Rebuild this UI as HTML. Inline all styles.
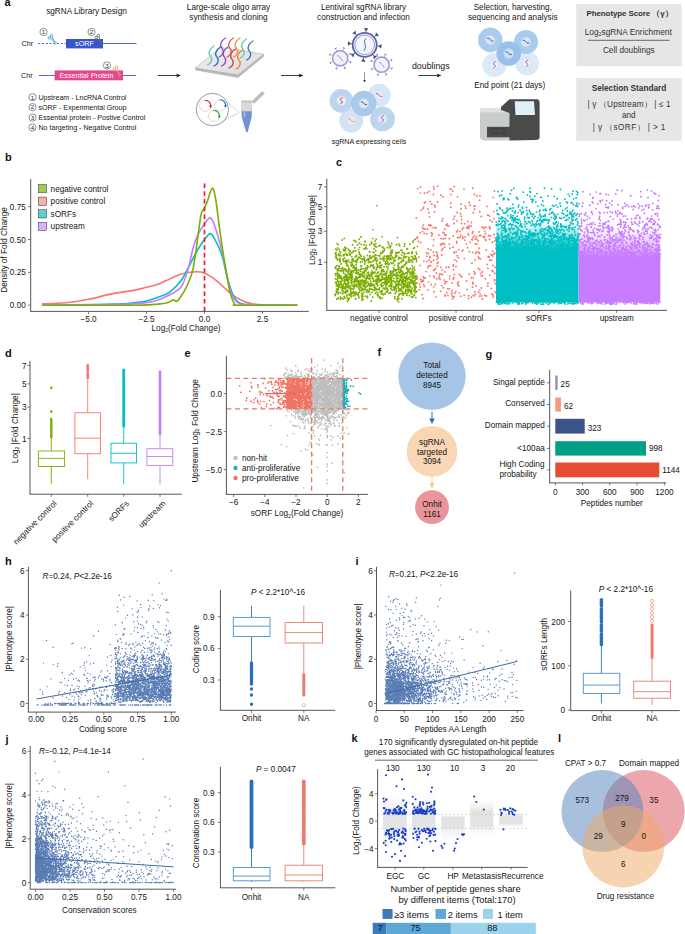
<!DOCTYPE html>
<html><head><meta charset="utf-8"><style>
html,body{margin:0;padding:0;background:#fff;width:685px;height:934px;overflow:hidden}
svg{display:block}
text{font-family:"Liberation Sans", sans-serif}
</style></head><body>
<svg width="685" height="934" viewBox="0 0 685 934">
<rect width="685" height="934" fill="#fff"/>
<text x="4.5" y="5.8" font-size="11" font-weight="bold" fill="#111">a</text>
<text x="86.5" y="14.0" font-size="8.2" text-anchor="middle" fill="#151515" >sgRNA Library Design</text>
<text x="21.5" y="45.6" font-size="7.2" text-anchor="start" fill="#151515" >Chr</text>
<line x1="38.0" y1="43.5" x2="66.0" y2="43.5" stroke="#3a5bd6" stroke-width="0.9" stroke-dasharray="2.2,1.6"/>
<rect x="66.0" y="39.0" width="37.0" height="9.4" fill="#3a55c9" stroke="none" stroke-width="0.8" />
<text x="84.5" y="46.2" font-size="7.2" text-anchor="middle" fill="#fff" >sORF</text>
<line x1="103.0" y1="43.5" x2="136.5" y2="43.5" stroke="#3a5bd6" stroke-width="0.9" />
<circle cx="43.5" cy="32.0" r="3.60" fill="none" stroke="#333" stroke-width="0.55" />
<text x="43.5" y="34.3" font-size="6.2" text-anchor="middle" fill="#222" >1</text>
<circle cx="91.5" cy="32.0" r="3.60" fill="none" stroke="#333" stroke-width="0.55" />
<text x="91.5" y="34.3" font-size="6.2" text-anchor="middle" fill="#222" >2</text>
<g transform="translate(53,39.5) rotate(-10) scale(1.0)" stroke="#3aa0d0" fill="none" stroke-width="0.8"><circle cx="-3.2" cy="-2.2" r="1.3"/><circle cx="-0.8" cy="-4" r="1.3"/><line x1="-2.2" y1="-1.3" x2="3.5" y2="4.5"/><line x1="-0.2" y1="-2.9" x2="1.2" y2="5.5"/></g>
<g transform="translate(99.5,39.5) rotate(-5) scale(1.0)" stroke="#666" fill="none" stroke-width="0.8"><circle cx="-3.2" cy="-2.2" r="1.3"/><circle cx="-0.8" cy="-4" r="1.3"/><line x1="-2.2" y1="-1.3" x2="3.5" y2="4.5"/><line x1="-0.2" y1="-2.9" x2="1.2" y2="5.5"/></g>
<text x="21.0" y="78.0" font-size="7.2" text-anchor="start" fill="#151515" >Chr</text>
<line x1="39.0" y1="75.5" x2="136.0" y2="75.5" stroke="#3a5bd6" stroke-width="0.9" />
<rect x="54.6" y="70.4" width="68.4" height="9.9" fill="#e2488c" stroke="none" stroke-width="0.8" />
<text x="86.5" y="78.2" font-size="7.2" text-anchor="middle" fill="#fff" >Essential Protein</text>
<circle cx="107.0" cy="65.5" r="3.60" fill="none" stroke="#333" stroke-width="0.55" />
<text x="107.0" y="67.8" font-size="6.2" text-anchor="middle" fill="#222" >3</text>
<g transform="translate(117.5,71) rotate(-5) scale(1.0)" stroke="#f0a070" fill="none" stroke-width="0.8"><circle cx="-3.2" cy="-2.2" r="1.3"/><circle cx="-0.8" cy="-4" r="1.3"/><line x1="-2.2" y1="-1.3" x2="3.5" y2="4.5"/><line x1="-0.2" y1="-2.9" x2="1.2" y2="5.5"/></g>
<circle cx="32.5" cy="97.2" r="3.60" fill="none" stroke="#333" stroke-width="0.55" />
<text x="32.5" y="99.5" font-size="6.2" text-anchor="middle" fill="#222" >1</text>
<text x="38.5" y="99.8" font-size="7.1" text-anchor="start" fill="#151515" >Upstream - LncRNA Control</text>
<circle cx="32.5" cy="107.1" r="3.60" fill="none" stroke="#333" stroke-width="0.55" />
<text x="32.5" y="109.4" font-size="6.2" text-anchor="middle" fill="#222" >2</text>
<text x="38.5" y="109.7" font-size="7.1" text-anchor="start" fill="#151515" >sORF - Experimental Group</text>
<circle cx="32.5" cy="117.6" r="3.60" fill="none" stroke="#333" stroke-width="0.55" />
<text x="32.5" y="119.9" font-size="6.2" text-anchor="middle" fill="#222" >3</text>
<text x="38.5" y="120.2" font-size="7.1" text-anchor="start" fill="#151515" >Essential protein - Postive Control</text>
<circle cx="32.5" cy="127.5" r="3.60" fill="none" stroke="#333" stroke-width="0.55" />
<text x="32.5" y="129.8" font-size="6.2" text-anchor="middle" fill="#222" >4</text>
<text x="38.5" y="130.1" font-size="7.1" text-anchor="start" fill="#151515" >No targeting - Negative Control</text>
<line x1="157.7" y1="75.5" x2="178.0" y2="75.5" stroke="#222" stroke-width="0.9" />
<path d="M181 75.5 L176.2 73.5 L177.2 75.5 L176.2 77.5 Z" fill="#222" stroke="none" stroke-width="0.8" />
<line x1="281.0" y1="75.5" x2="300.5" y2="75.5" stroke="#222" stroke-width="0.9" />
<path d="M303.5 75.5 L298.7 73.5 L299.7 75.5 L298.7 77.5 Z" fill="#222" stroke="none" stroke-width="0.8" />
<line x1="418.5" y1="75.5" x2="438.5" y2="75.5" stroke="#222" stroke-width="0.9" />
<path d="M441.5 75.5 L436.7 73.5 L437.7 75.5 L436.7 77.5 Z" fill="#222" stroke="none" stroke-width="0.8" />
<text x="228.5" y="10.0" font-size="8.2" text-anchor="middle" fill="#151515" >Large-scale oligo array</text>
<text x="228.5" y="19.9" font-size="8.2" text-anchor="middle" fill="#151515" >synthesis and cloning</text>
<text x="363.5" y="10.0" font-size="8.2" text-anchor="middle" fill="#151515" >Lentiviral sgRNA library</text>
<text x="363.5" y="19.9" font-size="8.2" text-anchor="middle" fill="#151515" >construction and infection</text>
<text x="512.8" y="10.2" font-size="8.2" text-anchor="middle" fill="#151515" >Selection, harvesting,</text>
<text x="512.8" y="19.8" font-size="8.2" text-anchor="middle" fill="#151515" >sequencing and analysis</text>
<text x="430.8" y="69.0" font-size="8.8" text-anchor="middle" fill="#151515" >doublings</text>
<text x="509.7" y="87.8" font-size="8.2" text-anchor="middle" fill="#151515" >End point (21 days)</text>
<text x="369.0" y="143.6" font-size="7.1" text-anchor="middle" fill="#151515" >sgRNA expressing cells</text>
<defs><linearGradient id="slg" x1="0" y1="0" x2="1" y2="1"><stop offset="0" stop-color="#f4f4f4"/><stop offset="1" stop-color="#d8d8d8"/></linearGradient></defs>
<path d="M195.5 68 L238 75 L263.6 54.3 L263.6 56.5 L238 77.5 L195.5 70 Z" fill="#bcbcbc" stroke="#999" stroke-width="0.4" />
<path d="M195.5 68 L221 47.4 L263.6 54.3 L238 75 Z" fill="url(#slg)" stroke="#9a9a9a" stroke-width="0.5" />
<path d="M207.5 65 C212.5 63 212.5 58 210.0 55.5 S210.5 48 214.0 46" fill="none" stroke="#6cc6b8" stroke-width="1.3" stroke-linecap="round"/>
<path d="M219 57 C224 55 224 50 221.5 47.5 S222 40 225.5 38" fill="none" stroke="#8a55c8" stroke-width="1.3" stroke-linecap="round"/>
<path d="M227 57 C232 55 232 50 229.5 47.5 S230 40 233.5 38" fill="none" stroke="#e0605a" stroke-width="1.3" stroke-linecap="round"/>
<path d="M233.5 57 C238.5 55 238.5 50 236.0 47.5 S236.5 40 240.0 38" fill="none" stroke="#f0904a" stroke-width="1.3" stroke-linecap="round"/>
<path d="M240 58 C245 56 245 51 242.5 48.5 S243 41 246.5 39" fill="none" stroke="#6cc6b8" stroke-width="1.3" stroke-linecap="round"/>
<path d="M246.5 60 C251.5 58 251.5 53 249.0 50.5 S249.5 43 253.0 41" fill="none" stroke="#3a78c8" stroke-width="1.3" stroke-linecap="round"/>
<path d="M214 66 C219 64 219 59 216.5 56.5 S217 49 220.5 47" fill="none" stroke="#2a6cc0" stroke-width="1.3" stroke-linecap="round"/>
<path d="M221.5 66 C226.5 64 226.5 59 224.0 56.5 S224.5 49 228.0 47" fill="none" stroke="#8a4cc0" stroke-width="1.3" stroke-linecap="round"/>
<path d="M229 68 C234 66 234 61 231.5 58.5 S232 51 235.5 49" fill="none" stroke="#d84040" stroke-width="1.3" stroke-linecap="round"/>
<path d="M236 69 C241 67 241 62 238.5 59.5 S239 52 242.5 50" fill="none" stroke="#f08038" stroke-width="1.3" stroke-linecap="round"/>
<circle cx="212.4" cy="109.5" r="16.20" fill="#fff" stroke="#555" stroke-width="0.6" />
<circle cx="205.2" cy="105.8" r="5.60" fill="#fff" stroke="#999" stroke-width="0.35" />
<path d="M204.7 100.2 A5.6 5.6 0 0 1 210.7 106.6" fill="none" stroke="#d02828" stroke-width="1.1" />
<path d="M208.89999999999998 105.6 L212.2 105.6 L210.6 108.2 Z" fill="#d02828" stroke="none" stroke-width="0.8" />
<circle cx="220.1" cy="105.4" r="5.60" fill="#fff" stroke="#999" stroke-width="0.35" />
<path d="M219.6 99.80000000000001 A5.6 5.6 0 0 1 225.6 106.2" fill="none" stroke="#2a70c0" stroke-width="1.1" />
<path d="M223.79999999999998 105.2 L227.1 105.2 L225.5 107.80000000000001 Z" fill="#2a70c0" stroke="none" stroke-width="0.8" />
<circle cx="213.9" cy="116.0" r="5.60" fill="#fff" stroke="#999" stroke-width="0.35" />
<path d="M213.4 110.4 A5.6 5.6 0 0 1 219.4 116.8" fill="none" stroke="#30a838" stroke-width="1.1" />
<path d="M217.6 115.8 L220.9 115.8 L219.3 118.4 Z" fill="#30a838" stroke="none" stroke-width="0.8" />
<line x1="227.4" y1="102.5" x2="239.5" y2="112.4" stroke="#555" stroke-width="0.45" stroke-dasharray="1.2,1"/>
<line x1="223.9" y1="120.5" x2="239.5" y2="112.4" stroke="#555" stroke-width="0.45" stroke-dasharray="1.2,1"/>
<path d="M252 101.5 L262 91.5 L264.5 93.5 L254 103.5 Z" fill="#bdbdbd" stroke="#9a9a9a" stroke-width="0.3" />
<rect x="241.4" y="100.8" width="10.5" height="10.5" fill="#d9d9d9" stroke="#c0c0c0" stroke-width="0.3" />
<rect x="241.4" y="100.8" width="10.5" height="1.6" fill="#c4c4c4" stroke="none" stroke-width="0.8" />
<path d="M241.4 111.3 L251.9 111.3 L251.6 117.5 L247.6 132.3 L246.2 132.3 L241.8 117.5 Z" fill="#7193cf" stroke="none" stroke-width="0.8" />
<rect x="243.5" y="111.3" width="2.0" height="6.0" fill="#9db5e0" stroke="none" stroke-width="0.8" />
<line x1="365.8" y1="32.4" x2="366.1" y2="28.5" stroke="#34507a" stroke-width="0.8" />
<path d="M364.25 28.30 L368.03 28.63 L365.93 30.85 Z" fill="#34507a" stroke="#34507a" stroke-width="0.5" stroke-linejoin="round"/>
<line x1="374.3" y1="36.9" x2="377.3" y2="34.3" stroke="#34507a" stroke-width="0.8" />
<path d="M376.12 32.84 L378.56 35.75 L375.50 35.84 Z" fill="#34507a" stroke="#34507a" stroke-width="0.5" stroke-linejoin="round"/>
<line x1="377.2" y1="46.0" x2="381.1" y2="46.3" stroke="#34507a" stroke-width="0.8" />
<path d="M381.30 44.45 L380.97 48.23 L378.75 46.13 Z" fill="#34507a" stroke="#34507a" stroke-width="0.5" stroke-linejoin="round"/>
<line x1="372.7" y1="54.5" x2="375.3" y2="57.5" stroke="#34507a" stroke-width="0.8" />
<path d="M376.76 56.32 L373.85 58.76 L373.76 55.70 Z" fill="#34507a" stroke="#34507a" stroke-width="0.5" stroke-linejoin="round"/>
<line x1="363.6" y1="57.4" x2="363.3" y2="61.3" stroke="#34507a" stroke-width="0.8" />
<path d="M365.15 61.50 L361.37 61.17 L363.47 58.95 Z" fill="#34507a" stroke="#34507a" stroke-width="0.5" stroke-linejoin="round"/>
<line x1="355.1" y1="52.9" x2="352.1" y2="55.5" stroke="#34507a" stroke-width="0.8" />
<path d="M353.28 56.96 L350.84 54.05 L353.90 53.96 Z" fill="#34507a" stroke="#34507a" stroke-width="0.5" stroke-linejoin="round"/>
<line x1="352.2" y1="43.8" x2="348.3" y2="43.5" stroke="#34507a" stroke-width="0.8" />
<path d="M348.10 45.35 L348.43 41.57 L350.65 43.67 Z" fill="#34507a" stroke="#34507a" stroke-width="0.5" stroke-linejoin="round"/>
<line x1="356.7" y1="35.3" x2="354.1" y2="32.3" stroke="#34507a" stroke-width="0.8" />
<path d="M352.64 33.48 L355.55 31.04 L355.64 34.10 Z" fill="#34507a" stroke="#34507a" stroke-width="0.5" stroke-linejoin="round"/>
<circle cx="364.7" cy="44.9" r="12.00" fill="#f5f7fc" stroke="#5a64ac" stroke-width="1.8" />
<circle cx="364.7" cy="44.9" r="9.80" fill="none" stroke="#5a64ac" stroke-width="0.6" />
<path d="M366.2 38.4 C361.7 40.9 368.2 45.9 363.7 50.9" fill="none" stroke="#2f6fc0" stroke-width="1.0" />
<line x1="342.9" y1="50.8" x2="344.0" y2="48.0" stroke="#6a78a8" stroke-width="0.5" />
<line x1="343.0" y1="47.6" x2="344.9" y2="48.3" stroke="#4a5a88" stroke-width="0.8" />
<line x1="347.5" y1="54.9" x2="350.2" y2="53.7" stroke="#6a78a8" stroke-width="0.5" />
<line x1="349.7" y1="52.7" x2="350.6" y2="54.6" stroke="#4a5a88" stroke-width="0.8" />
<line x1="347.7" y1="61.0" x2="350.5" y2="62.1" stroke="#6a78a8" stroke-width="0.5" />
<line x1="350.9" y1="61.1" x2="350.2" y2="63.0" stroke="#4a5a88" stroke-width="0.8" />
<line x1="343.6" y1="65.6" x2="344.8" y2="68.3" stroke="#6a78a8" stroke-width="0.5" />
<line x1="345.8" y1="67.8" x2="343.9" y2="68.7" stroke="#4a5a88" stroke-width="0.8" />
<line x1="337.5" y1="65.8" x2="336.4" y2="68.6" stroke="#6a78a8" stroke-width="0.5" />
<line x1="337.4" y1="69.0" x2="335.5" y2="68.3" stroke="#4a5a88" stroke-width="0.8" />
<line x1="332.9" y1="61.7" x2="330.2" y2="62.9" stroke="#6a78a8" stroke-width="0.5" />
<line x1="330.7" y1="63.9" x2="329.8" y2="62.0" stroke="#4a5a88" stroke-width="0.8" />
<line x1="332.7" y1="55.6" x2="329.9" y2="54.5" stroke="#6a78a8" stroke-width="0.5" />
<line x1="329.5" y1="55.5" x2="330.2" y2="53.6" stroke="#4a5a88" stroke-width="0.8" />
<line x1="336.8" y1="51.0" x2="335.6" y2="48.3" stroke="#6a78a8" stroke-width="0.5" />
<line x1="334.6" y1="48.8" x2="336.5" y2="47.9" stroke="#4a5a88" stroke-width="0.8" />
<circle cx="340.2" cy="58.3" r="7.60" fill="#f2f3fa" stroke="#9aa0d0" stroke-width="1.6" />
<path d="M337.2 55.8 C339.2 55.3 340.2 58.3 341.2 58.8 S342.2 60.3 342.7 61.3" fill="none" stroke="#d05a5a" stroke-width="0.8" />
<line x1="384.3" y1="57.2" x2="385.4" y2="54.4" stroke="#6a78a8" stroke-width="0.5" />
<line x1="384.4" y1="54.0" x2="386.3" y2="54.7" stroke="#4a5a88" stroke-width="0.8" />
<line x1="388.9" y1="61.3" x2="391.6" y2="60.1" stroke="#6a78a8" stroke-width="0.5" />
<line x1="391.1" y1="59.1" x2="392.0" y2="61.0" stroke="#4a5a88" stroke-width="0.8" />
<line x1="389.1" y1="67.4" x2="391.9" y2="68.5" stroke="#6a78a8" stroke-width="0.5" />
<line x1="392.3" y1="67.5" x2="391.6" y2="69.4" stroke="#4a5a88" stroke-width="0.8" />
<line x1="385.0" y1="72.0" x2="386.2" y2="74.7" stroke="#6a78a8" stroke-width="0.5" />
<line x1="387.2" y1="74.2" x2="385.3" y2="75.1" stroke="#4a5a88" stroke-width="0.8" />
<line x1="378.9" y1="72.2" x2="377.8" y2="75.0" stroke="#6a78a8" stroke-width="0.5" />
<line x1="378.8" y1="75.4" x2="376.9" y2="74.7" stroke="#4a5a88" stroke-width="0.8" />
<line x1="374.3" y1="68.1" x2="371.6" y2="69.3" stroke="#6a78a8" stroke-width="0.5" />
<line x1="372.1" y1="70.3" x2="371.2" y2="68.4" stroke="#4a5a88" stroke-width="0.8" />
<line x1="374.1" y1="62.0" x2="371.3" y2="60.9" stroke="#6a78a8" stroke-width="0.5" />
<line x1="370.9" y1="61.9" x2="371.6" y2="60.0" stroke="#4a5a88" stroke-width="0.8" />
<line x1="378.2" y1="57.4" x2="377.0" y2="54.7" stroke="#6a78a8" stroke-width="0.5" />
<line x1="376.0" y1="55.2" x2="377.9" y2="54.3" stroke="#4a5a88" stroke-width="0.8" />
<circle cx="381.6" cy="64.7" r="7.60" fill="#f2f3fa" stroke="#9aa0d0" stroke-width="1.6" />
<path d="M378.6 62.2 C380.6 61.7 381.6 64.7 382.6 65.2 S383.6 66.7 384.1 67.7" fill="none" stroke="#50b0a0" stroke-width="0.8" />
<line x1="364.5" y1="72.0" x2="364.5" y2="81.0" stroke="#333" stroke-width="0.5" />
<path d="M364.5 82.5 L363.2 80 L365.8 80 Z" fill="#333" stroke="none" stroke-width="0.8" />
<circle cx="379.2" cy="95.3" r="11.50" fill="#d8e7f5" stroke="none" stroke-width="0.5" />
<circle cx="379.2" cy="95.3" r="4.90" fill="#e4ecf7" stroke="#c4d2e8" stroke-width="0.45" />
<path d="M376.0 93.8 C377.7 92.8 378.7 94.8 379.2 95.3 S380.7 97.3 382.4 96.1" fill="none" stroke="#8a50b8" stroke-width="0.95" />
<circle cx="351.3" cy="120.5" r="12.00" fill="#d3e3f3" stroke="none" stroke-width="0.5" />
<circle cx="351.3" cy="120.5" r="4.90" fill="#e4ecf7" stroke="#c4d2e8" stroke-width="0.45" />
<path d="M348.1 119.0 C349.8 118.0 350.8 120.0 351.3 120.5 S352.8 122.5 354.5 121.3" fill="none" stroke="#e08a40" stroke-width="0.95" />
<circle cx="341.4" cy="100.8" r="11.90" fill="#bcd5ee" stroke="none" stroke-width="0.5" />
<circle cx="341.4" cy="100.8" r="4.90" fill="#e4ecf7" stroke="#c4d2e8" stroke-width="0.45" />
<path d="M342.59999999999997 97.6 C339.4 98.3 340.4 100.3 341.4 100.8 S343.2 102.8 340.4 104.0" fill="none" stroke="#c83a3a" stroke-width="0.95" />
<circle cx="363.9" cy="103.5" r="12.40" fill="#a9c9ea" stroke="#9dbde0" stroke-width="0.5" />
<circle cx="363.9" cy="103.5" r="4.90" fill="#dbe6f4" stroke="#c4d2e8" stroke-width="0.45" />
<path d="M360.7 102.0 C362.4 101.0 363.4 103.0 363.9 103.5 S365.4 105.5 367.09999999999997 104.3" fill="none" stroke="#2a5a9a" stroke-width="0.95" />
<circle cx="382.5" cy="118.9" r="12.40" fill="#bcd5ee" stroke="none" stroke-width="0.5" />
<circle cx="382.5" cy="118.9" r="4.90" fill="#e4e6f5" stroke="#c4d2e8" stroke-width="0.45" />
<path d="M383.7 115.7 C380.5 116.4 381.5 118.4 382.5 118.9 S384.3 120.9 381.5 122.10000000000001" fill="none" stroke="#8a50b8" stroke-width="0.95" />
<circle cx="494.4" cy="65.0" r="12.00" fill="#dce9f6" stroke="none" stroke-width="0.5" />
<circle cx="494.4" cy="65.0" r="4.90" fill="#e9eef8" stroke="#c4d2e8" stroke-width="0.45" />
<path d="M495.59999999999997 61.8 C492.4 62.5 493.4 64.5 494.4 65 S496.2 67 493.4 68.2" fill="none" stroke="#8a50b8" stroke-width="0.95" />
<circle cx="527.0" cy="63.4" r="12.00" fill="#dce9f6" stroke="none" stroke-width="0.5" />
<circle cx="527.0" cy="63.4" r="4.90" fill="#e9eef8" stroke="#c4d2e8" stroke-width="0.45" />
<path d="M528.2 60.199999999999996 C525 60.9 526 62.9 527 63.4 S528.8 65.4 526 66.6" fill="none" stroke="#8a50b8" stroke-width="0.95" />
<circle cx="490.3" cy="39.9" r="12.30" fill="#a9cbee" stroke="none" stroke-width="0.5" />
<circle cx="490.3" cy="39.9" r="4.90" fill="#d6e4f5" stroke="#c4d2e8" stroke-width="0.45" />
<path d="M487.1 38.4 C488.8 37.4 489.8 39.4 490.3 39.9 S491.8 41.9 493.5 40.699999999999996" fill="none" stroke="#2a5a9a" stroke-width="0.95" />
<circle cx="526.0" cy="41.9" r="12.00" fill="#a9cbee" stroke="none" stroke-width="0.5" />
<circle cx="526.0" cy="41.9" r="4.90" fill="#d6e4f5" stroke="#c4d2e8" stroke-width="0.45" />
<path d="M522.8 40.4 C524.5 39.4 525.5 41.4 526 41.9 S527.5 43.9 529.2 42.699999999999996" fill="none" stroke="#2a5a9a" stroke-width="0.95" />
<circle cx="508.7" cy="53.5" r="12.30" fill="#99c0ea" stroke="none" stroke-width="0.5" />
<circle cx="508.7" cy="53.5" r="4.90" fill="#d0e0f3" stroke="#c4d2e8" stroke-width="0.45" />
<path d="M505.5 52.0 C507.2 51.0 508.2 53.0 508.7 53.5 S510.2 55.5 511.9 54.3" fill="none" stroke="#2a5a9a" stroke-width="0.95" />
<path d="M480 110 L483 108.4 L509.4 108.4 L509.4 140.6 L483 140.6 L480 138 Z" fill="#c9cccd" stroke="none" stroke-width="0.8" />
<rect x="480.0" y="108.4" width="29.4" height="4.0" fill="#dfe1e1" stroke="none" stroke-width="0.8" />
<path d="M501 107 L509.4 99.2 L537 99.2 Q539.6 99.5 539.6 103 L539.6 138 Q539 140 536 140 L509.4 140.6 L509.4 113 L501 110 Z" fill="#4a4a4a" stroke="none" stroke-width="0.8" />
<path d="M514.7 101.2 L534 101.2 L535 115 L515.5 115 Z" fill="#dff0f8" stroke="none" stroke-width="0.8" />
<rect x="487.0" y="126.8" width="26.4" height="10.5" fill="#4a4a4a" stroke="none" stroke-width="0.8" />
<rect x="492.0" y="128.5" width="12.0" height="5.0" fill="none" stroke="#333" stroke-width="0.5" />
<rect x="576.2" y="4.2" width="105.4" height="62.1" fill="#e6e6e6" stroke="none" stroke-width="0.8" />
<text x="586.5" y="16.3" font-size="8" font-weight="bold" fill="#333" textLength="86" lengthAdjust="spacing">Phenotype Score （γ）</text>
<text x="628.2" y="34.9" font-size="8.3" text-anchor="middle" fill="#333">Log<tspan font-size="5.5" dy="1">2</tspan><tspan dy="-1">sgRNA Enrichment</tspan></text>
<line x1="588.0" y1="40.3" x2="669.5" y2="40.3" stroke="#444" stroke-width="0.8" />
<text x="628.8" y="52.5" font-size="8.25" text-anchor="middle" fill="#333" >Cell doublings</text>
<rect x="576.2" y="78.0" width="105.4" height="62.7" fill="#e6e6e6" stroke="none" stroke-width="0.8" />
<text x="629.0" y="90.6" font-size="8.25" text-anchor="middle" fill="#333" font-weight="bold" >Selection Standard</text>
<text x="587.6" y="107" font-size="8.2" fill="#333" textLength="83" lengthAdjust="spacing">| γ （Upstream） | ≤ 1</text>
<text x="628.8" y="118.0" font-size="8.2" text-anchor="middle" fill="#333" >and</text>
<text x="592.7" y="129.7" font-size="8.2" fill="#333" textLength="72.7" lengthAdjust="spacing">| γ （sORF） | > 1</text>
<text x="5" y="161" font-size="11" font-weight="bold" fill="#111">b</text>
<line x1="30.7" y1="179.0" x2="30.7" y2="311.4" stroke="#444" stroke-width="0.9" />
<line x1="30.2" y1="311.4" x2="308.8" y2="311.4" stroke="#444" stroke-width="0.9" />
<line x1="28.0" y1="206.7" x2="30.7" y2="206.7" stroke="#444" stroke-width="0.7" />
<text x="25.8" y="209.7" font-size="8.2" text-anchor="end" fill="#151515" >0.75</text>
<line x1="28.0" y1="239.5" x2="30.7" y2="239.5" stroke="#444" stroke-width="0.7" />
<text x="25.8" y="242.5" font-size="8.2" text-anchor="end" fill="#151515" >0.50</text>
<line x1="28.0" y1="272.4" x2="30.7" y2="272.4" stroke="#444" stroke-width="0.7" />
<text x="25.8" y="275.3" font-size="8.2" text-anchor="end" fill="#151515" >0.25</text>
<line x1="28.0" y1="305.2" x2="30.7" y2="305.2" stroke="#444" stroke-width="0.7" />
<text x="25.8" y="308.2" font-size="8.2" text-anchor="end" fill="#151515" >0.00</text>
<line x1="88.5" y1="311.4" x2="88.5" y2="314.0" stroke="#444" stroke-width="0.7" />
<text x="88.5" y="322.2" font-size="8.2" text-anchor="middle" fill="#151515" >−5.0</text>
<line x1="146.5" y1="311.4" x2="146.5" y2="314.0" stroke="#444" stroke-width="0.7" />
<text x="146.5" y="322.2" font-size="8.2" text-anchor="middle" fill="#151515" >−2.5</text>
<line x1="204.5" y1="311.4" x2="204.5" y2="314.0" stroke="#444" stroke-width="0.7" />
<text x="204.5" y="322.2" font-size="8.2" text-anchor="middle" fill="#151515" >0.0</text>
<line x1="262.5" y1="311.4" x2="262.5" y2="314.0" stroke="#444" stroke-width="0.7" />
<text x="262.5" y="322.2" font-size="8.2" text-anchor="middle" fill="#151515" >2.5</text>
<text x="186.0" y="331.1" font-size="8.2" text-anchor="middle" fill="#151515">Log<tspan font-size="5.1" dy="1.2">2</tspan><tspan dy="-1.2">(Fold Change)</tspan></text>
<text transform="translate(6.5,250.0) rotate(-90)" x="0" y="0" font-size="8.2" text-anchor="middle" fill="#151515">Density of Fold Change</text>
<path d="M42.1 303.9C46.0 303.7 57.6 303.6 65.3 302.8C73.0 302.1 80.8 300.8 88.5 299.3C96.2 297.8 104.0 295.4 111.7 293.9C119.4 292.4 129.1 291.2 134.9 290.1C140.7 289.0 142.6 288.3 146.5 287.3C150.4 286.4 154.2 285.6 158.1 284.2C162.0 282.8 165.8 280.6 169.7 278.9C173.6 277.2 177.0 275.2 181.3 274.0C185.6 272.7 191.4 271.9 195.2 271.7C199.1 271.6 201.0 271.6 204.5 273.0C208.0 274.5 212.2 277.3 216.1 280.3C220.0 283.2 223.8 287.6 227.7 290.8C231.6 293.9 235.4 297.1 239.3 299.3C243.2 301.4 247.0 302.7 250.9 303.6C254.8 304.5 254.8 304.5 262.5 304.8C270.2 305.1 291.5 305.1 297.3 305.2" fill="none" stroke="#f8766d" stroke-width="1.6" />
<path d="M42.1 305.2C53.7 305.0 96.2 304.6 111.7 304.1C127.2 303.7 129.1 303.1 134.9 302.6C140.7 302.0 142.6 301.9 146.5 301.0C150.4 300.1 154.2 298.8 158.1 297.3C162.0 295.8 165.8 294.9 169.7 292.1C173.6 289.2 177.8 285.1 181.3 280.3C184.8 275.4 187.9 268.2 190.6 263.2C193.3 258.2 195.2 254.0 197.5 250.1C199.9 246.1 202.4 242.3 204.5 239.5C206.6 236.8 208.6 233.6 210.3 233.6C212.0 233.6 213.0 235.9 214.9 239.5C216.9 243.2 219.8 248.7 221.9 255.3C224.0 261.9 225.8 272.2 227.7 278.9C229.6 285.7 231.6 292.1 233.5 296.0C235.4 299.9 236.4 301.1 239.3 302.6C242.2 304.0 241.2 304.2 250.9 304.7C260.6 305.1 289.6 305.1 297.3 305.2" fill="none" stroke="#00bfc4" stroke-width="1.6" />
<path d="M42.1 305.2C53.7 305.1 96.2 304.9 111.7 304.7C127.2 304.4 129.1 304.0 134.9 303.6C140.7 303.3 142.6 303.2 146.5 302.6C150.4 302.0 154.2 301.3 158.1 299.9C162.0 298.6 165.8 296.9 169.7 294.7C173.6 292.5 178.2 291.2 181.3 286.8C184.4 282.4 186.3 274.8 188.3 268.4C190.2 262.1 191.4 254.2 192.9 248.7C194.4 243.3 195.6 239.8 197.5 235.6C199.5 231.5 202.4 226.7 204.5 223.8C206.6 220.8 208.6 217.4 210.3 217.9C212.0 218.3 213.0 220.8 214.9 226.4C216.9 232.0 219.8 242.6 221.9 251.4C224.0 260.1 226.0 271.5 227.7 278.9C229.4 286.4 230.4 291.9 232.3 296.0C234.3 300.1 236.2 302.1 239.3 303.6C242.4 305.1 241.2 304.7 250.9 304.9C260.6 305.2 289.6 305.2 297.3 305.2" fill="none" stroke="#c77cff" stroke-width="1.6" />
<path d="M42.1 305.2C57.6 305.2 115.6 305.4 134.9 305.2C154.2 305.0 152.7 304.5 158.1 304.1C163.5 303.8 164.9 303.5 167.4 302.8C169.9 302.1 171.6 300.2 173.2 299.9C174.7 299.7 175.3 301.9 176.7 301.3C178.0 300.6 179.6 298.6 181.3 296.0C183.0 293.4 185.2 289.9 187.1 285.5C189.0 281.1 191.2 277.4 192.9 269.7C194.6 262.1 196.2 248.7 197.5 239.5C198.9 230.4 199.9 219.9 201.0 214.6C202.2 209.4 203.5 210.2 204.5 208.0C205.5 205.8 206.0 204.8 207.3 201.5C208.6 198.2 210.8 189.0 212.2 188.3C213.5 187.7 214.2 191.2 215.4 197.5C216.6 203.9 218.1 217.2 219.3 226.4C220.6 235.6 221.8 244.4 223.1 252.7C224.3 261.0 225.8 269.7 227.0 276.3C228.2 282.9 228.8 287.6 230.0 292.1C231.2 296.6 232.6 301.0 234.2 303.2C235.7 305.4 228.8 304.9 239.3 305.2C249.8 305.5 287.6 305.2 297.3 305.2" fill="none" stroke="#7cae00" stroke-width="1.6" />
<line x1="204.5" y1="183.6" x2="204.5" y2="311.0" stroke="#e8202a" stroke-width="1.7" stroke-dasharray="4.5,3.2"/>
<rect x="38.3" y="184.5" width="8.3" height="8.3" fill="#a3c85a" stroke="#333" stroke-width="0.5" />
<text x="50.6" y="191.6" font-size="8.2" text-anchor="start" fill="#151515" >negative control</text>
<rect x="38.3" y="197.1" width="8.3" height="8.3" fill="#f8b0aa" stroke="#333" stroke-width="0.5" />
<text x="50.6" y="204.2" font-size="8.2" text-anchor="start" fill="#151515" >positive control</text>
<rect x="38.3" y="209.7" width="8.3" height="8.3" fill="#5ccfd2" stroke="#333" stroke-width="0.5" />
<text x="50.6" y="216.8" font-size="8.2" text-anchor="start" fill="#151515" >sORFs</text>
<rect x="38.3" y="222.3" width="8.3" height="8.3" fill="#dcb0fc" stroke="#333" stroke-width="0.5" />
<text x="50.6" y="229.4" font-size="8.2" text-anchor="start" fill="#151515" >upstream</text>
<text x="336" y="166" font-size="11" font-weight="bold" fill="#111">c</text>
<line x1="326.8" y1="178.7" x2="326.8" y2="310.4" stroke="#444" stroke-width="0.9" />
<line x1="326.3" y1="310.4" x2="667.0" y2="310.4" stroke="#444" stroke-width="0.9" />
<line x1="324.0" y1="186.9" x2="326.8" y2="186.9" stroke="#444" stroke-width="0.7" />
<text x="322.3" y="189.9" font-size="8.2" text-anchor="end" fill="#151515" >7</text>
<line x1="324.0" y1="206.7" x2="326.8" y2="206.7" stroke="#444" stroke-width="0.7" />
<text x="322.3" y="209.7" font-size="8.2" text-anchor="end" fill="#151515" >5</text>
<line x1="324.0" y1="231.3" x2="326.8" y2="231.3" stroke="#444" stroke-width="0.7" />
<text x="322.3" y="234.3" font-size="8.2" text-anchor="end" fill="#151515" >3</text>
<line x1="324.0" y1="262.3" x2="326.8" y2="262.3" stroke="#444" stroke-width="0.7" />
<text x="322.3" y="265.3" font-size="8.2" text-anchor="end" fill="#151515" >1</text>
<text transform="translate(314.5,230.0) rotate(-90)" font-size="8.2" text-anchor="middle" fill="#151515">Log<tspan font-size="5.1" dy="1.2">2</tspan><tspan dy="-1.2"> |Fold Change|</tspan></text>
<line x1="379.0" y1="310.4" x2="379.0" y2="313.0" stroke="#444" stroke-width="0.7" />
<text x="379.0" y="321.2" font-size="8.2" text-anchor="middle" fill="#151515" >negative control</text>
<line x1="456.0" y1="310.4" x2="456.0" y2="313.0" stroke="#444" stroke-width="0.7" />
<text x="456.0" y="321.2" font-size="8.2" text-anchor="middle" fill="#151515" >positive control</text>
<line x1="538.8" y1="310.4" x2="538.8" y2="313.0" stroke="#444" stroke-width="0.7" />
<text x="538.8" y="321.2" font-size="8.2" text-anchor="middle" fill="#151515" >sORFs</text>
<line x1="616.7" y1="310.4" x2="616.7" y2="313.0" stroke="#444" stroke-width="0.7" />
<text x="616.7" y="321.2" font-size="8.2" text-anchor="middle" fill="#151515" >upstream</text>
<path d="M361.7 284h0M341.1 276.4h0M339.9 261.2h0M370.7 265.2h0M369.9 244.8h0M353.5 295.7h0M382.4 298.1h0M339 249.4h0M347 274.6h0M402 282.3h0M387.5 281.4h0M340.3 270.8h0M390.9 274.8h0M383.1 274.3h0M400.2 272.3h0M382.2 291.7h0M394.9 298.5h0M344.9 287.2h0M347.6 261.3h0M389.9 282h0M406.8 285.3h0M383.8 279h0M403.9 253.2h0M389.5 285.5h0M388.1 258.6h0M358.5 284.5h0M337 269.2h0M344.8 287.6h0M345.8 277.2h0M406.5 278.8h0M380.1 258.6h0M405.9 277.9h0M364.5 260.5h0M347.5 271.8h0M354.3 282.4h0M356.7 278h0M365.4 296.1h0M391.7 283.2h0M390.5 292.8h0M399 258.3h0M367.3 265.9h0M387.1 263.6h0M352.3 275.6h0M339.5 268.4h0M343.5 259.9h0M406.7 268.3h0M355.8 276.4h0M345.2 261.4h0M373.3 264.9h0M343.6 273.1h0M403 259.6h0M413 268.2h0M379.6 280.9h0M415.2 256.8h0M356.6 269.1h0M398.3 287.9h0M362.2 289.1h0M415.8 258.4h0M402.1 271.6h0M377.5 260.3h0M337.5 272.9h0M391.8 252.7h0M411.8 260.5h0M365 271.6h0M351.3 283.3h0M408.8 253.3h0M388.6 264.8h0M389.2 258.1h0M396.6 269.7h0M399.8 288.7h0M414.7 277.5h0M412.6 269.3h0M345.6 293.1h0M401.2 289.6h0M415.4 275.9h0M380.1 258.4h0M414.6 280.9h0M411.6 291.5h0M402.8 272.6h0M359.2 282.4h0M356.4 267.4h0M409.6 279.1h0M382.9 252.2h0M410.3 281h0M378 278.6h0M350.2 288.6h0M349.3 286.2h0M380.7 280.7h0M380.6 266.1h0M381 273.5h0M398.4 281.8h0M397.4 252.6h0M385.3 280.5h0M391.9 281h0M374.3 256.9h0M406.9 248.7h0M381 258.9h0M346.4 278.6h0M341.1 264h0M390 292.7h0M347.8 284.3h0M346.9 260.7h0M353.2 251.8h0M375.1 258.8h0M348.4 280.6h0M362.9 274.9h0M394.3 281.6h0M371.2 275.3h0M386.2 263.4h0M415.8 297.6h0M343.8 261.4h0M398.9 267.3h0M369.7 258.6h0M356.4 293.9h0M381.9 265.1h0M339.9 278.2h0M341.1 255.9h0M400.8 290.8h0M340.6 252.8h0M362.9 294.3h0M357.1 280.9h0M354.7 268.9h0M339.3 274.7h0M360.1 273.9h0M376.1 275.8h0M336.7 258.6h0M395.2 270.1h0M374 244.1h0M402.2 280.1h0M403.5 280.4h0M391.5 250.6h0M403.3 283.6h0M368.3 262.6h0M345.8 286.7h0M356.1 264.8h0M404 256.5h0M358.3 274.1h0M372.8 278.7h0M356.7 260.8h0M380 297.1h0M360.5 255.2h0M366.4 280.3h0M351.6 256.6h0M356.8 277.4h0M338.6 274.4h0M354.2 280.9h0M396.6 285.9h0M407.1 275.2h0M415.8 286.2h0M387.8 290h0M408.2 286.5h0M401.6 280.8h0M376.5 258.4h0M402.8 292.5h0M391.1 271.8h0M337.7 276.2h0M343.8 254.7h0M386.6 284.9h0M375.2 288.6h0M396.4 281.1h0M389.1 286.5h0M355.8 273.1h0M394.9 286.6h0M415 276.9h0M374.4 287.5h0M385.7 264.3h0M347.3 286.7h0M360.1 258.1h0M340.2 284.6h0M391.8 274h0M377.5 279.3h0M344.9 247.2h0M415.2 239.3h0M372.7 297.3h0M372 271h0M412.5 282.2h0M346.8 296h0M346 253.8h0M407.7 271.8h0M408.6 259.8h0M335.5 278.9h0M359.9 275.7h0M361.1 237h0M396.6 244.7h0M411 292.9h0M358.9 277.2h0M416.9 276.2h0M370.2 262.1h0M343.5 249.4h0M411.7 273.1h0M377 276.6h0M413.4 258.5h0M386.8 260.2h0M380.1 262.2h0M395.1 287h0M387.9 262.2h0M411 279.5h0M363.3 286.6h0M415.1 284.2h0M359.8 277.3h0M348.9 270.9h0M409.3 271.4h0M409.3 252.8h0M346.6 265.2h0M363.2 272.1h0M356.3 292.2h0M396.5 277.8h0M378.1 275.5h0M340.3 297.2h0M345.5 283.5h0M405.8 273.3h0M355.5 278.7h0M413.2 259.3h0M337 285.7h0M408.5 282.4h0M335.2 294.3h0M402.7 260.8h0M355.5 268.6h0M377.9 295.2h0M394.2 287.4h0M372.6 261.4h0M399.2 293.9h0M388 267.3h0M355.8 285.4h0M344.4 280.8h0M382.9 271.5h0M384.4 274.3h0M372.9 256.1h0M407.5 271.9h0M355.4 257h0M360.3 280.1h0M390.4 272.8h0M389.8 247.9h0M338 278h0M391 288.5h0M395.7 270.8h0M414.5 289.4h0M354.1 287.3h0M359.3 253.6h0M350.5 277.9h0M389.6 245.6h0M367.4 297.8h0M346.8 263.1h0M367.4 259.5h0M395.1 260.1h0M362.1 294.9h0M396.2 284.4h0M366.2 275.3h0M349 273.6h0M363.9 244.8h0M414.1 276.1h0M402.4 252.4h0M339.2 276.6h0M410.4 276.4h0M408.6 277.7h0M401.6 261.5h0M338.1 293.9h0M356.2 292.8h0M362.9 296.4h0M385.7 285.9h0M361.1 256.3h0M397 255.9h0M412.4 271.9h0M374.1 260.5h0M366.8 278.3h0M375.6 246.7h0M400.9 289.5h0M398.4 275.2h0M361.3 288h0M341.7 287.1h0M355.4 260.8h0M380.4 298.5h0M407.5 248.9h0M342.1 280.2h0M393.3 271.9h0M369.3 284.7h0M396.4 256.4h0M345.1 249.5h0M381.6 286.6h0M351.5 272.3h0M347.7 255h0M361.9 300.2h0M376.7 289h0M388.6 244h0M374 290.2h0M410 274.1h0M345 297.7h0M382.9 251.2h0M406 272.9h0M398.8 244.1h0M384 271.3h0M365.4 270.7h0M356.1 284.1h0M351.8 275.2h0M390.7 274.7h0M351.8 281.4h0M340.4 277.3h0M380.2 265.2h0M348.6 277.7h0M358.4 296.1h0M360.8 276.1h0M369.3 261.6h0M365 286.3h0M351.9 292.9h0M369.9 251.9h0M407.4 268.9h0M336.4 283.8h0M409.6 283.3h0M365.5 268.1h0M358.4 294.2h0M344.1 288.8h0M414.3 267.2h0M412.3 253.4h0M339.6 251.6h0M409.2 289.6h0M348.3 271.5h0M368.3 258.7h0M350.2 277.4h0M377.6 267h0M355.4 292.7h0M338.6 287.2h0M338.3 244.6h0M384.2 283.4h0M360.2 282.3h0M370 278.8h0M371.1 283.2h0M375.2 287.4h0M399 269.7h0M373.9 267.3h0M370.4 278.6h0M376.9 283.7h0M341.9 287.9h0M377 280.3h0M366.1 245.2h0M405.3 257.4h0M401.9 298.7h0M375.4 259.9h0M348.7 294.5h0M340.6 287.2h0M348.2 249.1h0M401.9 280.2h0M410.4 273h0M376.6 261.1h0M350.1 294.9h0M390.8 246.3h0M399.4 281h0M387.3 291.6h0M380.6 292h0M343.8 255.8h0M367.5 273.1h0M416.2 276.2h0M397.7 269.6h0M396 289.4h0M355.9 298.9h0M383.1 274.7h0M335.3 268.3h0M385.6 280.5h0M408.5 271.7h0M388.6 255.9h0M364.2 276.1h0M353.5 282.4h0M351.9 279.5h0M346.2 248.3h0M347.4 283.7h0M406.5 277.5h0M356.8 283.9h0M381.2 283.9h0M371.5 257.4h0M355.5 241.2h0M378.7 272.1h0M340 258.1h0M380.3 245.4h0M351.5 280.4h0M387.7 269.5h0M360.5 262.2h0M407.9 285.9h0M335.7 257.6h0M373.3 278.9h0M353.7 271.9h0M338.4 286.9h0M392.1 257.1h0M357 278.5h0M399.7 273.1h0M387.7 247.6h0M407.2 272.9h0M354.5 295.5h0M396.2 291.9h0M362.1 293.2h0M386.8 284.4h0M415.3 290.2h0M392.3 252.5h0M394.5 274.5h0M352.5 264.3h0M409.7 260.1h0M343.9 250.7h0M346.8 261.6h0M391.9 285.3h0M395.5 282.5h0M364.9 289.4h0M408.1 291.3h0M410 244.2h0M352 260.9h0M404.5 283.6h0M402.7 273.9h0M343.4 287.2h0M352 278.1h0M336.9 273.7h0M393.7 275h0M414.1 290.6h0M385.8 277.8h0M370.9 275.8h0M392.8 271.2h0M405.7 289.4h0M349.1 270.6h0M397.5 237.6h0M375.3 288.5h0M350.3 275.8h0M403.2 295.4h0M358.4 285.4h0M376 283.7h0M341.8 285.3h0M399.6 276.1h0M368 292.4h0M342.2 240h0M352.1 292.9h0M376.2 292.1h0M354.3 281h0M396.9 283.9h0M363.7 268.6h0M404.2 286.7h0M349.1 287.7h0M382.6 279.2h0M407.6 270.2h0M359.9 290.3h0M347.8 272.4h0M361.9 268.9h0M362 297.9h0M394.8 296.8h0M343.5 298.9h0M400.2 278.4h0M351.2 266.1h0M352.1 260.8h0M367.8 285.2h0M376.1 279.2h0M346.8 277.6h0M395.8 252.4h0M382.2 278h0M353.9 291.9h0M398.5 290.7h0M390.8 279h0M360.8 265.6h0M369.5 285.8h0M386.7 278.1h0M372.4 277.7h0M390.4 246.7h0M388.7 277.1h0M375.3 240.9h0M379.6 288h0M412.1 265.8h0M382.2 285.9h0M377.1 289.7h0M377.9 295.7h0M352.4 277.2h0M397.6 299h0M364.3 273.4h0M367.9 278h0M369.6 276h0M356.9 286.7h0M412.1 271.3h0M400.8 271.1h0M345.8 289h0M387.1 281.8h0M353.7 250.8h0M387.5 289.2h0M373.5 281.4h0M345.4 250.9h0M404.8 276.7h0M355.9 270h0M335.4 273.6h0M355.2 279.7h0M370.3 284.3h0M364.8 259.1h0M339.9 259.8h0M399.3 289.8h0M387 258h0M413.1 272.5h0M343.5 271.9h0M398.7 268.5h0M409.2 269.2h0M408.1 288h0M389.9 258.2h0M403.8 285.2h0M378.6 278.5h0M407.4 273h0M354.4 280h0M340 268.1h0M375.4 281.2h0M405.8 290.2h0M373.5 284.4h0M404 278h0M413.8 283.7h0M387.2 283h0M391 250.4h0M415.5 279.8h0M408.6 286h0M386.3 291.1h0M365.2 280.9h0M398.2 278.4h0M369.8 289.6h0M359.2 251.9h0M376.4 280.4h0M415 288.4h0M362.3 274.3h0M383.2 288.1h0M338.5 292.2h0M379.8 274.3h0M335.7 294h0M385 288.3h0M409.6 283.1h0M386.5 282.6h0M390.9 284.5h0M372.7 265.8h0M350 287.8h0M410 276.5h0M402.5 281.8h0M356.3 278.1h0M361.3 283.8h0M411.6 281.9h0M338.4 289h0M382.3 252.7h0M336.4 282.5h0M411.9 253.2h0M368.9 283.9h0M352.6 258.6h0M335.6 266.9h0M414.2 291.4h0M345.7 286h0M355 270h0M339.3 285.8h0M405.2 264.8h0M386.6 279.1h0M411.5 296.9h0M393.9 258.5h0M388.4 264.5h0M360.6 269.1h0M405.6 263.1h0M365.3 278.5h0M390.6 288.6h0M364.9 283.5h0M369.4 288.2h0M412.5 281.9h0M359.1 297.8h0M392.7 250.4h0M384.8 258.8h0M384.4 278.2h0M407.8 285h0M384.4 258.4h0M358.4 273h0M369.8 289.2h0M407.8 289.9h0M401.6 254.9h0M357.6 258.4h0M391.2 250.7h0M342.2 288.6h0M351.6 294.6h0M354.3 284.8h0M373.3 272.7h0M396.6 279.1h0M342.4 287.7h0M354.2 292.7h0M407.6 279.6h0M383.4 270.2h0M350 276.3h0M381.4 280.6h0M347.4 301.3h0M365.8 283.6h0M399.6 282.6h0M363.4 259.3h0M337.9 259.2h0M375 272.9h0M398.9 295.6h0M398 296.9h0M356 270.6h0M350 262.4h0M380.8 252.9h0M412.7 242.3h0M384.1 266.8h0M413.7 281.8h0M387.6 256.4h0M367.4 268.8h0M414.2 247.8h0M338.4 276h0M409 258.9h0M339 285.7h0M388.1 241.9h0M347 295.1h0M390.6 282.5h0M397.2 275.1h0M356.2 279.7h0M349 268h0M390.6 285.9h0M351.2 294.4h0M353.2 259.3h0M407.9 278.8h0M343.1 258.9h0M386.6 275.6h0M402.5 283.4h0M346.9 262.8h0M393.6 268.1h0M406.4 277.8h0M347.9 290.2h0M362.6 280h0M361.2 244.4h0M415.3 292.6h0M389.9 279.6h0M358.6 270.6h0M365 261.7h0M410.9 273.9h0M408.5 286.2h0M359.2 239.2h0M401.2 267.9h0M335.4 254.1h0M350.4 293.5h0M353.1 267.8h0M349.9 285.8h0M351.3 265h0M385 273.4h0M352.1 285.7h0M401.6 270.7h0M340.6 277.7h0M394.2 289h0M362.6 259.2h0M375.5 293.4h0M374.2 248.9h0M350.4 251.1h0M348.6 282.6h0M335.6 278.7h0M377.4 285.9h0M402 250.2h0M393.4 287h0M340.2 260.5h0M375.7 281h0M379.2 297.2h0M353.5 265.9h0M355.7 260.4h0M343.1 270.4h0M336.6 282.1h0M378 265.9h0M406.3 261.9h0M345.3 280.2h0M358.1 277.6h0M346.4 291h0M347.2 286.9h0M348.6 260.2h0M367 290.2h0M378.2 295.2h0M398.8 272.2h0M362.6 298.6h0M401 258.6h0M404.5 280.6h0M413.6 248.5h0M369.7 276.4h0M378.6 278.4h0M376.5 267.8h0M414.5 294.9h0M387 292.1h0M407.6 283.8h0M356.9 273.4h0M379.6 255.7h0M355.7 278.4h0M413 274.5h0M388.2 282.6h0M413.4 273.2h0M373.4 268.3h0M345.3 274.1h0M368.5 272.3h0M342.4 290.2h0M385.1 284h0M351.7 279.1h0M380 279.4h0M360.6 271.4h0M377.1 282.4h0M336.2 291.1h0M354.7 280h0M358.5 249.6h0M398.4 263.6h0M406.5 263.2h0M366.9 286.5h0M344.1 296.5h0M395.6 275.5h0M364 283.1h0M404.7 254h0M395.6 287.3h0M374.1 285.7h0M410 291.5h0M335.6 282.4h0M375.9 254.9h0M369.4 291.6h0M384.9 278.9h0M372.7 274h0M367.2 277h0M361.5 290.6h0M376.1 269.9h0M360.1 282.1h0M382.8 293.9h0M361.7 258.9h0M413.6 278.2h0M409.7 262.1h0M381.4 293.9h0M398.5 301.7h0M377.5 285h0M367.1 282.6h0M363.9 256.5h0M378.2 276.7h0M368 282.1h0M407.2 253.4h0M371.2 301h0M363.3 289.2h0M349.2 298.3h0M402.8 266.3h0M408.4 289.4h0M416.2 252.2h0M348 280.5h0M376.5 269.8h0M386.7 276h0M416.5 261.6h0M368.9 274.5h0M391.7 274.4h0M404.1 284.5h0M351.3 281.6h0M357 281h0M416.8 277.7h0M345.1 287.3h0M343.9 269.3h0M377.9 255.6h0M401.2 258.1h0M398.2 285.9h0M364.1 273.1h0M343.3 255.1h0M363.7 277h0M339.7 255.1h0M413.7 283.2h0M355.6 294.6h0M405.1 292.8h0M401.9 282.8h0M413.7 295.8h0M355.1 286h0M353.3 291.7h0M374.8 272.3h0M349.4 270h0M414.7 281.8h0M344.6 277h0M368.2 267h0M402.8 272.3h0M350.8 272h0M338.1 275.6h0M348 265.3h0M357.3 244.9h0M371.5 258.4h0M348.2 286.1h0M366 247.4h0M413 271.7h0M372.2 285.6h0M356.5 255.1h0M365.3 282.9h0M352.6 244.8h0M377.2 273.3h0M398.3 284.2h0M381.6 277.1h0M342.2 290.6h0M361.5 266.2h0M381.2 280.2h0M359.5 274.7h0M353.7 285.9h0M358.3 293.3h0M398.6 259.2h0M346 260.4h0M390.8 276h0M368.9 285.4h0M355.5 250.8h0M386.6 266.6h0M409.9 285.8h0M338.5 268.9h0M351.4 276.9h0M338.4 283.7h0M349.9 254.9h0M393.8 278.4h0M391.2 255.2h0M403.4 273.8h0M338.7 255.5h0M339.1 266.4h0M399.9 293.6h0M396.5 285.3h0M367.4 289.7h0M358.2 295.6h0M369.9 256.8h0M395.6 255.8h0M372.2 285.4h0M370.2 294.4h0M345.6 261.7h0M392.7 272.9h0M379.9 255.9h0M379.7 263h0M364.5 270.6h0M360.6 285.6h0M390 272.2h0M377.4 294.9h0M363.9 292.1h0M346.8 275.4h0M401.9 287.3h0M349 282.7h0M372.9 289.8h0M344.6 276.2h0M352.1 273.6h0M351.3 278.8h0M344.4 279.4h0M364.9 263.9h0M336.1 257.6h0M342.1 298.5h0M381.3 279.9h0M370.7 281.3h0M335.9 256.1h0M386.5 256.2h0M355.8 267.8h0M337.5 290.2h0M359.4 283.7h0M404.4 246.3h0M399.4 257.5h0M361.9 289.6h0M361.4 281.5h0M365.4 248.2h0M338.6 283.4h0M402.3 293.1h0M412.5 280.2h0M348.1 282.2h0M341.8 269h0M371.5 243.5h0M338.5 270.2h0M394.3 290.2h0M405.2 278.2h0M358.4 280.6h0M369.7 278.5h0M389.7 259.8h0M348.7 278.7h0M381.3 270.4h0M342.2 279.1h0M414.7 259.2h0M414.9 255.7h0M401.6 284.8h0M385 282h0M413.1 284h0M359.7 292.1h0M337.5 284.8h0M371.8 284.3h0M365.6 277.9h0M378.6 277.3h0M344.5 292.4h0M380 291.1h0M355.9 281h0M355.8 281.6h0M353.7 266.5h0M377.2 264.5h0M368.6 278.6h0M405.8 285.9h0M397.1 299.9h0M394.2 289.8h0M367.3 296.6h0M381.3 267.7h0M398.7 272h0M365.7 282.6h0M352.6 285.6h0M370 255.7h0M406.5 293.8h0M406.4 286.8h0M363.1 284.9h0M402.7 276.6h0M395.5 257.2h0M338.8 265.7h0M380.1 266.4h0M410.9 272.7h0M351 290.1h0M382.8 259.4h0M344.2 269.9h0M380.5 285.1h0M366.4 291.7h0M379.2 289h0M412.8 275.7h0M347.5 291.6h0M400.7 269.8h0M402.1 277.2h0M374.1 290.4h0M367.4 255.5h0M341.4 271.2h0M408.3 261.7h0M349.1 279.3h0M382.4 276h0M335.7 275.4h0M336.9 299.3h0M338.9 284.6h0M357.5 280.2h0M356.6 280.9h0M413.5 240.6h0M381.1 291.5h0M398.5 283.6h0M364.9 288.5h0M406.6 256.6h0M360.1 286.6h0M376.8 275.9h0M380.3 263.1h0M362.8 299.5h0M374.6 272.3h0M354.4 267.6h0M335.8 252.8h0M371.6 274.4h0M349 274.3h0M360.4 281.5h0M411.9 294h0M382.9 269.7h0M382.7 250.9h0M398.5 291.4h0M340.7 292.8h0M357.8 259.6h0M348.7 285.6h0M353.1 270.6h0M384.5 256.1h0M351.3 296.8h0M384.4 289h0M406.8 267.7h0M350.6 291.7h0M387.5 247.5h0M361.9 284h0M368.4 275.5h0M339.9 261.9h0M386.4 280h0M384.1 279.2h0M336.3 254.8h0M416 283.1h0M394.4 265.3h0M348 287.5h0M342.6 278.1h0M379.3 281.6h0M389 275.3h0M395.8 285.8h0M397.6 274.6h0M398.4 252.8h0M358 295.2h0M346 279.5h0M388.8 276.3h0M416.1 287.2h0M342.6 267.6h0M340.1 281.6h0M350.1 251.1h0M347.4 286.6h0M410.6 260.3h0M398.8 298.7h0M376 275.7h0M400.7 275.1h0M409.1 286.4h0M340.6 277.5h0M405.9 281.8h0M368.7 260.3h0M386.5 272.6h0M356.7 271.8h0M351.8 283.8h0M359.6 247.6h0M381.8 291.1h0M406.3 287h0M402.5 275.3h0M374.9 246h0M391.1 278.9h0M382.6 247.4h0M407.5 287.9h0M405.8 291.2h0M416.6 259.8h0M344.3 238.4h0M409.8 286.5h0M343.2 284.9h0M342.6 293.8h0M393.8 261h0M337.9 288.4h0M391.6 280.3h0M354.1 266h0M336.8 250.1h0M407.1 279.9h0M346.3 269.7h0M391.3 286.6h0M376.2 276h0M375.8 250.8h0M352.8 259.5h0M395 269.6h0M356.8 261.7h0M376.8 281.6h0M364.9 285.1h0M388.6 281.4h0M391.7 259.4h0M393.9 274.9h0M369.5 251.5h0M366.7 268h0M416.9 282.9h0M411 283h0M366 270.5h0M344.7 258.1h0M409.5 285.3h0M361.7 281.4h0M361 236.8h0M396.2 253.8h0M383.6 248.1h0M386.7 276.8h0M393.5 280.9h0M385.3 275h0M386.6 271.5h0M385.3 293.3h0M373.9 280.8h0M374.2 268h0M411.1 280.8h0M378.3 272.1h0M349.3 252.9h0M387.6 259.6h0M406.2 276.9h0M403.3 267h0M347.8 265.9h0M364.4 280.7h0M372.2 277.3h0M416.8 278.8h0M374.3 287.2h0M347.5 276.4h0M377.8 276.6h0M363 258.9h0M351.6 262.9h0M349.8 273.4h0M361.7 289.9h0M342.7 291h0M351.7 288.4h0M385.7 261.8h0M371.4 285.8h0M359.4 284h0M401.5 277h0M382.5 246.9h0M414.7 276.6h0M389.6 263.9h0M397 280.9h0M375.8 257.7h0M337.3 279.2h0M373 252.1h0M373.9 252.6h0M375.4 289.6h0M390 277.5h0M338.5 281.6h0M398.1 266.7h0M353.3 289.3h0M343.5 287.1h0M381.4 284.9h0M393.4 262.7h0M391.7 282.3h0M416.8 291.5h0M347.1 280.7h0M335.7 249.1h0M356.7 272.7h0M405.5 280.5h0M369.6 274.4h0M406.1 290.9h0M356.2 262.5h0M379.1 279.2h0M375.2 276.4h0M400.8 293.9h0M380.7 274.8h0M378.8 281.8h0M361.7 288.5h0M359 288.7h0M383.6 294.8h0M371.6 242h0M370.7 262.2h0M405.8 282.6h0M349.9 254.7h0M400.7 284.7h0M390.4 271h0M403.8 293.8h0M352.1 265.4h0M399.4 252.1h0M389.1 293.2h0M391.3 262.8h0M392.1 290h0M359.2 282.3h0M361.3 268.5h0M409.8 290.2h0M347.6 298.5h0M367.2 276.8h0M387.6 281.4h0M342.9 286.3h0M370.4 266.5h0M403 294.1h0M416.7 254.1h0M359 287h0M375.8 243.6h0M374.9 255.3h0M379.4 267.8h0M357.4 259h0M353.8 240.5h0M384.2 250.7h0M412.5 262.3h0M362.5 272.4h0M395.9 288.2h0M359.6 281.7h0M343 288.2h0M383.9 260.8h0M377.2 283.9h0M346 276h0M365.9 269h0M349.1 250.4h0M404.1 253.3h0M347.4 291.8h0M344.8 281.1h0M344.8 269h0M379 276.4h0M351.4 270.7h0M345.6 291.5h0M376.2 239.1h0M412.4 288.3h0M381.9 271.7h0M396.6 273h0M337.7 280.7h0M359.1 243.3h0M382.5 282.6h0M399.3 263.2h0M355.3 298.8h0M338.6 285.2h0M401.8 289h0M373 238.6h0M412.1 277.6h0M342.4 286.4h0M390.7 275.7h0M346.7 271.4h0M362.3 261.6h0M400 280.1h0M398.9 257.7h0M387.3 283.4h0M404.4 265.3h0M393.9 268.9h0M414.2 286.8h0M346.2 260.2h0M409.2 289.9h0M400.8 278.4h0M402.7 291.5h0M359.7 254.2h0M412.6 297.3h0M399.6 290.1h0M354.2 279.1h0M354.6 293.3h0M391.3 277.2h0M399.3 284.9h0M412.2 251.9h0M342.3 290h0M363 290h0M400.1 279.9h0M336.5 289.1h0M369.4 279.1h0M362.6 276h0M404.3 274h0M342.4 285.5h0M371.4 288.9h0M345.1 261.5h0M402.5 273.3h0M413.5 271.5h0M408 292.6h0M367.5 296.3h0M376.7 246.9h0M403.1 280.9h0M335.2 295.5h0M372.4 272.6h0M364 281.5h0M405.7 276.7h0M411.2 256.4h0M341.4 278.7h0M413.6 284.3h0M386.9 280.8h0M390.5 253.6h0M365 242h0M403.5 281.7h0M371.8 292.4h0M394.8 260.9h0M361.8 296h0M408.1 282.4h0M382.4 277.2h0M396.3 273.6h0M397.6 281.3h0M369.6 256.1h0M401 276.8h0M414 285.2h0M357.9 282.1h0M402.8 275.8h0M346.6 291.8h0M348.5 269.3h0M360.7 274.2h0M366.5 260.6h0M350.5 295.4h0M351.3 278.5h0M344.1 277.2h0M366.7 248.9h0M351.9 252.8h0M403.7 287.9h0M360.9 287.2h0M373.7 284.6h0M396.8 276.3h0M410.3 273.9h0M386.7 287.7h0M338.6 254.8h0M364.1 248.9h0M355.1 281.4h0M396.9 277.8h0M401.3 274.5h0M387.9 255.9h0M391.8 277.3h0M412.1 275.7h0M367.3 275.9h0M350.4 254.2h0M377.8 292.9h0M346.1 263.5h0M369 290.7h0M389.8 277.5h0M382.1 290.4h0M399.7 245.7h0M390.1 280.2h0M408.7 257.5h0M402.4 291.8h0M345.9 285.5h0M385.3 263.6h0M384.6 249.1h0M352.6 265.3h0M390.5 258.4h0M364.6 264h0M403.8 256.2h0M386.7 273.4h0M340 281.6h0M401.2 289.7h0M344.2 283.5h0M363 281.9h0M353 270.9h0M403.9 281.1h0M337.7 260.2h0M376.5 263.3h0M386.7 282.3h0M367.9 282.4h0M353.7 261.5h0M401 250.3h0M415.9 279.6h0M346.1 284.9h0M393.1 275.7h0M350.7 273.7h0M351.1 280.6h0M371.1 285.5h0M351.3 281.7h0M392.6 257.6h0M412.8 257.2h0M394.1 270.8h0M336.3 257.2h0M386.7 276.1h0M348.6 300h0M360.2 269.5h0M364.3 258.4h0M372.4 266.1h0M347.8 279.4h0M416.2 258.3h0M374.2 244.9h0M344.1 280.4h0M352.3 259.4h0M409.5 295.5h0M415.4 286.4h0M366.6 290.2h0M346.1 271.1h0M383.1 257.5h0M403.1 279.2h0M338.7 254.3h0M341 283.3h0M407.6 283.7h0M352 293.2h0M366.5 282.5h0M345.5 279h0M383.1 285.6h0M371.2 286.2h0M339.6 277.4h0M390.2 272.1h0M388.3 279.4h0M346.8 255.3h0M340.3 299.3h0M353.9 288.2h0M402.6 286.7h0M338.3 298h0M400.9 262.2h0M354.9 247.7h0M390.2 256h0M410.4 268.5h0M336.7 265.9h0M414.8 270h0M401.2 280.5h0M343.9 292.3h0M410.2 290.6h0M380.7 253.7h0M385.9 288.6h0M341.5 281.4h0M359 257.2h0M396.1 289.8h0M401.6 266.9h0M388.4 278.3h0M344.2 254.5h0M364 286.3h0M404.7 244h0M365.3 287.4h0M347.3 298.3h0M398.1 264.1h0M344.5 282.7h0M377.7 277.6h0M385.2 293.7h0M395.1 293.5h0M403.7 260.5h0M390.9 252.4h0M407 295.3h0M371.3 272.6h0M359.8 275.1h0M342.9 298.6h0M388.7 257.8h0M403.7 257.7h0M357.6 277.8h0M336.9 292.2h0M410.5 287.6h0M398.6 258.3h0M378.7 289.6h0M360.9 276.4h0M379.1 246h0M378.6 281.2h0M411.9 293.6h0M391.6 243.5h0M352.6 293.2h0M336.3 285.9h0M416.2 278.5h0M391.4 286.8h0M396.8 272.8h0M337.5 270.9h0M356.4 256h0M383.6 282.7h0M392 263.4h0M340.7 276.3h0M346.8 280h0M414.5 273.4h0M398.1 265.7h0M360 285.1h0M371.6 265.4h0M411.5 289.9h0M337.7 247.9h0M405.1 284.6h0M357.9 270.1h0" stroke="#7cae00" stroke-width="1.90" stroke-linecap="round" fill="none" />
<path d="M377 205.6h0M373 229.6h0M382 236.7h0M337 243.6h0M365 241h0M356 242h0" stroke="#7cae00" stroke-width="1.70" stroke-linecap="round" fill="none" />
<path d="M487.9 215h0M462.7 238.4h0M427.4 229.2h0M446.4 267.2h0M433.7 186.7h0M483.8 228.4h0M444.9 235.2h0M478.6 252.1h0M457.6 196.9h0M479.3 253.2h0M476.8 239.4h0M433.4 252h0M467 289.4h0M420 286.9h0M434.7 205.3h0M425.2 277.7h0M423.5 207.1h0M429.8 257.6h0M425.4 201.9h0M453.3 266.1h0M421.7 280.1h0M460.7 296.2h0M484.2 227.5h0M457.7 237.6h0M484.7 231.1h0M437.1 259.1h0M474.1 205.9h0M441.3 274.1h0M444.7 229.3h0M454.3 186.5h0M467.9 226.8h0M453.4 264.7h0M434.6 269.8h0M467.8 221.4h0M491.2 288.4h0M445.2 238.4h0M434 291.7h0M422.5 227.7h0M450.9 194.4h0M475.5 294.5h0M448 225.9h0M491.4 260.3h0M456.7 261.4h0M494.9 241h0M482.3 299h0M452.3 296.1h0M441.6 250.4h0M469.2 202.5h0M428.9 225h0M464.3 258.6h0M460.7 235.2h0M435.1 228.3h0M427.9 209h0M462.2 229.2h0M434.6 211.8h0M452 290.7h0M468.6 295.8h0M437.4 255.2h0M420.1 232.7h0M417.4 246.4h0M492.9 256.1h0M458.1 284.7h0M467.9 233.6h0M435.4 268.4h0M479.7 296.2h0M431.3 225.5h0M461.3 216.5h0M436.3 252.1h0M457.6 230.4h0M474.9 259.9h0M469.4 225.7h0M453.8 277.5h0M467.5 228.2h0M478.5 256.9h0M492.2 255.3h0M492.4 242.2h0M474.5 274.1h0M477 195.8h0M433.1 227.6h0M426.8 256.1h0M422.2 294.7h0M461.9 277.1h0M450.8 207.2h0M417.4 236.9h0M445.4 281.7h0M482.4 272h0M472 239.5h0M476.9 243.9h0M481.3 287.9h0M485.6 239.7h0M417.2 278.7h0M437.7 186.2h0M429.8 225.3h0M434.3 277.6h0M494.5 191h0M490.3 236h0M442.7 248.7h0M449.2 244.1h0M420.4 193.1h0M423.3 276.6h0M436.9 278.9h0M443.2 238.9h0M489.9 228.8h0M428.2 253.5h0M473 284h0M479.8 211.8h0M431.2 284.5h0M478.9 231.9h0M468.7 235.2h0M431.3 233h0M466.4 244.1h0M449.7 278.6h0M418.5 241.4h0M439.1 276.1h0M464.9 240.1h0M440.7 244.3h0M428.5 282.1h0M481.7 295.9h0M479.2 248.3h0M473.3 212.8h0M423.1 208.6h0M428 289.9h0M452.7 191.3h0M456.3 251.9h0M472.9 282.4h0M424.4 203h0M454.4 274.5h0M433.6 260.3h0M472.6 252.5h0M451.5 294.1h0M465.2 206.1h0M466.6 227.8h0M494 234.5h0M453 247.2h0M421.4 282h0M450.8 203.3h0M423.5 228.8h0M438.9 235h0M424.5 193.2h0M458.3 237.5h0M429.8 256.5h0M442.9 196.7h0M493.3 197.4h0M474.9 291.9h0M453.6 269.7h0M439 278h0M474.4 194.5h0M492.2 221.8h0M442.9 243.9h0M453.3 236h0M483.9 237.8h0M475.2 238.9h0M449.3 288.9h0M461.7 219.6h0M464.2 295.4h0M442 285.6h0M437.1 252.7h0M444.1 233.2h0M434.1 255.4h0M466.5 280.9h0M435.4 284.5h0M494.8 280.9h0M480.6 273.5h0M446.3 234.9h0M458.9 285.7h0M443.4 287.7h0M485.9 227.3h0M475.2 273.3h0M419.8 265.5h0M452.2 282.9h0M478.2 240.8h0M443.1 232.4h0M442 221h0M434.1 189h0M474.9 206.3h0M447.9 295.6h0M440.6 291.2h0M453.4 279.3h0M440.8 267.4h0M424.4 286.4h0M457.2 255.8h0M486 240.4h0M444.8 295.9h0M471.3 226.2h0M418.8 257h0M473 231.8h0M457.6 283.4h0M444.4 280.1h0M479.7 290.4h0M494.9 253.2h0M472.4 239.9h0M440 279.2h0M430.9 262h0M469.1 228.1h0M495.5 283.8h0M430.6 265.8h0M476.4 251.8h0M489.5 226.7h0M455.9 291.6h0M491.9 294h0M460.5 213.8h0M479.9 269.6h0M436.6 256.1h0M456.8 231.8h0M416.5 278.1h0M475.5 243.9h0M457.1 212.5h0M487.9 268.3h0M473.3 277.7h0M472.5 287h0M489.5 227.5h0M451.2 189.1h0M479.4 235.5h0M452.6 298.8h0M442.7 243.1h0M431.8 204h0M465.1 237h0M433.4 194.5h0M441.1 238.6h0M454.1 297h0M454.7 259.9h0M431.7 235.7h0M429.5 216.9h0M492.9 251.2h0M449.8 276.1h0M447.2 224h0M461.5 223.4h0M473.9 271.6h0M489.2 257h0M439.7 274h0M474.4 235.8h0M445.1 283.5h0M462.9 250.2h0M491.1 254.8h0M430.5 225.5h0M479.6 200.2h0M454.1 251.9h0M487.2 264.4h0M489.9 260.3h0M442.4 270.1h0M478.5 252.4h0M446.8 292.6h0M458.8 249.6h0M481.3 216.4h0M417.7 188.6h0M480 196h0M420.6 279.3h0M473.3 295.1h0M459.8 231.6h0M489.5 239.3h0M475.5 253.5h0M423.4 280.8h0M463.5 227.8h0M420.4 187h0M472.3 233.3h0M428.9 212.8h0M469.5 251.7h0M493.8 253.9h0M436.1 297.1h0M495.1 238h0M430.3 201.4h0M474.6 209.3h0M470.1 205.3h0M478.9 258.4h0M486.1 249.9h0M447.5 288.6h0M488.7 235.5h0M429.9 276.1h0M416.4 283.2h0M456.9 221.1h0M448.9 267.2h0M473.9 296h0M492 270.5h0M441.1 244.9h0M487.9 283.3h0M481.3 275.9h0M441.3 244.4h0M464.6 223.7h0M454.9 293.3h0M422.6 281h0M427.9 267.4h0M488.1 256.6h0M490.2 220.2h0M424.2 233.4h0M485.3 278.8h0M436.4 273h0M423.8 278.4h0M433.1 245.6h0M445.5 294.8h0M495.3 267.3h0M480.3 258.8h0M484.7 295.3h0M453.6 219h0M427.5 229h0M494.6 279.8h0M426.4 252.9h0M435.8 227.5h0M454 223.5h0M487 206.4h0M453.3 279h0M443.3 238.7h0M426.9 233.9h0M430.8 249.9h0M429 260.1h0M478.5 292.5h0M433.6 270.4h0M493.2 271.7h0M458.4 257.8h0M423.8 284.6h0M470.2 242.2h0M452.8 296.2h0M489.4 216.1h0M460.1 237.4h0M426.9 261.5h0M437.3 266h0M476.6 237h0M486.4 296h0M494 211.6h0M492.9 265.5h0M441 195h0M425.9 271.6h0M460.8 275.7h0M444.8 271.9h0M459.2 274.6h0M444.6 247.2h0M493.1 297h0M421.1 210.3h0M432.4 233.7h0M482.5 275.6h0M489.7 275.2h0M472.7 188.2h0M449.9 248.2h0M461.2 204.3h0M487.8 286h0M417 238.3h0M482.2 227h0M437.3 263.2h0M441.7 255h0M471.4 222.5h0M494 218.8h0M437.5 202h0M468.6 298.6h0M495 273.4h0M428.8 265.8h0M444.5 243.9h0M427.3 192.6h0M462.8 236.8h0M456 266.5h0M448.8 226.1h0M420.6 242.5h0M476.2 286h0M435.2 207h0M446.8 281.6h0M433.7 286.8h0M452 293.3h0M464 189.1h0M422.5 231.6h0M467.6 247.8h0M456.7 243.1h0M428.3 249h0M488.3 256.7h0M429.2 191.4h0M483.4 236.6h0M465.7 208.3h0M442.7 218.7h0M473 237.4h0M469.2 273.9h0M423.3 225.3h0M433.7 239.7h0M423 298.5h0M442.6 274.6h0M433.7 275.9h0M450.2 189.1h0M459.2 293.1h0M423.9 261.1h0M431.4 261.7h0M480.3 294.1h0M480.8 235.5h0M454.5 216.2h0M471.4 297.2h0M419.6 284.3h0M425 229h0M462.3 250.8h0M471.3 277.7h0M438 257.4h0M416.3 217.9h0M484.7 236.5h0M485.3 233.5h0M446.3 225.3h0M419.4 289.7h0M495.2 292.3h0M478.5 268.5h0M493.1 295.1h0M461 208.8h0M454.4 252.7h0M456.6 241.5h0M438.1 262.3h0M449.3 238.7h0M458.3 282h0M471.9 263.3h0" stroke="#f8766d" stroke-width="1.90" stroke-linecap="round" fill="none" />
<defs><linearGradient id="gcy" x1="0" y1="0" x2="0" y2="1"><stop offset="0" stop-color="#00bfc4" stop-opacity="0"/><stop offset="0.6" stop-color="#00bfc4" stop-opacity="0.55"/><stop offset="1" stop-color="#00bfc4" stop-opacity="1"/></linearGradient><linearGradient id="gpu" x1="0" y1="0" x2="0" y2="1"><stop offset="0" stop-color="#c77cff" stop-opacity="0"/><stop offset="0.6" stop-color="#c77cff" stop-opacity="0.5"/><stop offset="1" stop-color="#c77cff" stop-opacity="1"/></linearGradient></defs>
<rect x="496.0" y="222.0" width="82.6" height="28.0" fill="url(#gcy)" stroke="none" stroke-width="0.8" />
<rect x="496.0" y="249.5" width="82.6" height="53.0" fill="#00bfc4" stroke="none" stroke-width="0.8" />
<path d="M516.6 198h0M538.2 240.6h0M520 239.7h0M554.5 215.9h0M535.9 223.7h0M513.6 238h0M525.6 242.7h0M525.7 221.9h0M556.6 245.4h0M515.3 219.3h0M550.1 227.4h0M548.5 226.3h0M518.5 248.7h0M525.8 249.3h0M575.5 235.1h0M551.4 217.4h0M514.9 241.8h0M505 218.2h0M556.9 236.6h0M526.5 243.7h0M536.2 225.1h0M570 212.2h0M567.7 238.4h0M530.8 242.5h0M576.5 245.9h0M509 243.4h0M572.2 211.7h0M523.4 211.8h0M569.6 238.9h0M511.9 220.4h0M526.9 247.5h0M570.6 238.4h0M528.8 231.9h0M517.1 249.6h0M528.2 240.5h0M496.9 240.7h0M558.9 241.9h0M552.1 230.4h0M511.6 249.6h0M551.7 231.1h0M520.3 245.5h0M566.7 202h0M515.3 232.4h0M543.5 242.2h0M499 242.1h0M549.2 231.6h0M538.1 247.4h0M513.6 242.5h0M530.4 241h0M570.5 247.5h0M577.5 244.5h0M566.8 244.4h0M544.5 240.5h0M499.1 218.2h0M562.9 243.7h0M560.1 237h0M577.5 248.9h0M527.4 244.8h0M547.6 219.9h0M565.6 234.1h0M528 217.8h0M504.6 244h0M558.2 238.4h0M578 248.1h0M534.1 245.2h0M496.2 248h0M503.5 240.8h0M531.7 235.8h0M519.9 225.8h0M538.6 246.3h0M538.2 236.4h0M526.7 210.5h0M513.3 208h0M525.6 241.8h0M546.8 233.4h0M519.5 248.2h0M574.9 240.8h0M505.4 228.6h0M539.9 242.1h0M523.1 212.7h0M524 239.2h0M575 241h0M529.2 246.5h0M550.7 228.1h0M532.9 239.6h0M515.2 218.8h0M533.8 214.3h0M527 223.6h0M498.4 245h0M575.3 227.1h0M551.8 236.3h0M535 245.6h0M510.3 229.3h0M553.3 244h0M549.2 247.1h0M546.6 246.2h0M538.1 242.5h0M541.5 247.1h0M535.9 230.8h0M507.1 242.6h0M552.1 234.2h0M546.9 219.7h0M543.2 245h0M532.6 214.5h0M542.8 222h0M526.1 238.1h0M576.1 215.5h0M549.9 247.7h0M546.5 249.3h0M573.1 224h0M518.1 212.6h0M510.6 214.8h0M539 249.7h0M569.5 238.4h0M564.6 226.7h0M540 210.3h0M512.8 204.2h0M524 249.5h0M523.8 248.6h0M502 230.4h0M506 246.5h0M520.2 243.5h0M572 202.8h0M567.9 238.4h0M561.7 243.4h0M572.5 216.7h0M556.5 244.8h0M503.6 198.2h0M541.6 231h0M567.2 246.9h0M553.8 237.5h0M560.9 237.8h0M512.2 243.4h0M557.5 214.4h0M516.5 226.2h0M528.7 244.9h0M513.9 188.4h0M526.4 235.7h0M537.4 249.5h0M558.2 222.7h0M568.4 241.2h0M513.3 241.5h0M556.5 228.5h0M529.5 235.1h0M508.7 199.8h0M535 235.9h0M561 245.6h0M555.7 241.3h0M563.1 248h0M518.8 229.8h0M535.8 240.5h0M543.8 245.1h0M532.1 250h0M562 244.1h0M564.6 233.9h0M545.7 230.3h0M506.4 220h0M520.1 210.3h0M561 227.3h0M563.3 238.5h0M551.6 188.9h0M511.6 247.9h0M530 235.8h0M508.3 245h0M567.6 240.2h0M508.3 246h0M543.7 245.8h0M535.2 234.6h0M532.3 236h0M565.1 249.7h0M572.8 245.6h0M499.2 220.8h0M543.1 234.6h0M514 219.6h0M521.3 224h0M514.9 233h0M549.5 240.7h0M535.6 248.7h0M549.1 226.5h0M508.7 234h0M556.6 247.9h0M565.3 209.1h0M500.2 244.3h0M502.9 244.2h0M503.1 236.6h0M516.7 242.9h0M534.1 240.7h0M561.1 224.3h0M505.4 244.9h0M496.7 242h0M504.9 226.1h0M560.5 245.3h0M499 221.7h0M530 196.5h0M528.4 242.5h0M502 190.9h0M538.3 238.4h0M532.1 220.7h0M564.6 237.1h0M510.7 239.6h0M569.6 239.5h0M550.6 233.6h0M534.1 232.9h0M516.2 233.7h0M567.4 248.3h0M526.5 207.5h0M576.8 249.7h0M547.8 230h0M565.6 237.3h0M506.8 242.9h0M554.9 223.9h0M512.9 229.4h0M550.2 228.6h0M497.8 238.3h0M522.8 231.8h0M523.8 247.3h0M551.4 243.2h0M561.3 242.7h0M541.1 217h0M505.5 223.7h0M501.6 194.9h0M498.1 224.2h0M526.5 246h0M528.6 236.1h0M530.3 247.4h0M539.2 242.9h0M575.9 240.3h0M532 244.8h0M576 242.2h0M549.4 214.3h0M528.5 221.8h0M519 247.7h0M499.5 238.1h0M568.2 245.5h0M532.4 221.2h0M518.8 246.7h0M538.9 238.9h0M573.5 204.5h0M515.7 233.5h0M530.4 249.3h0M532.7 200.6h0M521 232.4h0M554.7 248.7h0M572.3 247.7h0M520.9 224.8h0M497.6 240.6h0M506.5 237.2h0M497.3 246.7h0M514.4 248.3h0M503.5 245.7h0M538.8 247.1h0M563.8 239.2h0M516.8 244.5h0M565.3 249h0M557.3 247.9h0M574 239.5h0M545.4 210.2h0M504.3 248.7h0M553.3 232.3h0M555.6 243.5h0M537 245.9h0M532.1 243.4h0M544.4 242.9h0M518.7 229.4h0M503.1 217.7h0M536.9 244.8h0M505.5 235.8h0M537.6 224.6h0M526.9 239.4h0M569.7 243.6h0M577 205.4h0M577.8 192.6h0M517.2 216.3h0M546.5 245.4h0M578.4 229.1h0M562.9 233.7h0M502.6 210.2h0M510.5 244h0M546.9 245.7h0M534.2 225h0M503.9 228.4h0M504.6 237.1h0M549.6 226.7h0M499.6 245.8h0M575.3 240.1h0M531.1 240.6h0M553.5 223h0M549.7 239.7h0M543 235.5h0M511.5 190.3h0M575.7 220h0M578 237.5h0M565.3 244.5h0M557.3 224.9h0M573.5 214.2h0M568.6 243.8h0M561 237.1h0M521.8 240.8h0M562 213h0M565.8 227.9h0M510.1 246.6h0M542.9 245.2h0M523.8 247.8h0M508.8 224.8h0M514.5 212.3h0M523.2 212.2h0M521 243.8h0M528.6 249.8h0M532 240.4h0M497 210.5h0M527 250h0M575.3 244.8h0M516.9 249.5h0M504.2 225.3h0M544.1 236h0M516.3 243.2h0M576.1 240.7h0M577.7 206.4h0M506.3 212.3h0M497.7 225.2h0M562.9 226.2h0M541.4 216.5h0M508.8 234.5h0M518 239.8h0M511.8 225.4h0M543.3 219.8h0M547.9 231.7h0M572.1 216.5h0M542.8 242.1h0M572.6 240.7h0M504.4 241.9h0M554.3 196.4h0M549.3 228.3h0M573.4 219.9h0M532.8 237.6h0M558.7 242.4h0M505.1 230.7h0M562.8 244.3h0M552.5 205.4h0M506.5 247.1h0M536.7 241.9h0M574.4 238.2h0M561.5 230h0M510.3 246.2h0M502.3 238h0M497.5 236.9h0M530 188.3h0M530.2 212.1h0M560.4 232.3h0M515.6 242.7h0M536.6 239.9h0M549.3 235.9h0M522.7 231.3h0M578.3 245.5h0M523.7 249.8h0M503.7 248.9h0M530.9 213.8h0M553.6 213.7h0M544.4 232.6h0M497 240.3h0M517.6 230.6h0M501.4 234.4h0M527 236.5h0M529.4 247.8h0M556.4 217.8h0M545.4 247.5h0M545.5 209h0M577.5 221.6h0M499.8 207.8h0M550.9 243.5h0M572 215h0M569.9 244.3h0M543.7 240.5h0M520.4 221.4h0M546.9 241.9h0M540.9 197.3h0M542.8 201h0M542.8 249.4h0M534 233.9h0M556 230.5h0M535.5 229.9h0M540.1 225.6h0M574.2 249.7h0M522.5 208.2h0M500.9 218.8h0M498.6 229.1h0M562.1 244.6h0M527.5 244.9h0M554.2 235h0M546 242.1h0M544.5 188.2h0M560.4 189.4h0M516.4 235.5h0M527.9 241.5h0M562.4 246.2h0M542.1 220.3h0M573.3 249.6h0M518.4 236.4h0M573.3 246.4h0M565.5 239.9h0M541.2 197.4h0M501.3 242h0M508.9 247.1h0M521.1 225.9h0M543.9 247.4h0M562.2 235.8h0M507.8 215.7h0M563.8 245.1h0M573.6 216.7h0M514.9 250h0M567.6 215h0M504.1 220.9h0M559.9 229.9h0M564.8 242.1h0M564.9 199.2h0M521.9 227h0M552.5 212.2h0M542.8 243.6h0M516.8 234.3h0M507.2 210.7h0M569.4 244.5h0M553.6 227.6h0M506.1 219.9h0M559.3 242.7h0M504.1 243.4h0M559.7 237.4h0M563.3 246.5h0M504.8 241.4h0M568.7 246.5h0M502.1 222h0M503.5 228h0M502.9 244.3h0M550.8 208.6h0M529.8 238.1h0M498.6 241.7h0M516 218.9h0M555 219.3h0M539.9 226h0M506.5 240.3h0M520.2 243.4h0M557.1 245.2h0M522.9 243.4h0M567.4 229.7h0M535.7 240.4h0M572.1 193.9h0M533.1 233.3h0M567.2 244.1h0M517.4 247.8h0M537.5 220.7h0M508.9 238.7h0M577.8 236.9h0M527.6 213.4h0M569.7 240.6h0M506.2 229.8h0M557.2 198.7h0M550.5 242.6h0M538.5 243.2h0M532.8 237.4h0M571.3 202.7h0M572.5 237h0M575.7 247h0M572.1 229.6h0M568.1 239.3h0M577.8 249.5h0M566 215.8h0M526.9 214.7h0M513.6 222.1h0M534.7 239.4h0M512.2 217.8h0M556.4 248.1h0M576.8 245h0M527 239.3h0M543.6 205.8h0M574.1 229.9h0M526.2 247.7h0M501.7 235.4h0M544.2 238.1h0M577.2 239.3h0M525 239.2h0M510.2 194h0M544.8 234.3h0M531.2 244.2h0M522.1 236.4h0M532.9 233.4h0M513.1 248.9h0M509.1 241.5h0M560.6 206h0M515.5 219.7h0M532.5 234.6h0M540 249.1h0M501.5 228h0M552.9 240.4h0M571.9 215.7h0M520.9 248.6h0M541.7 228.8h0M514.5 249.1h0M536.2 249.3h0M556.9 230.4h0M519.1 238.2h0M515.2 245.9h0M511 216.2h0M533.4 224.9h0M524.7 217.1h0M545.2 228.8h0M528.4 233.5h0M511.7 227.7h0M540 229.6h0M504.3 241.9h0M515.1 213h0M497.1 238.2h0M567.7 219.5h0M555.4 242.8h0M515.2 225.6h0M520.7 224.3h0M524.9 221.4h0M543.3 216.2h0M577.4 240.5h0M577.5 249.8h0M568.5 249.4h0M541 240.2h0M559.6 242.4h0M513.2 219.3h0M541.5 221.8h0M536.4 249.3h0M559.7 245.1h0M535 250h0M517.4 228.1h0M559.1 229.8h0M532.6 223.6h0M551.2 245.4h0M540.2 231.8h0M556.2 245.6h0M521.7 241.6h0M503.9 241.4h0M556.3 232.8h0M510.3 223.7h0M505.6 222.2h0M508.2 248h0M516.8 235.5h0M518.3 206.9h0M573.5 243.3h0M557.9 226.2h0M542.4 244.1h0M574.4 249.7h0M523.3 242.3h0M512.4 238.7h0M570.2 249.5h0M565 242.6h0M497.1 204h0M518.5 245.2h0M505.6 240.8h0M505.9 246h0M516.7 232.7h0M532.9 242.7h0M539.4 220.2h0M555.8 241.6h0M571.8 218.7h0M542.4 237.1h0M523.2 247.1h0M569.1 231.3h0M504.1 198.1h0M569.3 249.3h0M553.9 244.6h0M540.2 214.1h0M525 236.2h0M551 245.7h0M547.7 238.9h0M577.2 245.8h0M554.7 249.2h0M518.6 247.5h0M508.3 235h0M510.4 218.3h0M504 230.5h0M567.1 247.3h0M514 221h0M534.8 196.2h0M523.9 239.9h0M575.1 241.6h0M575.8 205.7h0M512.5 234.2h0M573.7 247.5h0M566.1 220.2h0M557.9 231.6h0M504.3 247.8h0M560.7 224.3h0M522.2 226.9h0M529.9 222.2h0M499.6 195.8h0M527.8 217.5h0M535 216.5h0M520.9 234.2h0M498.1 236.6h0M502.5 210.8h0M551.9 238.9h0M576.5 191.3h0M575 248.3h0M554.2 224h0M546 249.7h0M572.3 238.5h0M545.1 216.3h0M518.7 249.4h0M572.3 243.7h0M499.4 247.1h0M578.2 223.1h0M513.3 246.8h0M570.2 228.1h0M544.2 247.2h0M530.1 191.4h0M496.3 239.1h0M500.7 247.8h0M574.8 213.2h0M556.4 249.1h0M553.4 236.4h0M536.6 246.9h0M538.3 217.6h0M506.9 208.2h0M530.7 243.8h0M515.8 237.7h0M549.5 233.1h0M569.5 235.7h0M538.3 245.2h0M497.4 242h0M521.9 247.4h0M530.5 249.3h0M572.1 236.8h0M568.6 226.1h0M556.3 221.6h0M520.9 223.9h0M513 233.8h0M545.2 220.1h0M509.9 241.6h0M564.1 217.4h0M576.8 247.5h0M513.4 247.7h0M555.8 222.6h0M549.5 219.8h0M538.6 233.5h0M572.1 229.1h0M550.2 232.2h0M536.8 221.7h0M543.3 247.2h0M531.2 239.1h0M531.7 233.5h0M525.9 240.1h0M531.3 240.7h0M576.3 248.1h0M497.4 224.4h0M528.6 238.1h0M544.9 240.9h0M515.8 249.7h0M568.2 194.1h0M519.6 237.5h0M522.7 248.8h0M569.7 213.8h0M515.9 244.1h0M553.7 218.1h0M534.8 240.2h0M515.3 218h0M567.3 211h0M505.4 232h0M577.4 224.9h0M533.9 246.9h0M501 223.7h0M501.7 216.9h0M551 237.2h0M569.6 196.1h0M546.9 247.9h0M544.6 239.1h0M516.6 197.2h0M556.3 247.4h0M514.9 241.6h0M543.3 242.1h0M532.3 216.4h0M511 224.5h0M523.3 192.2h0M574.6 242.1h0M546.1 247.7h0M529.9 230.5h0M548.7 241.6h0M498.8 247.3h0M542.3 246.2h0M521.3 230.7h0M570.4 235.5h0M517 232.4h0M518.8 219.5h0M508.9 243.9h0M532.2 202.2h0M509.7 245.7h0M506.9 245.2h0M523.4 239.9h0M558.7 239.7h0M535.2 239.9h0M560 203.3h0M531.1 199.2h0M516.7 235.1h0M552.3 240.4h0M518.4 247.1h0M569.1 241.1h0M553.7 237.6h0M539.5 245.4h0M510.6 241.8h0M552.3 234.3h0M496.2 225.2h0M531.8 248.6h0M517.5 245.2h0M564 234h0M523 244.3h0M520.1 243.4h0M524.6 218.7h0M561.1 226h0M569.1 228.8h0M505.4 249.1h0M509.6 244h0M539.6 215.5h0M544.4 238.8h0M516 222h0M524.2 249.1h0M577.1 244.1h0M566 247.5h0M549.9 241.2h0M569.4 242.9h0M504.3 245.6h0M562.6 229.4h0M552.3 243.4h0M518.5 248.2h0M577.3 249.1h0M546.6 241.4h0M511.4 238.5h0M572.9 244.3h0M509.6 230.1h0M550.3 235.7h0M510.8 208.5h0M505.2 246.2h0M516 235.6h0M535.3 233.9h0M556 205.1h0M534.7 249.1h0M564.6 249.6h0M522.3 246.9h0M545.7 219.5h0M506.6 243h0M566.3 226.6h0M505 226.8h0M561.6 239.5h0M508.8 228.5h0M522.4 247.1h0M509.6 239.7h0M506.5 240.3h0M541.5 233.9h0M529.3 217.8h0M503.3 242h0M573.1 210.1h0M572.1 221h0M540.3 219h0M543.3 247.5h0M517.1 247.9h0M568.3 242.2h0M529.7 234.5h0M504.3 225.5h0M561.7 218.2h0M568.8 242.4h0M508 221.3h0M553.3 240.7h0M524.4 246.7h0M564.7 237.7h0M563.1 241.7h0M522.5 235.6h0M557.6 207.1h0M525.2 226.4h0M529.3 210.5h0M558.8 233.8h0M525.9 243.6h0M569.1 217.7h0M521.2 248.2h0M512.1 249.2h0M562.9 234.9h0M541.8 234.5h0M529.9 233.7h0M503.4 199.5h0M504.5 247h0M551.5 229.5h0M562.6 226.4h0M572.9 248.9h0M496.9 244.6h0M560.3 246.7h0M539.9 220.6h0M508.9 235h0M570.4 222.5h0M528.9 237h0M519 219.5h0M552.2 242.7h0M556.4 236.7h0M561.9 241h0M568.8 226.9h0M533.2 233.5h0M562.5 234.9h0M575.3 249.9h0M570.1 225h0M536.4 212.1h0M508.3 241.8h0M555 215.3h0M526.8 229.1h0M499.7 247.4h0M502.3 233.1h0M522.6 243.9h0M533 248.4h0M571.1 213.6h0M542.1 238.2h0M521.5 231.5h0M524.6 224.1h0M564.2 248.4h0M506.2 241.5h0M506.4 239h0M577.4 214h0M575.2 245h0M514.3 249.5h0M518.6 248.8h0M539.6 242.8h0M551.7 233.5h0M545.3 242.9h0M556.7 226.6h0M555 237.3h0M534.3 243.3h0M499.3 237.5h0M546.9 245.9h0M567 207.8h0M566.5 216.1h0M536.3 246.1h0M518.4 223.2h0M577.3 247.6h0M496.5 241.3h0M524.8 231.8h0M505.3 212.9h0M523.9 202.2h0M523.2 242.7h0M510.5 232.2h0M564.2 248.7h0M540.8 223.6h0M577.3 194.8h0M504.6 240.7h0M578.5 234.7h0M575 244.2h0M498.1 191.6h0M517.8 233.6h0M525.8 232.8h0M573.1 191.3h0M568.4 244.1h0M563.8 249.6h0M530.4 192.3h0M517 240.8h0M544.1 244.6h0M554.5 228.9h0M503.9 199.5h0M501.9 226.2h0M524.8 246.9h0M502.4 217.8h0M533.9 218.3h0M576.1 197.8h0M540 243.6h0M538.8 223.8h0M551.3 213h0M529.8 233.6h0M566.1 245.6h0M566.9 249.5h0M540.4 232.9h0M508.1 199h0M532.3 245.9h0M530 232.1h0M531.4 249.9h0M503.6 225h0M506.9 244.1h0M562.7 210.4h0M568.8 246.2h0M496.4 221.9h0M545.5 240.9h0M497.5 238.7h0M515.6 232.3h0M577 245.3h0M502.2 226.3h0M504.9 245h0M532.3 242.2h0M522.1 237.1h0M509.4 239.7h0M553.8 242.2h0M561.8 245.9h0M504.4 230.3h0M533.4 199.9h0M504.7 222.6h0M551.3 240.7h0M506.6 231.1h0M558.6 237.2h0M535 226.9h0M546.3 239h0M511.4 237.5h0M541.4 204.6h0M578.2 233.7h0M523.1 245h0M548.1 223.2h0M516.5 226.6h0M578.5 240.1h0M573.5 238.5h0M549.9 209.7h0M512.8 241.5h0M577.3 248.7h0M521.3 237.1h0M557.5 230.1h0M572.8 227.8h0M496.1 248.5h0M499 238.7h0M498.2 235.1h0M548.3 245.5h0M566.7 239.3h0M575.3 241.1h0M547.2 234.4h0M517.7 219.7h0M496.3 244.3h0M522.5 207.2h0M537.3 249.3h0M520.7 231.2h0M562.8 247.7h0M560.4 240.1h0M539.3 239.1h0M532.2 199.7h0M571.8 223.4h0M553.8 246.9h0M498.9 214.5h0M551.6 230.1h0M521.8 243.8h0M572.1 234.8h0M497.6 241.7h0M524.8 248.6h0M576.8 203.4h0M563.3 249.9h0M530.5 247.6h0M556 216.8h0M561.2 218.6h0M506 249.7h0M503.7 213h0M564.5 235.5h0M515.4 211.1h0M505.9 242.1h0M496.2 239.3h0M559.7 217.7h0M544 220.2h0M572.6 248.3h0M558 244.9h0M522.8 241.6h0M577.7 248.8h0M531.9 247.3h0M578.4 236.3h0M554 235.3h0M559.4 241.8h0M530.1 222.7h0M554 206.3h0M521.5 212.3h0M556.9 233h0M529.7 233.3h0M502.3 248h0M521.7 247.4h0M500 224.8h0M556.4 230.9h0M513 224.4h0M564.2 230.7h0M514.8 233.4h0M528.6 243.7h0M508.3 210h0M548.2 196h0M510.2 243.9h0M538.1 248.8h0M521 234.5h0M535.8 201.9h0M543.7 229.7h0M544.3 219.2h0M526.3 250h0M577 218.6h0M506.5 247.6h0M514.4 228.5h0M506.8 249.6h0M536.8 249.9h0M517.4 240.4h0M513 250h0M517.5 244.4h0M522.8 239.3h0M525.7 242.2h0M497.6 213.7h0M557 236.4h0M496.2 244.7h0M570.4 237.8h0M513 215.7h0M569.6 247.4h0M537.4 233.5h0M505.7 242.3h0M547.1 227.6h0M547.9 230.6h0M527.2 248.6h0M497.3 213.7h0M567.4 202.9h0M502.3 220.7h0M510.2 241.5h0M512.5 210.7h0M563.7 214.2h0M527.5 195h0M517.5 232.9h0M551.6 244.7h0M527.5 247.9h0M561.8 245.9h0M507.2 243.5h0M548.9 229.7h0M539.3 211.6h0M558.2 245.3h0M540.2 246.3h0M516 246.8h0M502.4 241.4h0M569.2 228.6h0M503.2 245.1h0M544.9 234.9h0M498.2 248h0M542.7 231.6h0M502.6 220.4h0M515.9 232.2h0M539.7 241.7h0M574.2 239.9h0M531 234.5h0M565.4 220.6h0M540.5 224.8h0M548.7 221.5h0M513.9 233.2h0M532.3 244.7h0M560.5 245h0M554.6 236.6h0M531.3 225.5h0M555.9 217.8h0M517.8 227.9h0M536.9 193.6h0M532.9 241.2h0M498.1 237.3h0M540 242.6h0M504.7 236.8h0M501.8 246.2h0M532.7 241.4h0M537.3 234.9h0M528.1 247.1h0M497.5 233.6h0M576.1 243.4h0M525.1 242.3h0M557.3 236.4h0M561.7 249.9h0M507 245.4h0M526.5 239.8h0M527.8 238.4h0M543.5 229.5h0M545.1 214.8h0M523.6 249.3h0M575.1 234.7h0M544.1 248.6h0M557.5 240.6h0M549.1 243.3h0M571.8 240.8h0M518.8 205.1h0M514.4 243.7h0M536.2 247.5h0M513.4 218.2h0M502.2 239.3h0M560.7 225.1h0M561.5 247.5h0M569.5 241.2h0M563.3 237.2h0M569.6 237h0M517.3 246.7h0M537 249h0M509.5 208.5h0M543.4 210.2h0M508.5 236.9h0M534.7 247.7h0M517.8 199h0M555.8 235.8h0M546.3 210.6h0M574.8 231.9h0M500.2 208.9h0M509.6 244.5h0M507.3 235.6h0M544.1 237.7h0M534.8 247h0M555.3 234.6h0M521.5 214.1h0M573.6 198.9h0M577.4 248.6h0M528.1 238h0M517.2 222.8h0M570.8 247h0M537.8 206.1h0M533.2 247.8h0M533.7 235.4h0M560.9 245.9h0M519.1 249.8h0M546.5 248h0M558 239h0M572.4 244.9h0M568.5 244.8h0M499.9 248.2h0" stroke="#00bfc4" stroke-width="1.90" stroke-linecap="round" fill="none" />
<path d="M502.3 302.4h0M576.3 302.2h0M555.2 301.1h0M538.6 302.9h0M504.1 303h0M532.8 302.1h0M564.6 303.4h0M505.9 301.4h0M500.3 301.9h0M548.6 304.4h0M576 304h0M506.3 303.8h0M559 302.7h0M578.2 303.1h0M505.8 301.8h0M506.7 303.1h0M547.6 304h0M496.8 301h0M576.3 301.9h0M517.8 304h0M505.2 303.8h0M570.1 303h0M546.3 301h0M546.1 303.1h0M559.7 302.8h0M505.4 301.8h0M549.9 301.3h0M504.8 301.9h0M561.8 302.9h0M525.5 304.4h0M544 301.8h0M542.7 304h0M526.4 302.5h0M543.7 304.5h0M548.7 301.6h0M544.1 302.1h0M535.1 303.5h0M497.7 302.8h0M521.9 303.1h0M563.8 302.6h0M548 302h0M517.1 302.8h0M540 301.8h0M559.2 302.7h0M525.4 301.9h0M565.1 304.2h0M573.5 301.9h0M501.9 303.2h0M498 304h0M552.1 302.2h0M532.5 303.4h0M509.2 302.3h0M561 303.4h0M544.3 301.4h0M513.9 301.9h0M498.6 303.2h0M543.3 304.2h0M541.8 304.2h0M534.7 302.8h0M519.2 302.6h0M573.4 302.7h0M496.2 302.2h0M512.3 303.2h0M538.1 302.7h0M572.6 303.7h0M503.2 301.1h0M553.9 303.1h0M549.9 302.8h0M499 302.6h0M565 303.1h0M499.6 301.4h0M570.7 302.9h0M509.6 303.5h0M572.4 304h0M549.3 303.8h0M503.2 302.6h0M562.9 302.2h0M507.9 304h0M554.2 301h0M501.3 303h0M574.8 303.2h0M568.4 301.4h0M543.6 301.6h0M523.4 301.5h0M534.3 301.2h0M550.2 303.3h0M570.7 303.7h0M502.2 304h0M540.8 304.3h0M536.6 301.3h0M554.2 301.6h0M577.3 302.9h0M570.5 302.7h0M523 303.3h0M554.6 302.6h0M518.8 302.5h0M555 301.8h0M509 302.7h0M550.4 301.2h0M518.4 304.4h0M518.1 303.7h0M521.2 301.3h0M536.2 304h0M560.2 301.2h0M554.1 303.2h0M535.8 303.3h0M539.1 301.6h0M553.4 301.5h0M521.6 304h0M542.9 302.8h0M554.6 302.7h0M527.7 302.9h0M497.8 302.2h0M499.3 304.5h0M571 303.3h0M509.1 304h0M519.4 303.8h0M549.8 303.1h0M557.2 301.9h0M564.9 302.9h0M558.5 303.9h0M517 302.4h0M525.9 301.3h0M568.3 303.4h0M536.5 302.9h0M568.7 301.2h0M525.6 303.4h0M540.2 302.7h0M517.4 301.8h0M551.4 302.2h0M573.4 304.2h0M576.1 302h0M538.5 301.4h0M525.7 301.3h0M537.4 304.3h0M559 302.3h0M518.8 304.3h0M500.4 304h0M566.7 301.2h0M574.6 303.3h0M528.1 302.5h0M546.3 302.8h0M567.7 304.1h0M523 301h0M560.3 303.3h0M550.1 301.3h0M502.3 304.1h0M526.1 302.7h0M576.4 301.7h0M548.5 301.2h0" stroke="#00bfc4" stroke-width="1.60" stroke-linecap="round" fill="none" />
<rect x="578.8" y="228.0" width="81.5" height="30.0" fill="url(#gpu)" stroke="none" stroke-width="0.8" />
<rect x="578.8" y="257.5" width="81.5" height="45.0" fill="#c77cff" stroke="none" stroke-width="0.8" />
<path d="M624.5 225.8h0M591.6 223.8h0M657.7 216h0M643.2 227.7h0M623.4 216.3h0M644.5 234.2h0M633.3 253.3h0M606.4 248.6h0M648.8 221.5h0M602.5 256.5h0M583.8 248.5h0M585.1 247.3h0M610.4 211.7h0M622.2 234.1h0M614.7 243.2h0M656.8 250.2h0M621.6 242.4h0M590.3 254.2h0M620.1 219.5h0M614 256.5h0M655 254.4h0M650.9 256.9h0M631.7 254.2h0M600 244.9h0M640.4 244.3h0M612.9 245.6h0M621.2 250.1h0M656.5 252.9h0M589.6 238.9h0M607.4 227.3h0M582 230.9h0M608.5 195.1h0M603.3 244.4h0M604.7 239.7h0M601.7 231.4h0M612.3 228.4h0M602.6 243.4h0M624.2 227.6h0M632 244.5h0M585.8 255.1h0M590.8 253.1h0M593.7 232h0M606.6 200.7h0M597.9 251.2h0M593.7 254.3h0M634.4 237.3h0M599.3 218.1h0M633.9 244.6h0M628.3 232.3h0M614.7 255.7h0M608.5 246.8h0M630.9 255.8h0M641.9 210.1h0M609.2 246.8h0M620.6 251h0M595.9 254.7h0M634.8 240.9h0M656.7 208.2h0M655.8 214.3h0M580.8 254.7h0M658.3 208.3h0M629 234.8h0M614.4 244.7h0M590.7 238.9h0M601.2 254.9h0M649.7 237.5h0M650.2 249.6h0M625.8 250.2h0M646.5 252.4h0M631.6 238.6h0M605.3 256h0M618.5 240.2h0M645.5 252.5h0M593.9 249.3h0M644.2 251.7h0M630.5 257.2h0M585.5 228.4h0M619.3 255.1h0M617.3 190.3h0M610.7 238.5h0M613.1 241.1h0M582.3 206.5h0M626 247.8h0M602 253h0M654.9 213.9h0M609.6 235.8h0M623.8 252.6h0M581.5 226.1h0M592.1 238h0M580.2 257.5h0M592.2 232.6h0M628.7 232.1h0M621.4 257.7h0M656.9 241.9h0M648.7 257h0M646.9 242.5h0M596.5 245.5h0M584.9 237.1h0M596.7 229h0M593 229.9h0M629.1 228.1h0M656.3 249.6h0M634.5 245.8h0M651.7 216.1h0M641 236h0M600.1 200.8h0M657.8 248.1h0M645.8 230.7h0M647.2 219.1h0M615.8 245.9h0M643.6 232.5h0M622.8 208.3h0M581.4 257.7h0M616.7 255.5h0M647.4 255.8h0M650.7 251.9h0M589.7 224.4h0M634 245.3h0M627.4 238.7h0M656.1 241h0M622.8 243.1h0M612.4 229.9h0M587.9 229.7h0M654.5 223.6h0M623.1 247.5h0M586.8 255.7h0M622.7 207.1h0M649.4 253.1h0M639.9 218.5h0M617.9 211.1h0M594 248.2h0M620.7 226.9h0M615.4 249.4h0M649.5 246.1h0M613 251.9h0M618.2 228.6h0M608.3 232h0M619 257.7h0M657.2 249.8h0M623.3 252.4h0M584 252.5h0M591.3 212.3h0M621 257h0M600.9 240.8h0M593 249.2h0M652.5 243.9h0M597.8 236.2h0M588 240.4h0M631.6 255.8h0M623.5 249.1h0M639.5 235h0M652.9 235.6h0M593.7 253.1h0M636.2 218.1h0M583.9 245.1h0M601.9 242.9h0M649.9 238.3h0M639.5 223.3h0M601.4 234.9h0M609.4 242.6h0M622 231.6h0M592.5 214.3h0M591.9 249h0M648 247h0M656.4 257.1h0M656.7 252.6h0M581.6 223.5h0M592 224.5h0M579.4 254.8h0M607.9 255.9h0M617.2 247.8h0M639 241.7h0M657.5 213.5h0M592.7 198.2h0M651.7 238h0M621.7 253.5h0M605 252h0M594.8 235.1h0M605.2 223h0M625.5 215.9h0M585.9 212.9h0M620.2 234h0M598.2 229.4h0M611.9 227.3h0M626.4 254.4h0M603.3 224.5h0M580.1 234h0M623.3 227.9h0M605.6 242.4h0M617.7 224.8h0M584.7 240.9h0M600 236.6h0M599.9 252.5h0M597.7 203.9h0M608.4 207.1h0M638.7 250.5h0M624 257.8h0M654.8 234.1h0M588 240.4h0M619.2 231.3h0M602.4 200.3h0M629.5 256.2h0M645.5 206.2h0M603.6 228.2h0M648.9 206.7h0M584.5 214.5h0M599 219.1h0M634.8 243h0M652.3 219h0M659.8 237.6h0M638.7 231.4h0M611.4 241.4h0M620.2 252.2h0M600.1 213.3h0M647.8 229.3h0M634.9 240.9h0M625.5 231.6h0M579.4 243.9h0M657.8 252.5h0M616.9 256.1h0M599.6 216.3h0M581.5 219.5h0M643.8 209.4h0M599.8 193.6h0M609.1 243.6h0M656.3 239.1h0M634.3 255.2h0M579.2 250.6h0M587.4 216.3h0M599.2 230.8h0M594.4 228.2h0M604.7 240h0M585 215.1h0M643 237.1h0M635.1 248h0M589.2 248.6h0M639.1 238.1h0M589.8 251.4h0M617.5 257.7h0M582.4 243.7h0M589.7 205.3h0M589.3 224.8h0M643.6 248.9h0M623 235h0M610.4 250.8h0M656.7 249.1h0M613.2 248.9h0M631.9 206.6h0M635 253.2h0M659.5 227.2h0M620.1 212.5h0M587.5 236.1h0M642.8 222h0M633.6 256.4h0M617.8 250.5h0M628.3 245.9h0M616 239.5h0M626.7 205h0M601.8 250.3h0M593.8 255.1h0M648 197.5h0M589.1 247.3h0M652.5 210.1h0M658.5 249.3h0M584.2 251.1h0M619.7 257.6h0M599.5 242.6h0M634.4 254h0M588.8 248.4h0M586.2 254.9h0M587.2 219.4h0M650.5 257h0M644.4 213.5h0M631.9 249.4h0M645.6 256h0M582.6 252h0M653.4 224.3h0M582.6 255.6h0M631.5 254.2h0M633.1 231.2h0M597.7 242.5h0M596.1 208.8h0M630.2 229.8h0M629.5 256.5h0M651 221.7h0M620.8 236.6h0M618.9 224.2h0M622.2 250.2h0M620.9 252.2h0M579.2 240.3h0M649.7 227.5h0M595.8 241h0M626.3 237.2h0M616.3 240.9h0M634.9 206.9h0M620.8 221.2h0M634.2 254.9h0M599.9 249h0M607.7 241.8h0M602.8 226.2h0M609.1 229.1h0M654.2 253.8h0M630.1 246.7h0M650.3 218.9h0M604.9 254.3h0M644.5 245.1h0M607.3 243h0M638.1 204.1h0M653.5 223.1h0M593.1 246.9h0M579.4 252.6h0M606.5 253.3h0M617.6 254.6h0M632 245.3h0M598.9 230.2h0M605.5 257.4h0M647.1 224.3h0M650.4 249.7h0M600.3 229.4h0M590.7 232.6h0M623.5 256.7h0M601.9 244.8h0M658.7 254.2h0M627 256.1h0M658 225h0M645 224.8h0M593.4 251.4h0M582 238.8h0M585.4 253h0M593 197.4h0M643.2 249.9h0M657.9 253.8h0M590.3 246.5h0M644.5 255.5h0M643.1 239.1h0M643.9 248.2h0M582.2 255.5h0M637.7 241h0M641 252.7h0M601.6 252.3h0M648.1 228.9h0M591.4 227h0M582 242.9h0M599.8 223.3h0M637.4 230.4h0M594.9 256.9h0M631 229.5h0M579.6 214.3h0M651.9 247.2h0M621.1 232.7h0M654.2 232.8h0M620.8 222.8h0M618.7 257.2h0M623.4 245.2h0M606.1 246h0M596.8 249h0M639.7 206h0M616 213.2h0M589 240.6h0M639.5 221.5h0M610.4 253.6h0M657.1 235.4h0M632 247.8h0M588 237.7h0M611.8 205h0M632.9 224.2h0M625.2 224.4h0M589.7 237.1h0M627.5 253h0M586.2 228.7h0M638 231.6h0M599.6 242h0M641.4 233.4h0M652.9 255.8h0M642 257.7h0M629.7 239.7h0M584.8 245h0M633.2 209.5h0M585.1 240.9h0M643.6 255h0M651.5 190.9h0M606.7 252.4h0M590.7 252.1h0M612.9 228.5h0M655.2 238.4h0M656.5 244.6h0M632.4 258h0M612.9 257.4h0M589.6 218.3h0M588.1 249.4h0M621.7 240.1h0M581.3 255.2h0M633.9 245.5h0M586.3 242.4h0M609.2 256.8h0M593.5 256.1h0M623.7 221.9h0M587.9 239.4h0M608 228.5h0M628 250.9h0M614.4 240h0M609.7 238.1h0M586.1 244.9h0M659.2 245.8h0M620 224.4h0M645 226h0M609.9 228.1h0M595.1 235h0M580.1 252.9h0M593.1 247.6h0M639 257.5h0M650.2 255.7h0M656.3 235.1h0M647.3 190.1h0M615.3 211.5h0M581.6 221.6h0M631.6 222h0M591 255.9h0M621.4 235.6h0M634.8 253.3h0M625.1 251h0M645.6 231.2h0M614.7 245h0M616.9 254.8h0M584.9 250.1h0M592.9 202.9h0M608.3 208h0M624.7 203.2h0M651.9 228.2h0M615.3 251.3h0M624.8 249h0M646.3 257h0M630.7 248.1h0M613 239.2h0M658.9 247.4h0M656.8 240.1h0M624.7 252.7h0M643.1 242.1h0M640.9 196.8h0M629.6 229.5h0M623.5 254.6h0M616.2 256.5h0M593.5 246.5h0M589.8 244.3h0M583.7 235.6h0M597.4 252.1h0M630.7 195.7h0M579.9 227.9h0M626.2 242h0M613.1 257.7h0M607.5 240.2h0M606.1 248h0M647.7 218.1h0M643.6 241.7h0M619.5 213.5h0M588.4 251.9h0M579.9 241.8h0M615.8 193.9h0M611.9 241.6h0M587.4 224.4h0M621.1 253.6h0M650.3 257h0M594.5 242.4h0M660.1 254.4h0M600.5 220.4h0M606.2 194.5h0M580.3 251.5h0M604 212.8h0M587.1 231.1h0M651.1 218.6h0M582.9 242.2h0M596.6 254.9h0M598.6 226.1h0M625.7 254.6h0M602.1 256.4h0M654.3 224.3h0M617.3 252.4h0M599.5 252.9h0M630 236.3h0M621 222.3h0M622 248.9h0M633.3 256.8h0M618.4 254.4h0M639.7 244.4h0M647.2 231.4h0M657 237.2h0M627.3 219h0M606.3 255.4h0M653.9 256.4h0M654.1 193h0M632.7 235.6h0M639.6 236.3h0M596.9 256h0M639.4 243.6h0M589 238.3h0M600.4 250.7h0M650.2 234.9h0M639.8 217.3h0M614.4 243.6h0M614 247.4h0M642.3 206.2h0M603.1 228.2h0M596.4 257.8h0M634.6 222.1h0M605.7 227.5h0M605 223.7h0M647.6 254.4h0M653.1 244.3h0M601.2 246.6h0M621.9 240h0M602.8 256.5h0M630.2 227.7h0M635.5 245.9h0M648.7 257.6h0M589.3 257.6h0M624 240.2h0M597.3 240.1h0M579.1 257.1h0M657.2 205.9h0M584.5 232.4h0M620.2 239.4h0M647.3 233.4h0M655.5 230.5h0M653.4 255h0M645.8 248.8h0M653.8 220.4h0M657.6 224.2h0M610.7 240.2h0M642.6 256.6h0M622.7 237.8h0M637.3 248h0M628.2 226h0M609.9 230.5h0M652.4 246.9h0M621.7 242.1h0M647.1 250.4h0M602.1 246h0M632 254h0M658.5 241.2h0M638.3 245.2h0M581 246.3h0M625.4 255.7h0M658.7 236.8h0M616.2 257.3h0M598.9 248.1h0M631.7 253.4h0M618.3 250.4h0M624.8 230h0M621 224.7h0M629.6 255.9h0M632.3 242.1h0M640.7 191.6h0M607.5 212.5h0M597.5 232.8h0M579.2 216.2h0M615.2 243.4h0M619.4 246.8h0M597.5 229.7h0M629.9 256.7h0M600.8 193.6h0M601.9 249.7h0M625.9 246.8h0M656 254.7h0M597.1 253.5h0M615 250h0M633.8 206h0M584.6 257.4h0M587.9 249.1h0M589.7 244.4h0M608.4 226.8h0M657.6 244.9h0M631.2 254.6h0M628.6 206.4h0M650.9 254.4h0M592.3 202.3h0M635.6 223.5h0M584.3 234.9h0M580.7 226h0M643.6 248.7h0M579 226.3h0M660.2 234.7h0M608.6 248.4h0M645 247.1h0M596.8 244.6h0M614.9 249.1h0M637.9 242.8h0M648.5 245.7h0M613.2 219.1h0M657.9 224.2h0M636.2 215.9h0M653.7 239.8h0M610.4 257.8h0M621.7 247.5h0M578.8 249.2h0M654.8 257.6h0M608.1 221.3h0M633.7 231.2h0M618.6 255.7h0M646.6 223.6h0M617.7 238.2h0M644.3 241.6h0M617.6 242.1h0M638.8 226.1h0M606.1 222.1h0M609.4 231.1h0M609.6 202.9h0M655.4 221.9h0M609.9 247.6h0M614.1 235.7h0M581.6 239.1h0M654.5 256.4h0M651.4 237.6h0M660.1 227.2h0M637.4 224.4h0M613.1 255h0M648.5 207.7h0M637.6 252.1h0M619.5 240.7h0M608.5 241.9h0M616.1 234.3h0M658.4 200.6h0M593.3 222.6h0M609.9 236.2h0M624.7 225.7h0M603.3 230.8h0M608.9 221.4h0M619 233.3h0M660 250.1h0M579.2 203.8h0M621.6 233.1h0M646.5 204.9h0M610.3 246.1h0M638 215.2h0M608.4 244.9h0M608.7 248h0M612.4 212.8h0M583.7 220.5h0M624.4 233.3h0M603.2 223.3h0M650 246.5h0M619.5 252.1h0M599.2 212.1h0M631.1 243.8h0M631 253.1h0M579.1 247.4h0M625.7 253.1h0M623 248.6h0M600.2 225.7h0M608.2 225.5h0M639.9 246.7h0M581.4 213.6h0M623.7 237.2h0M634.7 238.9h0M652.7 257.8h0M657.7 235h0M612 200.9h0M651.8 236.2h0M579.6 234.6h0M612.4 237.5h0M646.5 254.6h0M647.6 249.1h0M599.3 257.1h0M587.5 250.5h0M621.9 190.5h0M592.8 249.8h0M609.2 233.5h0M607.6 231.4h0M591.1 256.9h0M626 227.1h0M589.7 256.8h0M633.3 256.4h0M654.2 229.8h0M591.9 245.4h0M583.3 255.8h0M607.5 207.6h0M652.9 224.4h0M630.8 236.9h0M620.4 232.4h0M619.3 245.8h0M647 249.4h0M611.9 230.7h0M657.4 247.9h0M614.1 245.7h0M595.9 247.5h0M643.1 253h0M617.7 250h0M625.9 222.4h0M588.2 242h0M594.1 233h0M634 252h0M597.6 249.3h0M605.6 204.4h0M650 220.4h0M610.9 243.3h0M595.2 243.2h0M656.3 255.7h0M610.9 252.8h0M647.7 249.4h0M618.5 256.7h0M635.1 240.7h0M644.1 227.3h0M639.5 250.7h0M599.2 236.1h0M582.8 191.7h0M637.5 241.7h0M608.3 256.1h0M624 222.4h0M588.4 255.5h0M634.7 242.8h0M643.3 245.3h0M658.9 208.5h0M605 239.5h0M626.6 243.6h0M645.5 228.7h0M645.5 251h0M619.9 239.2h0M626.4 257.6h0M645 243.7h0M591.8 211.7h0M624.2 225.6h0M639.1 234.6h0M653.3 256.6h0M606 253.7h0M630.6 252.1h0M581.1 254.5h0M593 239.4h0M615.9 243h0M579.8 240h0M599.5 255.7h0M583.4 254.1h0M611.5 253.6h0M616.6 253.7h0M638.7 207.9h0M605.2 256.2h0M657.5 255.9h0M631.8 224.1h0M618.2 204.8h0M590.8 227.4h0M652.7 203.4h0M648 244.2h0M620.5 212.7h0M609.8 250.9h0M581.4 252.5h0M590.3 194.4h0M604 247.6h0M658.2 229.8h0M614.2 255.3h0M608.6 249.7h0M656.1 244.9h0M658.1 250.4h0M582.7 202.9h0M584.9 220.8h0M627.3 250h0M646.8 244.5h0M659 238.4h0M655.7 194h0M609.5 229.8h0M638.1 232.5h0M580.7 230h0M640.9 252.8h0M586.6 256.3h0M623.1 255.3h0M647.9 245.1h0M659.9 226.2h0M613.7 253.2h0M613.6 235.6h0M649 204.6h0M605.3 257.4h0M633 230.1h0M631.6 219h0M645 234.4h0M645.8 254.8h0M655.9 231.7h0M586.5 253.6h0M631.1 249.2h0M655.2 250.2h0M618.4 241.2h0M655.4 249.3h0M651.5 227.2h0M625.2 206.4h0M639.9 239.1h0M582.4 252h0M631.8 255h0M631.2 247.8h0M610.4 216.5h0M647.3 225h0M615.2 239.6h0M659.1 195.5h0M628.3 256h0M652.3 256.9h0M588.4 232.2h0M594.8 224.4h0M634.8 253.7h0M652.8 232.3h0M658.8 219.2h0M617.4 216.2h0M655.3 229.4h0M585.6 246.8h0M636.2 247.1h0M592.4 243.4h0M590.3 242.6h0M586.9 226.9h0M596.2 192.1h0M587.5 234.1h0M631.2 252.7h0M629.9 238.9h0M629 253.1h0M617.7 214.6h0M629.2 251.3h0M606 207.3h0M583.1 242.4h0M620.6 244.5h0M579 255.3h0M647.4 243.4h0M602.6 243.6h0M583.1 256h0M646.3 223.8h0M594.9 248.8h0M585 248.8h0M621.3 224.5h0M620 212.8h0M660.2 237.9h0M582.3 254.5h0M633.6 254.6h0M652.1 256.7h0M583.3 245.5h0M624 236.2h0M588.5 248.2h0M608.9 225.9h0M642.6 229.5h0M593.5 243.1h0M653.4 253.4h0M607.2 235h0M659.9 257.4h0M635.1 243.2h0M621.9 214h0M586.6 236.1h0M604.6 224.2h0M637 245.1h0M591.2 223.3h0M635.9 238.1h0M639.6 251.3h0M635 218.5h0M600.5 202h0M604.4 237h0M658.1 206.2h0M642.5 246.9h0M616.1 236.8h0M644.4 245.1h0M652.1 252.1h0" stroke="#c77cff" stroke-width="1.90" stroke-linecap="round" fill="none" />
<path d="M621.2 301.5h0M592.7 302h0M582.7 303h0M629.3 302.4h0M643.8 302.9h0M634.5 301.3h0M605.7 301.1h0M591.8 304h0M589.8 303.1h0M609.6 303.4h0M649.8 303.9h0M657.4 304.4h0M611.3 304.5h0M641 302h0M605.6 302.8h0M647.7 301.3h0M651.4 303.3h0M627.1 302.4h0M609.9 302.4h0M637.1 302.5h0M637 304.1h0M585.9 301.1h0M655.5 301.7h0M645.2 302.4h0M597.1 301h0M613.7 303.1h0M583.2 301h0M602.2 304.1h0M639.9 301.9h0M611.7 302.5h0M636.6 302h0M607.7 302.8h0M598.1 302.5h0M639.7 302.8h0M583.4 302.2h0M625.3 301.8h0M610.4 303h0M608.5 301.6h0M650.1 301.2h0M652.7 301.3h0M623.9 302.9h0M612.2 303.2h0M650.8 302.1h0M583.7 301.7h0M650.4 303.1h0M640.3 302.4h0M605.2 303.4h0M625.1 304.2h0M591.9 302.2h0M635.1 304.2h0M616.8 303.8h0M587.7 303.2h0M605.6 303.4h0M603 301.7h0M600.7 303.5h0M636.9 304.2h0M612.5 301.2h0M644.7 301.9h0M637.3 302.7h0M615 301.1h0M597.3 303.6h0M616.3 304.1h0M644.6 302.9h0M658.9 301h0M611.5 302.9h0M583.2 304h0M591 303h0M600.9 302.3h0M616.7 302h0M592.8 303.3h0M629.8 301.3h0M658.1 301.4h0M597 302h0M608.5 302.7h0M652.4 301.4h0M625.6 303.2h0M599.8 302.2h0M615.1 304.1h0M642.1 302.7h0M584.4 302.3h0M645.4 302.5h0M610.6 303.2h0M582.1 303.3h0M634.7 301.4h0M612.8 304h0M600.2 302.9h0M607 302.9h0M610.7 302.2h0M654.2 303.4h0M660.2 302.2h0M616.8 302.3h0M649.5 302.3h0M634.2 301.6h0M623 301.9h0M653.3 302.3h0M656.5 303h0M606.6 302.9h0M654.7 303.4h0M646 303h0M629.2 301.5h0M646.6 303.2h0M631.6 302.1h0M641 302.8h0M604.9 304.5h0M641.7 303.4h0M647.2 303.4h0M610.2 304.3h0M652.6 303.3h0M614.2 302.8h0M582.5 304.1h0M646.5 303.1h0M616.8 303.8h0M580.5 302.4h0M599.2 303.1h0M607.7 303.1h0M651.9 302.4h0M588.2 301h0M646.9 302.6h0M614.8 301.1h0M587.2 301h0M651.8 301.2h0M605 302.7h0M625.5 301.8h0M631.4 303.2h0M659.1 301.3h0M602.9 301.4h0M602.4 301.7h0M581.3 303.8h0M601.2 303.6h0M645.1 303.8h0M580.8 303.1h0M648.2 303.2h0M628 302.5h0M645.8 302.9h0M607.5 302.7h0M617.2 301.7h0M633.6 303.9h0M632.1 301h0M611.8 303.7h0M589.5 302.8h0M634.5 302.9h0M605.7 301.1h0M636.2 301.6h0M627.8 302.8h0M637.7 301.4h0M658.2 303.6h0M649.9 301.6h0M637.5 302.3h0M635.9 303.4h0M612.1 304.3h0" stroke="#c77cff" stroke-width="1.60" stroke-linecap="round" fill="none" />
<text x="5" y="357" font-size="11" font-weight="bold" fill="#111">d</text>
<line x1="30.0" y1="360.8" x2="30.0" y2="494.2" stroke="#444" stroke-width="0.9" />
<line x1="29.5" y1="494.2" x2="181.7" y2="494.2" stroke="#444" stroke-width="0.9" />
<line x1="27.3" y1="365.5" x2="30.0" y2="365.5" stroke="#444" stroke-width="0.7" />
<text x="26.5" y="368.5" font-size="8.2" text-anchor="end" fill="#151515" >7</text>
<line x1="27.3" y1="383.8" x2="30.0" y2="383.8" stroke="#444" stroke-width="0.7" />
<text x="26.5" y="386.8" font-size="8.2" text-anchor="end" fill="#151515" >5</text>
<line x1="27.3" y1="407.1" x2="30.0" y2="407.1" stroke="#444" stroke-width="0.7" />
<text x="26.5" y="410.1" font-size="8.2" text-anchor="end" fill="#151515" >3</text>
<line x1="27.3" y1="438.5" x2="30.0" y2="438.5" stroke="#444" stroke-width="0.7" />
<text x="26.5" y="441.5" font-size="8.2" text-anchor="end" fill="#151515" >1</text>
<text transform="translate(17.5,428.2) rotate(-90)" font-size="8.2" text-anchor="middle" fill="#151515">Log<tspan font-size="5.1" dy="1.2">2</tspan><tspan dy="-1.2"> |Fold Change|</tspan></text>
<line x1="51.3" y1="437.0" x2="51.3" y2="451.0" stroke="#7cae00" stroke-width="0.9" />
<line x1="51.3" y1="466.5" x2="51.3" y2="484.2" stroke="#7cae00" stroke-width="0.9" />
<rect x="38.3" y="451.0" width="26.3" height="15.5" fill="#fff" stroke="#7cae00" stroke-width="0.9" />
<line x1="38.3" y1="458.4" x2="64.6" y2="458.4" stroke="#7cae00" stroke-width="0.9" />
<path d="M51.3 387.7h0M51.3 411.6h0M51.3 419h0M51.3 420.4h0M51.3 421.8h0M51.3 423.2h0M51.3 424.5h0M51.3 425.9h0M51.3 427.3h0M51.3 428.7h0M51.3 430.1h0M51.3 431.5h0M51.3 432.8h0M51.3 434.2h0M51.3 435.6h0M51.3 437h0" stroke="#7cae00" stroke-width="2.60" stroke-linecap="round" fill="none" />
<line x1="87.7" y1="377.4" x2="87.7" y2="412.7" stroke="#f8766d" stroke-width="0.9" />
<line x1="87.7" y1="453.7" x2="87.7" y2="479.3" stroke="#f8766d" stroke-width="0.9" />
<rect x="74.9" y="412.7" width="25.5" height="41.0" fill="#fff" stroke="#f8766d" stroke-width="0.9" />
<line x1="74.9" y1="438.2" x2="100.4" y2="438.2" stroke="#f8766d" stroke-width="0.9" />
<path d="M87.7 365.5h0M87.7 367h0M87.7 368.5h0M87.7 370h0M87.7 373h0M87.7 375.2h0M87.7 377.4h0" stroke="#f8766d" stroke-width="3.00" stroke-linecap="round" fill="none" />
<line x1="123.7" y1="426.0" x2="123.7" y2="443.2" stroke="#00bfc4" stroke-width="0.9" />
<line x1="123.7" y1="462.9" x2="123.7" y2="484.2" stroke="#00bfc4" stroke-width="0.9" />
<rect x="111.0" y="443.2" width="25.5" height="19.7" fill="#fff" stroke="#00bfc4" stroke-width="0.9" />
<line x1="111.0" y1="453.2" x2="136.5" y2="453.2" stroke="#00bfc4" stroke-width="0.9" />
<path d="M123.7 370h0M123.7 370.9h0M123.7 371.9h0M123.7 372.8h0M123.7 373.8h0M123.7 374.7h0M123.7 375.7h0M123.7 376.6h0M123.7 377.6h0M123.7 378.5h0M123.7 379.5h0M123.7 380.4h0M123.7 381.4h0M123.7 382.3h0M123.7 383.3h0M123.7 384.2h0M123.7 385.2h0M123.7 386.1h0M123.7 387.1h0M123.7 388h0M123.7 389h0M123.7 389.9h0M123.7 390.9h0M123.7 391.8h0M123.7 392.8h0M123.7 393.7h0M123.7 394.7h0M123.7 395.6h0M123.7 396.6h0M123.7 397.5h0M123.7 398.5h0M123.7 399.4h0M123.7 400.4h0M123.7 401.3h0M123.7 402.3h0M123.7 403.2h0M123.7 404.2h0M123.7 405.1h0M123.7 406.1h0M123.7 407h0M123.7 408h0M123.7 408.9h0M123.7 409.9h0M123.7 410.8h0M123.7 411.8h0M123.7 412.7h0M123.7 413.7h0M123.7 414.6h0M123.7 415.6h0M123.7 416.5h0M123.7 417.5h0M123.7 418.4h0M123.7 419.4h0M123.7 420.3h0M123.7 421.3h0M123.7 422.2h0M123.7 423.2h0M123.7 424.1h0M123.7 425.1h0M123.7 426h0" stroke="#00bfc4" stroke-width="3.00" stroke-linecap="round" fill="none" />
<line x1="160.0" y1="434.3" x2="160.0" y2="448.7" stroke="#c77cff" stroke-width="0.9" />
<line x1="160.0" y1="465.4" x2="160.0" y2="484.2" stroke="#c77cff" stroke-width="0.9" />
<rect x="147.0" y="448.7" width="25.8" height="16.7" fill="#fff" stroke="#c77cff" stroke-width="0.9" />
<line x1="147.0" y1="456.5" x2="172.8" y2="456.5" stroke="#c77cff" stroke-width="0.9" />
<path d="M160 372h0M160 373.1h0M160 374.1h0M160 375.2h0M160 376.2h0M160 377.3h0M160 378.3h0M160 379.4h0M160 380.4h0M160 381.5h0M160 382.5h0M160 383.6h0M160 384.6h0M160 385.7h0M160 386.7h0M160 387.8h0M160 388.8h0M160 389.9h0M160 390.9h0M160 392h0M160 393h0M160 394.1h0M160 395.1h0M160 396.2h0M160 397.2h0M160 398.3h0M160 399.3h0M160 400.4h0M160 401.4h0M160 402.5h0M160 403.5h0M160 404.6h0M160 405.6h0M160 406.7h0M160 407.7h0M160 408.8h0M160 409.8h0M160 410.9h0M160 411.9h0M160 413h0M160 414h0M160 415.1h0M160 416.1h0M160 417.2h0M160 418.2h0M160 419.3h0M160 420.3h0M160 421.4h0M160 422.4h0M160 423.5h0M160 424.5h0M160 425.6h0M160 426.6h0M160 427.7h0M160 428.7h0M160 429.8h0M160 430.8h0M160 431.9h0M160 432.9h0M160 434h0" stroke="#c77cff" stroke-width="2.80" stroke-linecap="round" fill="none" />
<line x1="51.3" y1="494.2" x2="51.3" y2="496.8" stroke="#444" stroke-width="0.7" />
<text transform="translate(57.3,504.0) rotate(-45)" font-size="8.2" text-anchor="end" fill="#151515">negative control</text>
<line x1="87.7" y1="494.2" x2="87.7" y2="496.8" stroke="#444" stroke-width="0.7" />
<text transform="translate(93.7,504.0) rotate(-45)" font-size="8.2" text-anchor="end" fill="#151515">positive control</text>
<line x1="123.7" y1="494.2" x2="123.7" y2="496.8" stroke="#444" stroke-width="0.7" />
<text transform="translate(129.7,504.0) rotate(-45)" font-size="8.2" text-anchor="end" fill="#151515">sORFs</text>
<line x1="160.0" y1="494.2" x2="160.0" y2="496.8" stroke="#444" stroke-width="0.7" />
<text transform="translate(166.0,504.0) rotate(-45)" font-size="8.2" text-anchor="end" fill="#151515">upstream</text>
<text x="184.5" y="356.5" font-size="11" font-weight="bold" fill="#111">e</text>
<path d="M315.6 423.5h0M337.9 409.1h0M328.6 411.6h0M305 412.4h0M297.7 410.7h0M311.7 409.5h0M321.7 413.9h0M339.2 423h0M317.5 417.6h0M306.1 410.4h0M303.7 411.5h0M306.5 419.6h0M343.6 416.6h0M348.1 434h0M314.6 421.8h0M310.9 418.2h0M303.8 422.9h0M334.3 420.1h0M326.6 432.5h0M299.6 410.9h0M320 410.3h0M335.7 411.5h0M319.1 418.2h0M316.7 414h0M316.7 415.2h0M308.9 411.2h0M347.3 413.3h0M322.2 412.3h0M331.8 416.5h0M314 410.3h0M295 426h0M334.5 425.6h0M328.1 409.3h0M314.2 410.2h0M309.1 413.4h0M305.1 421.1h0M323 414.1h0M338.3 410.3h0M320.8 424.7h0M310.6 422.9h0M305.2 411.1h0M325.4 410.3h0M314.9 417h0M306.6 413.3h0M318.5 423h0M327.7 414.4h0M335.8 410.5h0M342.8 411.4h0M329.3 423.7h0M334.4 409.1h0M338.9 426.4h0M309.5 414.2h0M313.6 411.8h0M321.8 429h0M312.8 426.5h0M348.9 433.8h0M328.7 426.5h0M330.8 412.5h0M319.5 416.3h0M322.3 416.7h0M322 418.7h0M330 410.7h0M325.8 414.2h0M291.6 410.2h0M308.8 409.9h0M314.4 421h0M309 411.6h0M315.3 421.5h0M330.7 417.5h0M312.9 411.3h0M301.3 412.4h0M323.4 418h0M315.4 410h0M318.3 414.1h0M330 417.7h0M333.5 418.5h0M333.8 423.4h0M306.7 410h0M342 417.6h0M296.2 426.2h0M305.1 410.5h0M314.8 415.3h0M313.7 431h0M295.1 416h0M332.1 409h0M314.8 414.3h0M296 411.4h0M313.3 409.1h0M317.8 427.7h0M310.4 417h0M330.6 423.4h0M332.2 411.3h0M324 410.4h0M318.1 417.7h0M310.9 434.2h0M302.3 411h0M336.1 413.1h0M324.4 413.8h0M296.4 412.1h0M337.1 420.4h0M308.9 432.8h0M314.7 411.7h0M316.5 420.7h0M328.1 420.5h0M314.8 417.7h0M324.7 412.9h0M299.9 408.8h0M313 409.3h0M331.3 409.7h0M293.8 411.3h0M295.6 412.5h0M331.3 439.8h0M345.1 409.4h0M335.9 417.9h0M341.5 433h0M315.4 413.1h0M348.6 412h0M311 423.4h0M327.9 413.7h0M314.6 423.3h0M291.3 414.4h0M305.4 414.7h0M325 429.3h0M329.2 411.8h0M339.5 417.1h0M304.1 412.3h0M326.4 426.2h0M319.5 440.3h0M330.5 436.1h0M316.7 414.5h0M298.7 425.7h0M342.1 420h0M317.9 410.8h0M325.9 411.8h0M325.9 412.5h0M336.5 411.2h0M329 408.8h0M310 408.9h0M316.1 416.9h0M318.3 409.1h0M300.3 416.5h0M323.1 411.2h0M339.3 425.4h0M287.4 435.4h0M332.6 416.5h0M317 414.1h0M321.3 411.3h0M311.1 414.7h0M307.6 408.8h0M297.5 409.8h0M338 416h0M297.6 412.7h0M303.7 418h0M308.3 412.9h0M306.1 420.1h0M301 419.9h0M302.7 413.1h0M334.2 411.4h0M333.8 410.6h0M329.9 412.1h0M315.4 414.1h0M332.3 445.1h0M301.9 413.9h0M316.5 416.6h0M326.1 415.9h0M303.7 413.1h0M323.2 409.7h0M328.3 412.1h0M333.5 417.2h0M323.1 410h0M320 418.5h0M304 414.4h0M325.2 410.1h0M299 416.7h0M317.3 413.4h0M342.6 411.3h0M328 411.7h0M323.5 414h0M317.5 414.4h0M309 445h0M297.2 412.6h0M327.8 408.8h0M324.4 411.9h0M297.7 409.8h0M299 411.9h0M333.7 413.8h0M307.4 409.5h0M328.6 418.3h0M322.8 409.4h0M293.5 408.8h0M319 412.1h0M302.9 421.9h0M329.4 420h0M307.7 418.5h0M324.5 414.9h0M335 417.5h0M312 419.6h0M303.2 419.6h0M321.2 417.8h0M331.4 415.5h0M319.3 445.1h0M326.4 412.4h0M303 410.7h0M306.6 414.4h0M326.9 411.7h0M301.2 409.9h0M321.6 419.4h0M317.1 411.6h0M310.4 409.2h0M298.7 414h0M323.1 417.6h0M316.1 409.3h0M316.8 415.8h0M339 414.6h0M309.4 411.8h0M333.1 423.1h0M334.3 413.7h0M329.1 420.9h0M325.2 423.4h0M295.6 413.7h0M336.6 409h0M327.7 420.9h0M347.7 409.7h0M316.2 415.3h0M333.1 409.1h0M334.6 411.8h0M311.2 409.1h0M290 421.3h0M305.3 428.1h0M334 409.4h0M304.6 412.5h0M306.7 411.2h0M312.2 409.5h0M333.2 412.3h0M303.8 415.1h0M324.8 418.6h0M313.8 411.4h0M340.2 438h0M305.2 413.6h0M307 413.1h0M318.8 439.1h0M310.9 415.4h0M303 414.4h0M293.5 433.6h0M322.8 413.2h0M308.4 420.4h0M324.9 410.9h0M328.7 409.9h0M292.9 415.7h0M318.9 414.6h0M298 416.1h0M326.7 413h0M326.9 413.2h0M313.8 411.5h0M310.6 429.3h0M325.9 423.7h0M287.5 410.9h0M292.9 425h0M321.4 411.4h0M300.8 408.9h0M321.5 411.6h0M318.3 414.7h0M298.6 417.2h0M306.7 409.7h0M317.2 422.2h0M321.5 423.3h0M304.6 426.2h0M310.2 442.3h0M295.6 409.2h0M333.8 423.7h0M313.9 422h0M334.6 409.7h0M330.2 421.8h0M312.2 411.9h0M331 425.2h0M311.9 422.2h0M310.3 410.8h0M325.5 423.1h0M301.3 418.3h0M341 415h0M317.4 417.6h0M308.9 412.4h0M314.7 424.6h0M334.5 420.3h0M286.3 415.7h0M302.1 419.1h0M332.9 437.1h0M319.2 412h0M305.6 409.3h0M322.2 413.8h0M304.8 409.3h0M289.4 412h0M320.3 422.2h0M320.6 417.8h0M298.8 411.6h0M310.9 442.5h0M302.8 416h0M300.8 418.5h0M343.6 412.9h0M314.6 410.9h0M312.9 430.1h0M294.8 411.2h0M325.2 415.1h0M321.4 417.8h0M344.6 413.7h0M312.2 411.1h0M325.8 420.4h0M316.9 413.6h0M325.5 414.8h0M333.2 413.9h0M318.4 444.1h0M316.6 413.8h0M304.1 411.3h0M328.5 418.9h0M332.4 409.9h0M310.8 417.9h0M320.7 413h0M307 413.9h0M298.2 413.6h0M327.9 418.4h0M324 425h0M344.1 433.1h0M348.8 413.3h0M295.2 417.9h0M312.2 419.2h0M314.7 421.9h0M300.2 427.7h0M330.9 416.8h0M329.6 413h0M293.8 425.8h0M314.1 424.6h0M303.5 414.3h0M338 435.9h0M318.9 419.8h0M306.3 415.1h0M326.3 444.6h0M326.1 427.8h0M308.3 422.8h0M335 426.1h0M346.3 415.7h0M299.7 411.4h0M320.6 435.3h0M310.9 413.2h0M316.4 410.9h0M312.9 454.9h0M316.2 443.8h0M321.6 419.9h0M342 423h0M313.5 417h0M328.2 416.1h0M329.7 419.7h0M347.3 427.5h0M326.7 412.7h0M296.1 478.5h0M345 417.9h0M305.4 449.2h0M315.4 419.6h0M314.8 436.1h0M281.4 444.5h0M307.4 450.1h0M332 463.2h0M316.1 408.9h0M319.9 424.6h0M311.5 422.1h0M337.8 444.1h0M327.5 414.6h0M318.6 425.9h0M344.6 409.2h0M304.8 416.2h0M286.8 446.6h0M327.7 419.9h0M316 410.3h0M314.6 419.4h0M312.1 409.8h0M311.4 452.6h0M319.9 410.8h0M322.7 410.7h0M313.3 433.2h0M337.8 416.5h0M303.9 428.6h0M316.5 411.4h0M317.6 467.2h0M317.6 414.2h0M308.3 422.2h0M314.5 415.8h0M300.7 451.2h0M298.9 418.7h0M323.3 416.6h0M313.6 377.9h0M327.8 376.9h0M318.9 377.2h0M326.1 375.8h0M301.9 376.1h0M283.8 378h0M337.3 378.1h0M307.1 374.2h0M285.7 368.2h0M295.8 365.9h0M309.2 375h0M319.3 378h0M313.5 373.1h0M330.3 373.4h0M323.9 377.9h0M307.8 375.7h0M285.9 372.9h0M289.6 375.2h0M299.4 377.7h0M340 374.7h0M327 374.9h0M317 370.6h0M287.3 376.6h0M296.5 375h0M306.9 368.8h0M297.3 377.2h0M337.9 373.5h0M309 376.6h0M327 377.8h0M326.3 377.4h0M331.3 378.1h0M337.7 370.9h0M285 377.7h0M337.7 371.9h0M300.8 372.3h0M317.9 377.3h0M324.3 376.4h0M291.9 371.2h0M326.1 377.3h0M308.8 374h0M305.5 377.3h0M314.7 367h0M289.2 377.3h0M312.2 369.3h0M284 374.5h0M291.7 377.5h0M291.6 375.8h0M342.4 365.6h0M305.3 369.7h0M324.4 378.1h0M336.9 377.2h0M341.5 377.9h0M336.9 375.7h0M314.1 377.6h0M312.5 373h0M316.5 373.5h0M337.1 377.9h0M327.2 374.9h0M335.9 376.8h0M311 372h0M298.7 376.6h0M333.7 374.4h0M312.5 378.3h0M328.8 376.4h0M297.6 376.5h0M291.7 371.4h0M330.8 365.6h0M323.5 377.7h0M308.6 378.4h0M303.8 377.8h0M293.6 377.2h0M320.2 378.1h0M334.9 376.3h0M293.8 378h0M314.6 376.8h0M313.2 378h0M304.6 375.7h0M288.5 375.8h0M333.4 375h0M291.2 374.6h0M288.4 377.8h0M284.1 375.5h0M294 377.2h0M290.7 369.8h0M292.1 374.1h0M331.3 376.1h0M318.1 376.9h0M332 374h0M288.1 373.8h0M291.9 375.9h0M294.4 375.9h0M322.4 373.4h0M302.8 378.2h0M310.2 369.1h0M316.2 374.7h0M328.9 374.5h0M339.8 366.6h0M327.3 372.1h0M291.9 377.2h0M325.7 375.1h0M334.6 372.7h0M303.2 377.7h0M322.5 378h0M312.9 377.2h0M307.3 374.4h0M321.1 374.7h0M287.1 369.9h0M325.3 369.4h0M319.8 374.4h0M336.2 373.2h0M321.1 378.2h0M284.9 373.6h0M333.7 376.5h0M296 376.2h0M333.4 373h0M291.3 377.5h0M295.8 373.2h0M298.4 370.1h0M307.9 377.6h0M308.1 377.8h0M335.6 378.3h0M308.2 376.6h0M285.8 377.4h0M342.2 371h0M308.5 370.6h0M337.4 371h0M326.6 375.2h0M313.8 373.6h0M319.2 376.8h0M336.8 373.1h0M309.8 371.2h0M300.5 376.5h0M317.7 365.1h0M297.9 371.3h0M322.5 368.8h0M301.3 374.3h0M336.2 370.2h0M324.9 371.4h0M321.1 375.3h0M294.9 375.6h0M327.2 483.3h0M327.2 466.5h0M327.2 409.6h0M327.2 416h0M327.2 414.2h0M327.2 445.3h0M327.2 412.8h0M327.2 437.5h0M327.2 413.1h0M327.2 417h0M327.2 479.8h0M327.2 411.4h0M327.2 426h0M327.2 415.1h0M327.2 436.7h0M327.2 410.2h0M327.2 431.1h0M327.2 414.7h0M327.2 471.1h0M327.2 416.7h0M327.2 430.7h0M327.2 409.4h0M327.2 464.2h0M327.2 428.6h0M327.2 457.3h0M327.2 435.7h0M327.2 410h0M327.2 435.7h0M327.2 418.3h0M327.2 413.2h0M327.2 452.5h0M327.2 430.3h0M327.2 417.3h0M327.2 410.3h0M327.2 429.5h0M327.2 410h0M327.2 414.2h0M327.2 409.8h0M327.2 412.5h0M327.2 436h0M324.1 360.2h0M338.1 363.2h0M271 425.5h0M291.3 463.5h0M303.8 487.8h0M344.4 472.6h0" stroke="#bebebe" stroke-width="1.70" stroke-linecap="round" fill="none" />
<rect x="311.6" y="378.4" width="31.2" height="30.4" fill="#bebebe" stroke="none" stroke-width="0.8" />
<path d="M320.4 407.4h0M320.8 402.1h0M334.1 397.7h0M330.3 383.4h0M336.8 405.6h0M328.1 384.7h0M315.1 386.7h0M341 388.4h0M320.8 394.3h0M313.6 401.8h0M335.4 388.1h0M313.5 405h0M336.2 401.1h0M318.7 406.5h0M331.3 380.3h0M341.3 399.2h0M318 404.7h0M330 397.5h0M313.4 385.5h0M335.7 379.8h0M318.3 381.4h0M329.6 383.3h0M335.5 392.2h0M335.4 405.3h0M341 384.8h0M323.2 401.9h0M322.3 406h0M322.4 397.2h0M320.1 399.9h0M320.9 391.4h0M333.7 402.9h0M316.7 384.3h0M318.8 401.2h0M332.3 399.8h0M336.2 386h0M327.1 379.5h0M322.9 396.5h0M320.2 402h0M318.8 392h0M332.6 385.7h0" stroke="#f2f2f2" stroke-width="1.20" stroke-linecap="round" fill="none" />
<path d="M278.4 396.6h0M292.2 405.6h0M278.9 383.8h0M277.8 382.6h0M278.4 385.1h0M268.7 390.7h0M282.8 403.9h0M289.3 406.2h0M291.3 396.9h0M288.3 391.7h0M269.5 400.6h0M263.1 383.4h0M290.1 390.9h0M290 406.8h0M289.6 402.6h0M292.8 408h0M271.1 382.5h0M266.5 406.6h0M292.6 382.7h0M286.7 398.3h0M276.9 392.7h0M287.6 404.2h0M291.3 387.2h0M261.6 407.6h0M289.5 392.8h0M288.8 393.9h0M283.6 400.8h0M291.2 396.1h0M270.8 404.6h0M282.6 384.2h0M281.7 398.3h0M257.9 385h0M288.2 394.1h0M284.9 383.3h0M280.1 392.1h0M283.3 381.7h0M287.1 404.8h0M290.3 401.4h0M291.5 379.1h0M282.1 384.5h0M284.9 393h0M289.5 381.7h0M285.6 396.5h0M274.9 382.4h0M284.2 395.9h0M269.7 395.9h0M289.9 394.3h0M288 401h0M273.2 398.2h0M279.9 399.6h0M291.3 385.1h0M273.1 387.4h0M280.4 403.5h0M283.7 383.5h0M272.5 390.8h0M279.7 403.6h0M292.1 383.1h0M292.6 401.1h0M286.1 387.5h0M277.1 382.5h0M257.6 400.5h0M289.1 405.1h0M287.6 405.7h0M249.8 391.3h0M283.9 407.1h0M260.6 401.4h0M273.4 402.6h0M288.7 404.6h0M282.7 400.2h0M281.6 387.1h0M289.5 404.8h0M283.3 396.6h0M285 397.6h0M290.5 405.1h0M275.7 389.5h0M277.4 389.4h0M283.3 402.8h0M260.3 392.6h0M284.8 400.9h0M286.6 379h0M286 384.4h0M291.1 390.6h0M288.7 401.7h0M288.1 396.7h0M279.2 396.4h0M266.7 404.1h0M267.2 395.5h0M272 396.8h0M288.9 381.6h0M279.5 386.8h0M283.1 387.2h0M251.3 386.3h0M246.8 398.2h0M288.2 381.9h0M269.1 381.8h0M285.3 396.2h0M253.8 402.6h0M290.5 403.6h0M288.1 396.1h0M286.5 394.8h0M292.4 398.4h0M283.5 407.2h0M284.2 381.3h0M278.8 380h0M266.8 393.8h0M292.6 407h0M281.5 383.2h0M287.5 404.8h0M274 392.4h0M284.5 404.9h0M282.2 391.4h0M276.4 381.4h0M291.8 383.5h0M287.7 396.2h0M287.3 384.3h0M285.2 406.6h0M284.4 404.3h0M292.7 407.3h0M286.5 395.1h0M292.9 404.6h0M262.1 392.3h0M240.9 392.3h0M252 387.8h0M286.4 407.3h0M290.8 384.7h0M278.5 399.8h0M290.5 389.3h0M257.7 401.3h0M282.8 402.5h0M290.2 387.2h0M258 402.6h0M289.3 404.5h0M289.8 401.9h0M285.7 401.6h0M278.5 401.5h0M288.8 396.1h0M290.4 407.2h0M291.6 408.7h0M278 407.3h0M284.2 381.8h0M280.2 399.5h0M286.1 395.8h0M287.7 407.2h0M290.6 404.4h0M289.8 398.7h0M291.4 390.1h0M289.9 393.3h0M277.2 393.7h0M275 385.1h0M285 402.3h0M292.3 387.7h0M286.8 400h0M291.7 403.3h0M263.4 394.4h0M268 383.1h0M289.1 401.9h0M264 401.6h0M280.8 380.3h0M284.6 395.9h0M251 382.6h0M258.2 387.3h0M289.5 407.3h0M292.6 380.7h0M282.5 381.9h0M251 401.6h0M246.3 400.5h0M290.3 400.5h0M255.6 398.1h0M284.2 383.8h0M271.3 381.5h0M286.9 401.7h0M283.3 380.4h0M280.3 382.3h0M290 393.4h0M259.9 391.4h0M271.9 384.2h0M285.1 387.8h0M277.3 395.4h0M283.1 384.2h0M264.6 378.8h0M286.8 388.2h0M282.3 382.9h0M289.2 394.6h0M289 384.4h0M276.5 408.6h0M291.4 404.5h0M281 385.2h0M287.3 406.4h0M281.2 390.1h0M285.4 400.6h0M287.2 401.7h0M270.7 397.2h0M276.3 392.1h0M289.4 400.3h0M278.2 382.6h0M259.8 404.1h0M288.9 405.8h0M290.1 397h0M276.1 381h0M281 404.4h0M286.6 404.4h0M288.5 391.3h0M283.6 403.6h0M288.6 381.6h0M279.7 390.5h0M287.7 399.7h0M273.9 408.3h0M278.8 379.7h0M279.5 407.3h0M292.4 384.9h0M290.2 396h0M278.9 388.3h0M288.4 388.1h0M260.4 394.6h0M286.2 388h0M265.5 387.9h0M258.1 385h0M251.3 401.2h0M278.1 402.4h0M291.2 398.4h0M254.2 399.8h0M288 380.6h0M239.7 385.8h0M287.1 383.8h0M292 408.5h0M292 398.6h0M289.3 382.7h0M291.5 382.9h0M292 397.5h0M290.3 407.4h0M291.6 379.9h0M297.3 380.5h0M287.7 395.4h0M295.7 404.1h0M287.4 402.5h0M287.6 386.3h0M294.4 378.8h0M287.2 387.4h0M295.3 403.4h0M287.5 379h0M295.3 406.7h0M288.7 388.8h0M288.5 395.5h0M288.3 406h0M291.9 392.3h0M295.9 408.7h0M290.5 406.6h0M292.7 403.8h0M290.3 379.3h0M293.7 388.5h0M293.3 402.7h0M294.1 379.3h0M287.6 383.3h0M290.4 402.7h0M293.8 382.9h0M288.5 402.8h0M292.1 402.6h0M292.2 378.7h0M286.9 395.8h0M288.8 403.7h0M293.1 380h0M291.8 391.8h0M294.3 382.7h0M297.2 398.7h0M288.6 380.9h0M293.2 382h0M288.2 384.8h0M287.9 404.8h0M288 397.8h0M291.2 388.8h0M296.9 395.7h0M293 396.3h0M290.8 400.7h0M286.7 401h0M294.5 384.5h0M294.1 395.4h0M291.1 403.1h0M289.3 378.5h0M293.1 396.5h0M292.5 393.8h0M289.8 396.1h0M291.3 381.5h0M296.4 400h0M291.6 402h0M297 404.7h0M291.9 408.4h0M291.7 394.8h0M286.8 404.2h0M292.1 394.4h0M290 407.2h0M290.2 398.2h0M287.8 390.6h0M289 392.6h0M294.4 408.4h0M292.1 389.4h0M296.4 387.8h0M295.8 388.7h0M289.1 384.1h0M294.9 394h0M296.7 407.3h0M296.6 397.9h0M292.6 384.6h0M288.5 393.7h0M286.8 407.7h0M297.1 402.1h0M291.3 405.1h0M296.8 393.4h0M296 400.5h0M291.7 401.3h0M293.1 387.3h0M292.9 391h0M290 379.8h0M286.9 403.7h0M293.9 379.2h0M295.9 401.3h0M296.9 394.9h0M292.9 389.1h0M293.4 382.1h0M296.5 399.2h0M296.4 399.2h0M294.1 404h0M293.6 399.7h0M297.5 388.6h0M290.9 379.6h0M287.9 386.1h0M293.7 408.3h0M291.7 405.3h0M297.6 405.8h0M293.6 392.3h0M288 380.4h0M292.9 390h0M289.5 404.1h0M290.2 407.7h0M288.8 393.7h0M290.9 385.7h0M288.2 402.5h0M292.4 387.9h0M290.1 402.5h0M288 397.7h0M290.8 384.6h0M289.3 398.4h0M294.8 402.5h0M287.1 379.2h0M296.6 399.2h0M289.7 394.8h0M288.9 384.9h0M296.3 387.2h0M291 383.3h0M296.9 403.2h0M293.9 403.6h0M297.4 384.6h0M291.1 386.3h0M289.8 406.9h0M292.2 406.5h0M291.6 382.9h0M292.9 400.7h0M289 391.8h0M292.2 381.3h0M288.5 394.6h0M291.5 397.3h0M288.7 397.1h0M292.6 402.9h0M290.1 392.8h0M296.9 394.1h0M290.4 407.8h0M292.3 398.3h0M287.9 394.4h0M293.4 398.1h0M294.7 389.6h0M287.3 407.3h0M292.4 390.4h0M292.7 401.8h0M290.4 387h0M291 392.7h0M289.1 389.7h0M291.9 408.7h0M294.9 384.4h0M297.4 380.2h0M294.3 394.6h0M289.5 387.4h0M291.2 399h0M287.9 390.4h0M294.4 385.4h0M288.3 402.6h0M293.6 404.9h0M296.3 380.6h0M293.5 400.9h0M292.8 385.5h0M290.4 389.1h0M293.2 381.2h0M295.1 388.5h0M292.6 381.7h0M293.2 387.9h0M290 405.5h0M292.7 402h0M297.2 402.1h0M296.4 398.7h0M288.7 391.3h0M290.2 378.6h0M293.4 405.7h0M290 405.4h0M292 392.8h0M290.1 388.3h0M291.5 383.9h0M294.1 400.9h0M295.7 407.9h0M289.2 407.9h0M297 392.5h0M295.8 378.7h0M287.6 381.4h0M286.9 387.5h0M295.3 397.1h0M296.4 385.5h0M292.1 400.3h0M288.4 406.5h0M292.6 392.8h0M288.7 392.7h0M287.5 399.6h0M293.9 404.2h0M292.4 404.7h0M296.3 402.4h0M296.8 380.9h0M297.2 400.2h0M294.1 406.7h0M297.3 387.8h0M287 404.6h0M287.8 398.2h0M296.9 384.8h0M290.2 384.2h0M286.8 392.2h0M290.9 406.5h0M296.7 388.8h0M297.5 389.3h0M293.4 404.9h0M291.8 381.5h0M292.7 389.4h0M291.7 397.9h0M286.8 402.2h0M288.7 406h0M287.2 385.8h0M297.5 387.6h0M295.7 402.4h0M295.9 397.2h0M296 401.6h0M289.9 392.8h0M289.1 400.9h0M294.6 384.8h0M297.4 388.9h0M290.5 394.5h0M293 390.8h0M296.7 391.6h0M297.1 394.3h0M291.5 407.9h0M290.2 394.1h0M286.8 395.4h0M287.9 400.7h0M296.3 381h0M287.9 390.9h0M292 407.2h0M289.9 392.6h0M291.3 391.5h0M287.4 390.2h0M293.3 403h0M292.8 380.4h0M296.4 390.1h0M292.3 386h0M291.6 387.3h0M290.7 391.9h0M294.7 391h0M293.2 397.1h0M290.5 388.9h0M291.5 395.4h0M290.8 400h0M293.5 382.1h0M288.8 389.1h0M292.4 389.4h0M293.9 396.6h0M286.8 397.8h0M292.3 389.7h0M296.8 388.8h0M293.8 398.1h0M295.3 404.9h0M296.3 393.9h0M291.6 387.8h0M292.6 378.5h0M288 406.9h0M293.1 401.9h0M289.1 378.5h0M292.4 399.9h0M290.6 401.9h0M289.4 404.7h0M297.3 386.5h0M290.6 405.5h0M297.3 381.7h0M287.7 382.4h0M292.7 378.9h0M291.4 395.6h0M286.7 391.3h0M289.2 382h0M289.1 382h0M290.3 384.3h0M294.4 380.4h0M292.9 397.8h0M289.5 401.7h0M287.8 399.7h0M290.1 383.8h0M286.7 393.5h0M292.2 404h0M294.2 402.5h0M294.8 403.6h0M296.2 399.3h0M287.7 404.2h0M288.9 404.8h0M290.1 379.3h0M290.7 396.8h0M294.9 406.6h0M287.6 382.4h0M290.2 403.5h0M288.6 386.2h0M297.3 396.7h0M294.4 394.8h0M288.9 399.2h0M290.3 401.2h0M295.3 406h0M290.9 386.5h0M287 379.5h0M293.4 389h0M288.7 402.6h0M295.8 379.2h0M286.8 384h0M288.8 406.5h0M293.2 405.9h0M295.8 383.1h0M289.8 404.4h0M292.2 386h0M287.1 387.4h0M288 397.3h0M288.4 406.3h0M292.5 399.7h0M296.6 381.3h0M294.6 393.2h0M293.7 398.7h0M291.8 392.2h0M291.2 395.3h0M295.9 378.7h0M294.7 382.7h0M290 406.5h0M289.1 393.6h0M295 386.5h0M296.6 385.1h0M289.9 407.1h0M291.9 398.8h0M296.1 381.3h0M292.5 385.3h0M294.6 393h0M291.5 379.8h0M295.3 391.4h0M297.4 404.3h0M295 392.1h0M290.2 404.9h0M293 382.4h0M288.6 381.5h0M297.4 402.9h0M292.7 394.1h0M290.3 405.2h0M289.6 380.2h0M295.8 379.9h0M292.1 393.6h0M287.3 395.8h0M293 378.6h0M287.3 388.8h0M287.2 379.3h0M288.8 387.7h0M293.6 402.5h0M291.7 395.9h0M288.6 396.8h0" stroke="#ee7565" stroke-width="1.80" stroke-linecap="round" fill="none" />
<rect x="292.9" y="378.4" width="18.7" height="30.4" fill="#ee7565" stroke="none" stroke-width="0.8" />
<path d="M294.9 399.5h0M310.1 394.8h0M300.6 394h0M296.3 400.4h0M305.4 382.4h0M300.2 382.9h0M305.6 379.8h0M308.4 381.2h0M307.8 384.9h0M302.7 399.6h0M309.6 404.2h0M296.4 399.7h0M301.1 384.2h0M301.6 406h0M294.2 399.2h0M302.9 404.5h0M301.8 386.5h0M308.1 382.5h0M305.4 387.7h0M294.8 384.2h0M308.1 383.9h0M309.2 383.6h0M309.4 380.9h0M304.9 394.6h0M303.9 405.7h0M297.7 407.6h0M303.4 402.4h0M298.1 407.7h0M305.9 392.8h0M297.5 404.4h0M303.2 407.5h0M308.7 400.7h0M306 384.2h0M307.8 399.7h0M295.5 381.4h0" stroke="#fbe3df" stroke-width="1.20" stroke-linecap="round" fill="none" />
<line x1="264.8" y1="393.6" x2="296.0" y2="393.6" stroke="#e86858" stroke-width="1.3" />
<path d="M344.7 385.6h0M344.2 385.5h0M343.9 380.3h0M345.9 404.2h0M343.3 400.9h0M346.5 386.4h0M345.7 399h0M347.7 391.2h0M344.5 392.7h0M346.8 404.2h0M346.3 385.2h0M348 406h0M343.4 384.3h0M348.5 390h0M346.1 401.9h0M344.3 394.4h0M343.9 385h0M346 399h0M343.9 408.1h0M347.3 393.3h0M346.1 382.9h0M346.5 389.4h0M343.8 395.9h0M342.8 402.8h0M342.9 388.6h0M345.7 388.9h0M347.5 398.8h0M343.3 401.1h0M345.8 402.3h0M346.6 387.2h0M343.8 381.8h0M343.3 380.6h0M353.3 386.3h0M346.4 391.5h0M347 380.1h0M343.6 379.4h0M344.9 392.5h0M343.7 395.9h0M345.6 390h0M350 406.3h0M344.6 392.5h0M343.2 383.9h0M344.6 404h0M346.2 380.5h0M345.5 407.2h0M345.7 388.2h0M345.6 397.3h0M344.8 400.4h0M346 393h0M346.6 395.7h0M342.8 403.9h0M346.9 400.7h0M347.5 389.5h0M344.6 386.1h0M346.5 391.1h0M347.4 401.1h0M346.2 383h0M346.2 379.9h0M345.4 390.9h0M348.6 401.3h0M359 392.8h0M360.5 394h0M350.6 386h0M351.4 379.9h0" stroke="#17b3b6" stroke-width="1.80" stroke-linecap="round" fill="none" />
<rect x="342.8" y="378.4" width="2.2" height="30.4" fill="#17b3b6" stroke="none" stroke-width="0.8" />
<line x1="226.4" y1="378.4" x2="368.0" y2="378.4" stroke="#e8776a" stroke-width="1.3" stroke-dasharray="5,3.5"/>
<line x1="226.4" y1="408.8" x2="368.0" y2="408.8" stroke="#e8776a" stroke-width="1.3" stroke-dasharray="5,3.5"/>
<line x1="311.6" y1="358.3" x2="311.6" y2="494.4" stroke="#e8776a" stroke-width="1.3" stroke-dasharray="5,3.5"/>
<line x1="342.8" y1="358.3" x2="342.8" y2="494.4" stroke="#e8776a" stroke-width="1.3" stroke-dasharray="5,3.5"/>
<line x1="226.4" y1="355.8" x2="226.4" y2="494.4" stroke="#444" stroke-width="0.9" />
<line x1="225.9" y1="494.4" x2="368.0" y2="494.4" stroke="#444" stroke-width="0.9" />
<line x1="223.8" y1="393.6" x2="226.4" y2="393.6" stroke="#444" stroke-width="0.7" />
<text x="222.0" y="396.6" font-size="8.2" text-anchor="end" fill="#151515" >0.0</text>
<line x1="223.8" y1="431.6" x2="226.4" y2="431.6" stroke="#444" stroke-width="0.7" />
<text x="222.0" y="434.6" font-size="8.2" text-anchor="end" fill="#151515" >−2.5</text>
<line x1="223.8" y1="469.6" x2="226.4" y2="469.6" stroke="#444" stroke-width="0.7" />
<text x="222.0" y="472.6" font-size="8.2" text-anchor="end" fill="#151515" >−5.0</text>
<line x1="233.6" y1="494.4" x2="233.6" y2="497.0" stroke="#444" stroke-width="0.7" />
<text x="233.6" y="505.0" font-size="8.2" text-anchor="middle" fill="#151515" >−6</text>
<line x1="264.8" y1="494.4" x2="264.8" y2="497.0" stroke="#444" stroke-width="0.7" />
<text x="264.8" y="505.0" font-size="8.2" text-anchor="middle" fill="#151515" >−4</text>
<line x1="296.0" y1="494.4" x2="296.0" y2="497.0" stroke="#444" stroke-width="0.7" />
<text x="296.0" y="505.0" font-size="8.2" text-anchor="middle" fill="#151515" >−2</text>
<line x1="327.2" y1="494.4" x2="327.2" y2="497.0" stroke="#444" stroke-width="0.7" />
<text x="327.2" y="505.0" font-size="8.2" text-anchor="middle" fill="#151515" >0</text>
<line x1="358.4" y1="494.4" x2="358.4" y2="497.0" stroke="#444" stroke-width="0.7" />
<text x="358.4" y="505.0" font-size="8.2" text-anchor="middle" fill="#151515" >2</text>
<text transform="translate(198.0,430.9) rotate(-90)" font-size="8.2" text-anchor="middle" fill="#151515">Upstream Log<tspan font-size="5.1" dy="1.2">2</tspan><tspan dy="-1.2"> Fold Change</tspan></text>
<text x="297.0" y="516.4" font-size="8.2" text-anchor="middle" fill="#151515">sORF Log<tspan font-size="5.1" dy="1.2">2</tspan><tspan dy="-1.2">(Fold Change)</tspan></text>
<circle cx="235.5" cy="458.0" r="2.20" fill="#bebebe" stroke="none" stroke-width="0.8" />
<text x="242.0" y="461.0" font-size="8.2" text-anchor="start" fill="#151515" >non-hit</text>
<circle cx="235.5" cy="467.9" r="2.20" fill="#17b3b6" stroke="none" stroke-width="0.8" />
<text x="242.0" y="470.9" font-size="8.2" text-anchor="start" fill="#151515" >anti-proliferative</text>
<circle cx="235.5" cy="478.0" r="2.20" fill="#ee7565" stroke="none" stroke-width="0.8" />
<text x="242.0" y="481.0" font-size="8.2" text-anchor="start" fill="#151515" >pro-proliferative</text>
<text x="377.5" y="355.5" font-size="11" font-weight="bold" fill="#111">f</text>
<circle cx="432.0" cy="376.2" r="33.70" fill="#a6c4e6" stroke="none" stroke-width="0.8" />
<text x="432.0" y="368.0" font-size="8.2" text-anchor="middle" fill="#151515" >Total</text>
<text x="432.0" y="378.0" font-size="8.2" text-anchor="middle" fill="#151515" >detected</text>
<text x="432.0" y="387.7" font-size="8.2" text-anchor="middle" fill="#151515" >8945</text>
<line x1="432.0" y1="411.7" x2="432.0" y2="420.0" stroke="#1f6fc0" stroke-width="1.0" />
<path d="M432 424 L429.3 418.5 L434.7 418.5 Z" fill="#1f6fc0" stroke="none" stroke-width="0.8" />
<circle cx="432.0" cy="451.4" r="25.30" fill="#f9d6b4" stroke="none" stroke-width="0.8" />
<text x="432.0" y="444.7" font-size="8.2" text-anchor="middle" fill="#151515" >sgRNA</text>
<text x="432.0" y="454.6" font-size="8.2" text-anchor="middle" fill="#151515" >targeted</text>
<text x="432.0" y="464.4" font-size="8.2" text-anchor="middle" fill="#151515" >3094</text>
<line x1="432.0" y1="476.4" x2="432.0" y2="484.5" stroke="#f7d08a" stroke-width="1.0" />
<path d="M432 488.5 L429.3 483 L434.7 483 Z" fill="#f7d08a" stroke="none" stroke-width="0.8" />
<circle cx="432.0" cy="507.2" r="16.90" fill="#e9959b" stroke="none" stroke-width="0.8" />
<text x="432.0" y="507.2" font-size="8.2" text-anchor="middle" fill="#151515" >Onhit</text>
<text x="432.0" y="517.4" font-size="8.2" text-anchor="middle" fill="#151515" >1161</text>
<text x="485.5" y="357.5" font-size="11" font-weight="bold" fill="#111">g</text>
<line x1="549.7" y1="369.6" x2="549.7" y2="482.9" stroke="#444" stroke-width="0.9" />
<line x1="549.2" y1="482.9" x2="666.3" y2="482.9" stroke="#444" stroke-width="0.9" />
<rect x="555.3" y="375.5" width="2.3" height="14.5" fill="#8491b4" stroke="none" stroke-width="0.8" />
<text x="560.6" y="386.7" font-size="8.2" text-anchor="start" fill="#151515" >25</text>
<line x1="547.0" y1="382.8" x2="549.7" y2="382.8" stroke="#444" stroke-width="0.7" />
<text x="544.8" y="385.0" font-size="8.2" text-anchor="end" fill="#151515" >Singal peptide</text>
<rect x="555.3" y="397.5" width="5.6" height="14.1" fill="#f39b7f" stroke="none" stroke-width="0.8" />
<text x="563.9" y="408.7" font-size="8.2" text-anchor="start" fill="#151515" >62</text>
<line x1="547.0" y1="404.6" x2="549.7" y2="404.6" stroke="#444" stroke-width="0.7" />
<text x="544.8" y="406.4" font-size="8.2" text-anchor="end" fill="#151515" >Conserved</text>
<rect x="555.3" y="418.8" width="29.4" height="14.8" fill="#3c5488" stroke="none" stroke-width="0.8" />
<text x="587.7" y="431.0" font-size="8.2" text-anchor="start" fill="#151515" >323</text>
<line x1="547.0" y1="426.2" x2="549.7" y2="426.2" stroke="#444" stroke-width="0.7" />
<text x="544.8" y="428.4" font-size="8.2" text-anchor="end" fill="#151515" >Domain mapped</text>
<rect x="555.3" y="441.2" width="90.7" height="14.4" fill="#00a087" stroke="none" stroke-width="0.8" />
<text x="649.0" y="451.4" font-size="8.2" text-anchor="start" fill="#151515" >998</text>
<line x1="547.0" y1="448.4" x2="549.7" y2="448.4" stroke="#444" stroke-width="0.7" />
<text x="544.8" y="450.8" font-size="8.2" text-anchor="end" fill="#151515" >&lt;100aa</text>
<rect x="555.3" y="462.5" width="104.0" height="14.8" fill="#e64b35" stroke="none" stroke-width="0.8" />
<text x="662.3" y="472.8" font-size="8.2" text-anchor="start" fill="#151515" >1144</text>
<line x1="547.0" y1="469.9" x2="549.7" y2="469.9" stroke="#444" stroke-width="0.7" />
<text x="499.4" y="467.2" font-size="8.2" text-anchor="start" fill="#151515" >High Coding</text>
<text x="499.4" y="477.0" font-size="8.2" text-anchor="start" fill="#151515" >probability</text>
<line x1="555.3" y1="482.9" x2="555.3" y2="485.5" stroke="#444" stroke-width="0.7" />
<text x="555.3" y="494.8" font-size="8.2" text-anchor="middle" fill="#151515" >0</text>
<line x1="582.6" y1="482.9" x2="582.6" y2="485.5" stroke="#444" stroke-width="0.7" />
<text x="582.6" y="494.8" font-size="8.2" text-anchor="middle" fill="#151515" >300</text>
<line x1="609.8" y1="482.9" x2="609.8" y2="485.5" stroke="#444" stroke-width="0.7" />
<text x="609.8" y="494.8" font-size="8.2" text-anchor="middle" fill="#151515" >600</text>
<line x1="637.1" y1="482.9" x2="637.1" y2="485.5" stroke="#444" stroke-width="0.7" />
<text x="637.1" y="494.8" font-size="8.2" text-anchor="middle" fill="#151515" >900</text>
<line x1="664.4" y1="482.9" x2="664.4" y2="485.5" stroke="#444" stroke-width="0.7" />
<text x="664.4" y="494.8" font-size="8.2" text-anchor="middle" fill="#151515" >1200</text>
<text x="611.8" y="505.6" font-size="8.2" text-anchor="middle" fill="#151515" >Peptides number</text>
<text x="5" y="564.5" font-size="11" font-weight="bold" fill="#111">h</text>
<path d="M79.3 703.5h0M62.6 696h0M59.7 703.5h0M106.9 678h0M60.9 703.5h0M113 692.8h0M95.2 679.2h0M93.4 703.5h0M88.2 703.5h0M78.7 696.5h0M57.8 703.5h0M101.3 702.2h0M45.3 703.5h0M107.6 703.5h0M100.2 698.3h0M77.1 686.2h0M94.8 698.8h0M96.7 703.5h0M94.7 680.9h0M74.9 689.3h0M56.1 703.5h0M111.7 698h0M105.5 677.6h0M107.2 695.8h0M97.4 703.5h0M62.2 702.8h0M90.1 680.3h0M96.7 688.4h0M90.3 703.5h0M70.6 689.2h0M79.6 692.4h0M106.2 680.8h0M99.7 687.3h0M65.8 703.5h0M69.8 674.7h0M100.1 703.5h0M87 691h0M90.2 687.8h0M73.9 670.8h0M107.1 690.1h0M109.8 703.5h0M109.5 685.5h0M80 698.1h0M93.6 663.3h0M62.3 672.8h0M87.9 673.2h0M101.4 703.5h0M68 703.5h0M84.6 675.3h0M108.6 696.3h0M95 677.2h0M100.8 671.9h0M96.2 703.5h0M92.7 688.8h0M94.5 677.2h0M111.2 666.6h0M79.6 703.5h0M79.5 703.5h0M68.5 703.5h0M107.2 697.4h0M99.8 698.8h0M46.5 640.5h0M111.2 696.9h0M97.5 696.5h0M79.6 703.5h0M110.9 655.4h0M85 667.9h0M106.3 686.1h0M98.3 702.8h0M102.5 703.5h0M76.2 678.4h0M102.1 703.5h0M87.1 678.5h0M43.5 663.1h0M78.6 702h0M107.7 671h0M101.5 691.5h0M95.9 701.1h0M60 682.1h0M104.7 677.2h0M114.7 694.9h0M74.5 697.3h0M107.4 657.3h0M42.8 694.2h0M113.1 703.5h0M63.2 703.5h0M79.2 703.5h0M103.6 681h0M106.7 699.2h0M99.2 703.5h0M50.9 678.9h0M109.9 679.5h0M103.3 679.3h0M100 700.8h0M88.1 682.9h0M54.7 703.5h0M81.6 648.1h0M68.6 703.5h0M87.4 680.7h0M107.9 676.3h0M101.6 670.6h0M84.6 647.8h0M111.3 682.6h0M104 690.9h0M101.1 703.5h0M84.2 703.5h0M71.4 673.2h0M47.3 686.6h0M83.2 703.5h0M58.8 703.5h0M78.5 680h0M80.2 692.9h0M66.9 703.5h0M93.7 691.5h0M55.6 703.5h0M79.3 686.7h0M84.9 686.4h0M112.5 694.7h0M90.9 702h0M71.9 643.6h0M107 703.5h0M111.6 682.7h0M93.5 684.1h0M96.3 692.6h0M114.1 696.4h0M114.8 649h0M113.4 689.4h0M106.8 665.1h0M106.7 677.2h0M98.5 631.2h0M66.5 697.5h0M50.6 703.5h0M77.9 680.6h0M74.1 699.8h0M112 690.2h0M78.5 703.5h0M115.3 625h0M83.9 674.5h0M90.7 699.7h0M80.2 666.9h0M78.5 699.7h0M72 685.5h0M102.2 686.9h0M64.7 692.6h0M97.5 695.7h0M73.6 689.9h0M73.2 643.4h0M95.6 703.5h0M88.5 681.1h0M98 696.9h0M112.7 703.5h0M75.9 703.5h0M64.8 685.1h0M96.6 701.2h0M88.2 700.6h0M83.1 691.9h0M53 697.8h0M106.4 703.5h0M101.2 695.3h0M90.3 663.9h0M99.8 675.7h0M65.9 703.5h0M100.8 687.4h0M78.9 703.5h0M115 658.8h0M111.7 703.5h0M67.5 685.5h0M53.3 664.6h0M86.5 661.6h0M115.1 703.5h0M95.3 688.8h0M115 647.9h0M100.7 698.9h0M114.5 696.9h0M98.5 677.5h0M89.3 655.6h0M93 677.8h0M53.1 647.2h0M106.9 696h0M113 703.5h0M68.4 680.3h0M57.5 666.5h0M81.6 694.6h0M94.5 693.2h0M76.7 693.9h0M84.4 662.8h0M79.6 681h0M87.1 703.5h0M94.6 684.9h0M86.6 678.4h0M59.5 691.4h0M106.5 687.5h0M78.1 696h0M90.5 648.6h0M64.7 678.4h0M97.2 695.4h0M91 702.3h0M111.9 703.5h0M85.2 695.3h0M74.7 703.1h0M65.7 703.5h0M99.7 690.5h0M58.8 703.5h0M92.9 703.5h0M113.7 691.9h0M111.4 702.8h0M104.5 689.8h0M64.3 703.5h0M93.4 703.5h0M93.3 686.5h0M65.9 703.5h0M81.7 692.3h0M103 695.2h0M110.1 644.6h0M113.7 688.6h0M92.4 685.5h0M90.5 674.1h0M87.2 703.5h0M72.1 696.3h0M61.3 682.8h0M57.8 663.7h0M64.2 703.5h0M86.3 689h0M114.9 701.7h0M75.9 692.2h0M85.4 670.6h0M40.1 689.7h0M88.8 688.1h0M48.1 703.5h0M42.5 692h0M110 680.8h0M71.3 703.5h0M112.1 660h0M78.4 688.8h0M113.3 699.9h0M113.4 685.9h0M89.9 689.5h0M115 693.6h0M109.9 673.5h0M58.7 693.3h0M70.4 690.6h0M93.4 635.8h0M93.3 689h0M69.9 694.5h0M101.7 694.5h0M113.7 703.5h0M115.2 703.5h0M101.8 679h0M113 690.9h0M72.8 674.2h0M110 703.5h0M107.4 695.2h0M94.3 694h0M73.6 679.2h0M86.1 691.9h0M83.8 665.4h0M70.5 703.5h0M80.4 690.6h0M111.2 662h0M69 699.6h0M139.8 697.6h0M168.1 688.9h0M117.2 679.8h0M120.1 695.1h0M128.4 688h0M123.9 700.4h0M141.3 637.1h0M144.8 692h0M140.4 695.7h0M125.9 672.2h0M138.4 681h0M131.3 692.7h0M143.1 682.1h0M143.1 659.5h0M142.2 675.7h0M142.4 686.7h0M119.3 662.4h0M158 685.8h0M158.8 683.4h0M163.4 698.6h0M123.6 690.1h0M148.9 666.9h0M133.1 690.9h0M142.9 674.7h0M154.3 693.1h0M143.1 693.9h0M118.4 679.6h0M160.5 689.7h0M152.8 691.7h0M148.4 692.4h0M127.5 694.6h0M146.2 670.3h0M157.7 701.5h0M162.5 678.4h0M130.9 685.3h0M116.6 686.5h0M165.5 681.7h0M154.5 673h0M140.7 691.3h0M116 658.1h0M133 676.3h0M147.4 655.2h0M135 696.2h0M162.7 669h0M150.8 680.7h0M158.3 674.9h0M162 679.3h0M165 683.7h0M161.3 690.4h0M169.2 676.3h0M171 680.2h0M159.1 670.9h0M158.3 697.2h0M154.6 691.7h0M139.3 695.3h0M160.3 700.1h0M168.3 689.4h0M170.7 685.8h0M162.7 676.3h0M155.6 694.7h0M155.1 659.2h0M151.9 691.8h0M169.2 660.1h0M144 694.4h0M135 660.1h0M160.7 693.3h0M163.5 692.7h0M137.2 679.5h0M138.8 690.3h0M141 694.3h0M143 692.8h0M122.5 697.6h0M156.1 689.3h0M145.3 680h0M122 694.3h0M169.4 671.1h0M156.7 682.9h0M167.6 700h0M139.5 695.4h0M160.5 686.5h0M135.1 680.9h0M129.9 690.4h0M169.8 673.4h0M149.4 697.2h0M161.9 697h0M117.7 676.7h0M129.1 689.8h0M146.8 621.3h0M127 685.6h0M117.7 679.4h0M118.1 661.3h0M166.9 673.1h0M132.2 698.9h0M158.8 689.9h0M161.2 693.7h0M167.2 697.4h0M163.5 692.4h0M147.5 678.6h0M163 680.5h0M129.9 660.9h0M116.1 700.6h0M122.7 669.7h0M144.2 699.8h0M119 664.2h0M163.2 693.9h0M121.3 691.4h0M130.3 697.5h0M133.2 689h0M127.4 687.4h0M162.6 657.5h0M162.2 671.3h0M121.1 702h0M150.9 652.5h0M131.9 684.2h0M161.9 679.3h0M133.1 677.7h0M115.9 676.1h0M121.8 677h0M167.7 693.5h0M127.5 658.7h0M125.2 689.4h0M142.8 674.5h0M118.9 689.4h0M119.3 595.3h0M167.8 689h0M117.2 690.6h0M125.7 685.8h0M162.5 692.2h0M145.9 674.2h0M143.9 671.5h0M157.4 684.5h0M146.8 698.6h0M126.5 687.6h0M168.1 688.6h0M151.6 692.1h0M118.4 695h0M149.9 702.6h0M122.7 672.2h0M117 672.9h0M125.2 682.8h0M117.7 652.9h0M151.5 688h0M167.5 698.9h0M119.1 649.8h0M146.5 681.6h0M151.6 677.1h0M145.8 669.7h0M138.7 680.7h0M142.6 701.2h0M135.8 690.4h0M139.9 668.6h0M144.1 686.7h0M145.7 662.7h0M120.9 686.8h0M122.9 677.4h0M135.8 680.1h0M168.9 634.1h0M157.8 676.1h0M155.2 693.8h0M161.2 685.8h0M127.5 671.4h0M157 637.7h0M125.8 682.5h0M153.1 670.1h0M143.9 683.8h0M135.9 652.9h0M143.4 658.7h0M115.3 653.1h0M156 653.6h0M144.8 697.2h0M168.7 688.5h0M116.6 655.7h0M167.8 690.3h0M142.6 667.1h0M137.6 632.6h0M139 688h0M154.6 682.8h0M145.6 691.4h0M150.3 678h0M155.7 680.2h0M134.4 689.3h0M145.9 671.4h0M156.3 677.3h0M170.3 697.9h0M132.5 677.5h0M145.1 680.7h0M118 694.6h0M161.9 699.2h0M125.1 686h0M137.5 687.2h0M135.3 690.8h0M150.5 678.8h0M138 632.4h0M128.5 660h0M163.7 686.2h0M145.1 679.7h0M155.7 683.3h0M164.3 669.6h0M153.9 600.8h0M140.9 681.3h0M129.8 697.3h0M154.6 687.3h0M138.4 679.5h0M120.3 653.7h0M159.5 662.6h0M163.5 692h0M123.2 694.8h0M166.6 673.9h0M166.3 685h0M163.1 698.2h0M120.1 638.6h0M121.5 680.6h0M170.6 700.7h0M140.2 670.6h0M130.6 692.2h0M167.3 701.2h0M119.9 686.4h0M151.1 670.9h0M121.3 691.8h0M167.6 700.1h0M134.6 688.2h0M151.8 690.5h0M115.5 684.6h0M170 693.1h0M165.5 677h0M155.1 690.7h0M129 663.2h0M144.7 697.1h0M139.6 674.7h0M161.5 698.8h0M151.8 682.4h0M161.9 683.6h0M150.8 695.9h0M119.7 663.7h0M150.1 689.5h0M143.2 683.4h0M132.8 685.5h0M152.6 688.5h0M128.1 679.3h0M124.8 692.7h0M159.3 677.4h0M123.7 698.7h0M151 696.7h0M155.5 664.9h0M131.4 696.2h0M152.2 681h0M146.7 689h0M161.2 692.2h0M118.8 699.8h0M143.9 693.3h0M153.3 673.6h0M150.2 677.9h0M117.8 696.9h0M128.6 680.3h0M130.8 695.8h0M158.7 664.1h0M165.4 664.3h0M148.3 669.2h0M153.7 683.3h0M165.3 680.1h0M163.4 678.8h0M162.5 678.3h0M155.9 629.4h0M132.7 684.6h0M167.6 668.3h0M139.4 690.1h0M148.5 685.4h0M143.1 662.8h0M123.1 661.9h0M122.6 661.1h0M149.3 663.4h0M167.3 688h0M130.5 661h0M130.2 693.6h0M130.3 689.3h0M152.2 685.6h0M163.1 681.6h0M125.4 691.6h0M128.6 686.4h0M135.5 700.5h0M134.3 697.3h0M167.4 666.3h0M161.9 692.3h0M163.7 656.1h0M166 682.5h0M157.8 621.6h0M153.6 674.6h0M156.8 682.3h0M144.6 689.1h0M162.5 696.7h0M158.3 684h0M137 668.4h0M144.1 682.9h0M166.5 695.6h0M134.4 690.3h0M171.3 689.4h0M161.1 687h0M154.1 678.2h0M141.9 675.7h0M137.1 600.9h0M124.7 664.3h0M167.4 673.1h0M120.6 665.5h0M153.5 692.8h0M139.1 667.9h0M159.8 664.3h0M166.7 683.5h0M138.2 671.3h0M162.9 685.1h0M152.5 673h0M120.4 692.9h0M167.9 681.1h0M151.6 674.4h0M148.5 671h0M169.1 693.3h0M138.9 681.7h0M157.4 668.3h0M158.6 690.5h0M162.9 693.3h0M141.6 679.5h0M141.8 677.2h0M157 694.8h0M169.6 694.4h0M166.5 658.5h0M150.9 647.7h0M141.2 690h0M115.4 689.4h0M126 692.4h0M169.1 671.8h0M166.6 693.4h0M130.7 673.1h0M168.6 680h0M140 666.1h0M170.1 701.7h0M167.3 674.1h0M136.5 684.4h0M120.7 691.4h0M164.3 695.3h0M165.1 667.8h0M154.6 683.4h0M140.9 685.5h0M138.6 682.8h0M134.8 691.9h0M121.1 699.4h0M170.7 671.6h0M151.6 692.6h0M131.9 676.3h0M159.8 658.9h0M167.1 671.6h0M132 649.1h0M167.3 678.5h0M166.1 667.6h0M117 689.9h0M157.4 648.4h0M159.3 651.6h0M168.5 691.4h0M164.3 691.2h0M161.4 693.3h0M134 688.8h0M149.6 688.7h0M136.8 685.2h0M119.9 696h0M138 685.6h0M119 691.8h0M170.8 668.4h0M150.7 701.9h0M135.7 684.5h0M123.1 687h0M139.4 701.5h0M137.5 693.1h0M130.2 697.8h0M147 681.6h0M155.5 684.5h0M133.7 663.5h0M147.4 681.7h0M126.3 694.4h0M133.7 682.1h0M131.4 668.8h0M154.3 677.7h0M141 628.4h0M168.5 694.3h0M158 688.6h0M148.6 692.5h0M148.2 692.3h0M116.4 688.2h0M147.5 701h0M141.7 683h0M167.5 641h0M142.1 625.3h0M168.1 689.5h0M141.2 682.5h0M137.7 683.1h0M154.2 675.8h0M163.7 669.7h0M169.7 639.8h0M127.7 700.6h0M140.9 645.4h0M169.5 700.2h0M153.1 642.5h0M160.7 692.6h0M154.7 652h0M121.6 681.3h0M168.4 672h0M137.2 662.7h0M163.6 662.1h0M119.1 664.9h0M135.3 689.1h0M151 693.3h0M125.2 690.5h0M169.3 685.5h0M141 607.6h0M171.3 666.7h0M164.2 687.7h0M161.6 658.1h0M162.5 671.7h0M159.8 699.2h0M167.4 693.4h0M152.8 655.9h0M132 671.9h0M140.8 677.2h0M149.1 678.9h0M144.3 694.7h0M135.8 699.3h0M168.2 686.7h0M133.2 696.5h0M136.7 665.1h0M120.9 688.9h0M160.1 672.1h0M123.4 660.7h0M163.2 692.6h0M162.1 687.7h0M118.6 687.4h0M119.2 681.9h0M137.5 692.7h0M142.7 658.3h0M148.7 699.9h0M143.6 627.2h0M144.2 693.1h0M118.9 681.8h0M134.1 683.9h0M170.6 661.6h0M144.5 696.7h0M148.8 681.1h0M132.7 698.7h0M161.9 673.2h0M134.4 650.1h0M135.6 699.7h0M156.4 682.1h0M151.7 657.9h0M161.7 683.4h0M166 696.7h0M160.4 675.1h0M132.6 697.9h0M163.8 683.4h0M169.9 699.8h0M137 696h0M134.2 681.6h0M136.7 660.5h0M132.8 694h0M143.6 665.5h0M155.8 682.4h0M120.6 699.6h0M151.3 691.1h0M166.8 634.2h0M158.5 684.7h0M144.5 697.8h0M138.6 610.4h0M133.2 690.9h0M120.2 657.7h0M115.9 694.2h0M128.9 665.1h0M153.3 683.8h0M132.2 656.4h0M130 655h0M160.1 679.5h0M163.2 677.2h0M160.8 654.2h0M157 687.8h0M120.5 693.8h0M150.2 683.6h0M169.8 666.7h0M142.2 680.7h0M148.3 700.2h0M124 693.2h0M147.1 684.6h0M157.9 677.1h0M118.6 692.3h0M161.8 676.7h0M161 671h0M137.5 697.3h0M158.9 681.4h0M166.5 692.1h0M161.5 669h0M127.8 680.3h0M157.8 687.7h0M142.2 691.2h0M145.3 687.2h0M127.6 672.8h0M160.7 681.1h0M160.5 697.9h0M165 662.7h0M118.2 688.5h0M137.7 689.2h0M131 633.9h0M151.9 635.9h0M118 686.2h0M116.2 685.7h0M160.9 689.7h0M122.7 694.3h0M164 669.6h0M118.2 699.4h0M169.7 692h0M160.2 696.8h0M158.4 694.4h0M154.1 694.2h0M122.7 694.1h0M156.1 700.1h0M151.5 659.1h0M153.6 674.2h0M140.6 689.2h0M155.3 694.3h0M169.5 692.3h0M164 599.1h0M125.3 652.5h0M140.4 683.7h0M128.9 675.3h0M168.6 678.9h0M115.7 668.3h0M161.5 690.8h0M119.6 692.6h0M143 699.9h0M154.7 683.3h0M147.5 693.6h0M146.7 688h0M134.8 685.9h0M133.5 697.9h0M128.9 692.7h0M160.1 666h0M136 682h0M134.9 674.6h0M145.7 699.6h0M135.3 690.5h0M168.7 697.8h0M132.4 690.2h0M166 671h0M134.8 688.2h0M144.6 691.3h0M128.2 697.2h0M163.3 680.5h0M158.8 687.4h0M142.1 667.5h0M133.2 692.4h0M170.5 686h0M125.6 698.1h0M129.9 691h0M126.3 693.1h0M128.8 694.5h0M159.7 690.6h0M126.1 643h0M152.4 687.9h0M142.3 660.7h0M166.8 659.8h0M137.3 621.1h0M152.4 694.4h0M117.4 693h0M122.8 680.8h0M168.2 612.6h0M154.3 689.8h0M155.1 680.6h0M115.9 682.4h0M145 690.3h0M163.3 691.5h0M161.6 683.8h0M117.1 699.6h0M170.1 689.3h0M151.6 689.7h0M145.5 671.9h0M126.1 693.7h0M158.9 652.3h0M160.6 677.2h0M148.7 687.4h0M121.5 677.6h0M117.8 674h0M163.6 672.1h0M150.6 677h0M148.2 675.4h0M169.1 690.2h0M146 688.1h0M137.8 696.5h0M121.1 661.9h0M153.4 676.8h0M118.3 680.1h0M125.8 648.6h0M129.6 700.6h0M134.5 668.6h0M133 694.1h0M163.3 694.6h0M140.6 692.5h0M159.4 659h0M163.8 688h0M144.6 668.1h0M142.1 650.3h0M128.8 686.3h0M154.9 688.8h0M169.9 700.6h0M168.1 657.1h0M143.3 686.5h0M134.4 656.3h0M169.6 684.1h0M171.1 695.3h0M165.1 699.6h0M166.7 669.1h0M156 687.2h0M166 684.7h0M149.1 687.1h0M165 679.7h0M132.3 681.9h0M150.4 693.6h0M152.2 594.7h0M148.6 682.6h0M145.3 673h0M143 678.1h0M167 683.3h0M116.9 700.3h0M129.8 675.3h0M153.2 696h0M135 654h0M165.3 668.9h0M160.1 696.6h0M129.5 657.2h0M164.7 674.5h0M145.3 692.6h0M147.4 648.2h0M142.4 673.5h0M145.4 690.1h0M169.2 694.3h0M117.1 686.2h0M167.3 675.6h0M167.4 685.6h0M121.3 678.9h0M151.8 697.1h0M152.4 700.4h0M170.4 691.2h0M149.5 675.1h0M169 695.4h0M165.5 671.8h0M140 676.7h0M150.3 697.2h0M133.6 698.8h0M117.7 695.3h0M117.9 679.5h0M115.6 681.2h0M123.5 695.1h0M134.9 689.5h0M134.1 687.5h0M157.9 686.7h0M130 681h0M158.9 646.9h0M123.3 681.6h0M118.5 646.4h0M153.4 608.5h0M134.6 667.4h0M131 659.2h0M149.7 686.4h0M160.3 687.7h0M125 684h0M121 693.4h0M132.2 669.4h0M165.2 667.3h0M158.4 696.3h0M120.1 690.2h0M134.1 655.4h0M153.2 678.4h0M168 684.1h0M153 679.5h0M160.7 670.6h0M140.9 697.7h0M147.2 680.1h0M165.4 697.3h0M159.1 695.4h0M147.1 694.4h0M167.8 664h0M139.4 675.3h0M127.6 681.3h0M161.6 698.9h0M151.5 696h0M137.3 692h0M125.2 695.1h0M146.7 698h0M150.9 672.9h0M148.2 698.9h0M132.7 686.9h0M134.7 677.8h0M122 687.7h0M156 665.8h0M147.5 687.2h0M148.7 680.9h0M163 692h0M166.1 665.5h0M140.7 689.5h0M135 661h0M158.7 634h0M140.8 675.3h0M166.8 679.6h0M166.6 685.1h0M124.5 682h0M125.8 683.2h0M163 693.7h0M122.9 678.6h0M119.5 691.1h0M151.2 689.3h0M122.3 695.7h0M170.9 694.9h0M148.7 701.5h0M162.7 690.1h0M155.4 661.7h0M135.8 682.8h0M132.9 671h0M139.1 680.7h0M165.7 685.5h0M163.9 694h0M123.3 686h0M148.2 658.8h0M170.9 701.6h0M159.7 694.6h0M130.8 648.3h0M148.9 699.1h0M165.6 686.9h0M170.2 686.6h0M131.2 695.1h0M167.9 690.7h0M141.2 666.5h0M151 698.3h0M152.1 698.4h0M126.8 694.5h0M154.5 684.6h0M120.3 690.3h0M143.2 689.5h0M150.1 665h0M158.4 697.4h0M118.1 689.6h0M126.7 692.3h0M131 681.6h0M156.1 677.3h0M163.1 681.3h0M148.5 683.7h0M118.3 688.3h0M149.5 695.8h0M141.9 678.9h0M134.9 646.9h0M136.6 686.4h0M154.7 670.4h0M122.9 701.1h0M149.1 685.6h0M131.8 661.9h0M160.1 694.9h0M122.1 681.6h0M158.9 698.3h0M142.7 683.6h0M141.7 676.8h0M147.4 682.1h0M161.4 689.7h0M118 688.2h0M118.1 688.9h0M139.5 675.1h0M146.3 692.1h0M125.7 691.2h0M138.5 700.8h0M147.8 692.5h0M146.4 683.4h0M140.5 684.1h0M158 671.3h0M164.7 664.2h0M116.2 668.7h0M119.2 699.7h0M158.1 686.8h0M151.6 695.4h0M150.6 676.6h0M169 663.5h0M124 656.6h0M170.3 672.9h0M143.1 696h0M131.9 673.1h0M127.4 686.9h0M160.6 605.6h0M133.2 678.8h0M134.8 684.6h0M152 695.8h0M120.9 680.6h0M142 679.9h0M139.2 684.2h0M137.5 651.5h0M146.2 662.8h0M136.2 679.8h0M161.1 691.4h0M170.8 633.2h0M120 692.3h0M121.2 662.1h0M146.5 693.7h0M133 659.7h0M159 693.7h0M157.3 700.1h0M155.3 668.9h0M116.6 687.1h0M162.7 690.4h0M117.2 658.8h0M120.4 689h0M170.5 681.4h0M131.1 687.9h0M164.1 695.2h0M153.6 654.7h0M128.5 697h0M121.8 674h0M161.8 655.8h0M166.2 697.6h0M129.6 696.9h0M162.1 593.7h0M144.3 658.5h0M158.8 689.2h0M151.6 697.4h0M143.4 683.9h0M147.7 679.5h0M127.9 692h0M130.6 693.5h0M115.9 684.2h0M134.9 696.5h0M155 668.9h0M150.5 701h0M167.2 679.4h0M131.5 689.2h0M137.8 676h0M153.5 682h0M161.6 690.6h0M135.6 682.6h0M136.9 697.1h0M134.4 666.1h0M164.1 677.5h0M161.1 692h0M138.1 692.9h0M151.9 700.6h0M160.5 677.7h0M116.9 673.4h0M158 656.3h0M143.5 676.5h0M129.4 660.8h0M137.7 688h0M156.5 698h0M146.8 690.2h0M131.4 682.9h0M169.9 699.8h0M170.7 685.6h0M169.3 700.6h0M136.6 700.1h0M150.6 682.6h0M166.9 600.1h0M126.4 687.5h0M136.8 686.2h0M140.5 698.1h0M169.5 697.4h0M137.4 664.9h0M169.4 688.2h0M127.6 686.4h0M169.2 690h0M170.3 700.5h0M156.1 682.5h0M161 676.7h0M131.9 692h0M163.4 679.9h0M133.7 685.2h0M135.2 696.4h0M170.2 686.5h0M135 679.5h0M152.7 671.4h0M121.6 696.2h0M159.5 689.8h0M124.6 696h0M167.8 678.9h0M147.6 693.1h0M121.2 696.4h0M124.5 676.4h0M154.4 697.5h0M166.5 683.9h0M152.9 670.5h0M124 696.4h0M152.9 688.6h0M168.3 690.6h0M133.2 644.8h0M139.9 688h0M148.1 686.9h0M141.3 693.9h0M131.3 696.6h0M127 667.3h0M135 679.3h0M127.4 679.4h0M156.2 692.1h0M121.6 681.4h0M127.7 658.5h0M131.5 681h0M116.2 657h0M139.4 643.8h0M134.2 675.2h0M156.2 702.7h0M171.1 645.2h0M133.6 655.6h0M128.4 685.9h0M122.8 701.2h0M123.9 690.3h0M147.2 673.4h0M136.4 677.7h0M121.7 689.4h0M141.3 688.1h0M160.1 692h0M116.2 648.4h0M158.3 682.1h0M170.4 685.1h0M138.7 688.8h0M137.1 700.3h0M169 678.3h0M132.9 683.1h0M134.2 698h0M149.5 649.6h0M121.5 677.1h0M137.7 692.3h0M125.8 618.1h0M146 693h0M123.4 673.4h0M117.4 607.2h0M145.2 677.4h0M168.8 658.9h0M155.4 659.2h0M164.3 684.9h0M146.9 655.8h0M141.1 672h0M137.9 696h0M118.3 681.5h0M123 671.4h0M120.9 688.9h0M155.3 697h0M139.6 680.2h0M141.7 693.9h0M151.9 682.5h0M161.9 693.9h0M142.8 680.7h0M134.1 631h0M152 651.5h0M166.2 667.9h0M122.1 681.9h0M162.4 676.9h0M136.4 689.8h0M138.1 644.7h0M120.7 681.6h0M140.6 662.8h0M123.8 672.8h0M137.6 695h0M164.5 683.7h0M138.2 670.6h0M166.2 625.4h0M169.7 700.5h0M151 695.6h0M150.4 650.3h0M132 682.7h0M148.8 674.5h0M156.7 668.8h0M164.4 655.4h0M166.6 698.1h0M159.9 660.4h0M158.2 699.8h0M147.1 698.3h0M157.4 696.7h0M125.2 698.9h0M134.6 656.9h0M142.5 697.9h0M165.6 689.4h0M115.8 670.1h0M156.1 688.7h0M116.3 688.4h0M169.7 659.6h0M142.5 680.9h0M122.6 675.3h0M128.7 683.1h0M148.5 694h0M115.3 686.6h0M159.5 680.3h0M118 677.2h0M157.8 697.4h0M165.1 642.5h0M165.5 665.7h0M167.8 694.6h0M133.3 668.6h0M169.4 676.5h0M118.1 652.7h0M145.2 669.4h0M143.8 679.7h0M159.8 696.5h0M155.7 692.1h0M134.6 678h0M154.5 667.9h0M126.8 689.4h0M166 688.1h0M119.2 684.1h0M128.9 681.2h0M132.4 678.3h0M123 699.9h0M154.2 693.4h0M151.8 695h0M129.1 696.8h0M132.9 688.8h0M166.3 656.6h0M123.1 696.8h0M156.1 678.5h0M144.7 698.2h0M154.6 697.6h0M126.2 688.2h0M149.6 606h0M167.3 699.2h0M122.6 700.1h0M156.8 671.3h0M149.3 659.8h0M127.7 664.7h0M140.9 685h0M143.8 629.1h0M141.3 670.3h0M135.3 674.4h0M148.7 610.3h0M168.1 698.3h0M117.9 697.5h0M164.5 650.1h0M164.2 670.5h0M143.9 689.8h0M144.3 699.8h0M154.6 683.8h0M166.8 690.3h0M143.4 657h0M120.5 680.8h0M169.7 693h0M133.7 693.8h0M168.6 701h0M147.9 694h0M133.5 678.5h0M164.1 688.8h0M162.7 687.3h0M131.6 684.4h0M117.5 687.7h0M136.8 684.2h0M163.5 655.9h0M139.3 698.6h0M162.6 688.6h0M152.2 687.7h0M148.6 680.3h0M162.8 656.3h0M171 695.1h0M129.6 693.2h0M158.7 691.3h0M139.2 696h0M123.8 605.1h0M120.9 699.8h0M150.5 696h0M130.3 686.5h0M139.6 678.3h0M153.4 681.4h0M167.6 689h0M118.5 651.6h0M125.5 665.3h0M133.3 697h0M167.1 645.4h0M144.4 697.4h0M133.1 680.1h0M157.6 671.9h0M123.9 634.5h0M116.7 654.6h0M138.4 684.9h0M150.9 644.7h0M118.2 676.1h0M166.1 683.3h0M133.6 685.9h0M117.6 663.5h0M122.2 648.5h0M143.9 678h0M139.8 684h0M141.8 675.2h0M152.7 673.2h0M164.5 672.3h0M163.3 695.3h0M167.5 699.5h0M122.5 683.2h0M152.5 679h0M148.6 686.3h0M136.4 698.4h0M156.4 685.2h0M129.4 692.1h0M166 695.3h0M158.7 678.4h0M158.2 680h0M115.4 690.7h0M123.6 680.4h0M130.6 672.9h0M163.6 683.5h0M147.1 693.5h0M149.7 699.1h0M163.4 671.4h0M149.8 683h0M159.1 674.7h0M146.1 694.5h0M131.8 674.8h0M170.2 699.8h0M117.5 611.4h0M150.7 691.8h0M167.4 687.4h0M153.5 684.5h0M144.5 688.2h0M167.2 668.6h0M158.6 696.9h0M157.1 694.1h0M159 666.3h0M141.9 678.7h0M166.4 689h0M146.6 658h0M157.1 683.8h0M118.3 688.4h0M132.8 686.2h0M166.5 699.2h0M151.3 682.3h0M122 676.3h0M129.4 687.5h0M160.9 695.7h0M169.3 630.8h0M138.1 665.7h0M115.8 685.2h0M159.6 691.7h0M170.1 689h0M158.7 664h0M119.5 674h0M142.8 675.3h0M148.6 689.8h0M165.4 695.8h0M153.3 627.1h0M150.5 702h0M163.3 698.6h0M132.1 670.7h0M115.8 693.8h0M152 673.1h0M133.6 698.4h0M116.3 671.7h0M154.2 688h0M136.3 697.4h0M144.5 690.1h0M151.8 650.3h0M138.4 684.1h0M161.5 678.2h0M167.4 682.5h0M169.1 677h0M149.3 685.8h0M118.9 687.2h0M162 676.9h0M148.7 689.8h0M170.4 671.7h0M136.6 699.3h0M132.4 669h0M158.8 665.2h0M161.1 660.6h0M164.5 658.4h0M130.6 699.9h0M145.7 678h0M161.2 697.6h0M132.7 686.7h0M116.4 684.5h0M144.5 690.8h0M152.9 696.2h0M123.1 684.1h0M148.2 632.9h0M119.9 670.8h0M167.3 683.4h0M167.8 669.5h0M137.4 682h0M120.7 688.7h0M156.9 679.4h0M165.8 600.4h0M164.6 694.5h0M145.1 689.6h0M151.7 679.2h0M122.9 635.2h0M130.9 663.3h0M122.7 684.1h0M157.1 666.1h0M159.8 691.1h0M119.2 647.3h0M141.2 679.4h0M120.6 700.1h0M132.5 681.1h0M141.9 650.8h0M134.9 669.9h0M151.5 696.7h0M150.1 693.8h0M133.8 659.9h0M159.2 666.8h0M169 675.4h0M161.8 672.5h0M170.5 689.7h0M135 685.2h0M139 683.9h0M128.2 679.4h0M116.7 696.9h0M159.6 682.5h0M129.8 697.3h0M124.3 670.7h0M168.5 692h0M167.2 696h0M147.4 676.5h0M165 684.3h0M140.3 701.6h0M117.8 685.5h0M156.8 677h0M162.9 695.5h0M118.3 689.9h0M130.6 658.8h0M168.5 633.3h0M166.8 680.5h0M123 676.1h0M135.2 696h0M142.3 695.2h0M151.3 681h0M124.1 663.1h0M143.8 693.6h0M134 680.8h0M156.4 683.1h0M134.6 627.6h0M136.4 688.4h0M150.7 695h0M140.3 689.4h0M131.1 677.9h0M146.1 684.1h0M155 692.8h0M147.9 692.8h0M166.2 698.5h0M162.1 694.9h0M149 608.7h0M168.9 659.1h0M124 597.3h0M169.4 681.5h0M146.3 692.5h0M161.6 684.3h0M133.2 675.6h0M147.9 695h0M119.5 702h0M137.1 612.3h0M155.3 680.9h0M143.8 678.5h0M154.8 688.2h0M158.9 654.8h0M152.5 676.8h0M167.9 690.2h0M146.5 675.4h0M160.9 699.7h0M157.9 670h0M170.8 697.4h0M166.4 691.7h0M148.9 693.1h0M153.1 685.2h0M117.4 694.7h0M135.1 684.9h0M169.3 676.4h0M151.6 676.1h0M161.6 680.7h0M136.8 688.8h0M141.5 669.5h0M154.1 659.8h0M135.7 671.8h0M149 690.1h0M170.5 683.5h0M148.1 600.3h0M153.3 696.6h0M126.5 677.8h0M137 699.4h0M150.9 697.1h0M145.4 640.7h0M136.2 684.5h0M163.7 671.4h0M132 608.9h0M116.2 675.5h0M141.1 659.1h0M120.4 676.6h0M129.1 686.2h0M116.9 667.4h0M137.2 687.3h0M140.7 675.5h0M129.1 688.4h0M140.3 672.5h0M140.9 697.7h0M166.6 689.7h0M165.3 699.6h0M168.9 662.6h0M161.1 662.1h0M117.7 673.8h0M122.5 690.4h0M163 653.1h0M131.3 668.5h0M156.8 683h0M119.8 681.3h0M163.8 690.4h0M155.1 692.2h0M118.7 695.9h0M123.4 695.3h0M166.7 682.7h0M142.1 686.6h0M141.3 676h0M155.4 637.7h0M143.1 697.9h0M163.8 664.4h0M148 692.8h0M161.4 639.9h0M157.1 688.1h0M171.2 686.4h0M144.1 635.9h0M138.9 672.9h0M141.6 701.6h0M156.2 665h0M117.7 665.8h0M157.2 631.7h0M167.2 675.2h0M127.4 694.9h0M121.2 696h0M161.7 666.2h0M148.4 692.4h0M156.4 666.8h0M144.9 689.1h0M126.1 683.1h0M165.8 690.2h0M165.1 685.6h0M119.7 668.5h0M159.1 697.4h0M144 691h0M165.5 651.6h0M139 698h0M162.6 694.5h0M143.9 689.4h0M146.7 691.3h0M128.3 694.1h0M147.9 666h0M123.6 700.9h0M167.7 685.9h0M129.9 685.9h0M160.4 664.9h0M132.4 696.6h0M145.8 684.9h0M130 698.1h0M169 690.5h0M142.9 676.1h0M153.8 688h0M123.1 692.6h0M158 604.9h0M163.7 702.5h0M143.6 679.8h0M160.9 691.8h0M150.4 697.4h0M164.9 681.9h0M153 665h0M165.4 679.1h0M143.8 687h0M170.4 669.5h0M138.5 623.8h0M164.1 691.4h0M154.3 681.8h0M115.4 674h0M126.4 699.7h0M156.5 686.2h0M164.9 686.6h0M158.9 660.9h0M133.8 682.4h0M135 685.4h0M147.8 637.5h0M137.8 691.7h0M126.5 701.6h0M149.2 657.8h0M161.3 687h0M157.4 654.2h0M137.4 627.8h0M116.1 678.5h0M149.9 677.8h0M130.6 694.5h0M164 677.4h0M156.5 699.3h0M143.9 680.9h0M141.2 687.1h0M165.6 687.6h0M134.2 691.7h0M139.2 694.4h0M153.4 698.4h0M158.1 673h0M158.1 694.9h0M165.6 691.8h0M124.9 685.3h0M162.1 689.3h0M154.6 686.2h0M136.6 678.7h0M158.5 678.4h0M132.7 698.4h0M166.5 683.8h0M139.8 679h0M163.4 674h0M140.4 688.7h0M152.5 646.1h0M167.1 672.3h0M164.3 669.6h0M170.9 677.1h0M129.3 682.6h0M153.9 691.6h0M129.4 685.3h0M122.5 677.3h0M133.3 693.1h0M136.7 680.8h0M136.5 688.4h0M168.1 694.8h0M161.1 686.8h0M140.4 683.7h0M148.1 676.5h0M118.5 694h0M131.9 692.6h0M129.2 659.8h0M130.1 677.5h0M117.7 693h0M168.9 694.4h0M165.5 685.5h0M163.2 672.9h0M162.9 654.7h0M151.1 660.5h0M155.9 692.6h0M143.2 694.7h0M151.5 695.9h0M124.8 655.7h0M132.9 686.4h0M124.7 674.9h0M124.3 674.4h0M166.8 649.2h0M130.1 684.4h0M140.8 701.5h0M140.6 690.4h0M170.7 670.7h0M122.4 671h0M152.7 683.1h0M131.1 684.5h0M155.8 672.8h0M169.6 687.8h0M152.5 675.6h0M170.2 690.9h0M144.2 661.8h0M123 694.5h0M151.4 662.6h0M123.8 667.2h0M155.8 683.6h0M131.3 673.4h0M140.5 675.6h0M163.2 634.7h0M163 700.8h0M136.5 661.5h0M171.2 686.9h0M145.5 689.8h0M119.1 667.5h0M162.5 691.3h0M132.8 687.7h0M143.1 696.2h0M131.7 701.3h0M134.3 696.3h0M124.4 691.1h0M138.2 697.9h0M156 691.7h0M144.5 664.4h0M115.6 661.9h0M164.2 690.3h0M144.4 677h0M118.8 698h0M155.5 691.6h0M121.6 679.4h0M162.6 693.5h0M160.4 692.5h0M166.7 599.2h0M159.7 685.5h0M158.7 679h0M125.4 688.7h0M153 689.4h0M131.7 668.4h0M127.1 694.7h0M140 657.1h0M136.3 675.1h0M135.1 687.6h0M161 686.9h0M133.2 692.5h0M126.4 672.2h0M145.8 698.9h0M122.6 680.6h0M152.1 678.8h0M116.8 688.5h0M159.7 690h0M170.3 697h0M135.6 682.8h0M132.9 643.4h0M121.4 680.9h0M147.8 662.4h0M133.2 680.5h0M135.8 642.1h0M150.3 700.7h0M133.6 695.8h0M158.3 694.3h0M162.3 691.8h0M142 692.7h0M120.3 677h0M143.8 657.5h0M146.6 680.4h0M135.7 689h0M150.9 653.1h0M158.9 671.7h0M138.4 691.8h0M153.9 649.4h0M153.6 691.9h0M158.8 694.7h0M125.7 674.1h0M134.8 679.2h0M149.9 691h0M127 697.9h0M158 638.5h0M137 656.2h0M151.1 668.5h0M124.1 687.8h0M129.2 692.8h0M129.8 596.5h0M121.6 686.5h0M133.4 689.3h0M123 697.9h0M160 677.2h0M142.5 643.5h0M118.2 692.7h0M148.1 692.6h0M142 658.8h0M152.5 677.7h0M145.9 692.7h0M125.9 677.9h0M150.1 676.6h0M161.1 683.4h0M133.1 693.7h0M167.2 657.8h0M159.7 700.4h0M120.1 683.5h0M149.6 675.6h0M128.1 673.1h0M115.9 698.6h0M118.4 667.1h0M145.3 685.3h0M142.8 656.8h0M165.1 685.3h0M129.8 673.1h0M159.5 676.6h0M139.6 694.7h0M163.8 669.4h0M159.6 684.4h0M143.6 647.2h0M160.4 670.4h0M165.8 680.5h0M148.4 691.5h0M166.6 663.3h0M130.7 694.8h0M117.2 695.5h0M130.3 681.8h0M149.2 696.5h0M115.6 663.4h0M143.3 681.4h0M140.2 702.3h0M133.8 697.2h0M116.8 688.8h0M141.4 678.4h0M161.5 657.5h0M162.8 690.8h0M165.2 675.6h0M168.9 683.5h0M115.7 677h0M167.6 692.8h0M168.7 641.7h0M122.9 686.9h0M152.2 696.2h0M119.2 687.9h0M163 660.7h0M144.7 648.5h0M134.2 684h0M146.7 697.6h0M138.3 690.9h0M160 696.4h0M167.4 693.9h0M160.3 695.1h0M166.3 689.3h0M153.6 678.5h0M140.6 604.7h0M165.4 672.9h0M137.2 681h0M142.6 685.5h0M150 682.6h0M120.3 668.6h0M116.7 679.6h0M152.6 700h0M167 677.1h0M151.1 688.9h0M145.9 664.9h0M138.3 685.6h0M169.7 689.4h0M129.5 689.6h0M116.2 675.1h0M161.6 678.5h0M142.8 682.7h0M140.6 692.6h0M155.4 693.8h0M127.4 666.6h0M168.5 683.6h0M163.4 692h0M121.4 642.4h0M118.3 689.6h0M156.7 694.1h0M117.9 661.3h0M149.2 696.4h0M139.9 693.7h0M154.8 678.1h0M156.2 691h0M149 648h0M135.6 692.2h0M136.7 693.5h0M118.4 679.8h0M157.9 694.2h0M149.1 696.6h0M133.8 693.8h0M128.5 678.3h0M133.6 666.3h0M145.1 682.8h0M163.1 682.8h0M123.5 679.8h0M167 634.3h0M154.7 647.9h0M127.7 685.7h0M136.5 683.4h0M157.1 678.8h0M141.8 671.9h0M131.2 673.6h0M127.5 615.3h0M134.4 674.1h0M157.9 679.3h0M119.9 689.6h0M156.7 683.4h0M129.5 678.6h0M149 677.9h0M160.7 694.6h0M140.5 686.7h0M160.6 677.1h0M159.5 680.1h0M158 691.4h0M130.1 694.3h0M140.7 685.8h0M146.5 675.3h0M170.6 674.9h0M125.3 671.1h0M128.9 675.3h0M166.2 657.7h0M167.9 683.5h0M168.9 701.9h0M136.2 684.8h0M118 687.9h0M134.8 690.1h0M153.5 668.8h0M144 688.3h0M121.1 686h0M167.6 691.9h0M164.8 694.6h0M134.7 681.4h0M158.5 689.8h0M141.2 694.8h0M160 694.9h0M167.6 690.4h0M164.6 695.1h0M135.2 677h0M118.9 696.8h0M139 685.4h0M162.5 692.9h0M133.7 678.3h0M151.9 678.6h0M126.8 681.5h0M121.1 674.5h0M145.4 660.4h0M123.3 698.3h0M163.8 680h0M147.8 690.6h0M152.5 690.8h0M160.8 695.8h0M129.9 672.6h0M140.3 665.6h0M143.8 662.5h0M144.8 678.3h0M144.4 684.1h0M148.9 682.7h0M139.8 694.4h0M164.8 684.7h0M135.8 678.9h0M164.3 664.9h0M120.4 677.5h0M133 700.4h0M125.1 688h0M151 674.7h0M117.1 677.9h0M166.7 612.2h0M134.4 673h0M130.9 685.7h0M168.4 670.9h0M164 669.8h0M147.9 687.2h0M165.4 630h0M154.2 694.2h0M116.9 693.5h0M136.6 693.2h0M115.6 675.7h0M123.9 690.6h0M165.6 670.6h0M126 653.7h0M132.9 659.3h0M136.9 687.6h0M146.1 683.8h0M133.7 698.7h0M118 693.4h0M158.7 671.8h0M167.8 666.6h0M128.9 682.3h0M152.8 693.1h0M125.5 673.1h0M154.3 675.3h0M141.8 697.3h0M126.1 644.3h0M128.6 686.6h0M157.4 683.2h0M151.5 689.3h0M121.8 661.5h0M160.8 696.3h0M169.9 691.2h0M150.4 697.2h0M166.9 702.4h0M144.9 672.2h0M148.1 681.8h0M155.9 693.3h0M117.8 697.3h0M158.6 683.9h0M137.8 657.7h0M163.5 652h0M137.5 617.3h0M135.3 675.9h0M169.4 658.2h0M130.1 687.1h0M166.3 694.8h0M146.6 700.4h0M151.9 691.4h0M121.4 690.9h0M160.1 694.5h0M162.2 658.4h0M136.9 676.4h0M137.5 686.5h0M120.5 702.5h0M156.1 686.2h0M142 679.9h0M124.4 682h0M156.6 678.9h0M159.3 667.3h0M129.5 664.9h0M115.4 664.2h0M154.1 681.3h0M169.9 700.1h0M124.1 686.9h0M148 683.1h0M138.8 695.1h0M119.6 690h0M157.1 688.4h0M130.6 652h0M162.1 690.4h0M142.2 636.2h0M138.4 611.3h0M155.5 680.9h0M162.8 693.5h0M118.5 675.3h0M116.7 680.6h0M141.5 677.1h0M151 678.3h0M133.6 689.2h0M121.9 689.5h0M156.6 664.4h0M130.5 693.4h0M140.5 692.8h0M127.5 676.8h0M166.7 667.8h0M152.7 678.6h0M155.7 644.2h0M141.2 693.8h0M169.6 695.2h0M160.5 687.9h0M154.2 683.6h0M154.1 685.3h0M134.1 686.8h0M121.5 691.2h0M134.2 675.9h0M118.8 684.6h0M116.7 695.7h0M136.7 675.4h0M134.7 691.6h0M155.9 697.2h0M154.8 681.4h0M171 696.9h0M136.5 700.4h0M123.7 678.1h0M115.9 647.4h0M118.6 663.7h0M117 696.1h0M159.3 673.1h0M158 692.6h0M144.7 698.8h0M123.9 679.5h0M169.7 680.8h0M143.7 695.2h0M166.8 677.2h0M142.1 654.7h0M131.8 694.1h0M119.6 676h0M135.2 681.3h0M146.1 667.1h0M161.9 690h0M147.4 675.4h0M130.8 691.9h0M138.6 694h0M139.5 692.9h0M133.7 657h0M164.2 657.2h0M118.6 676.2h0M130 644.2h0M147.1 686.4h0M160.4 678h0M120.6 599.9h0M118.9 664.8h0M150.3 681.7h0M117.7 681.9h0M170.9 677.1h0M123.4 682.3h0M159.1 648.9h0M129.4 667.6h0M117.5 678.3h0M129.8 681.8h0M128.2 683.8h0M124.8 697.8h0M125 662.1h0M135.4 683h0M154.5 676.4h0M151.3 656.7h0M162.5 683h0M118 695.6h0M120.7 698.5h0M138.2 687.1h0M158 677.1h0M139.7 684.4h0M145.8 688.3h0M151.5 688.7h0M151.1 692.3h0M157.6 670.8h0M148.6 686.8h0M115.9 650.6h0M134.2 689.6h0M129.1 658h0M128.1 676.2h0M146.4 684.7h0M141.8 695.3h0M143.1 681.1h0M140.7 672.2h0M167.5 695.4h0M167.9 678.4h0M146.1 668.4h0M154.9 687.6h0M129.5 699.2h0M142.7 693h0M124.1 628.8h0M148.1 684.7h0M121 639.1h0M129.9 685.6h0M129.9 680.7h0M163.1 697.6h0M142.3 678.6h0M137.6 699.7h0M122.6 669.1h0M132.1 666.3h0M136.7 680.4h0M123.3 685.6h0M160.1 690h0M123.3 657.4h0M119.1 682.3h0M137.3 675.6h0M160.2 681.8h0M143.8 697.1h0M165.4 666.1h0M149.3 666.3h0M169.6 683.1h0M167.4 695.8h0M152.2 664.7h0M171 694.5h0M170.9 691.2h0M158.1 678h0M117.2 678.3h0M167.9 690.6h0M167.2 665.9h0M157.2 684.1h0M134.9 692.9h0M164 698h0M135.1 674.5h0M148.7 699.7h0M160.1 668.3h0M146.5 701.4h0M150 677.2h0M143.1 664.4h0M153.3 643.9h0M145.1 695h0M143.5 656h0M139.6 666.4h0M166.5 680.3h0M166.3 666.1h0M135.9 697.7h0M155.7 685.3h0M143.9 684.3h0M171.2 663.3h0M147.7 698.8h0M145.7 697h0M163.1 700.4h0M170.6 665.5h0M119.8 687.4h0M137 680.8h0M144.8 686.2h0M122.2 666.1h0M151.4 692.8h0M129.6 698.8h0M147.5 690.9h0M129 694.7h0M158.6 680.8h0M128.8 645.3h0M120.5 683.8h0M147.4 689.2h0M140.6 694.5h0M133.7 692.9h0M169.7 689.1h0M125.2 700h0M133.6 666.6h0M138.1 672.4h0M140.7 662.3h0M160.1 654.4h0M143.6 667.1h0M166.1 679.3h0M145.2 690.6h0M161.9 681.7h0M151.2 694.8h0M121.5 687.3h0M170.5 699.8h0M146.8 689.9h0M158 676.4h0M161.2 679.8h0M115.5 664.2h0M123.5 696.7h0M160.1 685.4h0M116.3 634.6h0M168.6 689.8h0M151.4 697.9h0M129.5 672.3h0M139.6 674.4h0M148.9 695.7h0M166.8 690.4h0M146.9 691.7h0M140 688.1h0M152.6 700h0M134 700h0M120.6 665.7h0M135.2 665.2h0M152.1 673.6h0M157.4 681.1h0M136.4 660.5h0M138.4 668.8h0M151.7 690.1h0M169.6 674.3h0M169.2 689.7h0M126.8 696.8h0M145 679.8h0M126.6 698.4h0M148.9 681.4h0M160.6 675.6h0M121.1 682.1h0M139.5 686h0M147.7 693.5h0M122.5 695h0M133.5 676.7h0M124.3 682h0M132.7 680.8h0M138.4 676.3h0M153.3 682.7h0M153.3 694.9h0M137.5 682.9h0M164.3 680.7h0M163.6 690.8h0M163.4 653.2h0M170.1 632.3h0M162 693h0M154.2 700.6h0M153.5 688.6h0M138.4 688.9h0M144.9 682h0M127.9 697.8h0M118.1 693.6h0M156.4 689.8h0M154.9 681.4h0M158.5 694.8h0M153.8 699.6h0M127.8 678.2h0M151.6 668.8h0M125.5 682.1h0M171.3 665.9h0M154.2 701.1h0M134.9 683.3h0M147.5 676.2h0M145.4 679.7h0M161.9 685h0M123 676.4h0M117.2 660.7h0M168.3 693.4h0M165.6 690.9h0M150.6 660.3h0M143.3 683.8h0M168.4 681.7h0M163.7 686.6h0M164.1 692.3h0M119.6 663.2h0M144.1 670.4h0M123.1 664.3h0M117.1 652.4h0M156.7 693.6h0M145.6 664.6h0M145.6 694h0M122.7 700h0M167.2 691.3h0M116.6 684.8h0M165.4 694.2h0M149.8 676.6h0M168 671.5h0M135.9 697.1h0M158.9 690.7h0M126 700.6h0M129.1 677h0M169.8 695.8h0M146.2 667.1h0M127 697.7h0M133.1 681.1h0M155.3 696.1h0M138.1 678.5h0M121.8 685.5h0M115.4 674.3h0M157.2 682.9h0M138.7 691.9h0M138.7 681.8h0M125 680.3h0M140.3 686.4h0M140.9 652.6h0M135.7 687.3h0M124.5 682h0M118.3 690.1h0M134.6 693.5h0M131.6 700.4h0M132.3 678.6h0M142.4 669.5h0M157.6 679.5h0M146.2 622.7h0M121.4 679.9h0M150.5 674.3h0M158.8 669.4h0M143 698h0M157 674.1h0M168.7 681.3h0M129.9 690.1h0M154.5 686.2h0M140.3 698.7h0M157.6 684h0M170.5 671.9h0M145.2 698.7h0M123.3 678.9h0M145.2 697.1h0M166.8 687.5h0M123 692.7h0M137.1 657.9h0M153.4 687.6h0M163.1 692.3h0M160.6 669.8h0M151.1 691h0M157.5 682.2h0M166.4 635.4h0M154.2 655.8h0M164.3 690.9h0M116.6 697.9h0M148.2 684.9h0M138.6 694.7h0M164.6 699.6h0M159.7 681.7h0M150.4 697h0M135.5 696.1h0M166.2 685h0M133.4 691.7h0M159.9 690.8h0M170.6 696.6h0M144.3 690.8h0M117.6 641.5h0M159.7 699.6h0M147.3 691.4h0M141 674.5h0M149 688.2h0M146.7 697.9h0M163.8 692.3h0M145.2 698.2h0M124.7 629.3h0M166.3 676.1h0M144 699h0M127.7 696.3h0M148.3 675.5h0M134.7 689.5h0M169.8 669.1h0M147.6 665.7h0M128.2 663.1h0M133.9 695.1h0M169.3 687.6h0M141.7 673.1h0M158.9 622.4h0M154.1 696.3h0M122 693.1h0M125 666.6h0M137.8 695.1h0M148.6 697.5h0M148 661.8h0M146.7 681.6h0M141.8 667.1h0M130.8 687.3h0M115.7 667.4h0M152.4 658.6h0M119.2 670.6h0M163.7 681.7h0M136.7 645.1h0M139.8 690.9h0M153.4 677.3h0M159.2 683.2h0M131.4 690.2h0M157.9 695.1h0M142.1 616.9h0M128.1 691.1h0M121.3 693.9h0M120.6 688.4h0M133.3 697.1h0M154.7 671h0M146.3 694.7h0M161.3 677.2h0M154.7 691.3h0M166.5 688.2h0M163.8 687.1h0M143.8 676.9h0M126.4 671.3h0M144.7 694h0M152.6 695.3h0M163.3 689.1h0M160.9 681.2h0M156 696.5h0M134.1 670h0M144 696.5h0M161.8 695.8h0M146.2 681h0M121.4 663.9h0M148.5 676.3h0M169.8 692.8h0M165.4 668.6h0M128.7 691.5h0M165.5 689h0M159.9 696.2h0M170.7 668.2h0M151.6 677.6h0M157.4 670.4h0M125 678.4h0M158.7 668.8h0M169.1 684.8h0M168.7 698.5h0M143.6 679.7h0M137.9 676h0M164.3 679.3h0M127 682.9h0M144 666.7h0M126.4 659.9h0M124.4 694.7h0M165.1 668.8h0M164.6 654.2h0M146 666.4h0M165.6 669.9h0M152.9 660.2h0M162 688.2h0M147.9 694.1h0M133 684.7h0M124.5 680.6h0M152.1 681h0M161.5 678.9h0M117.9 687.1h0M150 668.7h0M119.1 696.2h0M145.5 671h0M161.6 687h0M152 686.1h0M160.9 697.7h0M141.4 685.6h0M144.5 699.4h0M156.3 686.6h0M128.6 685.7h0M146 685.9h0M156 688.9h0M118.1 670h0M140.5 624.4h0M153.4 692.4h0M135.2 666h0M166 692.4h0M128.4 697.5h0M140.8 691.7h0M170.5 692h0M149.5 701.5h0M162.5 695.3h0M167.3 687.1h0M142.9 689.1h0M155.3 684.1h0M149.2 699h0M168.3 637h0M141 670.6h0M155.8 698.7h0M116.1 685.7h0M170.7 698.6h0M145 664.9h0M133.9 682.8h0M145.7 659.1h0M135.8 688.2h0M136.7 693.7h0M146 680.8h0M133.8 621.7h0M125.6 677.6h0M158.4 676.8h0M144.6 694.8h0M149.8 677.8h0M167.4 687.7h0M161.5 665.2h0M151.7 697.4h0M164.2 692.8h0M154.7 690.1h0M128.8 681.9h0M165.9 700.6h0M115.5 700.2h0M118 687.3h0M164.7 698.5h0M168.1 620.9h0M164.3 697.9h0M131.2 682.3h0M132.3 670.3h0M145.6 697.3h0M158.2 695.6h0M168.4 653.6h0M127 656.8h0M118.7 648.8h0M127.5 683.9h0M168.5 661.2h0M169.4 677h0M129.3 673.4h0M153.2 695.4h0M155 677.6h0M127.6 680.6h0M155.6 685.7h0M163.1 681.1h0M145.6 680.7h0M142.4 678.6h0M158.7 671.8h0M144.5 691.5h0M163.8 701.6h0M136.5 664.7h0M126.6 672.5h0M149.9 693.4h0M141.9 675.4h0M149.5 641.8h0M154.6 673h0M126.8 691.9h0M135.1 673h0M137.2 674.3h0M167.4 661.2h0M154.5 656.5h0M126.1 696.2h0M159.8 691.8h0M133.6 669.2h0M169.6 690.2h0M163.1 683.4h0M139.5 683.9h0M125.2 689h0M121.5 685.6h0M120.7 665h0M169.6 659h0M167.8 677.1h0M143 680.8h0M154.2 675.5h0M163.8 696.9h0M137.3 684.6h0M136 660.7h0M139.9 693.7h0M165 694.7h0M161.5 662.1h0M162.3 697.6h0M154.5 679.3h0M126.2 686.6h0M157.1 694.9h0M143.3 693.1h0M164.4 692.1h0M153.4 676.4h0M157.5 661.2h0M126.6 654.4h0M123.5 694.1h0M163.5 663.4h0M137.3 691.6h0M123.2 633.6h0M120 673.1h0M149.9 671.1h0M139.9 691.9h0M136.1 659.9h0M128.2 686h0M155.5 683.7h0M154.2 679.3h0M140.2 693.3h0M128.9 691.7h0M171.2 689.2h0M123.8 692.2h0M157.9 678.2h0M118.8 659.9h0M115.5 678.2h0M144.9 665.5h0M132.9 686.6h0M128.7 689.6h0M118.9 686.7h0M165 674.2h0M145.5 671.1h0M143.5 694.5h0M148.9 663.7h0M116.9 667.7h0M133.5 697.2h0M148.9 659h0M141.3 692.7h0M118.6 683.3h0M150.1 698h0M147.6 675h0M166.2 648.4h0M118.7 694h0M136.4 683.6h0M137.7 670.7h0M159.1 690.1h0M165.9 698.3h0M121.7 681.6h0M122.9 687.1h0M143 698.5h0M136.3 660.3h0M150.4 693.7h0M124.8 689.5h0M131.8 659.6h0M167.7 688.2h0M125 681.4h0M143.3 692.3h0M152.4 701.7h0M142.8 692.8h0M163.5 694.4h0M115.3 696.2h0M171.1 682.8h0M157.2 681.8h0M125.4 686.3h0M132.2 688.9h0M141.4 700.9h0M153.6 701.6h0M125.3 672.5h0M125.7 671.2h0M156.4 688.2h0M148.3 684.3h0M156.4 686.4h0M115.3 654.5h0M122.4 622.9h0M127.3 689.4h0M158.4 667.8h0M149.6 675.2h0M160.6 675.3h0M162.3 680.6h0M133.6 694.3h0M160.2 700.7h0M160.4 670h0M163.2 659.4h0M130.1 694.6h0M166.3 699.6h0M159.5 607.7h0M127.6 700h0M116.9 674.1h0M118.2 701.7h0M142.1 655.6h0M120 682.9h0M127.8 700.3h0M151.8 643h0M118.5 692.8h0M115.3 684.8h0M148.8 694.7h0M162.1 684.5h0M157.4 678.5h0M121 688h0M149 697.2h0M122.8 693.2h0M144.5 652.4h0M157.7 668.7h0M155.7 677.9h0M146.8 692.7h0M145.6 670.4h0M154.2 676.9h0M125.8 688.2h0M153.4 686.6h0M124 701.5h0M164.1 686.3h0M149 680.1h0M155.5 670.2h0M143 699.8h0M143.1 697.4h0M147.9 651.9h0M161.9 677h0M148.7 688h0M118.8 693.3h0M165.2 666.6h0M124.8 677.8h0M119.8 684h0M134 671.7h0M148.5 669.1h0M152.2 683.6h0M161.7 693.7h0M137.2 659.2h0M141.2 677h0M142.4 668.2h0M119.3 659.5h0M171.3 674h0M156.6 687.9h0M135.2 655.3h0M156.8 688.7h0M144.1 692.3h0M156 689.2h0M152.2 682.3h0M124.6 689.4h0M132.8 614.7h0M149 688.1h0M139.9 701.4h0M129.3 688.8h0M171.1 691.2h0M161.3 667.3h0M168.9 692h0M160.2 683h0M151.6 656.1h0M146.2 692.2h0M135.9 689.6h0M147.4 695.9h0M169 684.7h0M135.1 698.3h0M148.1 693.3h0M170 690.3h0M161.4 690.6h0M160.6 634.1h0M127.7 686.8h0M153.1 625.6h0M151.3 685.1h0M149.3 691.1h0M166.8 619.1h0M118.1 640.2h0M154.7 633.6h0M147.2 699h0M117.4 662.2h0M129.7 695.7h0M135.8 699.2h0M164.5 684.8h0M120.1 682.2h0M117.2 670.3h0M149.3 683.5h0M130.2 688.1h0M164.4 693.1h0M165.9 679.3h0M158.5 674.9h0M122.1 622.6h0M143.1 678.6h0M153.8 690h0M147.8 693.2h0M149.9 657.2h0M132.6 684.1h0M135.7 691.4h0M141.8 696.8h0M142.4 687.2h0M168.7 693.6h0M171 681.4h0M124 660.2h0M160.5 688.8h0M126.5 698h0M134.4 695.5h0M135.3 662.2h0M161 667.1h0M159.5 691.8h0M150.5 677.5h0M162.5 690.2h0M61.5 705h0M136 705h0M103 705h0M138 705h0M37.8 705h0M115.1 705h0M48.8 705h0M104.2 705h0M47.7 705h0M147.4 705h0M151.4 705h0M146.3 705h0M99.2 705h0M121.2 705h0M82.1 705h0M79 705h0M140.6 705h0M69.9 705h0M142.8 705h0M62.2 705h0M94.9 705h0M73.3 705h0M62 705h0M113.9 705h0M47.5 705h0M52.7 705h0M148.2 705h0M48.7 705h0M143.1 705h0M158.1 705h0M63 705h0M161.3 705h0M156.3 705h0M134.4 705h0M44.8 705h0M78.9 705h0M169.7 705h0M135.2 705h0M124.2 705h0M138.6 705h0M59.4 705h0M147.5 705h0M102.5 705h0M90.6 705h0M169.4 705h0M169.4 705h0M65.8 705h0M102.8 705h0M103.7 705h0M110.4 705h0M109.7 705h0M101.4 705h0M144.9 705h0M119.8 705h0M64.1 705h0M105.3 705h0M170.7 705h0M37.3 705h0M108.5 705h0M80.6 705h0M44.7 705h0M108.1 705h0M159.5 705h0M156.1 705h0M97.6 705h0M64.7 705h0M150.4 705h0M70.4 705h0M123.9 705h0M66 705h0M155.2 705h0M74.2 705h0M82 705h0M125.1 705h0M152 705h0M85.1 705h0M106.9 705h0M163.8 705h0M121.5 705h0M107.6 705h0M151.9 705h0M98.8 705h0M148.8 705h0M87.2 705h0M155.7 705h0M83.8 705h0M166.5 705h0M149.2 705h0M75.7 705h0M60.9 705h0M143.8 705h0M52 705h0M113.9 705h0M61.4 705h0M106.7 705h0M130.8 705h0M42 705h0M83.5 705h0M70.9 705h0M146.5 705h0M132.4 705h0M72.3 705h0M122.7 705h0M46 705h0M44 705h0M129 705h0M102.4 705h0M84.1 705h0M69.9 705h0M114.7 705h0M160.7 705h0M71.1 705h0M50.6 705h0M120.5 705h0M46.8 705h0M65.9 705h0M44.6 705h0M47 705h0M137 705h0M62.1 705h0M171.3 570.7h0M159.2 582.9h0" stroke="#5a7cb4" stroke-width="1.40" stroke-linecap="round" fill="none" />
<line x1="36.3" y1="699.0" x2="171.3" y2="675.0" stroke="#3d6aa8" stroke-width="1.0" />
<line x1="28.4" y1="566.8" x2="28.4" y2="712.1" stroke="#444" stroke-width="0.9" />
<line x1="27.9" y1="712.1" x2="176.0" y2="712.1" stroke="#444" stroke-width="0.9" />
<line x1="25.8" y1="703.5" x2="28.4" y2="703.5" stroke="#444" stroke-width="0.7" />
<text x="24.5" y="706.5" font-size="8.2" text-anchor="end" fill="#151515" >0</text>
<line x1="25.8" y1="659.2" x2="28.4" y2="659.2" stroke="#444" stroke-width="0.7" />
<text x="24.5" y="662.2" font-size="8.2" text-anchor="end" fill="#151515" >2</text>
<line x1="25.8" y1="615.0" x2="28.4" y2="615.0" stroke="#444" stroke-width="0.7" />
<text x="24.5" y="617.9" font-size="8.2" text-anchor="end" fill="#151515" >4</text>
<line x1="25.8" y1="570.7" x2="28.4" y2="570.7" stroke="#444" stroke-width="0.7" />
<text x="24.5" y="573.7" font-size="8.2" text-anchor="end" fill="#151515" >6</text>
<line x1="36.3" y1="712.1" x2="36.3" y2="714.7" stroke="#444" stroke-width="0.7" />
<text x="36.3" y="721.6" font-size="8.2" text-anchor="middle" fill="#151515" >0.00</text>
<line x1="70.0" y1="712.1" x2="70.0" y2="714.7" stroke="#444" stroke-width="0.7" />
<text x="70.0" y="721.6" font-size="8.2" text-anchor="middle" fill="#151515" >0.25</text>
<line x1="103.8" y1="712.1" x2="103.8" y2="714.7" stroke="#444" stroke-width="0.7" />
<text x="103.8" y="721.6" font-size="8.2" text-anchor="middle" fill="#151515" >0.50</text>
<line x1="137.6" y1="712.1" x2="137.6" y2="714.7" stroke="#444" stroke-width="0.7" />
<text x="137.6" y="721.6" font-size="8.2" text-anchor="middle" fill="#151515" >0.75</text>
<line x1="171.3" y1="712.1" x2="171.3" y2="714.7" stroke="#444" stroke-width="0.7" />
<text x="171.3" y="721.6" font-size="8.2" text-anchor="middle" fill="#151515" >1.00</text>
<text x="103.0" y="732.2" font-size="8.2" text-anchor="middle" fill="#151515" >Coding score</text>
<text transform="translate(12.0,639.0) rotate(-90)" x="0" y="0" font-size="8.2" text-anchor="middle" fill="#151515">|Phenotype score|</text>
<text x="42.6" y="578.5" font-size="8.2" fill="#151515"><tspan font-style="italic">R</tspan>=0.24, <tspan font-style="italic">P</tspan>&lt;2.2e-16</text>
<line x1="220.4" y1="589.8" x2="220.4" y2="710.3" stroke="#444" stroke-width="0.9" />
<line x1="219.9" y1="710.3" x2="335.3" y2="710.3" stroke="#444" stroke-width="0.9" />
<line x1="217.8" y1="616.7" x2="220.4" y2="616.7" stroke="#444" stroke-width="0.7" />
<text x="214.5" y="619.7" font-size="8.2" text-anchor="end" fill="#151515" >0.9</text>
<line x1="217.8" y1="648.4" x2="220.4" y2="648.4" stroke="#444" stroke-width="0.7" />
<text x="214.5" y="651.3" font-size="8.2" text-anchor="end" fill="#151515" >0.6</text>
<line x1="217.8" y1="680.0" x2="220.4" y2="680.0" stroke="#444" stroke-width="0.7" />
<text x="214.5" y="683.0" font-size="8.2" text-anchor="end" fill="#151515" >0.3</text>
<line x1="251.5" y1="710.3" x2="251.5" y2="712.9" stroke="#444" stroke-width="0.7" />
<text x="251.5" y="721.3" font-size="8.2" text-anchor="middle" fill="#151515" >Onhit</text>
<line x1="303.8" y1="710.3" x2="303.8" y2="712.9" stroke="#444" stroke-width="0.7" />
<text x="303.8" y="721.3" font-size="8.2" text-anchor="middle" fill="#151515" >NA</text>
<text transform="translate(198.5,649.0) rotate(-90)" x="0" y="0" font-size="8.2" text-anchor="middle" fill="#151515">Coding score</text>
<text x="278" y="594.7" font-size="8.2" text-anchor="middle" fill="#151515"><tspan font-style="italic">P</tspan> &lt; 2.2*10^-16</text>
<line x1="251.5" y1="605.7" x2="251.5" y2="617.4" stroke="#2a70b8" stroke-width="0.9" />
<line x1="251.5" y1="636.5" x2="251.5" y2="663.0" stroke="#2a70b8" stroke-width="0.9" />
<rect x="233.3" y="617.4" width="36.7" height="19.1" fill="#fff" stroke="#4a90d0" stroke-width="0.9" />
<line x1="233.3" y1="626.2" x2="270.0" y2="626.2" stroke="#4a90d0" stroke-width="0.9" />
<path d="M251.5 663h0M251.5 663.7h0M251.5 664.4h0M251.5 665.2h0M251.5 665.9h0M251.5 666.6h0M251.5 667.3h0M251.5 668.1h0M251.5 668.8h0M251.5 669.5h0M251.5 670.2h0M251.5 671h0M251.5 671.7h0M251.5 672.4h0M251.5 673.1h0M251.5 673.9h0M251.5 674.6h0M251.5 675.3h0M251.5 676h0M251.5 676.8h0M251.5 677.5h0M251.5 678.2h0M251.5 678.9h0M251.5 679.7h0M251.5 680.4h0M251.5 681.1h0M251.5 681.8h0M251.5 682.6h0M251.5 683.3h0M251.5 684h0M251.5 689h0M251.5 695h0M251.5 704.3h0" stroke="#2a70b8" stroke-width="3.40" stroke-linecap="round" fill="none" />
<line x1="303.8" y1="605.7" x2="303.8" y2="622.5" stroke="#ec7c70" stroke-width="0.9" />
<line x1="303.8" y1="643.0" x2="303.8" y2="674.6" stroke="#ec7c70" stroke-width="0.9" />
<rect x="285.1" y="622.5" width="37.4" height="20.5" fill="#fff" stroke="#ec7c70" stroke-width="0.9" />
<line x1="285.1" y1="632.6" x2="322.5" y2="632.6" stroke="#ec7c70" stroke-width="0.9" />
<path d="M303.8 674.6h0M303.8 675.5h0M303.8 676.4h0M303.8 677.3h0M303.8 678.1h0M303.8 679h0M303.8 679.9h0M303.8 680.8h0M303.8 681.7h0M303.8 682.6h0M303.8 683.5h0M303.8 684.4h0M303.8 685.2h0M303.8 686.1h0M303.8 687h0M303.8 687.9h0M303.8 688.8h0M303.8 689.7h0M303.8 690.6h0M303.8 691.5h0M303.8 692.3h0M303.8 693.2h0M303.8 694.1h0M303.8 695h0" stroke="#ec7c70" stroke-width="3.20" stroke-linecap="round" fill="none" />
<circle cx="303.8" cy="705.0" r="1.60" fill="#fff" stroke="#ec7c70" stroke-width="0.6" />
<text x="355.5" y="564.5" font-size="11" font-weight="bold" fill="#111">i</text>
<path d="M459.4 677h0M394.2 599.5h0M391.4 665.7h0M388 665.3h0M391.9 660.6h0M411.2 678.7h0M516.3 691.1h0M427.1 690.9h0M396.6 692.3h0M413.8 676.2h0M489.8 673.1h0M391 680.8h0M424.6 671.3h0M401.1 700.7h0M399.4 692.9h0M403.6 674.9h0M408.4 694.4h0M389.3 700.3h0M387.6 677.5h0M409.8 689.2h0M409.8 689.8h0M389.5 697.7h0M410 674.3h0M390.4 685.4h0M416.9 695.7h0M396.6 684.9h0M400.1 675.8h0M388.5 686.4h0M407.9 682.9h0M406.6 694.3h0M391.1 681.1h0M431 684h0M398.8 686.5h0M386.8 698.5h0M408.5 686.8h0M495.1 693.5h0M389.9 686.4h0M398.8 693.3h0M396.4 691.2h0M390.1 675.4h0M398.4 668.5h0M392 688h0M426 694.6h0M396.5 663.5h0M400 693.8h0M406.6 700.7h0M401.2 681.6h0M396.5 661.2h0M406 673.2h0M387.5 684h0M442.5 691.1h0M436.5 695.7h0M393.6 691h0M391.3 685.8h0M388.6 596.8h0M390.1 659.1h0M388.5 657.2h0M419.2 670.7h0M390.7 690.7h0M494.9 679.5h0M406.5 694.1h0M404.7 696h0M427.5 688.6h0M413.6 688.6h0M420.8 700.7h0M418.9 679.8h0M459.1 677.7h0M394 674.4h0M403.8 668.3h0M413.1 682.2h0M403.9 653.5h0M405.8 681.6h0M507.6 696.1h0M405.7 691.5h0M399.5 672h0M490.2 684.4h0M389.8 677h0M387.9 696h0M418 641.7h0M409.2 693.9h0M388.8 644.4h0M387 690.9h0M395.6 681.5h0M422.1 694.8h0M400.1 701.1h0M413.7 682.3h0M415.6 683.4h0M402.6 698.7h0M387.4 691.9h0M387.6 676.4h0M395.8 688.2h0M402 691.2h0M391.6 677.1h0M399.1 697.7h0M412.7 696.9h0M398.6 700.9h0M385.6 650.2h0M441.9 697.8h0M515.7 697.4h0M418.8 698.5h0M413.4 664.2h0M396.8 700.6h0M395.5 679.8h0M396.7 634.1h0M401.7 688.1h0M417.8 686.2h0M425.4 689.2h0M388.1 701h0M409.8 682.3h0M394.6 673.8h0M395.6 685.7h0M388.4 692.2h0M397.5 640.9h0M386.4 690.6h0M430.2 695.3h0M419.9 693.5h0M425.9 681.7h0M403.6 617.2h0M396.5 683.9h0M443.8 698.2h0M407.4 696.8h0M389.4 698.8h0M421.6 691.6h0M407.9 689.4h0M386.8 666.3h0M401.7 686.3h0M452.8 700.3h0M401.9 693.7h0M480.9 700.6h0M390.4 663.6h0M392.3 690.7h0M401.2 681.7h0M492.1 693.3h0M488.1 689.5h0M401.1 688.3h0M412.1 693.3h0M388 675h0M401.1 672.9h0M400.7 692h0M397.3 654.4h0M409.1 661h0M415.3 618.9h0M392.1 684.1h0M398.8 676h0M388.9 699.5h0M407.7 687.3h0M463.3 639.4h0M395.6 696.6h0M393.9 698.2h0M413.7 694.9h0M397.9 689h0M396.9 691.8h0M387.8 687.8h0M393.9 688.4h0M394 700.3h0M431.6 682.8h0M414.3 698.3h0M418.3 700.2h0M395.3 688.1h0M396.1 700.1h0M421.7 686.8h0M396.9 670h0M400.5 687.8h0M388.7 690.7h0M466.1 684.6h0M418.9 665.5h0M408.6 698.1h0M428.8 676.9h0M387.5 695h0M399.1 688.8h0M417.8 694.1h0M411.5 702.4h0M390.6 697.5h0M451.8 693.1h0M406.6 684.6h0M390.6 601.3h0M388.7 663.6h0M422.5 698.6h0M396.5 690h0M414.2 691.4h0M433.5 691.1h0M389.1 695.1h0M418.7 657.3h0M395.6 692.9h0M496.3 685.1h0M413.7 677.9h0M416 678.8h0M443.8 678.3h0M386 680.5h0M459.4 691.9h0M394.6 700.1h0M394.9 675.1h0M415 691h0M390.9 687h0M390.7 676.8h0M386.3 674.6h0M417.1 691.7h0M430.1 672.1h0M421.9 701.1h0M466.4 683.8h0M400.3 661.7h0M415.6 677.1h0M445.8 694.4h0M416 639.4h0M400.9 668.1h0M409 671.7h0M393.4 669.8h0M397.2 671.7h0M413.3 674.5h0M387.7 697.4h0M439.1 682.8h0M396.9 674.9h0M399.6 682.6h0M412.7 659.1h0M429.7 660h0M418.5 685.2h0M415.4 694.8h0M400.3 699.7h0M437.6 687.3h0M406.8 688.9h0M396 691.6h0M412.3 678.5h0M400.1 686.4h0M443.7 684.3h0M392.1 668.2h0M420.6 657.6h0M391.2 694.9h0M416.3 634.3h0M437.6 672.3h0M454.5 697.9h0M393 685.2h0M398.3 664.1h0M394.4 685.6h0M386.6 694.7h0M424.6 682.9h0M429.3 647.1h0M420.6 682.9h0M419.6 678.5h0M443.5 684.8h0M387 634.4h0M408.8 691h0M389.2 655.4h0M421.2 688.4h0M386 697.2h0M390.7 673.1h0M390.7 648.5h0M394.5 683.9h0M389.2 692.7h0M415.8 688.5h0M396.2 685.1h0M394.7 689.8h0M397.3 678.5h0M433.7 683.4h0M395 681.2h0M394.8 686.4h0M433.4 676.4h0M404.8 686.6h0M400.2 669.4h0M431.1 693.7h0M418.9 701.3h0M405.4 676.4h0M411.5 701.6h0M451.8 689.8h0M402.3 697.1h0M389.5 671.6h0M405.6 681.5h0M405.2 654.6h0M403.4 693.2h0M417.2 691.5h0M394.2 669.5h0M398.3 628.2h0M393.3 683.3h0M411.9 682.3h0M410.7 674.4h0M402.3 672.2h0M390.2 685.2h0M391.3 698.6h0M425.4 662.4h0M402.1 692.4h0M404.3 698h0M403.2 661h0M393.6 674.5h0M512.2 696.5h0M436.3 676.5h0M410.3 693.8h0M407.9 654.5h0M448.4 661.5h0M428.9 679.8h0M398.3 675.2h0M423.7 685.6h0M393.5 695.4h0M400.2 613.5h0M414.2 699.8h0M411.4 673.5h0M399.2 630.3h0M429.1 638.8h0M502.1 669h0M417.2 683.6h0M392.6 654.8h0M401.5 680.9h0M402.3 671.7h0M403.3 624.3h0M409.3 682.9h0M445 667.2h0M390.8 680.2h0M407.8 681.8h0M386.4 697.7h0M450.8 678h0M397.4 695h0M390.8 697.2h0M399.4 692.5h0M386 692.7h0M418.3 683.4h0M408.5 687.3h0M407.7 701.3h0M392.7 647.3h0M401.8 661.7h0M405.2 693.6h0M400.1 700.6h0M393.1 661.1h0M404.4 672.2h0M409.6 668.3h0M414.5 691.9h0M413.5 685.5h0M414.8 696.8h0M437.8 669.6h0M430.8 691.2h0M390.1 671.8h0M388.8 690.2h0M417.2 685.2h0M388.5 663.2h0M399.1 635.7h0M501.8 674.3h0M397.3 679.9h0M409.1 696.6h0M388.7 701.3h0M406.6 701.1h0M388.2 696.6h0M408 688.2h0M393.6 697.1h0M396.8 682.5h0M436.1 626.3h0M397.7 666.8h0M495.3 697.4h0M394.6 676h0M427.5 670.8h0M419.4 700.8h0M394.4 680.1h0M409.8 696.5h0M411 686.8h0M385.5 689.7h0M451.7 661.3h0M390.5 676.1h0M424.3 659.4h0M395.6 693.8h0M435 686.6h0M410.2 667h0M394 690.7h0M402.6 678h0M390.9 681.5h0M399.9 691.9h0M400.8 655.6h0M409.9 701.7h0M409.6 700.1h0M409.8 687.2h0M425.5 702.7h0M400.9 697.5h0M399.8 682.8h0M433.5 689.5h0M427.3 688.4h0M405.5 671.7h0M400.9 651.8h0M474.8 672.5h0M407.4 675.1h0M390.2 671.8h0M391.9 691.1h0M411.8 671.4h0M416.4 675.3h0M425 679.7h0M389.9 656h0M392.1 695h0M426.9 696.2h0M402.3 701h0M390.7 678.1h0M404.9 617.5h0M433 679.6h0M395.6 695.1h0M393 700.4h0M399 702.3h0M405.4 687h0M413.9 688.7h0M390.3 687.7h0M393 682.7h0M400.1 662.8h0M390.8 700h0M411.1 654.9h0M407.8 683.7h0M387.3 677.4h0M388 702.5h0M411.5 694.7h0M418.7 694.4h0M455.2 699.4h0M404.1 686.7h0M404.1 680.7h0M414.7 685.8h0M394.3 684h0M418.1 684.7h0M412.9 679.2h0M386.3 674.1h0M393.5 677.9h0M446.3 694.2h0M414.2 670.7h0M388.7 677.3h0M390.8 691.3h0M391.7 660h0M416.1 662.5h0M409.6 693.5h0M389 693h0M408 691.2h0M390.2 672.7h0M452.4 680h0M410.5 660.4h0M394.4 679.5h0M397 699.9h0M396.9 697.9h0M456.8 694.3h0M386.7 652.2h0M421.5 666h0M388.8 666.8h0M408.7 689.4h0M397 656.1h0M386.9 654.8h0M390.5 691.4h0M393.3 694.8h0M402.3 684.3h0M412.8 695.6h0M391.3 696.8h0M397.6 698.7h0M395.4 691.1h0M435.3 655.2h0M427.9 667.6h0M387.6 687.6h0M445.2 697.9h0M397.5 697.7h0M448.3 687.8h0M413.9 679.5h0M415.1 625.2h0M443.2 684.1h0M443.1 684.4h0M389.8 688.8h0M387 672.9h0M431 677.2h0M400.9 690.5h0M397.7 670.6h0M429.9 690.9h0M395.8 606.3h0M424.5 697.4h0M408.3 616.6h0M422.5 691.2h0M430.7 683.5h0M392.7 689.1h0M389.7 695.5h0M400.8 689.2h0M388.9 689h0M401.7 643h0M453.9 693.4h0M409.5 691h0M392.4 681.3h0M408 683.1h0M437.6 662.4h0M405.4 684.7h0M402.2 668.5h0M400.3 666.3h0M438.2 676.6h0M402 683.8h0M399 686.4h0M387.6 694.8h0M405.3 690.1h0M396.4 690.6h0M421.5 679.8h0M392.7 692.9h0M412.5 683.8h0M432.3 691.7h0M394.2 691.5h0M396.3 688.3h0M422.8 684.2h0M391.6 668.1h0M394.4 630.7h0M402.5 693h0M389.5 692.9h0M418.8 671.3h0M389.7 697.5h0M423.1 678.3h0M428.1 692.9h0M429 697.7h0M435.4 694.6h0M424.2 697h0M429.8 675.5h0M388.4 676.7h0M388.2 649.3h0M394.1 692.7h0M401.8 691.6h0M393 677.1h0M391.4 647.8h0M389 684.6h0M447.6 666.2h0M423.7 667.7h0M431.8 695.9h0M446.6 691.3h0M403 687h0M388.4 688.3h0M398.8 685.8h0M385.9 686.1h0M413.1 698.2h0M397.8 700.3h0M420.5 680.5h0M404.4 653.6h0M410.6 698.1h0M414.4 665h0M390.5 683.7h0M409.5 681.4h0M390.4 655.8h0M405.8 636.4h0M416.6 661h0M473.6 696.7h0M398.4 685.9h0M417.4 669.3h0M395.5 689.7h0M393.6 677h0M397.1 693h0M397.3 673h0M389.4 642.2h0M396 694.7h0M479.1 695.9h0M401.7 686.6h0M408.4 692.7h0M403.7 629h0M389.2 672.8h0M385.4 693h0M449.2 681.6h0M456.7 668.8h0M424.9 697.9h0M406.2 654.8h0M391.6 683.6h0M400.3 683.2h0M397.4 702.4h0M394.4 695.6h0M429.3 666.2h0M431 692h0M391.9 661.1h0M461.1 682.1h0M412.4 678.2h0M425.3 696.9h0M397.8 687.3h0M413.7 683.6h0M407.8 690h0M400.1 690.3h0M497.8 661.8h0M512.8 684.6h0M393.8 672.8h0M397.8 659.1h0M394.5 689.8h0M395.3 676.1h0M399.5 695.5h0M397 690h0M396.4 651.9h0M398.6 693.4h0M389.5 618.8h0M425 677.2h0M399.1 701h0M393.3 701.8h0M407.3 677.8h0M400.6 694.2h0M386.8 691h0M414.1 677h0M411 683.3h0M398.4 687.6h0M404.5 691.9h0M390.8 688h0M408.1 687.1h0M393.4 680.5h0M400.6 677.2h0M393.8 663.3h0M391 672.8h0M420.8 695.9h0M392.6 699.3h0M393.2 688.9h0M467.2 680.1h0M417.1 680.8h0M397.1 682.7h0M404.8 665.1h0M401 684.3h0M431.4 681.1h0M421.4 692.6h0M388.8 683h0M422.7 699.1h0M390.7 672.8h0M392 682.5h0M418.9 692.1h0M421.5 689.3h0M391.3 663.2h0M431.6 640.5h0M393 655.5h0M387.3 672.6h0M404.4 656.1h0M410 674h0M406.7 665.2h0M392.9 683.8h0M411.8 695.9h0M438.3 690.8h0M394.6 682.2h0M448.7 681.8h0M394.5 679.2h0M397.2 699.5h0M409.2 685h0M397.4 701.8h0M432.3 663.6h0M402.5 701.1h0M399.9 675.3h0M411.9 683.5h0M407.3 684.7h0M436.5 698.7h0M428.4 681.7h0M413.2 686.6h0M423.6 694.5h0M426.3 670.9h0M390 654.8h0M413.2 681.1h0M386.9 698.1h0M444 689.6h0M395.3 668.1h0M403.9 696.7h0M400.2 689.7h0M401.8 692.7h0M423.9 663.7h0M401.1 695.5h0M392.8 655.7h0M387.8 695.3h0M399.5 684.6h0M412 685.1h0M414.8 682h0M396.7 695.8h0M398.6 698.8h0M397.4 684.1h0M407.1 670h0M400.6 681.6h0M390.9 672.9h0M440.7 681.7h0M414.4 696.4h0M453.8 687.2h0M403.7 692.9h0M406 683.7h0M419.4 693.2h0M421.2 691.4h0M402.9 675.6h0M439.7 691.2h0M461.5 686.3h0M397.7 678.9h0M510.9 692.8h0M408.3 685h0M401.1 694.8h0M413.4 694.1h0M412.2 697.7h0M389.8 693.8h0M400 689.3h0M410.9 700.9h0M403.5 688.3h0M401.7 695.8h0M424.2 698.9h0M422.2 669.7h0M395.3 661.1h0M420.8 692.4h0M408 683.1h0M387 679.4h0M404.5 650.6h0M388.8 690.6h0M412.4 664.5h0M407.4 674.1h0M408.8 673.7h0M400.3 690.3h0M428 697.2h0M409.5 701.6h0M408.5 683.4h0M397.3 685h0M393 666.7h0M389.7 680.5h0M507.5 681.7h0M415.7 700.5h0M399.8 676.5h0M438.7 692.1h0M397.6 669h0M389.7 691.9h0M397.3 696.7h0M426.7 696.4h0M395.7 683.3h0M466.4 700.3h0M444.4 681.1h0M387.4 661.8h0M421.1 676.6h0M397.2 697.4h0M398.9 679.1h0M407.9 696.6h0M394.5 689.5h0M402 690.7h0M408.2 692.6h0M426.7 696.9h0M433.9 695.7h0M386.8 691.7h0M408.8 676.2h0M415.2 657.2h0M413.2 679h0M396.7 686.6h0M435.5 693.2h0M391.8 685.3h0M431.9 700.6h0M435.5 671.4h0M429.6 686.3h0M393.8 685.2h0M388.8 691.3h0M412.2 696.1h0M402.4 684h0M477.7 673.2h0M409.3 684.8h0M410.9 690.6h0M388.8 673.7h0M423.1 673.4h0M439.5 659.6h0M387.1 682.6h0M395 686.3h0M399.2 675.6h0M390.4 689.9h0M415.3 673.6h0M407.6 700.7h0M415.2 695.6h0M398.3 698.3h0M410.3 690.6h0M475.3 697.7h0M402.1 688.5h0M400.5 676.7h0M399.5 674h0M405.2 679.7h0M389.3 684.8h0M386.5 694.9h0M423 640.7h0M435 687.2h0M409.5 690h0M385.6 694.8h0M396.8 683.4h0M406.3 696.1h0M394.8 689h0M389.7 691.6h0M412.5 691.5h0M390.6 674.3h0M390.2 685.2h0M455.1 691.6h0M428.9 687.8h0M404.4 674.9h0M456.6 692.2h0M389.1 658.1h0M431 698.4h0M392.2 662.8h0M399.1 691.1h0M410.7 692.5h0M394.8 689.8h0M398 658h0M438.6 630.4h0M405 675.5h0M387.3 693.6h0M447.4 685h0M405.7 686.8h0M408.3 688.1h0M402.6 670.9h0M433.7 666.7h0M399.7 682.1h0M422.6 694.2h0M415.2 687.5h0M435.4 691.3h0M394.4 683.6h0M399.3 693.7h0M436.5 700.2h0M396.8 692h0M389 689.8h0M428.6 647.8h0M392.1 697h0M410.3 685.4h0M419.8 700.3h0M387.3 682.1h0M396.5 685.4h0M475.3 677.4h0M472.5 683h0M433.3 649.8h0M391.9 675.6h0M446.8 684.4h0M406.6 687.6h0M388.5 695.4h0M390.2 664.8h0M410.8 683.6h0M404.2 697.6h0M401.9 692.2h0M397 686.9h0M401.2 693.7h0M404.8 691.4h0M401.3 653.8h0M408.2 682.6h0M403.3 685.9h0M388.1 692.5h0M393.2 681.7h0M421.1 678.6h0M394 685.5h0M407.8 692.7h0M389.9 683.4h0M410.5 696.5h0M415 691.2h0M402.6 686.4h0M403.1 688.4h0M390.1 699.2h0M405.9 668.1h0M398.7 688.9h0M398.8 675.4h0M402.4 675.7h0M406.9 605.3h0M453.2 662h0M399.5 687.4h0M399.4 679.3h0M411 699.6h0M413 680.7h0M401.8 682.7h0M427.8 687.8h0M389.1 673.8h0M386 606.3h0M427.2 689.7h0M396.4 696.3h0M408.4 681.9h0M413.7 676.7h0M439.4 600h0M491 694.7h0M399.8 688h0M480.1 663.2h0M395.6 681.7h0M415.9 674.7h0M398.7 686.9h0M393 682.1h0M406 661h0M409.3 682.5h0M391.6 684.5h0M398 668.6h0M389 694.7h0M411.5 689.3h0M422.5 692.3h0M433.6 693.1h0M479 690.2h0M415.8 684.8h0M436.1 683.9h0M394.3 682.5h0M420.5 695.7h0M396 695.9h0M395.1 684.7h0M398.2 693.2h0M422.8 676.1h0M412.3 688.5h0M399.3 678.1h0M406 681.4h0M423.7 674.2h0M386.6 689.9h0M387.8 683.4h0M395 698.2h0M390.5 697.4h0M424.1 689h0M396.8 632.8h0M414.9 686.4h0M455.1 698.2h0M416.9 699.2h0M386.4 681.6h0M467 694.7h0M412.3 680.3h0M392.9 625.2h0M399.6 691.6h0M392.8 698.8h0M458.9 695.7h0M399.4 672.2h0M403 683h0M417.6 687.1h0M399.3 690.6h0M390.4 692.7h0M404.9 682.7h0M394 690.4h0M412.1 673.4h0M400.2 693.1h0M407.3 687h0M403.1 671.5h0M396 689.7h0M445.8 643.3h0M411.8 686.3h0M466.4 679.6h0M417.1 689.4h0M452.2 686.1h0M446.1 701.6h0M418.4 641.8h0M385.6 699.7h0M417.3 682.4h0M436.7 678h0M387 696.4h0M399.6 677.2h0M419.6 685.6h0M396.9 687.9h0M391.7 699.8h0M393.4 600.4h0M421.5 692.9h0M399.6 695.8h0M418.2 696.1h0M400.5 680.7h0M458.8 680.1h0M512 672.5h0M403.2 673.4h0M506.9 660.5h0M387.3 667.5h0M422.4 635.6h0M413.8 683.7h0M395 696.9h0M405.8 665.6h0M394.5 702h0M416.7 696.6h0M412.2 679.4h0M408.4 684.5h0M397.6 689.8h0M434.9 690.5h0M390.2 696.3h0M422.5 702.1h0M388.8 694.9h0M401.5 696.4h0M427.2 621.9h0M388.6 668.2h0M400.6 679.3h0M410.7 685h0M407.1 683.5h0M395.6 696.9h0M393.1 647.5h0M398.7 685.4h0M403.8 677.2h0M394.5 696.9h0M394.3 667.5h0M402.9 672.4h0M426.2 680h0M397.5 685.3h0M418.6 646.8h0M393.4 652.3h0M513.9 664.5h0M389.2 686.2h0M454.3 671.7h0M403.3 683.3h0M417.3 688.2h0M393.2 681h0M439.8 666.9h0M390.2 675.4h0M408.1 700.8h0M417.1 693.5h0M413.2 680.1h0M394 699.3h0M424.5 697.1h0M394 698.9h0M398.6 663h0M421.8 686h0M410.9 688.3h0M451.2 699.2h0M392.5 677.3h0M401.1 692.7h0M428.6 668.4h0M401.9 672.6h0M406.8 693.7h0M414.7 687.8h0M493.5 697.4h0M393.3 687h0M396.7 689.8h0M400.4 699.6h0M387.2 679.8h0M396.6 680h0M429.4 682.6h0M399.3 668.1h0M445.2 694.2h0M392.6 674.8h0M431.6 633.2h0M432.1 681.4h0M395.3 691.5h0M443 700.8h0M442.4 672.7h0M421.9 688.5h0M410.4 657.1h0M409.3 693.1h0M416.4 668.6h0M454 675.5h0M387.8 686.8h0M413.8 688.5h0M407.7 694.2h0M426.9 683.1h0M402.4 693.7h0M400.4 698.3h0M408.3 693.2h0M414 702.2h0M392.9 686.9h0M410.3 667.7h0M388.6 681.3h0M394.1 700.6h0M389.7 671.1h0M403.2 682.3h0M399 689.9h0M415.7 676.4h0M499.9 675.4h0M396.8 665.2h0M390.8 699.8h0M389.7 634.1h0M402.2 666.3h0M392.5 670.4h0M387.7 665.5h0M395.8 662.3h0M431.4 676.8h0M422.3 698.6h0M390.5 643.6h0M390.9 680.9h0M402.7 691.6h0M393.1 680.1h0M439.8 679.9h0M398.9 633.6h0M389.8 678.2h0M390.5 687.5h0M411 686.3h0M403.7 698.4h0M403.1 689.1h0M388.2 684.9h0M388.4 623.7h0M414 691.8h0M399.4 697.9h0M429.7 695.9h0M399.8 669.1h0M395.9 659.3h0M401 698.5h0M451.2 688.2h0M412.7 696.3h0M408.9 685h0M413.3 689.5h0M414.4 666h0M395.3 676.5h0M437.9 672.3h0M416.7 695.6h0M410.5 682h0M396 684.8h0M426.7 686.6h0M443.6 701.6h0M393.6 701h0M390.4 667.6h0M436.9 667h0M403.6 693.6h0M394.6 680.2h0M421.6 659.8h0M425.2 659.5h0M399.6 695.5h0M389.8 687.3h0M450 680h0M409.9 686.6h0M416.4 691h0M398.8 670.4h0M399.8 680.4h0M408.3 686.7h0M423.9 672h0M430.4 701.4h0M487.1 695.2h0M390.7 672.9h0M404.6 682.8h0M411.3 699.4h0M436.1 692.8h0M394.9 695.3h0M409.3 685.5h0M394.1 678.2h0M393 664.8h0M483.7 679.1h0M400.7 686.4h0M424.9 693.9h0M419.3 666.7h0M390 699.7h0M395.6 696.2h0M402.9 683.3h0M400 697.7h0M416.2 664.1h0M410.6 682.6h0M410 687.6h0M401.3 694.2h0M401.8 696.5h0M428.8 673.5h0M404.4 678.5h0M427.5 684.7h0M392.4 687.5h0M428.8 689.8h0M396.5 691h0M407.9 677.1h0M478.1 684.5h0M405.9 694.6h0M429.9 687.3h0M412.9 692.4h0M430.8 696.2h0M396.1 701.1h0M390.8 696.2h0M400 692.2h0M397.9 685.1h0M416 685.6h0M389.6 691.5h0M410.6 698.5h0M418 699.2h0M419.7 683.2h0M400.9 677.7h0M416.4 682.6h0M399.9 696.6h0M401 690.4h0M392.8 674.1h0M421 689.4h0M408.7 688.7h0M389.5 702.1h0M435.9 688h0M403.4 677.1h0M462.4 688.3h0M406.6 686.4h0M411.5 685.4h0M400.5 698.6h0M399.7 692.7h0M389.2 691.7h0M389.7 655.2h0M414.6 651.5h0M412.9 693.6h0M414.2 677.6h0M430.6 698.5h0M401.4 694.2h0M412.7 693.2h0M397.2 652.2h0M416.8 672.3h0M398 694.2h0M397.4 676.3h0M402 615.6h0M394.6 667.7h0M389.9 692.7h0M393.5 680.6h0M415.1 696.2h0M482.2 695.2h0M400.4 697.5h0M387.4 646.4h0M402.6 681.8h0M434.3 679.9h0M396.1 679.5h0M473.2 667.4h0M396.6 675.4h0M393.4 637.6h0M392 680.3h0M466.3 693.6h0M412.9 687h0M413.1 697.4h0M390.7 681.9h0M409.5 642.8h0M392.3 699.3h0M398 680.9h0M387 681.4h0M414.1 660.4h0M400.4 691.3h0M423.5 690.3h0M418.6 686.1h0M430.4 688.9h0M392.5 697.5h0M392.3 688h0M412.5 635.1h0M404.6 698.8h0M387 690.6h0M398.9 684.4h0M414.4 698.7h0M408.3 676.5h0M398.9 698.1h0M394.9 698.5h0M397.7 679.2h0M393.9 693.1h0M412.1 669.5h0M425 679.6h0M497.9 690.3h0M399.7 682.7h0M397.7 637.3h0M389.3 688.3h0M452.1 675.6h0M418.4 677h0M387.9 689.2h0M421.7 683.3h0M402.4 675.4h0M388.5 691.7h0M507.9 698h0M399.8 701h0M461.1 684h0M413.9 698.3h0M389.8 680.4h0M390.8 688.1h0M404.6 697.3h0M393.8 664.2h0M412.4 695.4h0M434.6 681h0M388.5 671.8h0M392.7 687.5h0M399.7 684.1h0M404.4 697.5h0M401.7 687.4h0M396.7 682.5h0M399.7 697h0M407.5 672.5h0M393.4 697.4h0M414.6 689.1h0M392.2 691.8h0M441.9 674.9h0M390.8 696.8h0M388.1 661.9h0M402.1 683.3h0M406.2 677.8h0M408.2 700.9h0M392.3 679.1h0M409.5 700.5h0M401 692.4h0M444.7 696.7h0M400.6 687.6h0M401.9 698.6h0M387.3 699.3h0M403 700.2h0M425.6 680.2h0M500 687.7h0M406.8 682h0M400.8 684.5h0M437.8 694.7h0M414.1 686.2h0M395.3 700.7h0M425 635.9h0M401 685.7h0M401.5 675.4h0M388.8 695.3h0M405.4 695.1h0M421.9 691h0M392.8 685.1h0M392.2 678h0M434.1 697.2h0M408 658.2h0M472.8 685.4h0M417.7 680.3h0M403.7 694.1h0M396.7 689.6h0M454.6 689.9h0M401.8 679.1h0M393.6 647.2h0M395.3 685.8h0M403.4 673h0M387.7 689.6h0M451.7 653.1h0M416.3 597.7h0M412.3 664.7h0M400.2 674.2h0M430.9 689.1h0M398.1 692.8h0M399.6 702.6h0M422.1 690.3h0M395.9 652.9h0M437.9 688.4h0M387.8 661.7h0M387.4 673.8h0M408.8 699.2h0M421.6 679.1h0M407 669.7h0M424.3 669.4h0M405.6 648.1h0M396.6 691h0M465.2 684h0M391.1 670.5h0M401 690.7h0M391.3 689.7h0M442.8 661.4h0M408.8 700.2h0M395.5 662.7h0M416.6 700.9h0M396.8 686h0M401.7 673.4h0M487.4 676.9h0M436.1 656.6h0M458.4 696.2h0M404 650.4h0M397.5 697.1h0M400.5 693.7h0M489.4 679.8h0M409 689.8h0M393.7 697.3h0M386.2 682.1h0M390.1 665h0M409.7 687.4h0M393.6 649.8h0M386.9 679.5h0M400.1 695.6h0M398.8 687.4h0M403.2 679.2h0M396.9 699.5h0M412 664h0M416.1 678.5h0M400 659.9h0M400.1 697.3h0M394.7 700.8h0M390.7 660.3h0M398.9 695.5h0M450.6 663.5h0M417.2 639.1h0M387 683.2h0M450.1 688.4h0M405.5 687h0M386.5 636h0M396.6 699.7h0M394.9 660h0M443.9 699.7h0M423 695.9h0M407.9 697.9h0M392.8 696.3h0M392.4 684.6h0M405.3 665.6h0M460.2 694.9h0M417.6 701.7h0M390.7 703h0M419.3 672.3h0M464 683.8h0M422.9 698.2h0M389.1 696.5h0M389.2 664.7h0M392.2 690h0M442.6 684.6h0M414.8 689.4h0M467.2 686.4h0M399.4 617.8h0M449.4 689.7h0M400.1 684.9h0M444.9 699.7h0M388.5 691.5h0M392.1 679.8h0M398.4 659.5h0M441.1 686.4h0M403.4 697h0M389.8 693.7h0M406.6 662.3h0M415.6 685.3h0M409.9 673.9h0M417 680.9h0M393.8 655h0M417.8 688.6h0M389.3 652h0M421.4 685.3h0M444.6 653.2h0M396.2 657.4h0M481.5 687h0M403 674.3h0M439.4 682.1h0M418.1 684.6h0M420.7 684h0M397.1 684.5h0M393.3 696.2h0M418.8 701.9h0M424.5 696.5h0M409.3 663.5h0M403.6 689.5h0M403 688.4h0M405.1 668.8h0M391.3 678.2h0M406.8 603.6h0M388.6 693h0M440.2 598.3h0M496 678.5h0M425.2 680.5h0M409.4 667.4h0M410.2 620.3h0M403.7 612.5h0M385.7 700.1h0M419 686.4h0M425.6 694.9h0M421.1 693h0M403.3 695.4h0M429.6 676.2h0M412.1 696.4h0M418.8 686.4h0M395.4 702.4h0M394.1 668h0M414 689.6h0M424.8 689h0M394.1 686.9h0M406.5 684.2h0M412.9 690.5h0M393.9 663.9h0M404 690.6h0M409 690.1h0M430.7 691.4h0M387.4 684.1h0M391 692.4h0M404.8 691.1h0M429.9 660h0M426.5 698.5h0M395.7 687.4h0M392.5 687.8h0M399.5 694.2h0M395.9 685.8h0M408.3 620.9h0M427.1 700.4h0M398.2 698.4h0M417.2 688.6h0M438.7 675.4h0M400.2 674.4h0M498.3 695.7h0M393.3 664.9h0M418.5 668.4h0M410.3 694h0M393.8 692.8h0M393.5 695.3h0M390.1 655.6h0M401.1 673.7h0M398.7 686.9h0M419.5 688.4h0M394 652.7h0M390 690.6h0M404.7 677h0M420.7 690.6h0M402.2 699.3h0M402.2 693.6h0M419.1 618.2h0M405.2 683.4h0M404.5 675.5h0M408.5 672h0M418.6 667.7h0M399.2 690.1h0M416.7 684.8h0M406.1 696.3h0M406.3 686.6h0M414.2 682.1h0M407.7 690.1h0M409.9 693.1h0M392.2 687.8h0M398.8 689.6h0M387.4 680.9h0M421.8 691.2h0M397.2 692.6h0M473.1 677.5h0M396 700.1h0M398.4 699h0M417.9 677.6h0M426 694.6h0M458.1 676.6h0M398.2 685.2h0M391 684.3h0M422.1 695h0M445.5 692.6h0M412.8 681.2h0M409.6 690.5h0M406.8 675.7h0M395.2 670.7h0M387.6 655h0M393 694.3h0M388.1 695.6h0M395.5 685.2h0M387 657.3h0M395.4 695.8h0M421.4 691.5h0M414.1 683.6h0M407.2 696.8h0M400.7 692.1h0M387.8 663.7h0M429.6 695.8h0M394.4 699.1h0M403.3 703.1h0M393.2 672.1h0M397.9 692.1h0M410.2 684.6h0M406 699.8h0M405.3 678.6h0M398.8 656.1h0M394.4 686.1h0M393.3 693.4h0M434.4 621.6h0M390.4 642h0M402.3 684.5h0M407.8 677.9h0M439.3 671.5h0M392.7 678.4h0M400.9 677.2h0M407.2 694.8h0M403.3 689.8h0M448.7 683.3h0M494.6 687.5h0M398.7 681.8h0M433.1 681.4h0M393 690.4h0M422.8 694.2h0M400.6 662.6h0M400.6 662.2h0M390.5 685.2h0M445 660.5h0M429.3 666.7h0M393.9 685.5h0M393.4 685.6h0M405.8 670.6h0M432 694.2h0M439.8 643.5h0M414 688.2h0M430.7 686.3h0M399.7 697h0M388 690.4h0M423.1 660.4h0M403.9 675.9h0M417.8 688.4h0M390.1 681.4h0M419.8 684h0M407 689.9h0M402.5 693h0M427.3 696.3h0M395.3 670.7h0M421.5 615.7h0M389.8 699.7h0M398.6 681.8h0M396.1 688.3h0M392.1 679.5h0M396.5 691.2h0M483.7 687.3h0M409.8 692.3h0M408.9 687.6h0M400.1 682.5h0M402.8 694.3h0M419.3 698.9h0M415.7 682.4h0M415.3 669.7h0M390 699.4h0M388.6 674.5h0M484.3 666.8h0M425.5 685h0M399.2 654.8h0M517.4 697.9h0M394.2 686.2h0M395.3 634.7h0M425.3 690.7h0M407.7 702.9h0M387.9 698.1h0M391.1 697.5h0M399.6 619.8h0M389 683.4h0M389.3 701.3h0M388.6 700.8h0M427.2 696.9h0M403.4 695.5h0M392.7 680.1h0M386.4 696.6h0M402 689h0M440.9 669.7h0M412.6 682h0M402.2 667.3h0M412.4 675.5h0M392.8 688.6h0M396.9 669.1h0M397.2 700.1h0M456.1 677.7h0M396.7 698.6h0M391.3 692.3h0M407.8 697h0M415.9 700.4h0M390.3 670.2h0M393.9 691.4h0M437.2 687.8h0M400.8 670.5h0M423.4 681.3h0M392.2 699.2h0M395.4 689.6h0M395.7 673.4h0M396.2 699.2h0M388.1 687h0M418.1 693.7h0M457.7 671.2h0M421.2 702.1h0M388.1 700.9h0M389.4 697.7h0M398.5 682.9h0M465.2 679h0M396.3 683.7h0M398.9 697.3h0M407.6 661.7h0M396.9 688.1h0M401.5 673.9h0M393.5 685.4h0M391.8 671.2h0M420.7 696.3h0M388.8 696.8h0M393.1 677.2h0M389.2 649.1h0M397.8 669.8h0M393.4 697.4h0M410.3 662.7h0M404.8 695.3h0M420 680.9h0M444.8 694h0M392.1 683.9h0M387.7 668h0M429.1 701.2h0M386.6 632.1h0M390.9 693.3h0M410.9 611.2h0M407.5 682.9h0M391.7 676.3h0M391.9 679.8h0M398.7 701.3h0M387.7 684.8h0M402.7 682.7h0M404.8 657.4h0M387.4 702.4h0M401.4 688.6h0M424.2 633.5h0M404.1 657.9h0M405.3 672.4h0M403.9 697.3h0M392.9 675.4h0M392.8 691.6h0M389.5 691.1h0M398.4 696h0M393.2 664h0M428.6 685.6h0M421.4 679.5h0M392.8 676.6h0M423.8 689.1h0M393.4 674.7h0M387.7 682.6h0M483.8 676.3h0M403.4 683.3h0M390.1 641.8h0M421.5 693.5h0M467.3 690.9h0M410.5 689.4h0M398.2 640.7h0M422.3 689h0M405.7 698h0M399.9 666.5h0M387 680h0M395.4 677.8h0M408.2 682.9h0M402.8 698.2h0M393.5 690.9h0M413.3 685.6h0M406.1 687.3h0M414.2 678.3h0M412.3 657h0M439.7 672.2h0M409 669.4h0M425.4 663.4h0M477 631.9h0M399.5 678.9h0M405 693.1h0M395.9 690h0M430.3 697.7h0M401.6 664.2h0M441.9 671.3h0M412.2 666h0M387.5 698.7h0M408.1 698.1h0M386.3 666.9h0M428.9 696.4h0M493.3 669.8h0M402.5 668h0M416.6 670.5h0M397.9 693h0M386.9 667.6h0M470.8 629.5h0M415.5 700.9h0M441.9 657.2h0M386.8 669.8h0M398 694.3h0M509.2 677.4h0M412.5 685.1h0M416.8 684.2h0M412.2 670.2h0M444 681.7h0M410.4 687h0M404.9 702.3h0M389 677h0M407 660.7h0M405 692.8h0M412.3 687.7h0M398.9 674.2h0M432.5 687.2h0M395.7 691.5h0M434.3 680.1h0M413.4 672.6h0M402.7 682.9h0M405.3 674.3h0M401.4 681.8h0M455.4 688.3h0M420.3 687.5h0M396.3 699.5h0M397.4 685.9h0M400.5 683.9h0M404.8 660.6h0M404.5 674.6h0M434.1 665.5h0M428.2 700.8h0M390.2 689h0M402 636h0M407.2 676.7h0M436.3 689.2h0M464.3 677.6h0M446.8 681.6h0M432.9 691.8h0M388 691.2h0M424.8 685.1h0M390.4 696.2h0M417.2 689.8h0M423.1 687.3h0M402.5 653h0M421.3 682h0M391.1 667.7h0M395.1 698.5h0M414.1 700.7h0M407 695.7h0M450.8 675.8h0M428.8 682h0M417.5 684.1h0M393.1 697.7h0M409.1 677.8h0M418.7 700h0M395.5 685.1h0M419.9 681.3h0M440.4 667.3h0M431.5 698.7h0M421.6 702.3h0M390.5 673h0M389.8 660.7h0M444.7 675.1h0M386.5 702.7h0M397.3 689.2h0M399.4 699.4h0M388.5 699.6h0M400.1 649.6h0M386.9 647.4h0M402.9 666.7h0M394.8 689.1h0M416 684h0M387.8 686.4h0M418 698.3h0M409.7 698.3h0M387.3 665.4h0M505.9 680.8h0M394.8 671.8h0M481.4 680.3h0M408.8 675.6h0M388.7 685.7h0M393.6 680.6h0M426.2 650.2h0M394.3 686.3h0M403.6 683.3h0M389 680h0M413.6 672.4h0M420.5 693.1h0M459 699.6h0M398.7 670.3h0M393.4 685.2h0M394.6 677.2h0M412.6 680.1h0M410.3 693.4h0M414.1 686h0M412.1 691.7h0M390.7 687.3h0M425.8 656.4h0M388.2 677h0M389.4 688.1h0M398.7 701.7h0M403.6 686.1h0M388.5 692.2h0M442.5 692.3h0M390 682.3h0M400.5 681.3h0M393.8 653.9h0M430.9 653.7h0M437.8 686.6h0M403.7 653.5h0M402 695.7h0M419.3 658.2h0M398.1 689.9h0M459.4 690.2h0M418.9 699.5h0M397.5 680.4h0M385.8 695.7h0M416.1 670.1h0M394.7 682h0M409.1 699.7h0M407.3 675.8h0M399 668.5h0M399.9 666.5h0M395.7 692.1h0M406.8 690.5h0M424.1 694.2h0M388.9 691.8h0M388.2 694.6h0M388.4 658.2h0M397.3 687.7h0M387.4 695.9h0M406.3 682h0M403.1 683.4h0M392 688.3h0M398.1 688.8h0M408 679.5h0M396.3 683.4h0M395 694.3h0M386.1 677.3h0M424.4 667h0M390.7 686.1h0M434.9 682.5h0M393 695.5h0M385.5 685.3h0M404.8 693.2h0M390.9 678.1h0M386.2 691.8h0M413.4 673.7h0M398 669.1h0M386.6 695.6h0M388.5 682.9h0M417.2 691.3h0M441.1 690.7h0M387.2 670.2h0M391 677.4h0M396 598.8h0M482.9 645.8h0M440.8 692.2h0M419.7 697.9h0M392 686.9h0M399.3 671.1h0M428.1 688.9h0M400.2 687.9h0M395.1 698.4h0M414.6 695.8h0M388.9 695.8h0M420.2 694.5h0M392.1 697.7h0M390.4 695.5h0M397.5 691.6h0M433.6 692.3h0M395.7 693.8h0M398.5 677.3h0M386.8 676.7h0M398.6 685h0M395.4 694.2h0M399.6 676h0M393.7 682.1h0M433.6 691.8h0M409.9 664.7h0M393 683.8h0M412.1 686.5h0M386.2 688.7h0M389.9 700.9h0M463.8 702.2h0M392.8 687.4h0M408.1 651.2h0M452.4 684.2h0M400.3 684.6h0M386 685h0M403.1 695.4h0M396.5 687h0M398.4 685.9h0M419.6 656.4h0M412.4 687.1h0M388.7 668.2h0M442.3 673.8h0M395.4 688.4h0M392.5 688.5h0M402.9 693.4h0M393.4 697.6h0M445.8 688.2h0M395.4 684.7h0M415.6 691.3h0M398.6 681.2h0M398 695.9h0M424.5 664.8h0M393.3 689.4h0M416.1 664h0M391.6 696.3h0M401.9 650.7h0M403.8 686.1h0M395.7 689.5h0M422.6 680.2h0M388.9 691.9h0M415.7 695.4h0M390.9 687.4h0M411.7 693.1h0M426.3 694h0M422.8 694.3h0M388.6 688.7h0M397.1 697.8h0M395.9 702h0M416.9 689.9h0M411.4 696.9h0M414.5 690.3h0M409.5 682.9h0M391.9 689.8h0M394.8 699.5h0M404.9 691.2h0M403.6 689.9h0M392.2 691.6h0M403 658.1h0M449.3 640.6h0M386 683.4h0M433.5 674.4h0M403.8 622.3h0M394.3 674.6h0M390.1 687.1h0M431.2 685.3h0M398.3 687h0M430.6 690.7h0M395.9 698.4h0M416.7 675.6h0M410.5 691.4h0M395.6 684.6h0M414.6 670.1h0M434.8 690.4h0M486.8 699.3h0M407.1 682.7h0M403.4 690.2h0M412.8 650.1h0M393.7 683.1h0M385.6 669.5h0M409.1 673.2h0M387.9 674.5h0M408.4 692.7h0M395.9 656.4h0M413.4 694.1h0M437.7 689.2h0M399.9 676h0M399.6 698.1h0M407.1 695.6h0M395.5 687.9h0M459.5 636.9h0M401.9 668.9h0M388.8 689.2h0M505.4 701.5h0M394.3 694.1h0M397.2 681.5h0M408.5 670.7h0M391.2 702.4h0M390.1 675.6h0M416.8 680.1h0M407.9 655.8h0M400.8 693.6h0M447.1 669.2h0M425.4 683.1h0M398.1 695.1h0M390.5 642.1h0M394.1 674.5h0M413.1 693.8h0M488.3 631.7h0M402.4 690.3h0M394.1 651.2h0M430.9 686h0M391.4 678.6h0M388.7 693h0M410.1 676h0M403.6 698.7h0M386.6 628.1h0M483.4 668.4h0M400.5 688.3h0M427.9 689.8h0M393.5 694.2h0M394.8 689.7h0M390.1 693.6h0M395.9 692.6h0M492.2 668.6h0M391.7 694.3h0M386.9 696.7h0M395 699.6h0M391 609.7h0M392 690h0M386.9 662.6h0M431.6 696.7h0M401.1 650.9h0M395.1 682.6h0M405.8 680.2h0M393.5 682.1h0M408.4 681.2h0M400.8 693.7h0M393.1 691h0M390.2 674.8h0M440 669.7h0M417.4 653.6h0M408.8 688.7h0M420.5 698h0M395 688h0M406 686.1h0M397 698.7h0M399.4 700.6h0M397.5 666.2h0M393.1 613.1h0M394.3 670.5h0M393.5 654.8h0M399.5 683.4h0M446.4 640.2h0M409.8 617.6h0M418.3 696.2h0M390.5 622.5h0M466.9 691h0M411.5 691.8h0M386.9 689.1h0M420.7 633.3h0M389 668.1h0M413.6 685.9h0M392.4 688.2h0M435.9 691.1h0M407.7 652.5h0M402.9 693.3h0M408.2 669.4h0M435.5 681.7h0M391.9 676.9h0M386.1 698.6h0M438 606.5h0M388.7 695.3h0M403.7 689.4h0M469 672.1h0M389.8 698.9h0M391.8 653.8h0M422.6 689.7h0M408.5 680h0M404.2 662.8h0M473.5 691.5h0M436.8 687.9h0M397.6 689.1h0M393.5 696.5h0M394.6 685.1h0M407.7 684.7h0M438.7 676h0M454.2 694.8h0M395.4 693.2h0M421.9 670.8h0M409.8 700.7h0M389 695.2h0M475 699.8h0M407 670.2h0M422 684.1h0M388.5 677h0M411.3 684h0M397.4 689.8h0M415.3 696.6h0M396 686.5h0M399.8 695h0M429.6 693.1h0M386.9 676.7h0M390.9 679.1h0M406.9 665.8h0M391 680.2h0M403.5 687.9h0M395.7 667.9h0M391.6 669.7h0M424 625.7h0M388.5 690.8h0M404.4 695.9h0M391.5 700.5h0M488.6 693.9h0M430.6 698.4h0M397.4 696.3h0M491.5 696.6h0M428.7 681.6h0M403.6 693h0M388.8 696.1h0M404.3 700.4h0M403 687.3h0M398 673.3h0M433.4 635.9h0M400.6 677h0M397.2 702.3h0M390 692.1h0M392.8 673.5h0M396.5 686.5h0M392.6 666.6h0M428.1 673.4h0M424.7 678.7h0M389.3 627.2h0M397.3 700.8h0M428.7 659h0M394.4 693.2h0M395.7 695.7h0M398.5 689.2h0M387.8 683.4h0M402.4 701h0M388.8 692.3h0M405.1 694.3h0M400.1 675.1h0M414.9 698.5h0M397.5 674.8h0M392.3 680.4h0M412.5 670.9h0M386.9 639.8h0M401.9 688.5h0M388.7 696.8h0M448.3 699.4h0M415.8 700.6h0M399.5 692.1h0M388.9 660.9h0M413 700h0M427.4 651.4h0M407.9 659h0M409 671.3h0M408 689.1h0M396.8 683.1h0M397.7 667.4h0M412 697.1h0M396.9 687h0M392.6 695.2h0M389.2 694.1h0M392 675.4h0M407.8 689.3h0M422.3 661.2h0M395.3 693.6h0M388.1 696.6h0M393.4 684.2h0M409.3 682h0M404.8 672.8h0M403.6 684.4h0M391.6 696.8h0M411.6 657.6h0M432.4 675.4h0M396.3 695.8h0M394.9 689.7h0M435.7 688.5h0M411.3 693.8h0M405.6 694h0M404.9 658.4h0M397 686.2h0M399.8 683.2h0M395 683.7h0M429.8 629.6h0M397.9 685h0M512.9 692.4h0M398.5 654.5h0M397.6 686.2h0M459.1 688.7h0M438.8 645.3h0M423.7 687.2h0M389.1 681.7h0M389 669.8h0M396.7 684.1h0M464.1 660h0M387 686.7h0M400.5 695.3h0M413.1 631.5h0M419.1 695.6h0M401.3 686.9h0M409.2 653.5h0M397.9 698.1h0M409.9 684.4h0M398.2 692.8h0M398.8 684.2h0M388.8 680.9h0M449.9 683h0M418.4 690h0M412.4 680.1h0M399.1 697.7h0M391.8 695h0M396.4 682.1h0M428.8 686.3h0M408.6 694.2h0M396.6 696.1h0M406.5 684.4h0M410.4 626.4h0M424 676.1h0M453.5 677.9h0M392.9 691.4h0M413.1 624.4h0M405.9 684.6h0M418.6 638.6h0M408.5 681.8h0M397.6 700.3h0M404.8 682.9h0M426.7 662.9h0M413.6 668.4h0M420 699.9h0M424.1 689.5h0M399 687.6h0M417.9 650.5h0M388.6 609.5h0M421.1 632h0M409.2 695.2h0M397 671.6h0M396.1 699.7h0M388.4 689.5h0M436.1 669h0M437.2 698.4h0M410.6 688.8h0M420.5 654h0M415.4 691.5h0M388.5 696.2h0M435.2 700.7h0M407 696.1h0M390.7 661h0M453.5 668.1h0M423.6 695.1h0M412.4 651.7h0M397.3 671.3h0M398.2 685.6h0M398 599.5h0M422.6 700.3h0M385.6 688.8h0M386.3 654.2h0M400.8 687.9h0M394.6 692.6h0M460.7 679.6h0M440.4 676.1h0M388.3 679.7h0M385.7 693.4h0M516.9 680.5h0M418.7 673.1h0M411.5 667.9h0M386.1 699.9h0M483.5 698.1h0M407.1 677h0M412 689.4h0M387.1 667.2h0M399.3 679.4h0M391 635h0M404.6 677.4h0M398.2 682.2h0M430.2 694h0M461.6 639.6h0M411.2 687h0M390.4 699.2h0M500.8 650.6h0M407.7 695.1h0M393.8 686.1h0M428.2 693.7h0M386.5 682.4h0M424.9 619h0M397.5 684.2h0M429.5 694.2h0M410.9 688.8h0M402.4 682.7h0M388.6 688.5h0M392.9 602.3h0M386.6 683.9h0M398.2 673.4h0M391.1 690.3h0M393.5 684.6h0M404.3 694.1h0M427.5 669h0M396.2 678.9h0M427 683.8h0M428.8 690.8h0M395.6 682.7h0M404.5 689.1h0M387.4 683.8h0M389.2 696.4h0M385.6 671.8h0M441.9 690.8h0M429.3 696.3h0M390.7 679h0M440.4 655.3h0M435.2 681.1h0M394.5 685.9h0M405.6 680.5h0M406 687.9h0M401.2 693.7h0M389.1 683.8h0M430.1 681.8h0M437.7 671.6h0M395.6 667.1h0M396.9 685.5h0M416.2 692.7h0M388.9 662.7h0M387.5 680.4h0M399.1 687.1h0M393.6 677.3h0M402.1 685h0M422.4 687.9h0M516.3 660.6h0M439.2 690.9h0M406.7 688.6h0M399.1 684.6h0M421.2 681.6h0M398.8 693.8h0M389.6 680.2h0M430.5 672.7h0M395.5 684.5h0M395.4 695.5h0M449.1 678h0M390.1 696.2h0M406.7 694h0M425.2 699.3h0M412.8 692.7h0M395.1 659.2h0M393.8 693.3h0M394.2 685.3h0M392.1 692.3h0M467.4 684.2h0M410.6 692.5h0M457.8 675.6h0M394 672.8h0M415.7 602.5h0M449 688h0M397.2 692.3h0M426.7 685.6h0M413.2 694.8h0M412.6 670.5h0M391.6 689.3h0M401.9 608.3h0M472.8 688.9h0M392.9 672h0M413.4 694.5h0M407.3 683.8h0M399.7 603.9h0M390.9 686.1h0M402.1 696.7h0M435.6 672.4h0M405.1 657h0M403.4 678.4h0M395.8 697.6h0M386.8 690.8h0M401.5 693.6h0M418.2 682.6h0M418.3 690.2h0M394.2 676h0M435.7 695.6h0M397.2 695.2h0M394.3 688.6h0M436.3 680.3h0M405 690.4h0M426.5 693.1h0M406.1 684.1h0M386.2 650h0M413 695.4h0M392.6 679.4h0M391.9 687.4h0M398.3 686.2h0M395.8 690.7h0M389.1 669h0M414.8 658.9h0M504 689h0M485.1 696.7h0M410.2 700.6h0M402.9 686h0M449.5 670.4h0M397.3 681.5h0M428.1 677.6h0M459.3 685h0M409.2 698.6h0M416.6 672.6h0M403.4 690.1h0M408.9 696.6h0M411.6 686.1h0M422.5 672.7h0M386.2 676.6h0M388.2 672h0M423.3 677h0M408.1 696.1h0M399.3 650.2h0M409.3 673.7h0M386 688.4h0M427.9 667.7h0M411.9 676.3h0M404.2 699.9h0M395.8 627.8h0M406.3 699.9h0M396.2 609.6h0M389.4 692.9h0M411.9 679.8h0M389.5 693.3h0M395.2 687.6h0M398.5 693.5h0M388.8 683.2h0M393.8 680.6h0M403.2 685h0M392.2 698.5h0M434.9 683.3h0M391.3 654.5h0M408.3 646.5h0M414.4 690.4h0M392.4 699.5h0M396.3 673.6h0M404.3 690.4h0M388.6 698h0M408.8 678.7h0M390.8 642.9h0M404 687.1h0M487.4 679.9h0M407.6 678h0M401.3 658.6h0M389.1 679.2h0M401.6 686.9h0M387.4 690.5h0M413.2 688.1h0M414 693.8h0M393.9 701.5h0M409.4 696.9h0M388.5 683.5h0M411.3 700.7h0M394.8 695.7h0M392.2 682.2h0M396.1 665.7h0M422 689.9h0M415 694h0M388.9 696h0M404.7 648.4h0M398.7 686.5h0M398.3 696.4h0M415.3 691.3h0M405.1 609.2h0M390.6 700.3h0M513.4 674.7h0M395.2 696.3h0M393.5 693.2h0M397.5 684.8h0M459.7 694.9h0M401.6 684.8h0M404.3 680.5h0M400 681h0M397.3 695.3h0M409 697h0M414.5 682.7h0M428 691.2h0M419.5 687.5h0M460 692h0M386.4 685.2h0M398.9 697.6h0M502.2 679.7h0M414.4 676.3h0M418.5 688.2h0M504.5 680.6h0M395.5 685.6h0M396.8 699h0M389.8 685.4h0M416 684.5h0M449.8 698.2h0M408 680.1h0M397.7 701.3h0M385.9 687.9h0M389.9 670.4h0M387.4 693.4h0M439.3 700.7h0M420.3 692.9h0M390.7 684.2h0M412.5 664.7h0M396.9 686.9h0M388.3 692.2h0M411.3 662.1h0M385.2 679.1h0M399.4 697h0M391.8 697.7h0M416.5 697.6h0M401.7 683.8h0M397.8 688.8h0M393.4 697.8h0M499.2 681.3h0M415.7 694.4h0M398.6 682.3h0M399.8 697.5h0M414.5 687.4h0M396.3 689h0M400.7 668.5h0M410.8 696.3h0M427.2 696.6h0M413.8 698.2h0M439.7 686.9h0M395.6 687h0M420.3 698.9h0M425.3 658.1h0M434 669.5h0M487.6 675.9h0M413.5 657.1h0M413.5 692.6h0M395.6 664.1h0M411.3 678h0M403.3 693h0M392.9 686.2h0M456.2 680.3h0M406.9 690.7h0M437.7 681.7h0M416.6 671.4h0M427.1 676.4h0M389.1 699h0M391.5 653.6h0M404.8 686.2h0M428.2 696.5h0M386.7 691h0M400.9 689.2h0M388 701.5h0M401.5 690.6h0M400.2 681.9h0M396 682.1h0M424.3 701.8h0M390.6 696.9h0M392 680.5h0M413.1 696.7h0M398.9 660.2h0M421.2 672.3h0M390.3 693.6h0M409.1 699.5h0M406.3 691.7h0M397.4 687h0M403.5 673.3h0M395.8 701.7h0M427.2 682.3h0M398.2 691h0M417.8 675.3h0M411.8 684.9h0M402.8 695.2h0M394.6 674.9h0M387.6 688.7h0M411.4 692.1h0M410.9 693.4h0M415.1 680h0M390.1 685.4h0M396.3 694.1h0M396.4 694.5h0M396.2 698.9h0M403.7 690.9h0M401.9 655.3h0M401.5 679.3h0M406.1 690h0M404.1 699.2h0M391.5 626.3h0M402.5 695.4h0M429.1 662.1h0M430.3 696.1h0M398 699.8h0M420.5 698.1h0M393.4 663h0M437.7 665.5h0M408.3 676.7h0M398.9 689.5h0M401.7 665.3h0M422.9 668.6h0M435.9 675.2h0M389.7 681.7h0M389.2 693.1h0M408.4 688.2h0M450.8 697.3h0M403.5 671.2h0M398.8 683.3h0M427.7 679.9h0M397 694.6h0M394.2 685.1h0M424.6 692.9h0M413.1 689.8h0M450.2 665.9h0M396.2 692.3h0M421 682.2h0M462.3 648.6h0M386.5 624.4h0M493.5 696.9h0M404.9 682.5h0M393.9 687.7h0M394.7 661.2h0M394.5 690.1h0M402.1 675.4h0M396.9 693.6h0M390.1 666.4h0M396.6 681.5h0M402.3 673.6h0M395.7 699.5h0M476.6 679.5h0M411.5 610.5h0M397.7 670.1h0M427 666.7h0M396.1 693.2h0M410 621.5h0M404.4 695.7h0M423.7 690.1h0M397.5 678.9h0M414 669.2h0M393.3 671.4h0M416.4 691.1h0M421.8 685.9h0M396 693.9h0M428.6 634.3h0M401.5 685.8h0M395.7 668.7h0M391.2 696.8h0M400.7 695.6h0M428.8 697.1h0M412.5 688.8h0M512 677.2h0M409.9 668.6h0M390.7 691.1h0M392.7 683.9h0M392.5 681.9h0M410.6 659.2h0M402.8 644.9h0M457.7 682.5h0M394.8 688.1h0M398.1 674.8h0M415 693.6h0M388 667h0M403 692.2h0M394.2 680.1h0M405.7 694.1h0M397.9 689.1h0M408.4 695.3h0M407.7 695.6h0M402.3 696.8h0M399.8 700.9h0M395.2 695.3h0M405.4 691.3h0M397.9 687.2h0M400 674.4h0M403.6 696.3h0M403.2 661.8h0M400.1 685.9h0M388.7 681.4h0M428.9 693.7h0M396.2 620.3h0M428.7 703.5h0M431.3 703.5h0M385.1 703.5h0M403.9 703.5h0M398.5 703.5h0M391.1 703.5h0M458.5 703.5h0M405.9 703.5h0M388.8 703.5h0M412.1 703.5h0M422.5 703.5h0M389.1 703.5h0M403.6 703.5h0M388.5 703.5h0M390.3 703.5h0M395.2 703.5h0M400.4 703.5h0M402.4 703.5h0M404.8 703.5h0M408.4 703.5h0M386.9 703.5h0M434.2 703.5h0M412.9 703.5h0M387.2 703.5h0M394.9 703.5h0M396.9 703.5h0M389 703.5h0M393.9 703.5h0M395.7 703.5h0M409.6 703.5h0M416 703.5h0M408.9 703.5h0M386.1 703.5h0M397.7 703.5h0M389.4 703.5h0M418.3 703.5h0M405.9 703.5h0M400.8 703.5h0M396.7 703.5h0M420.7 703.5h0M385.1 703.5h0M412.9 703.5h0M425.9 703.5h0M398.2 703.5h0M386 703.5h0M394.7 703.5h0M402.7 703.5h0M418.8 703.5h0M429.4 703.5h0M391 703.5h0M392.7 703.5h0M387.2 703.5h0M386.8 703.5h0M418.4 703.5h0M457.2 703.5h0M399.9 703.5h0M395.7 703.5h0M396 703.5h0M427.9 703.5h0M414.4 703.5h0M395 703.5h0M392.1 703.5h0M420.9 703.5h0M400.5 703.5h0M395.4 703.5h0M388.8 703.5h0M385.8 703.5h0M413.6 703.5h0M404 703.5h0M390.9 703.5h0M392.7 703.5h0M394.2 703.5h0M398.3 703.5h0M408.2 703.5h0M392.3 703.5h0M397.4 703.5h0M386.6 703.5h0M405.3 703.5h0M386.3 703.5h0M403 703.5h0M388.5 703.5h0M387.5 703.5h0M420.4 703.5h0M401.1 703.5h0M388.9 703.5h0M403.9 703.5h0M391.9 703.5h0M395.7 703.5h0M393.8 703.5h0M400.3 703.5h0M388.4 703.5h0M389.3 703.5h0M384.9 703.5h0M384.5 703.5h0M392.9 703.5h0M408 703.5h0M400.9 703.5h0M393 703.5h0M435.7 703.5h0M389.7 703.5h0M394.1 703.5h0M387.2 703.5h0M458.4 703.5h0M388.8 703.5h0M391.7 703.5h0M385.4 703.5h0M398.2 703.5h0M398 703.5h0M392.7 703.5h0M397.7 703.5h0M397.3 703.5h0M386.3 703.5h0M402.2 703.5h0M417.3 703.5h0M402.3 703.5h0M385.6 703.5h0M389.4 703.5h0M388.9 703.5h0M452.7 703.5h0M406.7 703.5h0M417.2 703.5h0M407.5 703.5h0M384.5 703.5h0M402.5 703.5h0M395.8 703.5h0M402.5 703.5h0M396.2 703.5h0M404.3 703.5h0M384.5 703.5h0M408.4 703.5h0M386 703.5h0M393.3 703.5h0M393.9 703.5h0M418.8 703.5h0M409.1 703.5h0M401.5 703.5h0M417.2 703.5h0M406.1 703.5h0M394.1 703.5h0M391.7 703.5h0M402.4 703.5h0M390.2 703.5h0M403.7 703.5h0M420.6 703.5h0M385.5 703.5h0M393.3 703.5h0M387.9 703.5h0M389.4 703.5h0M391.6 703.5h0M412.8 703.5h0M514.5 572.9h0M441 585.1h0" stroke="#5a7cb4" stroke-width="1.40" stroke-linecap="round" fill="none" />
<line x1="384.5" y1="694.0" x2="517.4" y2="661.4" stroke="#3d6aa8" stroke-width="1.0" />
<line x1="376.5" y1="566.8" x2="376.5" y2="710.5" stroke="#444" stroke-width="0.9" />
<line x1="376.0" y1="710.5" x2="523.4" y2="710.5" stroke="#444" stroke-width="0.9" />
<line x1="373.9" y1="703.5" x2="376.5" y2="703.5" stroke="#444" stroke-width="0.7" />
<text x="372.8" y="706.5" font-size="8.2" text-anchor="end" fill="#151515" >0</text>
<line x1="373.9" y1="659.2" x2="376.5" y2="659.2" stroke="#444" stroke-width="0.7" />
<text x="372.8" y="662.2" font-size="8.2" text-anchor="end" fill="#151515" >2</text>
<line x1="373.9" y1="615.0" x2="376.5" y2="615.0" stroke="#444" stroke-width="0.7" />
<text x="372.8" y="617.9" font-size="8.2" text-anchor="end" fill="#151515" >4</text>
<line x1="373.9" y1="570.7" x2="376.5" y2="570.7" stroke="#444" stroke-width="0.7" />
<text x="372.8" y="573.7" font-size="8.2" text-anchor="end" fill="#151515" >6</text>
<line x1="376.0" y1="710.5" x2="376.0" y2="713.1" stroke="#444" stroke-width="0.7" />
<text x="376.0" y="722.2" font-size="8.2" text-anchor="middle" fill="#151515" >0</text>
<line x1="404.3" y1="710.5" x2="404.3" y2="713.1" stroke="#444" stroke-width="0.7" />
<text x="404.3" y="722.2" font-size="8.2" text-anchor="middle" fill="#151515" >50</text>
<line x1="432.6" y1="710.5" x2="432.6" y2="713.1" stroke="#444" stroke-width="0.7" />
<text x="432.6" y="722.2" font-size="8.2" text-anchor="middle" fill="#151515" >100</text>
<line x1="460.8" y1="710.5" x2="460.8" y2="713.1" stroke="#444" stroke-width="0.7" />
<text x="460.8" y="722.2" font-size="8.2" text-anchor="middle" fill="#151515" >150</text>
<line x1="489.1" y1="710.5" x2="489.1" y2="713.1" stroke="#444" stroke-width="0.7" />
<text x="489.1" y="722.2" font-size="8.2" text-anchor="middle" fill="#151515" >200</text>
<line x1="517.4" y1="710.5" x2="517.4" y2="713.1" stroke="#444" stroke-width="0.7" />
<text x="517.4" y="722.2" font-size="8.2" text-anchor="middle" fill="#151515" >250</text>
<text x="450.6" y="732.2" font-size="8.2" text-anchor="middle" fill="#151515" >Peptides AA Length</text>
<text transform="translate(360.5,636.5) rotate(-90)" x="0" y="0" font-size="8.2" text-anchor="middle" fill="#151515">|Phenotype score|</text>
<text x="388.9" y="576.9" font-size="8.2" fill="#151515"><tspan font-style="italic">R</tspan>=0.21, <tspan font-style="italic">P</tspan>&lt;2.2e-16</text>
<line x1="570.7" y1="590.5" x2="570.7" y2="710.6" stroke="#444" stroke-width="0.9" />
<line x1="570.2" y1="710.6" x2="679.7" y2="710.6" stroke="#444" stroke-width="0.9" />
<line x1="568.1" y1="710.0" x2="570.7" y2="710.0" stroke="#444" stroke-width="0.7" />
<text x="565.0" y="713.0" font-size="8.2" text-anchor="end" fill="#151515" >0</text>
<line x1="568.1" y1="665.8" x2="570.7" y2="665.8" stroke="#444" stroke-width="0.7" />
<text x="565.0" y="668.7" font-size="8.2" text-anchor="end" fill="#151515" >100</text>
<line x1="568.1" y1="621.5" x2="570.7" y2="621.5" stroke="#444" stroke-width="0.7" />
<text x="565.0" y="624.5" font-size="8.2" text-anchor="end" fill="#151515" >200</text>
<line x1="601.4" y1="710.6" x2="601.4" y2="713.2" stroke="#444" stroke-width="0.7" />
<text x="601.4" y="721.0" font-size="8.2" text-anchor="middle" fill="#151515" >Onhit</text>
<line x1="652.1" y1="710.6" x2="652.1" y2="713.2" stroke="#444" stroke-width="0.7" />
<text x="652.1" y="721.0" font-size="8.2" text-anchor="middle" fill="#151515" >NA</text>
<text transform="translate(546.5,644.4) rotate(-90)" x="0" y="0" font-size="8.2" text-anchor="middle" fill="#151515">sORFs Length</text>
<text x="625.9" y="592.2" font-size="8.2" text-anchor="middle" fill="#151515"><tspan font-style="italic">P</tspan> &lt; 2.2*10^-16</text>
<line x1="601.4" y1="644.4" x2="601.4" y2="673.3" stroke="#2a70b8" stroke-width="0.9" />
<line x1="601.4" y1="693.5" x2="601.4" y2="703.5" stroke="#2a70b8" stroke-width="0.9" />
<rect x="583.3" y="673.3" width="36.5" height="20.2" fill="#fff" stroke="#4a90d0" stroke-width="0.9" />
<line x1="583.3" y1="685.1" x2="619.8" y2="685.1" stroke="#4a90d0" stroke-width="0.9" />
<path d="M601.4 599.7h0M601.4 601h0M601.4 602.2h0M601.4 603.5h0M601.4 604.7h0M601.4 606h0M601.4 609h0M601.4 610.4h0M601.4 611.9h0M601.4 613.3h0M601.4 614.8h0M601.4 616.2h0M601.4 617.7h0M601.4 619.1h0M601.4 620.6h0M601.4 622h0M601.4 625h0M601.4 626.5h0M601.4 628h0M601.4 629.5h0M601.4 631h0M601.4 634h0M601.4 635.3h0M601.4 636.6h0M601.4 637.9h0M601.4 639.2h0M601.4 640.5h0M601.4 641.8h0M601.4 643.1h0M601.4 644.4h0" stroke="#2a70b8" stroke-width="3.60" stroke-linecap="round" fill="none" />
<line x1="652.1" y1="657.5" x2="652.1" y2="681.2" stroke="#ec7c70" stroke-width="0.9" />
<line x1="652.1" y1="698.2" x2="652.1" y2="704.8" stroke="#ec7c70" stroke-width="0.9" />
<rect x="633.7" y="681.2" width="36.8" height="17.0" fill="#fff" stroke="#ec7c70" stroke-width="0.9" />
<line x1="633.7" y1="691.7" x2="670.5" y2="691.7" stroke="#ec7c70" stroke-width="0.9" />
<path d="M652.1 625h0M652.1 626h0M652.1 627h0M652.1 628h0M652.1 628.9h0M652.1 629.9h0M652.1 630.9h0M652.1 631.9h0M652.1 632.9h0M652.1 633.9h0M652.1 634.8h0M652.1 635.8h0M652.1 636.8h0M652.1 637.8h0M652.1 638.8h0M652.1 639.8h0M652.1 640.8h0M652.1 641.7h0M652.1 642.7h0M652.1 643.7h0M652.1 644.7h0M652.1 645.7h0M652.1 646.7h0M652.1 647.7h0M652.1 648.6h0M652.1 649.6h0M652.1 650.6h0M652.1 651.6h0M652.1 652.6h0M652.1 653.6h0M652.1 654.5h0M652.1 655.5h0M652.1 656.5h0M652.1 657.5h0" stroke="#ec7c70" stroke-width="3.20" stroke-linecap="round" fill="none" />
<circle cx="652.1" cy="601.0" r="1.60" fill="#fff" stroke="#ec7c70" stroke-width="0.6" />
<circle cx="652.1" cy="605.0" r="1.60" fill="#fff" stroke="#ec7c70" stroke-width="0.6" />
<circle cx="652.1" cy="609.0" r="1.60" fill="#fff" stroke="#ec7c70" stroke-width="0.6" />
<circle cx="652.1" cy="613.0" r="1.60" fill="#fff" stroke="#ec7c70" stroke-width="0.6" />
<circle cx="652.1" cy="617.0" r="1.60" fill="#fff" stroke="#ec7c70" stroke-width="0.6" />
<circle cx="652.1" cy="621.0" r="1.60" fill="#fff" stroke="#ec7c70" stroke-width="0.6" />
<text x="5.5" y="743" font-size="11" font-weight="bold" fill="#111">j</text>
<path d="M63.1 831.7h0M59.3 870.8h0M46.1 845.8h0M38.8 838.3h0M41.5 838.4h0M68.5 815.8h0M36.2 870.3h0M35.8 871.9h0M49.8 872.1h0M46.5 863.2h0M58.9 878.7h0M35.6 820.7h0M50.6 835.4h0M51.8 865.2h0M63.8 875.9h0M52.5 846.5h0M39.2 863.4h0M52.7 817.4h0M59 871.5h0M47 829.9h0M82.3 860.3h0M38 870.4h0M81.7 859.4h0M51.9 845.4h0M36.8 849.8h0M38.1 866.1h0M69.9 806.9h0M40.6 863.2h0M42.8 844.6h0M53.1 875.5h0M87 875.3h0M36 876.3h0M35.5 865.4h0M44.4 800h0M65.4 862.1h0M61.8 868.8h0M53.9 875.5h0M40.9 851h0M36 852.7h0M54.7 854.3h0M36.4 847.6h0M43.1 881.1h0M46.6 878.4h0M63.6 867.4h0M35.8 844h0M39.7 870.7h0M42.3 852.2h0M64.8 868.5h0M47.8 862.9h0M40 856.9h0M44.2 855.6h0M40.9 853h0M35.5 849.6h0M48.6 871.8h0M53.5 869.2h0M40.6 877.3h0M49.7 868.8h0M40.3 813.9h0M37.4 872.2h0M41 858.2h0M41.5 837.1h0M50.9 859.6h0M44.2 872.4h0M42.1 866.2h0M37.9 860.5h0M38.1 824h0M39.4 855.3h0M44.1 875.3h0M38 869.5h0M69.3 828.2h0M43 858.9h0M53.3 810.1h0M83.5 848.8h0M109 871.6h0M37.6 840h0M39.1 863.5h0M39.7 871.6h0M40.9 855.7h0M44.1 841.3h0M36.7 856.3h0M37.8 854.5h0M50.3 813.9h0M36 838.6h0M57.5 835.8h0M40.8 878.3h0M55.9 850.5h0M71.4 861.5h0M37.1 849.2h0M35.5 869h0M47.9 858.1h0M41.6 880.4h0M37.7 860.7h0M46.8 854.5h0M104.8 867.1h0M55.4 865.9h0M47.9 869.1h0M44.9 836.9h0M46.1 835.9h0M56.2 848.1h0M51.8 860.8h0M65.1 830.4h0M43.6 863.1h0M63.5 876.7h0M53.9 845.6h0M61.1 870.6h0M59.2 859.1h0M41 872.8h0M35.8 854.4h0M43.5 878.2h0M49.5 806.3h0M36.8 863.7h0M43.3 855.6h0M85.2 867.1h0M36.4 840.4h0M53 880.5h0M35.9 861.9h0M44.2 845.2h0M37 849.7h0M38.9 858.9h0M36.7 865.8h0M49.4 866.1h0M39.3 867.2h0M39.7 866.9h0M43.3 865.7h0M53.6 864.3h0M52.3 832.2h0M42.5 872.7h0M52.6 859.5h0M38.8 859h0M40.5 867.7h0M36.6 870.9h0M45.3 844.5h0M75.9 845.8h0M65.9 877.5h0M45 822.9h0M66.2 815.3h0M44.6 855h0M46.8 847h0M63.1 863h0M48.1 855.8h0M51.6 855.4h0M53.6 866.7h0M49.6 858.7h0M41.9 842.6h0M162.4 871.7h0M76.2 839.9h0M36 878.2h0M38.1 817.1h0M111.5 851.3h0M38.9 880.2h0M35.8 824.5h0M61.5 871.5h0M35.6 880.1h0M66.5 863.1h0M85.5 866.7h0M58.7 847.8h0M78.1 853.3h0M101.9 856.1h0M67.5 855.1h0M62.2 856.4h0M62.5 847.2h0M55.3 877h0M56.1 833.7h0M44.2 802.7h0M43.2 866.1h0M37.7 870.6h0M44.3 875.3h0M44.2 842.5h0M54.4 844.5h0M42.9 849.6h0M40.8 863.8h0M40.1 851.4h0M37.7 876.5h0M73.8 817.9h0M52.1 818.7h0M37.1 864.7h0M57.6 865.9h0M38.2 861.4h0M41.6 875.6h0M41.5 879.1h0M57.7 873.2h0M39.7 818.4h0M38.2 868.8h0M46.2 849.5h0M44.2 855.3h0M55.2 818.5h0M52.6 836.7h0M44.3 851.7h0M61.3 857.7h0M42.9 874h0M57.5 875.4h0M35.6 870.4h0M78.7 868.6h0M45.3 850.6h0M56 843.6h0M74.5 873.6h0M54.6 871.7h0M36.1 875.8h0M49.7 865.7h0M65.1 854h0M36.2 834.4h0M43.2 881.2h0M52.9 843.9h0M50.1 843h0M79 810.3h0M51.6 880.1h0M36.1 831.3h0M55.9 829.4h0M49.3 825.2h0M78.9 854.8h0M48.3 845.4h0M51.1 843.1h0M81.9 856.8h0M36.2 869.5h0M64.9 848.7h0M44.3 848.1h0M37.1 865.1h0M45.9 856.2h0M41.4 818.2h0M66.9 858.3h0M44.1 845.4h0M36.1 850h0M36.6 861.2h0M60.1 862.1h0M43.2 870.4h0M45.9 865.4h0M47.4 856.4h0M41.5 824.8h0M74.2 838.4h0M39.4 859.4h0M45.7 871.5h0M51.1 856.3h0M55.4 854.7h0M47.6 875.9h0M64.7 857.4h0M48.3 828.5h0M52.1 837.4h0M68.4 824.2h0M44.7 868.9h0M59.9 871.5h0M45.8 881.4h0M38.8 849.3h0M45.5 871.5h0M49.7 877h0M40.7 871.3h0M39.3 865.7h0M37.9 877.3h0M51.4 855.3h0M89.9 861.3h0M66.4 877.1h0M39.6 874.2h0M42.1 863.6h0M61.4 851.3h0M46 843.6h0M43.1 853.5h0M43.5 877.1h0M38.1 865.2h0M45 807h0M36.1 856.1h0M56.8 877h0M35.6 871h0M40.1 870.4h0M40.2 870.2h0M46.7 838.8h0M63.2 879.5h0M46 859.5h0M50.5 869.2h0M37.1 857.3h0M39.1 881.4h0M56.5 868.2h0M72.8 855.6h0M41.2 852.8h0M37.9 839.9h0M35.6 870.5h0M39.7 847.1h0M41.9 846.4h0M50.6 858.7h0M49.7 875h0M35.7 865.9h0M35.5 869.4h0M56.2 876.5h0M37.3 862.2h0M37 843.4h0M37.3 864h0M39 846.6h0M38.9 876.8h0M40.8 856.4h0M39.4 871.5h0M69.6 879.2h0M47.5 861.1h0M40.3 842.4h0M59 863.9h0M68.2 828.7h0M53.4 868.9h0M51.3 874h0M44.5 870.1h0M36.2 868.2h0M36.1 857.8h0M84.1 850.9h0M39.2 867.9h0M37.7 873.3h0M36.8 860.5h0M42.8 857.8h0M41.9 850.4h0M44.2 875.8h0M49.4 862.3h0M35.5 859.4h0M39.5 867.1h0M37.1 875.6h0M39.9 854.6h0M36.4 860.6h0M35.7 862.5h0M68.9 852.8h0M60.3 876.7h0M38 871.6h0M57.3 869.6h0M41.3 867.6h0M36.8 846.9h0M42.6 804.1h0M41.7 867h0M35.9 863.3h0M50 864.9h0M37.8 830h0M43.7 859.8h0M44.6 818.2h0M39.4 862.7h0M46.6 801.8h0M42 859.2h0M39 873.1h0M48.6 872.4h0M53.5 872.1h0M42.2 864.7h0M49.6 875.7h0M48.6 866.6h0M45.8 859h0M72.2 818.7h0M43 859.6h0M38 877.5h0M48.7 849h0M43.1 870h0M39.8 875.2h0M66.9 837.1h0M50.2 832.7h0M45 875h0M52.8 877.8h0M35.6 872.7h0M43 800.1h0M41.8 817.1h0M38.8 835.6h0M80.8 870.8h0M43.1 875.9h0M37.1 875.3h0M36.9 855h0M48 867.2h0M56.2 854.4h0M67.7 858.4h0M47.2 863.6h0M36.4 860.6h0M71.4 861.6h0M37.2 872.5h0M39.5 862h0M64.6 835.4h0M47.3 861.5h0M38.1 874.4h0M44.5 855.5h0M71.5 875.6h0M38.8 852.2h0M48.8 878.2h0M44.8 815.6h0M36 863.5h0M58 856.8h0M37.5 853.4h0M47.8 855.5h0M45.5 871.4h0M44.9 875.9h0M35.9 865.1h0M37.9 843.5h0M57.5 863.1h0M37.2 832.7h0M37.3 878.8h0M35.7 863.2h0M66.2 871.3h0M46.3 846.1h0M85.4 877.3h0M39 858.8h0M50.2 875.1h0M42.1 873.9h0M91.1 872.1h0M52.4 878.5h0M69.4 845h0M38.5 858.1h0M46.4 851.5h0M39.7 880.9h0M35.7 844.9h0M41.3 865.7h0M36.1 860.4h0M60.4 826.4h0M44.4 853.3h0M56.6 858.3h0M46.4 841.6h0M45.9 868.5h0M41.4 863h0M55.1 870.4h0M53.1 877.2h0M51.1 854.9h0M37.9 851.8h0M60.4 864.5h0M57.1 873.7h0M41.5 858.4h0M35.8 873.2h0M62.3 864.1h0M44.1 852.5h0M47.7 849h0M68.4 879.5h0M42.6 865.4h0M49.4 822.9h0M42.3 871h0M38.6 862.9h0M48.5 880h0M62.4 871.9h0M36.4 848.4h0M47.3 828.8h0M60.6 825.5h0M37 871.9h0M40.5 862.6h0M37 872h0M59.7 874.1h0M46.2 861.1h0M61.6 870.8h0M43.3 850.4h0M43.1 849.2h0M51.8 874.4h0M38 862.6h0M42.2 859.3h0M73.9 881.6h0M77.7 859.8h0M45.4 875.1h0M42.1 834.5h0M36.1 875.2h0M38 880h0M36.9 878.6h0M42.2 856.4h0M38.4 873.3h0M45.7 853.5h0M39.1 868.4h0M35.7 870.1h0M47.4 854h0M104.7 874.8h0M59.2 866h0M40.6 878.7h0M36.5 873.6h0M94.4 877.2h0M45.7 862.4h0M44.9 864.8h0M37.9 866.4h0M39 867.7h0M54.7 857.4h0M42.9 835h0M75.3 867.9h0M38.1 837.8h0M84.5 831.4h0M72.1 874.6h0M96.7 852.9h0M44.4 874.7h0M72.3 872.4h0M36.8 846.5h0M110.6 849.9h0M64.5 854.8h0M40 859.5h0M41.1 876.1h0M50.7 862h0M75.8 839.4h0M50.1 877.8h0M70.8 867.3h0M45.9 838.8h0M54.7 857.9h0M63.2 870h0M75.2 874.6h0M38.7 845.7h0M76.9 862.5h0M38.1 871.3h0M56.1 866.1h0M65.5 834.2h0M38.6 850.6h0M52.3 847.9h0M44.7 857.9h0M91.9 874.2h0M47.4 865.3h0M37.5 863.7h0M52.5 880.2h0M46.1 871.2h0M42.6 805h0M59.6 858.8h0M43.4 841.5h0M44.4 863.2h0M42.9 864.5h0M43.6 864.9h0M65.9 874.8h0M36.9 872.5h0M53 835.9h0M67 867h0M65.6 860.7h0M52.7 867.2h0M38.6 843.3h0M50.3 847.3h0M40.3 870.7h0M44.6 874.8h0M47.4 855h0M36.6 856.9h0M91.7 869.6h0M37 871.6h0M48.7 876.1h0M64.4 870.7h0M43.5 835.9h0M68.8 868.9h0M44.5 872.8h0M60.6 880.2h0M41.9 849.6h0M49.1 870.7h0M43 875h0M42 864.9h0M39.6 862.5h0M35.9 859.1h0M74.8 868.8h0M42.2 822.2h0M42.9 863h0M52 855.9h0M53.2 854.3h0M44.2 877h0M70.9 816.2h0M55.7 845.5h0M48.5 871.8h0M67.6 869.5h0M43.3 861.4h0M37.9 875.3h0M39.5 852.8h0M50.9 859.2h0M43.4 818.1h0M70.7 877h0M37.7 882.2h0M49.2 878.6h0M49.5 877.8h0M55.4 873.9h0M37.5 825.2h0M67.3 875h0M38.9 869.7h0M44.3 873.1h0M39.3 857.1h0M44.5 868.2h0M37.5 878.3h0M35.7 861.7h0M44.6 863.3h0M45.9 819.2h0M40.8 874.9h0M41.4 837.5h0M44.7 871.9h0M47.3 868.9h0M80.5 823.8h0M75.8 867.3h0M55.2 870.7h0M50.7 872.4h0M41.7 856.8h0M44.6 868.4h0M51.2 862.7h0M52.5 861h0M71.2 875.4h0M55.8 806.2h0M45.4 855.3h0M37 854.3h0M38.8 877.2h0M37.4 851.1h0M38.9 871.8h0M37.7 825.5h0M51.5 868.3h0M56.3 852.3h0M80.3 872.7h0M42 848.1h0M40.2 871.6h0M60.4 863.5h0M36.3 850.6h0M39.7 860.2h0M59.5 871.5h0M43.3 852.6h0M36.8 852.5h0M56.9 875h0M47 851.2h0M78.8 882h0M63.1 880.1h0M59.9 831.6h0M38.5 881.9h0M57.8 859.7h0M49.8 880.2h0M90.4 872.8h0M38.1 855.8h0M48.2 859.8h0M52.7 866.1h0M45.7 866.3h0M36.8 854.8h0M85.2 838.9h0M53.2 872.8h0M47.6 854.5h0M42.7 827.5h0M42.3 832.6h0M39.3 837.1h0M43.8 853.7h0M37.1 870.5h0M41.1 851h0M35.7 870.6h0M36.2 867.8h0M47.9 872.5h0M68.2 864.7h0M49 800.7h0M42.9 870.9h0M81.6 841.5h0M38.6 855.6h0M102.7 818h0M91.9 855.7h0M63.6 879.2h0M61.1 868.6h0M44.3 877.1h0M40.6 878.3h0M73.8 873.9h0M80.8 837h0M38.8 876.4h0M71.2 852.7h0M67.3 875.7h0M44.6 875.4h0M61.6 811.1h0M50.9 840.8h0M48.3 857h0M47.9 872.6h0M66.1 866.3h0M44.1 872.7h0M62 809.2h0M36.6 828h0M60 860.3h0M44.1 855.3h0M39.7 863.9h0M52.4 852.4h0M38.4 869.9h0M46 862.1h0M48.1 871.6h0M46.1 844.4h0M71.6 836.3h0M39.8 869.5h0M37 862.5h0M37.2 876.1h0M41.5 870.3h0M45.5 844.3h0M54 878h0M49.1 870.8h0M54.3 859.3h0M54.3 868.3h0M79.2 843.2h0M50.1 877.7h0M63.9 863.1h0M36 874.5h0M35.5 870h0M37.6 862h0M59.7 838.7h0M94.1 862.2h0M41.7 866.2h0M104.9 859.2h0M45.9 834.2h0M73.2 846.4h0M42 863.2h0M61.9 874.1h0M45 868h0M58.7 840.8h0M35.6 858.4h0M37.3 813h0M40.3 841.3h0M39.7 865.5h0M45.7 816.5h0M36.9 815.8h0M58.5 861.8h0M58.7 820.8h0M44.4 876.9h0M53.6 866.7h0M73.5 870.2h0M44.8 874.2h0M70.6 868.3h0M68.5 870.9h0M56.6 863.8h0M45.3 850.5h0M66.1 866.1h0M38.3 828.9h0M51.8 828.3h0M35.8 871.6h0M38.8 876.4h0M59.8 863.8h0M45.9 820.5h0M38.2 858.9h0M46.6 870.1h0M36.3 829.3h0M36.8 872.5h0M35.6 843.6h0M53.5 869h0M61 859.5h0M37.5 871.8h0M39.5 860.1h0M47.2 848.3h0M44.5 843.4h0M37.1 843.7h0M81.2 854.6h0M44.9 876.8h0M61.1 844.5h0M38.5 877h0M36.1 875.3h0M36.8 851.1h0M42.2 841.2h0M38.5 877.5h0M38.8 838.3h0M41.4 863.6h0M55.7 867.9h0M49.3 871.2h0M35.7 873h0M48.2 824h0M66.7 847h0M109.4 869.6h0M41.2 864.1h0M47.8 870.6h0M50.7 865.8h0M40.4 880.5h0M44.6 876.8h0M40.1 859.6h0M37.3 848h0M48.4 870.6h0M42.8 861.2h0M36.2 852.6h0M43.2 851.4h0M48.5 846.2h0M39.6 869.2h0M38.3 853.5h0M47.4 879h0M37.4 864.2h0M40.6 832h0M46.5 879.7h0M46.5 873.9h0M43.7 858.9h0M37.9 841h0M72.2 880.2h0M57.8 874.9h0M37.5 859.2h0M52 869.6h0M53.5 879.6h0M37.2 869.4h0M36.1 843.5h0M41.8 877.3h0M49.4 844.4h0M62.5 841.7h0M82.6 813.9h0M47.2 834.9h0M76.9 867.7h0M35.5 844.1h0M36 876.1h0M71.5 841.3h0M39.4 858.2h0M65 848.6h0M37.1 834.3h0M38.9 871.7h0M39.1 783.8h0M77.2 870.5h0M39.1 861.9h0M45.4 873.7h0M41.8 858.2h0M53.1 871.2h0M50.7 867.3h0M36.8 857.9h0M36 869.4h0M36.1 874.8h0M41.6 848.3h0M98.7 868.7h0M60.2 836.1h0M53.2 867.5h0M52.3 879.1h0M45.8 840.2h0M61.5 861h0M36.6 867.3h0M58.5 874.5h0M74.3 877.2h0M55.1 865.6h0M46.1 869.1h0M44.5 836.7h0M64.6 873.8h0M45.1 871.9h0M38.2 876.8h0M43.5 861.4h0M45.2 842.4h0M41.3 879.5h0M43.1 870.6h0M35.5 880.5h0M50.9 873.5h0M41.7 834.7h0M65.5 850.6h0M69.9 847h0M50.4 880.3h0M55 873.4h0M36.4 855.7h0M50 862.2h0M44.9 843.2h0M42.3 866.9h0M36.9 853.7h0M52.2 859.6h0M55.8 852.1h0M49.2 857.1h0M40.2 876.7h0M42.9 875.6h0M73.7 867.1h0M40.7 848.7h0M36.3 842.6h0M46.1 878.2h0M37.5 876.6h0M41.1 872.9h0M37.8 844.6h0M37.3 880.7h0M42.8 855.9h0M50.6 859h0M61.3 861.3h0M45.8 879.4h0M38.2 880.1h0M51.9 866.8h0M37.8 864.6h0M57 874.9h0M68.3 872.1h0M54.6 881.7h0M81.2 870.5h0M41.5 867h0M40.3 876.4h0M49.9 828h0M38.5 861.9h0M51.4 850.9h0M37.9 873.8h0M45.6 866.6h0M60.7 875.2h0M36.2 844.4h0M39.9 876.2h0M48 860.6h0M44.1 847.9h0M73.1 859.4h0M45 860.3h0M44.5 846.6h0M38.4 873.4h0M61.7 878.8h0M39.1 870.8h0M56 803.7h0M38.9 874h0M45.2 867.8h0M49.2 853.1h0M49.4 872.9h0M43.3 848.4h0M41.1 865.7h0M55.5 872.8h0M49 864.3h0M48.2 841.9h0M41.4 870.4h0M38.6 877.5h0M35.5 824.8h0M35.9 861.5h0M39.7 861.1h0M38.8 870.4h0M42.3 847.2h0M52.8 866.5h0M47.6 860.1h0M40 870.7h0M47.3 873.7h0M43.5 868.8h0M69.2 874.9h0M39.7 806.7h0M39.6 838.6h0M45.6 873h0M51 878.1h0M48.1 828.3h0M36.4 850.5h0M91.5 847.5h0M45.3 838h0M46.4 856.2h0M56.7 869.1h0M55.3 872.9h0M48.2 856.1h0M45.4 878.1h0M63.6 844h0M37 869.4h0M41.1 863.8h0M66.7 877.3h0M79 840.2h0M45.9 869.5h0M45.5 868.9h0M47.3 874.9h0M37.3 850.5h0M69.1 876.5h0M46 870.6h0M37.4 854h0M48.5 855.4h0M55.8 866.8h0M50 876.4h0M82.8 874.8h0M53 786.3h0M49.5 865.1h0M37.7 860.6h0M41.7 863.7h0M36.9 846.8h0M38.6 876.1h0M56.7 850.1h0M37.7 866.1h0M47.9 872.6h0M38.1 861h0M76.9 878.4h0M40 845.4h0M50.2 854.8h0M36.9 862.6h0M36.5 853.1h0M82.9 872.2h0M37.9 839.3h0M36.8 862h0M40.9 864.1h0M41.7 871.7h0M36.9 881h0M53.2 867.4h0M40.8 836.3h0M43 872h0M42.2 841.3h0M66.9 873.7h0M57.4 875.8h0M36.7 851.6h0M37.9 867h0M37.3 878.1h0M46.5 832.1h0M39.3 874.9h0M42.3 861.2h0M42.4 859h0M59.8 867.4h0M42.5 867.3h0M41.8 847.7h0M39.8 813.6h0M81.7 830h0M53.9 856.5h0M85.3 832.1h0M49.7 864.6h0M46.6 818.5h0M45 820.2h0M40.3 871.4h0M41.4 851.9h0M37.7 872.4h0M49.2 861.2h0M67.5 869.2h0M55.5 860.7h0M40.6 866.6h0M37.7 872.4h0M52.9 872.2h0M48.7 858.9h0M55.7 859.6h0M51.2 871.4h0M50.8 879.1h0M42 845.5h0M58.7 831.9h0M53.4 855h0M59.9 847.4h0M60.7 871h0M39.9 872.3h0M41.9 868.7h0M58.9 873.2h0M59.1 845.8h0M48.2 871.8h0M36.8 859.1h0M39.8 862.6h0M39.9 864.7h0M52.8 881.7h0M35.9 860.3h0M52.9 874.1h0M35.7 876.9h0M42 803h0M48 865.4h0M55.3 875.3h0M55.1 863.4h0M53.3 869.4h0M73.2 804.6h0M43.4 876h0M47.8 859.9h0M43.4 840.1h0M79.2 874h0M41.3 877.7h0M64.9 874.9h0M119.1 851.9h0M61 880.3h0M50.7 859.9h0M75.5 872.4h0M35.5 857.2h0M89.6 854h0M46.2 870.6h0M36.9 843.8h0M84.6 837.4h0M54 867.6h0M40.5 860.2h0M52.9 870.1h0M51.8 850.9h0M39.3 860.7h0M38.6 865.2h0M66.5 855h0M45.9 856.9h0M43.7 828.8h0M111.6 867.6h0M50 865.8h0M37.5 870.2h0M41.4 817.1h0M41.2 879h0M78.7 878.7h0M47.8 834.8h0M68.3 867.3h0M37 833.8h0M45.6 867.3h0M36 851.1h0M35.6 878.1h0M36.7 843.5h0M35.7 861.2h0M36 855.3h0M38 880.9h0M36.5 877.4h0M39.4 831.1h0M37.7 875.1h0M87.4 864h0M59.8 880.2h0M35.7 865.6h0M36.2 824h0M46.8 854.8h0M48.5 836.3h0M85.9 861.5h0M37.6 878h0M45.6 853.6h0M36.9 874.7h0M53 858.6h0M43.5 874.6h0M43.1 863.8h0M49.8 862.8h0M43.8 857.9h0M38.2 877.5h0M58.1 853.7h0M35.9 822h0M52.1 804.1h0M56.7 872.1h0M45.5 845.4h0M49.5 836.6h0M41.9 873.4h0M55.6 860.5h0M41.2 866.2h0M79.3 846.4h0M48.6 866.9h0M45.5 845.9h0M47.1 873.2h0M42.2 857.9h0M41.4 844.1h0M36.2 871.4h0M51.7 873h0M56.9 878.2h0M42.9 877.2h0M55.2 866.5h0M36.8 869h0M44.7 870.1h0M37.2 869h0M35.6 858.2h0M61.9 865.6h0M60.4 824h0M36.5 841.3h0M46 871.7h0M57.2 873.4h0M41.7 791.6h0M55.7 851.8h0M51.8 856.5h0M53 845h0M35.6 800.9h0M47.4 862.4h0M43 858.1h0M41.7 878.6h0M37.1 853.4h0M50.6 861.6h0M49.6 801.4h0M47.5 849.7h0M45.6 858.8h0M37.6 858h0M51.4 877.9h0M35.7 816.7h0M63.4 830.9h0M42.6 840.9h0M55.2 839.2h0M35.5 867.4h0M36.3 879.5h0M51.1 872h0M45.1 862.8h0M37.3 851h0M93.2 825.3h0M92.7 853.7h0M41.9 862.5h0M47.1 850.1h0M55.4 879.1h0M37.5 873.9h0M35.7 831.2h0M62.2 855.1h0M37.7 874.6h0M58.5 850.1h0M55.5 878.2h0M35.7 843.4h0M55.9 864.3h0M113.9 841.4h0M46.1 871.8h0M39.6 853.7h0M46.4 858.8h0M38 862.2h0M37.5 844.5h0M36 873.5h0M44.1 859.2h0M51.6 844.5h0M38.7 866.2h0M40.5 872.6h0M45.4 870.7h0M36.2 864h0M55 826.1h0M39.6 799.7h0M71.8 865.3h0M39.4 857.4h0M60.5 858.9h0M54.5 859.4h0M37.7 842.5h0M36.3 856.9h0M37.2 844.5h0M53.9 859.2h0M45.4 849.7h0M41.5 847.2h0M41.8 849.6h0M41.4 878.4h0M56.3 847.5h0M46.2 861.1h0M51.8 862.2h0M42.8 852.7h0M43.1 871.5h0M64.4 828.8h0M51.3 847.2h0M45.8 878.7h0M37.8 871.5h0M61 849.9h0M36.9 866h0M44.4 843.1h0M49.7 879.4h0M37.9 824.2h0M55.9 859.8h0M55.6 877h0M47.2 853.6h0M41.7 868.7h0M62.9 871.4h0M36.6 870.8h0M85 862.8h0M48.1 849.8h0M36.1 862.3h0M46.1 864h0M42.2 881.4h0M57 879.8h0M56.3 852.2h0M41.2 861h0M48.9 873h0M51.6 865.8h0M53.5 863h0M54.2 852.2h0M38.4 821.1h0M75.1 835.6h0M40.7 862.6h0M55.2 873.9h0M42.9 870.4h0M40.2 873.4h0M41.2 849.3h0M55.5 873.1h0M40.3 860.2h0M57.4 803.4h0M42.6 845.4h0M36.2 858h0M40.9 837.6h0M37.7 853.2h0M39.2 872h0M48.3 845.9h0M38.1 818.5h0M42.4 869.3h0M43.7 863.4h0M45.6 853.7h0M50.8 870.2h0M46.2 838.8h0M37.4 828.9h0M44.1 853.1h0M56.5 874.7h0M41.5 869.2h0M46.2 870h0M37.5 860.9h0M36.5 842.4h0M55.4 834.3h0M36.4 854.8h0M49.8 872h0M66.8 866.9h0M36.2 873.2h0M61.5 870.7h0M51.2 851.2h0M38.2 870.7h0M51.4 866.6h0M58.2 867.3h0M63.7 871.4h0M44.5 879h0M36.2 862.6h0M46.4 868.5h0M44.6 872.4h0M35.9 848.3h0M42.8 876.3h0M48.2 868.3h0M42.6 832.9h0M36.8 877h0M45.5 863.5h0M78.9 864.9h0M41.9 865.3h0M50.1 863.8h0M57.5 851.7h0M37.9 848.2h0M38.2 877.8h0M54 862.9h0M52.7 869.6h0M40.8 862.6h0M51 871.6h0M35.8 863.3h0M80.4 875.2h0M39 823.1h0M41.9 823.7h0M46.7 871.2h0M54.8 879.7h0M66.9 879.4h0M38.6 838h0M39.5 867.1h0M88.9 877h0M50.8 864.4h0M47.7 843.4h0M45.5 845.1h0M42.4 867.4h0M40 871.6h0M71.8 856.9h0M38.9 814.4h0M53.1 825.3h0M41.2 867.6h0M35.9 862.6h0M44.6 842.5h0M52.4 835.8h0M36.4 840h0M38.6 861.3h0M41.2 859.7h0M35.6 880.3h0M35.7 839.4h0M49.3 858.4h0M40.7 868h0M37.9 880h0M68.7 834h0M49.5 869.3h0M42.7 862.5h0M40 865.6h0M80.4 854.7h0M37 858.1h0M36.6 827h0M44.4 856.7h0M40.2 875.6h0M35.7 846.1h0M37.6 860.9h0M39.3 873.7h0M41.4 858.2h0M54.6 879.2h0M43 859.5h0M48.2 877.7h0M36.7 863.9h0M48.6 857.3h0M40.2 855.2h0M42.9 873.1h0M52.9 838.4h0M55.5 876.9h0M46.6 875.5h0M54.9 840.7h0M40.1 869.6h0M46.4 866.1h0M36.5 880h0M46.2 876.8h0M38.2 871.3h0M43.4 832.7h0M39.2 857.6h0M36.8 838.2h0M44.2 853.6h0M61.7 870.4h0M36.8 872.8h0M37.2 874.1h0M46.2 871.6h0M41 860h0M41.6 864.7h0M37.7 869.3h0M41 870.3h0M35.6 855.2h0M37.7 819.5h0M54.1 861.1h0M62.9 845.7h0M51.4 878h0M64.3 845.9h0M67.8 853.2h0M40.2 857.2h0M58 843.9h0M38.9 855.8h0M35.5 881.4h0M48.8 848.2h0M36.4 860.9h0M46.3 874.9h0M40.1 874h0M44.8 856.6h0M36.3 845.7h0M47.6 865.5h0M51.6 835h0M69.8 860.5h0M49.5 829h0M43.6 876.4h0M61.3 874.7h0M61.4 864.8h0M36 833.2h0M37.4 872.9h0M45.3 873.7h0M49.9 857.8h0M39.5 868.1h0M41.6 869.9h0M36.8 864.4h0M56.7 859.2h0M68.2 876.9h0M36.5 844.9h0M37.6 869h0M50 870.6h0M42.6 860.1h0M44.7 836.1h0M41 875.3h0M93.9 875.5h0M36.2 857.3h0M46.3 842.5h0M76.8 848.6h0M45.8 870.9h0M48 869.5h0M35.6 863.9h0M40.3 842.9h0M36.1 829.3h0M41.1 851h0M63.6 864h0M70.5 864.2h0M36.1 845.9h0M44.4 861.7h0M44.8 872.2h0M36.7 856.6h0M38.4 817.3h0M37.4 857.3h0M37.3 869.9h0M66.9 867h0M52.3 872.2h0M45.6 863.3h0M54 861.2h0M46.4 872.8h0M37.9 869.7h0M36.9 862.7h0M44.3 820.5h0M41.7 867.5h0M50.7 820.8h0M73.3 855.2h0M52.8 880.4h0M59.2 865.9h0M44.1 878h0M41.5 873.7h0M36 849h0M39.4 858.1h0M44.1 846.6h0M62.8 877.1h0M53.9 873.7h0M39.6 874.2h0M41.7 872.8h0M46.3 841.7h0M49 869.3h0M40.4 874.5h0M37.9 805.3h0M39.8 855h0M41.6 858.7h0M40.7 867h0M42.2 862.6h0M61.7 878.9h0M52.8 869.2h0M59.8 868.2h0M43.8 867.7h0M39.9 864.6h0M74.5 862.6h0M37.1 858.3h0M42.8 860.7h0M37 858h0M47.2 858.9h0M36.2 878.4h0M62.9 800.8h0M44.2 858.3h0M37.3 851h0M42.2 877.9h0M39.4 872h0M42.7 863.7h0M45.1 873.1h0M39.1 845.9h0M39.7 873.2h0M39 880h0M40 851.7h0M53.2 852.7h0M48.5 857.6h0M53.2 868.4h0M54.8 869.3h0M86.2 849.9h0M39 857.9h0M35.6 860.7h0M37.7 872.7h0M46.1 873.5h0M47.2 875.6h0M47.3 870.3h0M66 850.7h0M40.9 860.4h0M38.4 847.9h0M50.6 860.9h0M47.2 872.1h0M40.3 873.3h0M43.2 840.7h0M50 851.2h0M39.4 839.2h0M83.7 876.7h0M48.2 845.5h0M48 868.7h0M37.4 870h0M41.8 862.6h0M64.6 831.8h0M56 867h0M45.1 846.3h0M50.6 834.5h0M60.4 860.9h0M49.2 852.6h0M45.7 801.8h0M47.2 872.2h0M76.2 853.7h0M84.3 869.2h0M38 869.7h0M69.5 871.4h0M39.1 823h0M84.1 863.6h0M37.9 875.2h0M36.3 866.7h0M48.4 848.5h0M76.3 877.1h0M52.3 849h0M70.3 870.3h0M40.3 874.9h0M46.3 849.5h0M37.1 841h0M81.2 874.7h0M69.3 842.5h0M77.5 876.3h0M43.4 848.9h0M57.8 879.4h0M35.9 862.7h0M77.9 836.9h0M40.5 866h0M42 842.6h0M37.2 877.8h0M48.4 859.8h0M38 841.1h0M63.4 843.6h0M39.2 868h0M44.5 857.9h0M62.3 865.1h0M42.7 856.8h0M45.2 849.3h0M42.9 878.1h0M42.2 867.7h0M36.9 859.7h0M35.8 872.8h0M51.9 878.3h0M51.7 870.9h0M44.5 873.3h0M35.9 849.3h0M41.5 862h0M57 873.9h0M49 868.1h0M37 872.1h0M38.7 868.6h0M50 869.6h0M40.6 813.3h0M37.4 866h0M52.9 865.5h0M89.6 872.9h0M41.4 855h0M38.7 874.5h0M36.9 836.4h0M47.9 871.9h0M49.5 871.3h0M53.1 877h0M44.6 871.4h0M63.4 858.5h0M37.6 861.6h0M37.3 861.4h0M94.3 879.8h0M38 874.8h0M61.8 847.1h0M41.8 863.8h0M43.9 860.4h0M40.7 816.2h0M48.3 831.4h0M55.9 860.8h0M60.1 860.6h0M77.9 880.5h0M50.8 865.9h0M41 849.9h0M72.4 870.1h0M53.3 857.1h0M58.9 864.2h0M53.7 838h0M86.8 872.5h0M45.7 868.4h0M38.1 826.5h0M55.2 856h0M39.6 831.2h0M43 874.4h0M37 874.9h0M39 850.8h0M52.4 876.3h0M68.7 867.5h0M90.6 856.5h0M43.5 866.4h0M35.7 859.9h0M47.6 858.3h0M36.2 848.9h0M42.7 875.8h0M36.3 855.3h0M37.1 858h0M56.9 874.6h0M39.9 856.3h0M47.9 868.2h0M54.4 831.2h0M37.9 880.8h0M53.1 878.4h0M39.6 825.1h0M47.1 859.2h0M44.7 862.7h0M37.2 838h0M36.8 841.1h0M40.7 870.7h0M37.1 870.2h0M45.8 873h0M39.6 864.6h0M50.6 874.6h0M57.6 865.6h0M42.5 872.3h0M44.7 804.4h0M78.3 834.8h0M46.4 840.7h0M35.8 840.2h0M36.5 863.3h0M42.2 824h0M59.2 844.5h0M51.5 880h0M41.9 869.3h0M41.6 876.6h0M92.2 866.6h0M43.6 851h0M37.3 815.9h0M42.7 857.2h0M85.9 859.8h0M49.7 865.7h0M65.8 875.6h0M37.6 865.8h0M40.3 840.1h0M104.1 849.6h0M55.8 835.6h0M42 876.4h0M39.3 864.4h0M38.4 854.7h0M64.3 830h0M63.6 858.3h0M43.9 871.2h0M45.8 872.6h0M36.1 876.4h0M60.9 862.8h0M47.6 867.9h0M36 848.2h0M54.1 856.4h0M44.1 872.3h0M66.6 840.9h0M94.8 871h0M40.7 861.2h0M38.4 867.4h0M37.4 879.5h0M48.6 872h0M71.7 865h0M45.3 826.8h0M58 866.9h0M56.3 871.3h0M36.5 866.4h0M35.7 859.9h0M52.9 847.4h0M47.7 873.3h0M48.2 862.9h0M65.2 875.8h0M36.3 870.1h0M38 875.8h0M38.2 854.9h0M35.8 863.4h0M60 878.2h0M67.6 856.2h0M43.9 870.1h0M41.2 868.6h0M55.7 869.8h0M36.3 865.4h0M39.9 880.1h0M70.6 865.3h0M43.5 843.4h0M38 860.5h0M61.4 881.4h0M40.6 831.9h0M61.9 874.9h0M62.4 836.2h0M50.9 879.1h0M42.1 844.6h0M54.3 873.3h0M42.8 828.9h0M45.6 866.4h0M80.1 861.1h0M76 872.3h0M45.3 867.1h0M47.8 879.7h0M49 824.5h0M66.7 855.3h0M44.9 853h0M37.6 858.2h0M39.8 865.8h0M49.8 863h0M63.2 874.4h0M42.4 871.7h0M42.9 869.8h0M44 878.2h0M58.1 873.4h0M47.9 871.9h0M79.4 846.9h0M36.6 858.2h0M42.6 876.6h0M43.1 874.7h0M47.4 854.6h0M49.6 881.8h0M62.3 840.7h0M42.7 875.4h0M81.8 803.8h0M41.4 835.3h0M39.3 847.4h0M43.6 830.9h0M45.1 869.9h0M55.2 837.9h0M39.6 878.9h0M42.9 854h0M36.4 850.8h0M47.1 851.4h0M45.9 824.7h0M42.8 842.4h0M66.9 854.5h0M77.7 831.2h0M38.8 875.7h0M46.2 864.4h0M42.7 860.5h0M36.6 871.8h0M53.3 860.9h0M43 852.5h0M47.2 844.7h0M36.3 851.5h0M39.2 872.6h0M41 855.1h0M77.1 821.5h0M51.6 847.7h0M52 859.6h0M58.3 881.4h0M67.7 875.4h0M48.7 863.4h0M37.4 836.2h0M41.3 863.8h0M66.4 874.2h0M46.4 866.5h0M38.5 868.3h0M47.1 868.8h0M40.7 874.3h0M48.3 861.4h0M36.3 859h0M39.1 874.9h0M47 817.1h0M46.2 876.1h0M43.8 823.7h0M51.5 869.8h0M35.8 871.9h0M37.6 855.7h0M57.6 880.9h0M72.9 873.1h0M42.1 865.6h0M37.9 866.2h0M70.9 816.9h0M42.1 874.8h0M50.9 869.8h0M57.7 875.5h0M58.5 856.6h0M94.8 860h0M41 869.9h0M49.6 833.5h0M39.2 871.7h0M45.6 871h0M37.8 868.9h0M47.4 858.6h0M36.4 869.1h0M46.5 875.2h0M36.4 854.2h0M69.4 872.6h0M42 839.2h0M44.2 870.5h0M62.6 867.1h0M54.5 860h0M75.5 869.4h0M35.5 865.4h0M51.4 835.2h0M112.8 829.5h0M60.4 869.5h0M53.4 847.5h0M51.4 836.6h0M67.5 837.1h0M74.7 851.9h0M47.3 864.8h0M36.2 852.9h0M40.5 862.4h0M39.2 797.6h0M42.1 860h0M46.7 844.6h0M40.8 870.5h0M37.7 877.5h0M64.6 872.3h0M39.7 874h0M81.5 870.8h0M74.2 868.5h0M46.1 869.9h0M67.3 840.7h0M50.1 869.9h0M41.4 809.8h0M47.2 863.1h0M39.6 866.8h0M64.6 862.5h0M43.5 831h0M47 870.7h0M47.6 851.2h0M44.5 867.3h0M61.6 869.5h0M66.8 813.5h0M36.1 849.1h0M58.4 873.8h0M38.2 852.5h0M40.5 871.3h0M42.4 872.1h0M65.1 869h0M48 871.2h0M38.9 826.3h0M35.9 843.3h0M39.3 860h0M37.7 867h0M35.7 860.2h0M38.6 863.4h0M39.6 872.6h0M59.2 869.7h0M53.4 854.3h0M40.5 856.9h0M61.7 866.4h0M36.6 826.2h0M53 872.9h0M41.4 875.1h0M37.8 876.8h0M64.4 861.7h0M56.1 877.6h0M48 863.4h0M46.7 849.7h0M45.5 866.5h0M43.4 875.1h0M46.3 837.7h0M41.6 863.2h0M39.9 866.2h0M37.5 831.5h0M37.8 809.8h0M46.6 847.4h0M65.1 874.5h0M60.2 865.7h0M37 879.3h0M36.9 863.4h0M36.7 853.1h0M41.6 833.1h0M37.4 868.6h0M55.1 867.2h0M66.5 858.5h0M35.5 845.1h0M47.1 871.5h0M49.6 862.5h0M55.7 817.6h0M85.4 871.8h0M37 848.6h0M36.9 847.1h0M42 862.8h0M44.8 853.9h0M43.4 809h0M53.4 874h0M45.1 804.7h0M45.8 861.4h0M35.7 866.9h0M36 859.4h0M38.6 864.8h0M41.1 807.9h0M46.3 863.6h0M37.8 855.1h0M41.4 877.7h0M37.7 867.8h0M46.2 868.7h0M39.7 857.6h0M37.9 836.4h0M47.8 845.4h0M61 856.8h0M38.8 856.7h0M36.3 854.7h0M43.1 857.3h0M51.2 876.2h0M36.8 864.1h0M35.8 855h0M47.8 867.5h0M35.6 878.6h0M45.5 874.8h0M44.9 879.8h0M38.5 880.8h0M77.5 877.6h0M38.2 849.9h0M40.1 876.8h0M47.2 808.4h0M45.3 870.8h0M49.7 866.6h0M41.4 843.6h0M64.7 867.6h0M39.4 843.1h0M68.3 851.8h0M35.6 877.3h0M45.6 876.7h0M106.8 821.9h0M64.9 856.9h0M65.6 866.3h0M78.9 867.1h0M38.7 855.1h0M42.4 874.7h0M38.6 869.8h0M42 860.7h0M55 878.2h0M40.5 882h0M63.3 857h0M41.6 878.1h0M73.2 836.8h0M37 867.2h0M43.3 880.1h0M66.5 851.9h0M49.4 853.3h0M45.1 863.4h0M50.5 874h0M61.8 880.8h0M46.3 865.5h0M84.6 861.7h0M72.5 858.1h0M63.4 828.3h0M39.1 873.6h0M45 851.4h0M93.2 839.4h0M41.2 870.1h0M52.6 857.4h0M47.2 882.4h0M42.2 810.1h0M36.6 880.4h0M56.7 861.3h0M36.9 872.5h0M38.6 870.4h0M47.5 844.8h0M46.2 826.7h0M36.2 828.9h0M68.2 814.3h0M37.2 864.8h0M37.5 848.2h0M35.8 864.7h0M36.2 866.7h0M42.3 862.5h0M38.8 874.3h0M47.2 852.7h0M39.2 861.8h0M41.9 876.9h0M38.5 863.5h0M99.7 867.4h0M62.6 873.8h0M41.6 853.7h0M46 838.2h0M68 858.1h0M45.4 852.4h0M41.3 879.7h0M71.4 831.4h0M36.6 858.1h0M51.7 876.2h0M55.4 840.5h0M55.3 844.1h0M50.8 872.7h0M37.3 855.1h0M79.3 857.8h0M37.5 839h0M45.6 875.5h0M45.3 866.1h0M73.1 874.5h0M38.2 817.3h0M37.9 844.5h0M39.3 869.6h0M36.7 816.2h0M57.2 838.6h0M37.2 840.2h0M44.1 858.3h0M60.4 871.1h0M53.5 865.5h0M45.1 860.6h0M37 848.9h0M37.9 871.4h0M40.2 844.5h0M45.4 847.7h0M62 824.2h0M60 858.1h0M38.2 864.1h0M40.8 816.3h0M48.6 843h0M58.6 866.7h0M58.2 863.7h0M85.5 869.4h0M44.9 843.9h0M44.7 829.4h0M47.9 867.3h0M37.7 877.9h0M40.2 854.9h0M50.8 872.2h0M36.6 868.4h0M53 868.6h0M47.2 823h0M51.7 849.1h0M52.6 843.8h0M42.4 878.5h0M61.7 876h0M46.4 821h0M48.2 823.8h0M36.7 869.4h0M37.6 852.4h0M76.9 863.4h0M42.4 879.9h0M92.7 875.3h0M43.9 874.8h0M67 856.5h0M53.3 879.7h0M38.3 872.3h0M39.5 871.4h0M49.9 845.1h0M42.4 879.6h0M46.6 838.4h0M38.5 864.5h0M50.2 861.3h0M57.6 869.1h0M35.6 876.5h0M56.2 866.5h0M46.8 834.5h0M43.1 846.3h0M39.4 872.1h0M40.3 821.9h0M43.1 874h0M45 802h0M49.9 868.1h0M40.6 866.6h0M35.5 879.6h0M37.2 861.1h0M38.3 821.4h0M41.5 861.2h0M40.1 866.7h0M38.8 854.1h0M56.1 835.2h0M45.4 868.3h0M46.8 876h0M37.1 835.4h0M37.7 874.5h0M36.2 853.5h0M73.8 876.2h0M36.7 876.8h0M39.5 852.1h0M49.8 856.6h0M40.7 868.2h0M47.6 856.1h0M55.1 862.2h0M49.7 871.7h0M46.6 849.4h0M41.5 828.6h0M100.2 848.3h0M45.6 867.6h0M36 864.9h0M48.2 832.7h0M64 839.6h0M39.7 805.5h0M46.2 861.9h0M43.7 867.1h0M52.3 853.4h0M39.5 858.4h0M46.6 869.5h0M41 870.2h0M56.4 880.2h0M38.9 858.9h0M59.3 813.9h0M50.5 860.1h0M48.1 877.3h0M36.7 851.2h0M50.2 854.3h0M36.6 867.2h0M42.8 866.6h0M36.4 835.3h0M40.1 872.9h0M76.6 817.1h0M87.8 867.7h0M42.5 875.7h0M49.9 865.1h0M48.9 875.7h0M49.2 850.9h0M50.4 862.6h0M43.7 854.3h0M58.2 871.8h0M45.1 865.7h0M37.1 876.3h0M39.4 872.7h0M38.8 873.8h0M58.6 865.5h0M40.8 861.3h0M38.1 880.4h0M56.9 862h0M68.4 845.4h0M36.2 874.9h0M45.1 823.5h0M72.9 860.6h0M36.6 872.1h0M41.4 821h0M41.9 867.2h0M39.4 868.8h0M46.5 874.4h0M46.6 819.3h0M36.9 868.4h0M51.9 850.7h0M37.5 867h0M90.3 881h0M36.3 824.9h0M49 849.6h0M56.6 854.9h0M38.6 870h0M38.1 853.3h0M49.6 869.6h0M48.2 877.9h0M68.2 865.5h0M47.9 870.7h0M45.6 817.1h0M35.8 873.6h0M43.6 873.5h0M38.8 862.1h0M43 854.6h0M46.6 873.8h0M40 873.4h0M46.8 861.3h0M79 835.8h0M51.7 853.1h0M51.3 869.3h0M43.5 872.7h0M57.1 872.6h0M36.3 879.7h0M39.7 845.4h0M47.5 842.8h0M38.3 867.4h0M58 860.4h0M39.3 868.7h0M38.9 870.1h0M52.6 806.3h0M41.6 857h0M56.8 865.3h0M36 844.7h0M37.7 863h0M38 859.9h0M37.1 851.2h0M40.1 859.7h0M46.4 831.8h0M49.5 858.2h0M63 822.3h0M60.6 861.7h0M63 869.4h0M41.6 812.5h0M40.6 877.7h0M42.1 875.4h0M39.6 852.2h0M45.3 867.9h0M44.9 879.7h0M42.3 872h0M48.4 832.8h0M40.6 879.9h0M66.9 860.9h0M98.9 858h0M51.9 862.4h0M38.8 848.1h0M39.8 852.1h0M45.3 812.7h0M47.4 879.2h0M38.1 848.7h0M36.7 876.6h0M39.9 866h0M54.3 858.3h0M35.9 866.1h0M57.1 873.8h0M42.7 865.1h0M55.4 863.5h0M45 861.8h0M45.1 877.2h0M55.7 864.6h0M73.3 875.3h0M43 840.2h0M69 858.5h0M68.7 873.9h0M165.9 856h0M42.6 874.4h0M45.8 861.3h0M56.4 870.2h0M40 866.6h0M97.5 860.6h0M37.8 875.3h0M36.6 831.7h0M37 847.4h0M37.4 869.4h0M38.9 865.9h0M51.6 876.9h0M48.7 857.4h0M55.3 840.9h0M35.8 867.4h0M38.6 872.6h0M35.8 822.6h0M36.7 857.4h0M61.6 855h0M37.5 874.3h0M36 857.2h0M43.3 872.2h0M96.5 831.3h0M59.6 810h0M37.7 843.4h0M40.8 859.1h0M48 802.6h0M36.6 866.6h0M42.4 846.1h0M71.5 867.6h0M64.5 855.2h0M40.2 837.3h0M38 818.2h0M50.2 853.8h0M50.1 871.3h0M55.6 871.9h0M38.4 853.9h0M45.8 860.9h0M35.5 858.1h0M44.2 817.6h0M49 862.4h0M47.6 840.6h0M49.2 859.8h0M41.5 812.6h0M52.7 834.4h0M38.4 857.7h0M64.8 789.2h0M42.1 860.8h0M45.3 824.7h0M36.5 868.2h0M40.5 873.1h0M52 850h0M35.9 872.7h0M38.4 851.5h0M36.8 866.7h0M36.5 858h0M52.9 865.9h0M37.1 860.9h0M36.1 871.3h0M55.9 856.9h0M52.6 858.6h0M42.6 846.8h0M52.8 833.8h0M35.6 855.8h0M40.3 864.7h0M47.9 873h0M71.5 852.4h0M49 802.5h0M37.7 873.4h0M44.6 863.6h0M61.8 863.6h0M42.3 860.4h0M38.6 873.8h0M64.8 863.5h0M47.9 861.2h0M52.2 856.2h0M36.9 780.7h0M42.7 868.3h0M36.4 841.8h0M41.9 827.9h0M38 856.6h0M37.4 843.5h0M41.7 879.6h0M37.4 847.1h0M35.7 870h0M38.2 865.6h0M39.3 844h0M45 841.8h0M42.9 862h0M38.4 874.8h0M54.9 823.7h0M42.7 845.9h0M39.7 849.5h0M46.9 847h0M42.9 874.7h0M45.8 867.3h0M54.1 868.3h0M45.9 858.4h0M44.1 824.9h0M37.2 867.4h0M45.1 835.7h0M70.2 876.6h0M38.6 873h0M63.3 867.7h0M48.1 869.3h0M60.2 877.9h0M35.5 854.7h0M53.1 870.8h0M55.7 847.8h0M38.9 852.2h0M62 829.2h0M60.8 807h0M50 869.5h0M54.7 866.6h0M54.3 867.8h0M61.1 866.9h0M43.2 841.9h0M52.2 871.5h0M36.4 863.3h0M38 847.8h0M37.8 871.4h0M39.1 878h0M45.2 860h0M43.2 857.6h0M40.3 844.1h0M46.9 878.8h0M44 820.6h0M42.8 869.6h0M133.7 846.7h0M36.2 867.5h0M49.3 880.9h0M35.6 840.8h0M69.9 849.5h0M41.9 876h0M41.5 845.6h0M47.7 864h0M53 818.6h0M79.2 848h0M36.7 876.7h0M42.9 866.7h0M50.8 865.2h0M64.9 848.2h0M170.5 806h0M72.9 870.3h0M46 832.9h0M35.8 856.8h0M35.7 867.8h0M40 872.9h0M88 838h0M38.9 880.2h0M51.4 863.2h0M88.9 874.6h0M58.8 832.6h0M50.2 868.7h0M45.2 842.3h0M36.4 861.8h0M39.8 838.5h0M59.5 849.8h0M48.9 878.1h0M74.7 863.1h0M42.8 877.5h0M63.2 860.8h0M36.8 874.9h0M37.2 865.1h0M51.6 859.5h0M36.7 872h0M42.9 875.7h0M47.1 863.5h0M45 860.6h0M73.3 871.4h0M77.1 872.3h0M43.3 869.9h0M37.4 873.1h0M51.7 872.6h0M42.7 817.1h0M37.9 843.9h0M44.8 847.4h0M42.2 880h0M42 863.9h0M57.4 866.7h0M42.6 858.9h0M51.4 862.2h0M38.2 849.5h0M58.6 861.6h0M56.9 836.7h0M47.8 871.6h0M42 825.3h0M48.3 817.1h0M46.3 881.4h0M65 850.6h0M61.8 869.1h0M43 779.2h0M40.1 846.6h0M41.2 869.7h0M37 871.1h0M53.1 880.2h0M41 839.8h0M55.8 861.7h0M41.3 868.2h0M55.8 877.9h0M53.5 875.5h0M44 868.5h0M39.1 855.2h0M46.7 842.4h0M44 828.8h0M41.6 873.2h0M37 821.1h0M40.7 877.9h0M47.7 875.4h0M42.4 859.4h0M40.5 869.9h0M55.3 808h0M61.6 815.5h0M55.7 835.7h0M44.2 859.4h0M36 839.5h0M60.4 876h0M45.9 878h0M45.3 847.2h0M36.9 875.3h0M72.8 860.5h0M67.3 870.8h0M41.4 859.4h0M44.6 872.6h0M61.7 879.1h0M62.7 864.1h0M48.5 872h0M36.5 844.9h0M56.1 864.4h0M63.8 876.1h0M45.7 846.5h0M51.4 867.6h0M38.7 807.1h0M41.2 852.3h0M37.8 864.8h0M39.3 877.7h0M54.3 849.6h0M44.1 866.4h0M37.6 843.1h0M55.7 823h0M54.2 846.1h0M38.7 858h0M53.3 860.4h0M46.7 848.2h0M41.8 864h0M38.2 873.9h0M41.1 843.2h0M38.4 862.2h0M44.5 850.9h0M36.5 858.4h0M37.7 838.3h0M86.9 847.2h0M46.3 855.7h0M78.5 867.8h0M37.4 868.6h0M65.9 847.6h0M59 840.4h0M38.5 873.7h0M68.2 864.8h0M36.2 856.8h0M46.3 860.6h0M44.8 869.4h0M53.5 860.5h0M43.8 873.3h0M41.8 876h0M68.3 854.8h0M76.9 874.5h0M58.3 876.4h0M69.7 872h0M37.5 845.5h0M40.8 856h0M42.4 878h0M38.9 846.2h0M41.6 780.8h0M44 851.7h0M58.5 827.3h0M42.3 856.8h0M36.3 876.1h0M66.1 855h0M46.9 873.7h0M48.9 812.1h0M53.6 860.9h0M42.2 863.5h0M37.4 857.1h0M45.9 864.1h0M37.5 843.3h0M45.9 880.7h0M63.4 879h0M37.9 868.3h0M54.3 866.6h0M38 869.7h0M91.6 870.5h0M38.8 805h0M87.8 843.1h0M35.7 865.7h0M43.3 874.8h0M38.3 873.6h0M87.1 862.4h0M67.4 873.9h0M37.5 855.2h0M43.6 876.3h0M39.1 867.1h0M40.6 871.6h0M37.8 874.7h0M38.8 859.3h0M48.5 861.3h0M52.5 855.6h0M37.9 846.5h0M42.4 816.6h0M42.1 860.9h0M40.5 855.5h0M48.7 848.4h0M37.8 873.2h0M37.2 866.6h0M36.2 874h0M48.8 852.6h0M76.4 858h0M38 873.7h0M43 853.2h0M37.5 877.2h0M58.9 845.9h0M38.9 873.7h0M36.2 854.2h0M56.7 864.1h0M51.1 841.9h0M55 849.1h0M46.3 805.8h0M45.8 853.2h0M57.5 856.2h0M39.1 880.2h0M47.3 863.8h0M37.7 870.8h0M48 791.8h0M46.8 871.4h0M36.5 864.5h0M43.2 863.3h0M41.2 840.9h0M52.3 875.9h0M48.2 871.4h0M52.7 816.8h0M40.3 865.3h0M62.7 834.7h0M48.4 856.3h0M47.6 864.8h0M38.7 863.1h0M39.3 845h0M152.7 834h0M42.2 828.3h0M45.7 842.3h0M69.6 832.7h0M42.9 845.9h0M38.7 877.6h0M41.4 865.3h0M58 862.8h0M43.6 870.9h0M38.5 864.2h0M38.9 867.2h0M56.5 828.9h0M38.4 868.4h0M35.8 856h0M46.5 852.3h0M83.2 852.5h0M39.6 864.3h0M52.5 877.7h0M37.5 852.1h0M42.3 874.7h0M43.4 875.4h0M35.7 878.1h0M40.7 830.7h0M41 846.7h0M36.8 878.4h0M57.7 862.8h0M47.5 834.6h0M42.2 870.3h0M40.3 861.4h0M45.7 851.5h0M102.6 873.8h0M46.7 880h0M51 855h0M52.1 816h0M81 854.8h0M38.1 852.4h0M46.2 871.1h0M36.1 818.4h0M45.6 874.7h0M48 834.5h0M40.7 853.9h0M57.1 816.8h0M40 833h0M42.1 877.9h0M58.2 856.2h0M42.2 879.6h0M55.7 865.3h0M57.3 863.4h0M45.9 878.9h0M65.4 852.8h0M45.8 849.9h0M38.4 859.5h0M37.1 849.2h0M42.5 843.7h0M63.2 872.9h0M43.7 808.3h0M40.6 872.5h0M39.4 841h0M41.5 869.9h0M55.3 787.6h0M66.1 837h0M44.9 873.2h0M64.8 874.4h0M51.8 820.6h0M39.8 853.6h0M37 791.1h0M38.6 859.3h0M41.8 826.2h0M60 853.9h0M65.2 824.5h0M45.1 858.4h0M59.4 868.5h0M46.7 843.1h0M40.7 858.1h0M48.7 866h0M43.7 859.4h0M77.9 867.5h0M45.9 872.5h0M37.2 828.9h0M58.4 826.3h0M46.4 847.5h0M41.2 841.7h0M64.1 875.6h0M49.4 878.2h0M96.5 858.7h0M41.9 869.6h0M47.9 864.5h0M46.8 847.8h0M57.6 825.6h0M38 849.7h0M62.5 855.8h0M52.6 873h0M36.4 874.7h0M55.1 835.1h0M38.2 859.3h0M39 869.6h0M89.9 867.3h0M39.8 844.3h0M54.4 871.6h0M55.9 819.6h0M40.4 824h0M88 827.6h0M42.3 859.7h0M58.7 880.9h0M63.6 800.8h0M55.7 873.3h0M68.4 875.5h0M42.7 853h0M39.2 871.5h0M53.9 873.6h0M59 874.9h0M37.6 865.5h0M37.6 878.5h0M39.3 834h0M55.2 869.3h0M38.4 842.9h0M42.9 859.2h0M39.7 867.1h0M38.2 860.2h0M54.3 876.7h0M56.7 876h0M38.1 859.8h0M71.6 848.2h0M38.8 849h0M36.3 865.5h0M55.4 867.9h0M49.1 876.8h0M52.1 849.6h0M49.9 865.2h0M66.5 875.2h0M58.8 843.7h0M37.2 868.7h0M57.2 808.1h0M42 865.9h0M71 865.4h0M59.1 868.2h0M51.1 878.4h0M39.1 841.4h0M38.1 845.9h0M39.1 863.2h0M37.3 805.9h0M54.5 843h0M37.1 812.1h0M39.6 875.8h0M63 879.2h0M50 869.3h0M50.9 867.7h0M84.4 868.4h0M48.3 859.8h0M35.9 871.1h0M35.8 861.4h0M43 868.3h0M36.5 873.6h0M44.2 873.6h0M35.6 872.9h0M72.5 809.3h0M38.5 873.8h0M46.8 816.2h0M51.6 834.1h0M39.1 879.5h0M57.3 866.9h0M78.6 866.7h0M45.6 822.5h0M54.8 871.4h0M68.9 877.5h0M78 853.1h0M45.5 812.1h0M52.1 867.5h0M41.7 872.2h0M41 838.5h0M35.7 873.9h0M65.3 857.5h0M39.3 872.6h0M69.5 842.8h0M42.7 874.4h0M56.3 857h0M41 876.8h0M83.4 807.6h0M54.5 868.5h0M45 843.5h0M53.5 876.9h0M43.6 875.2h0M36.1 837.9h0M40.1 842.5h0M78.7 863.4h0M35.6 871.8h0M58.6 843h0M41 871.3h0M69.8 873.7h0M48.9 860.5h0M64.4 875.1h0M41.5 880.6h0M51.9 853h0M41 876h0M51.8 847.4h0M73.7 870.5h0M40.4 870.2h0M81 867.2h0M36.5 876.8h0M39.4 878.7h0M69.2 866.9h0M65.9 856.8h0M50.1 825h0M51.7 859.2h0M43.4 849.1h0M64.7 869.6h0M45.4 860.3h0M41.2 860.1h0M36.5 847.9h0M50.8 846.1h0M36.9 871.5h0M44.6 877h0M38.5 839.2h0M36.3 847.4h0M46.2 864.9h0M46.9 846.8h0M77.6 861.8h0M37.8 803.2h0M47.3 867.9h0M68.8 857.4h0M44.8 866h0M42 862h0M43.5 862h0M55.3 867.9h0M43.5 880.8h0M39.2 881.9h0M58.3 837.3h0M80.1 871.7h0M56.8 874.1h0M38.5 868.7h0M41.9 802h0M47.4 830.3h0M53.4 875.4h0M108.1 847.7h0M149.1 874.6h0M142 872.2h0M127.2 875.1h0M110.9 869.5h0M156.9 870.5h0M168.4 844.5h0M77.6 864.9h0M99.4 863.1h0M153.7 877.2h0M118.7 872.1h0M92.1 811.7h0M127 866.3h0M115 847h0M87.7 868.6h0M101.5 868.4h0M136.4 870.4h0M130.6 872.3h0M77.8 841.6h0M122.6 871.1h0M148.9 853.7h0M76.9 862.3h0M143.4 873.9h0M163.3 850.2h0M82.8 873.8h0M119.7 880h0M102.7 835.9h0M127.5 871h0M92.6 878h0M135.4 880.5h0M139.5 874.2h0M98.4 868.2h0M86.6 875.3h0M117.2 876.7h0M108.7 871h0M128.8 845.7h0M155 879.1h0M169 857.5h0M68.2 880.6h0M134.4 879h0M148.3 873.7h0M137.6 878.4h0M128.4 878.8h0M71.7 882.5h0M120.6 876.8h0M63.4 850.8h0M107 871.3h0M148.6 873.8h0M77.8 870.4h0M90.5 863.5h0M70.6 845.1h0M141 850.1h0M114.6 869.6h0M123.3 839.7h0M68.2 840.5h0M166.2 831.7h0M89 863.4h0M157.8 867.9h0M106.9 863.9h0M150.9 873.9h0M93.3 880h0M80.4 855.1h0M88.9 879.8h0M159.2 876.9h0M111 829.6h0M67 843.6h0M137.5 880.4h0M165.5 869.1h0M136.3 872.3h0M140.3 820h0M124.3 881.9h0M129.4 870.5h0M138.9 861.6h0M154.5 826.9h0M121.1 867.6h0M104.3 844h0M140.8 876.4h0M152.3 879.7h0M122.7 861.7h0M73.7 880.3h0M124.8 880.5h0M149.9 870.5h0M139 877.3h0M121.9 881.7h0M77.1 837h0M104.3 844h0M100 846h0M133.6 852.7h0M90.7 880.3h0M71.5 823h0M72.7 870.7h0M105.7 871.9h0M66.6 879.5h0M156.2 881.9h0M157.9 878.9h0M108.7 864.1h0M119.9 880.4h0M81.1 878.8h0M162 872.9h0M90.5 863.4h0M119.4 832.8h0M118.5 875h0M94.1 865.3h0M129.8 860h0M131.4 875h0M149.3 873.4h0M129.8 879h0M170 882.3h0M167.1 844h0M74.7 858.2h0M150.1 867.3h0M108.9 865.1h0M165.1 796.7h0M164.3 881.3h0M151.3 871.6h0M112 879.4h0M113.1 839.3h0M69.1 873.4h0M82.7 877.7h0M111.1 860.4h0M112.6 881.9h0M125.5 873.2h0M141.2 878.7h0M113.2 859.1h0M122.7 861.7h0M169 850h0M159.2 810.3h0M156.1 878.6h0M139.4 812.8h0M123.6 856.6h0M169.7 799.1h0M64.4 847.7h0M146.2 879.9h0M80 880.9h0M93.4 858.4h0M127.9 880.1h0M103.3 867.7h0M67.3 870.7h0M74.6 870.9h0M167.9 870.8h0M138.1 851.7h0M133 881.8h0M169.3 873.4h0M158 861.5h0M90.6 872.5h0M83.5 839.8h0M118.5 822.6h0M96.8 863.4h0M76.6 867.4h0M143.8 834.7h0M101.4 846.3h0M110.3 832.1h0M144 876.7h0M151.7 869.7h0M164.2 880.4h0M164.3 881.2h0M71.1 857.2h0M157.5 862.6h0M145.6 882.1h0M96.2 840.5h0M103.9 877.9h0M172.4 858.8h0M96.3 819.2h0M73.1 854.3h0M108.4 772h0M97.9 796.8h0M117.3 863.4h0M99.7 854.2h0M162.1 875.6h0M79.8 851.4h0M167.2 877.1h0M104 834.1h0M166.9 849.1h0M99.6 838.2h0M100.9 881.7h0M74 871.2h0M161.5 859.6h0M145.8 867h0M110.2 821.3h0M126.7 821.5h0M106.2 829.3h0M128 802.5h0M119.7 876.7h0M89.3 850h0M97.2 850.7h0M133 873.8h0M76 827.9h0M124.2 863.2h0M95 880.6h0M126.8 876.7h0M143.1 864.5h0M89.1 829.6h0M119.3 869h0M79.7 798.2h0M169.7 830.3h0M147.6 875h0M102.4 878.4h0M66.7 867.8h0M73.7 880.3h0M75.6 853.9h0M131.8 866.4h0M145.5 842.8h0M92.2 871.6h0M91.1 868.8h0M170.3 873.4h0M151.4 859.4h0M118.7 851.8h0M65 863.9h0M137.2 874.5h0M64.4 881.9h0M141.2 869.7h0M168.1 876.7h0M107.2 869.9h0M90.2 879.4h0M93.2 829.4h0M82.7 871.9h0M103.8 825h0M147 869.1h0M126.2 815.6h0M123 851.3h0M156.5 817.4h0M129.8 875.4h0M86.3 874h0M106.4 881.5h0M79.6 865.4h0M171.5 882.2h0M91.2 818.3h0M109.4 830.2h0M130.7 828h0M116.1 856.8h0M80.7 875.8h0M90.3 830h0M164.3 854.4h0M122.1 871h0M168.6 844h0M118.6 863.2h0M121.3 875.8h0M143.1 759h0M133 878.5h0M127.2 871.9h0M69.9 873.2h0M88.5 882.2h0M161.9 882.5h0M155.1 861.1h0M138.1 878.1h0M124.9 785.7h0M85.8 877.6h0M172.2 845.7h0M102.3 861h0M161.8 857h0M61.5 882.6h0M45.9 882.6h0M73.1 882.6h0M53.5 882.6h0M146.8 882.6h0M162.5 882.6h0M56.1 882.6h0M142.1 882.6h0M37.5 882.6h0M151 882.6h0M47.5 882.6h0M64.2 882.6h0M99.7 882.6h0M82.4 882.6h0M132.7 882.6h0M57.5 882.6h0M124.6 882.6h0M114.3 882.6h0M110.4 882.6h0M134.9 882.6h0M75.5 882.6h0M53.4 882.6h0M103.6 882.6h0M117.4 882.6h0M168.1 882.6h0M170.6 882.6h0M52.9 882.6h0M107.2 882.6h0M170.4 882.6h0M53.8 882.6h0M46.1 882.6h0M134 882.6h0M97.2 882.6h0M68.8 882.6h0M113.9 882.6h0M161.8 882.6h0M148.1 882.6h0M97.6 882.6h0M92.8 882.6h0M149.7 882.6h0M105.2 882.6h0M114.8 882.6h0M165.3 882.6h0M39.3 882.6h0M115.5 882.6h0M134.8 882.6h0M104.4 882.6h0M53.3 882.6h0M100.7 882.6h0M92.7 882.6h0M134.7 882.6h0M94.5 882.6h0M51.9 882.6h0M82.3 882.6h0M140.6 882.6h0M73.7 882.6h0M112.1 882.6h0M53.8 882.6h0M154.6 882.6h0M138.4 882.6h0M106.1 882.6h0M92.5 882.6h0M67.3 882.6h0M111.7 882.6h0M130.1 882.6h0M73.2 882.6h0M72 882.6h0M145.3 882.6h0M131.1 882.6h0M154.2 882.6h0M168.5 882.6h0M172.9 882.6h0M82.2 882.6h0M112.3 882.6h0M99.9 882.6h0M169.1 882.6h0M135.4 882.6h0M94.6 882.6h0M122.6 882.6h0M166.3 882.6h0M129.5 882.6h0M65 882.6h0M61.3 882.6h0M81.7 882.6h0M95.2 882.6h0M103.2 882.6h0M75.4 882.6h0M139.2 882.6h0M158.2 882.6h0M37 882.6h0M110.3 882.6h0M124.3 882.6h0M159.7 882.6h0M80.6 882.6h0M137.1 882.6h0M106.9 882.6h0M85.3 882.6h0M173.4 882.6h0M66.9 882.6h0M151.6 882.6h0M160.4 882.6h0M94.6 882.6h0M49.3 882.6h0M83.9 882.6h0M156 882.6h0M118.2 882.6h0M105.5 882.6h0M155.8 882.6h0M90.3 882.6h0M38.3 882.6h0M77.7 882.6h0M149.9 882.6h0M57 882.6h0M105.1 882.6h0M64.7 882.6h0M104.6 882.6h0M158.9 882.6h0M96.6 882.6h0M92.6 882.6h0M40.8 882.6h0M73.1 882.6h0M85.9 882.6h0M81.7 882.6h0M74.7 882.6h0M68.6 882.6h0M38.2 882.6h0M70 882.6h0M148.2 882.6h0M152.1 882.6h0M52.9 882.6h0M90.3 882.6h0M74.4 882.6h0M134 882.6h0M56.5 882.6h0M157.3 882.6h0M75.5 882.6h0M168.3 882.6h0M52.3 882.6h0M126.1 882.6h0M132 882.6h0M78.4 882.6h0M56.2 882.6h0M97.1 882.6h0M39.4 882.6h0M107 882.6h0M168 882.6h0M72.2 882.6h0M110.4 882.6h0M124.4 882.6h0M134.3 882.6h0M54.8 761.2h0M59 772.1h0M35.5 773.2h0" stroke="#5a7cb4" stroke-width="1.40" stroke-linecap="round" fill="none" />
<line x1="35.5" y1="857.7" x2="173.5" y2="866.9" stroke="#3d6aa8" stroke-width="1.0" />
<line x1="30.2" y1="746.0" x2="30.2" y2="889.2" stroke="#444" stroke-width="0.9" />
<line x1="29.7" y1="889.2" x2="176.0" y2="889.2" stroke="#444" stroke-width="0.9" />
<line x1="27.6" y1="882.6" x2="30.2" y2="882.6" stroke="#444" stroke-width="0.7" />
<text x="26.3" y="885.6" font-size="8.2" text-anchor="end" fill="#151515" >0</text>
<line x1="27.6" y1="838.8" x2="30.2" y2="838.8" stroke="#444" stroke-width="0.7" />
<text x="26.3" y="841.8" font-size="8.2" text-anchor="end" fill="#151515" >2</text>
<line x1="27.6" y1="795.1" x2="30.2" y2="795.1" stroke="#444" stroke-width="0.7" />
<text x="26.3" y="798.0" font-size="8.2" text-anchor="end" fill="#151515" >4</text>
<line x1="27.6" y1="751.3" x2="30.2" y2="751.3" stroke="#444" stroke-width="0.7" />
<text x="26.3" y="754.3" font-size="8.2" text-anchor="end" fill="#151515" >6</text>
<line x1="35.5" y1="889.2" x2="35.5" y2="891.8" stroke="#444" stroke-width="0.7" />
<text x="35.5" y="900.1" font-size="8.2" text-anchor="middle" fill="#151515" >0.00</text>
<line x1="70.0" y1="889.2" x2="70.0" y2="891.8" stroke="#444" stroke-width="0.7" />
<text x="70.0" y="900.1" font-size="8.2" text-anchor="middle" fill="#151515" >0.25</text>
<line x1="104.5" y1="889.2" x2="104.5" y2="891.8" stroke="#444" stroke-width="0.7" />
<text x="104.5" y="900.1" font-size="8.2" text-anchor="middle" fill="#151515" >0.50</text>
<line x1="139.0" y1="889.2" x2="139.0" y2="891.8" stroke="#444" stroke-width="0.7" />
<text x="139.0" y="900.1" font-size="8.2" text-anchor="middle" fill="#151515" >0.75</text>
<line x1="173.5" y1="889.2" x2="173.5" y2="891.8" stroke="#444" stroke-width="0.7" />
<text x="173.5" y="900.1" font-size="8.2" text-anchor="middle" fill="#151515" >1.00</text>
<text x="99.3" y="912.6" font-size="8.2" text-anchor="middle" fill="#151515" >Conservation scores</text>
<text transform="translate(12.0,816.0) rotate(-90)" x="0" y="0" font-size="8.2" text-anchor="middle" fill="#151515">|Phenotype score|</text>
<text x="38.9" y="753.7" font-size="8.2" fill="#151515"><tspan font-style="italic">R</tspan>=-0.12, <tspan font-style="italic">P</tspan>=4.1e-14</text>
<line x1="220.4" y1="766.8" x2="220.4" y2="887.8" stroke="#444" stroke-width="0.9" />
<line x1="219.9" y1="887.8" x2="335.3" y2="887.8" stroke="#444" stroke-width="0.9" />
<line x1="217.8" y1="792.7" x2="220.4" y2="792.7" stroke="#444" stroke-width="0.7" />
<text x="214.5" y="795.7" font-size="8.2" text-anchor="end" fill="#151515" >0.9</text>
<line x1="217.8" y1="822.4" x2="220.4" y2="822.4" stroke="#444" stroke-width="0.7" />
<text x="214.5" y="825.4" font-size="8.2" text-anchor="end" fill="#151515" >0.6</text>
<line x1="217.8" y1="852.1" x2="220.4" y2="852.1" stroke="#444" stroke-width="0.7" />
<text x="214.5" y="855.1" font-size="8.2" text-anchor="end" fill="#151515" >0.3</text>
<line x1="251.5" y1="887.8" x2="251.5" y2="890.4" stroke="#444" stroke-width="0.7" />
<text x="251.5" y="899.7" font-size="8.2" text-anchor="middle" fill="#151515" >Onhit</text>
<line x1="303.8" y1="887.8" x2="303.8" y2="890.4" stroke="#444" stroke-width="0.7" />
<text x="303.8" y="899.7" font-size="8.2" text-anchor="middle" fill="#151515" >NA</text>
<text transform="translate(198.5,833.0) rotate(-90)" x="0" y="0" font-size="8.2" text-anchor="middle" fill="#151515">Conservation score</text>
<text x="275.8" y="772.4" font-size="8.2" text-anchor="middle" fill="#151515"><tspan font-style="italic">P</tspan> = 0.0047</text>
<line x1="251.5" y1="847.0" x2="251.5" y2="867.5" stroke="#2a70b8" stroke-width="0.9" />
<line x1="251.5" y1="880.8" x2="251.5" y2="882.0" stroke="#2a70b8" stroke-width="0.9" />
<rect x="233.3" y="867.5" width="36.7" height="13.3" fill="#fff" stroke="#4a90d0" stroke-width="0.9" />
<line x1="233.3" y1="876.1" x2="270.0" y2="876.1" stroke="#4a90d0" stroke-width="0.9" />
<path d="M251.5 781.5h0M251.5 782.6h0M251.5 783.7h0M251.5 784.8h0M251.5 785.9h0M251.5 787.1h0M251.5 788.2h0M251.5 789.3h0M251.5 790.4h0M251.5 791.5h0M251.5 792.6h0M251.5 793.7h0M251.5 794.8h0M251.5 795.9h0M251.5 797h0M251.5 798.2h0M251.5 799.3h0M251.5 800.4h0M251.5 801.5h0M251.5 802.6h0M251.5 803.7h0M251.5 804.8h0M251.5 805.9h0M251.5 807h0M251.5 808.1h0M251.5 809.3h0M251.5 810.4h0M251.5 811.5h0M251.5 812.6h0M251.5 813.7h0M251.5 814.8h0M251.5 815.9h0M251.5 817h0M251.5 818.1h0M251.5 819.2h0M251.5 820.4h0M251.5 821.5h0M251.5 822.6h0M251.5 823.7h0M251.5 824.8h0M251.5 825.9h0M251.5 827h0M251.5 828.1h0M251.5 829.2h0M251.5 830.3h0M251.5 831.5h0M251.5 832.6h0M251.5 833.7h0M251.5 834.8h0M251.5 835.9h0M251.5 837h0M251.5 838.1h0M251.5 839.2h0M251.5 840.3h0M251.5 841.4h0M251.5 842.6h0M251.5 843.7h0M251.5 844.8h0M251.5 845.9h0M251.5 847h0" stroke="#2a70b8" stroke-width="4.00" stroke-linecap="round" fill="none" />
<line x1="303.8" y1="843.4" x2="303.8" y2="865.2" stroke="#ec7c70" stroke-width="0.9" />
<line x1="303.8" y1="880.8" x2="303.8" y2="882.0" stroke="#ec7c70" stroke-width="0.9" />
<rect x="285.1" y="865.2" width="37.4" height="15.6" fill="#fff" stroke="#ec7c70" stroke-width="0.9" />
<line x1="285.1" y1="875.0" x2="322.5" y2="875.0" stroke="#ec7c70" stroke-width="0.9" />
<path d="M303.8 781.5h0M303.8 782.5h0M303.8 783.6h0M303.8 784.6h0M303.8 785.7h0M303.8 786.7h0M303.8 787.8h0M303.8 788.8h0M303.8 789.9h0M303.8 790.9h0M303.8 792h0M303.8 793h0M303.8 794.1h0M303.8 795.1h0M303.8 796.2h0M303.8 797.2h0M303.8 798.3h0M303.8 799.3h0M303.8 800.4h0M303.8 801.4h0M303.8 802.5h0M303.8 803.5h0M303.8 804.6h0M303.8 805.6h0M303.8 806.7h0M303.8 807.7h0M303.8 808.8h0M303.8 809.8h0M303.8 810.9h0M303.8 811.9h0M303.8 813h0M303.8 814h0M303.8 815.1h0M303.8 816.1h0M303.8 817.2h0M303.8 818.2h0M303.8 819.3h0M303.8 820.3h0M303.8 821.4h0M303.8 822.4h0M303.8 823.5h0M303.8 824.5h0M303.8 825.6h0M303.8 826.6h0M303.8 827.7h0M303.8 828.7h0M303.8 829.8h0M303.8 830.8h0M303.8 831.9h0M303.8 832.9h0M303.8 834h0M303.8 835h0M303.8 836.1h0M303.8 837.1h0M303.8 838.2h0M303.8 839.2h0M303.8 840.3h0M303.8 841.3h0M303.8 842.4h0M303.8 843.4h0" stroke="#ec7c70" stroke-width="4.00" stroke-linecap="round" fill="none" />
<text x="351.5" y="742" font-size="11" font-weight="bold" fill="#111">k</text>
<text x="458.5" y="745.3" font-size="8.2" text-anchor="middle" fill="#151515" >170 significantly dysregulated on-hit peptide</text>
<text x="459.3" y="755.3" font-size="8.2" text-anchor="middle" fill="#151515" >genes associated with GC histopathological features</text>
<line x1="375.0" y1="760.2" x2="537.8" y2="760.2" stroke="#555" stroke-width="0.9" />
<text x="392.8" y="771.3" font-size="8.2" text-anchor="middle" fill="#151515" >130</text>
<text x="423.8" y="771.3" font-size="8.2" text-anchor="middle" fill="#151515" >130</text>
<text x="454.5" y="771.3" font-size="8.2" text-anchor="middle" fill="#151515" >10</text>
<text x="483.0" y="771.3" font-size="8.2" text-anchor="middle" fill="#151515" >3</text>
<text x="510.4" y="771.3" font-size="8.2" text-anchor="middle" fill="#151515" >20</text>
<defs><linearGradient id="gup" x1="0" y1="1" x2="0" y2="0"><stop offset="0" stop-color="#e6e6e6"/><stop offset="1" stop-color="#fff" stop-opacity="0"/></linearGradient><linearGradient id="gdn" x1="0" y1="0" x2="0" y2="1"><stop offset="0" stop-color="#ededed"/><stop offset="1" stop-color="#fff" stop-opacity="0"/></linearGradient></defs>
<rect x="383.1" y="789.6" width="23.7" height="25.0" fill="url(#gup)" stroke="none" stroke-width="0.8" />
<rect x="383.1" y="828.1" width="23.7" height="28.0" fill="url(#gdn)" stroke="none" stroke-width="0.8" />
<rect x="383.1" y="814.6" width="23.7" height="13.5" fill="#e3e3e3" stroke="none" stroke-width="0.8" />
<rect x="412.0" y="789.6" width="23.4" height="25.0" fill="url(#gup)" stroke="none" stroke-width="0.8" />
<rect x="412.0" y="828.1" width="23.4" height="22.0" fill="url(#gdn)" stroke="none" stroke-width="0.8" />
<rect x="412.0" y="814.6" width="23.4" height="13.5" fill="#e3e3e3" stroke="none" stroke-width="0.8" />
<rect x="441.2" y="814.7" width="23.4" height="2.0" fill="url(#gup)" stroke="none" stroke-width="0.8" />
<rect x="441.2" y="828.5" width="23.4" height="18.0" fill="url(#gdn)" stroke="none" stroke-width="0.8" />
<rect x="441.2" y="816.7" width="23.4" height="11.8" fill="#e3e3e3" stroke="none" stroke-width="0.8" />
<rect x="470.1" y="795.0" width="23.3" height="16.0" fill="url(#gup)" stroke="none" stroke-width="0.8" />
<rect x="470.1" y="827.2" width="23.3" height="10.0" fill="url(#gdn)" stroke="none" stroke-width="0.8" />
<rect x="470.1" y="811.0" width="23.3" height="16.2" fill="#e3e3e3" stroke="none" stroke-width="0.8" />
<rect x="499.2" y="812.5" width="23.5" height="3.0" fill="url(#gup)" stroke="none" stroke-width="0.8" />
<rect x="499.2" y="824.6" width="23.5" height="3.0" fill="url(#gdn)" stroke="none" stroke-width="0.8" />
<rect x="499.2" y="815.5" width="23.5" height="9.1" fill="#e3e3e3" stroke="none" stroke-width="0.8" />
<line x1="377.0" y1="814.6" x2="528.5" y2="814.6" stroke="#c8c8c8" stroke-width="0.7" stroke-dasharray="2,2"/>
<line x1="377.0" y1="828.5" x2="528.5" y2="828.5" stroke="#c8c8c8" stroke-width="0.7" stroke-dasharray="2,2"/>
<path d="M402 812.6h0M405.7 804.6h0M402.6 813.7h0M389.3 809.9h0M395.4 809.8h0M388.3 813.9h0M400.1 808.1h0M389.5 812.5h0M395.4 813.4h0M392.3 813h0M392.5 812.8h0M398.3 813h0M400.5 812.4h0M389.8 811.9h0M404 811.2h0M390.4 810.6h0M385.6 811h0M388.3 812.5h0M388 813.2h0M405.8 812.8h0M395.6 812.5h0M398.4 813.7h0M397.2 813.6h0M405.2 813.5h0M396.9 807.2h0M388.7 813.2h0M406.2 807.1h0M388.6 812.8h0M405.3 813.7h0M404.3 810h0M385.2 813.3h0M383.6 808h0M384.6 808.3h0M387.7 812.8h0M400 809.7h0M404.9 805.4h0M406.4 802.7h0M388.7 810.1h0M394.8 809.3h0M390 811.7h0M406.2 812.3h0M398.6 812.6h0M404.5 812.6h0M394.1 812.3h0M395.5 810.4h0M403.8 810.7h0M384 801.6h0M388.7 813.6h0M393 813.8h0M384.3 813.6h0M394.3 809.7h0M400.2 811.9h0M404.5 813.3h0M396.6 811.5h0M386.5 799.3h0M397 807.2h0M400.8 812.6h0M396.6 813.3h0M395.4 809.4h0M398.9 809.6h0M395.6 812.7h0M404.6 812.2h0M394.3 809.2h0M399.7 813.8h0M393.5 810.2h0M401.3 807.9h0M398.5 806.3h0M387.6 812.8h0M404.1 813.7h0M386.5 809.7h0M400.4 811.2h0M403.3 800.4h0M403.6 843.5h0M405.1 829.4h0M402.6 831.7h0M386.5 833.7h0M401.7 832.6h0M391.2 834.7h0M399.9 843.1h0M399.4 844.4h0M394.4 836.2h0M389.9 838.1h0M403.3 828.6h0M402.6 831.4h0M402.7 832.6h0M402.9 836.1h0M402.5 832.7h0M398.7 834h0M405.3 834.9h0M397.8 832.6h0M405.5 830.8h0M395.2 830.7h0M405.5 833.8h0M391.3 842h0M385.7 845.3h0M394.3 839.1h0M398.3 831.6h0M391.1 829h0M403.4 837.6h0M401.2 844.2h0M388.2 831.2h0M397.5 832.2h0M389.4 835.9h0M402.9 832.8h0M386 832.5h0M393.2 828.7h0M389 830h0M404.9 839.1h0M385.5 834.5h0M402.3 831.7h0M398.5 836h0M389.3 834.1h0M388.5 833.8h0M393.9 834.1h0M397.1 840.6h0M405.9 831.1h0M385.6 840.8h0M402.2 837.5h0M399.3 829.8h0M387 830.2h0M389 830.2h0M399.1 835.2h0M404.5 833.8h0M391.7 837.4h0M396.1 830.7h0M398 832.3h0M405.7 840.4h0M391.9 829.2h0M393.9 833.3h0M394.2 831.8h0M383.7 842.9h0M389.3 838.8h0M397.5 835.2h0M388.6 832h0M386 775.3h0M402 779.4h0M396.5 786.3h0M404 789h0M383.5 798.6h0M386 800h0M386 852h0M392 856.8h0M395 854.1h0M401 850.7h0M405 856.1h0M400 860.9h0M414 813.8h0M432.8 809.7h0M418.6 810.3h0M434.4 804.2h0M414.3 807.4h0M419.7 811.4h0M421.3 808.2h0M435.3 813.8h0M423.3 804.4h0M416.3 811.9h0M417.2 811.9h0M415.9 813h0M416.6 809.7h0M422.9 802.5h0M423.8 813.3h0M434.2 812.6h0M430.6 809.6h0M421.7 811.1h0M415.5 799.3h0M419.6 805h0M422.6 813.4h0M429.1 811.4h0M434.9 811.9h0M430.1 810.2h0M420.2 802h0M431.5 805.7h0M419.3 809.2h0M419.7 805.3h0M433 812.6h0M423.4 811.8h0M427 811.3h0M422.3 810.3h0M429.1 802.8h0M426.8 813.6h0M434.4 801.2h0M416 810.7h0M419.8 806.1h0M430.4 810.3h0M413 811.9h0M412.9 813.4h0M426.5 813.8h0M412.7 796.8h0M420.9 810.5h0M434 813h0M419.6 810.6h0M425.9 811.9h0M412.7 803.9h0M434.4 811.6h0M426.9 803.2h0M432.1 810.1h0M423.3 810.9h0M420.6 809.5h0M431 813.7h0M434.5 802.2h0M434 813.5h0M427.6 806.7h0M420.1 803.6h0M433.8 805.2h0M414.2 810.6h0M432.5 811.8h0M415.8 809.5h0M420.5 812.9h0M434.4 803.9h0M418.6 812.9h0M425 813.2h0M421.7 813h0M429.8 806.9h0M424.7 814h0M422.8 809.9h0M435.3 810.5h0M427.5 808.8h0M424.7 810.9h0M417.5 813h0M430.6 809.3h0M413.6 811.2h0M417.5 807.6h0M420.2 812.9h0M431.3 806.8h0M434.3 808.5h0M427.1 809.8h0M429.4 836.1h0M435.1 834.6h0M428.8 829.3h0M424.1 828.7h0M422.8 831.2h0M430.2 830.6h0M419 837.5h0M430.1 835.4h0M432.4 830.2h0M427.7 828.7h0M425.9 832.2h0M426.7 838.7h0M435.2 828.5h0M435.5 829.3h0M414.6 829h0M419.5 831.5h0M413.5 838h0M430.5 830.7h0M413 833.7h0M417.2 834.7h0M417.2 837.3h0M433.6 835.1h0M418.6 828.8h0M433.9 831.8h0M419.7 833.6h0M431.3 833.2h0M418.3 828.8h0M430.4 841.5h0M425.4 830.6h0M427.7 829.2h0M428.8 830h0M424.3 830.7h0M421.9 830.1h0M432.9 828.8h0M421.9 842.8h0M426.9 828.8h0M427.5 828.7h0M417.3 839.7h0M428.3 833h0M416.4 831.5h0M418.8 836.7h0M429.9 832.8h0M414.8 828.5h0M415.5 832.2h0M429.8 831.9h0M428 774.6h0M432 787.6h0M431 791.7h0M419 847.2h0M433 850.7h0M435.5 841.1h0M441.5 845.9h0M442.5 847.9h0M444.5 843.8h0M454 850.7h0M454.8 848.6h0M456 843.1h0M457.5 839h0M462 834.2h0M463 834.9h0M464 834.2h0M474.2 796.5h0M476.3 802h0M483.8 809.6h0M500.4 809.7h0M501.9 813.2h0M514.4 814.7h0M501.1 815h0M511.5 811.5h0M510.3 808.4h0M503.8 808.6h0M501.2 812.5h0M512.6 809h0M513.8 810.1h0M509 813.7h0M504.1 809.5h0M512.8 814.3h0M505 808.7h0M512.5 812.9h0M503.7 809.4h0M515.4 810.8h0M509.1 811.9h0M505.6 809.9h0M507.9 810h0M503.5 829.4h0" stroke="#1a3fc8" stroke-width="2.10" stroke-linecap="round" fill="none" />
<line x1="377.6" y1="769.1" x2="377.6" y2="867.4" stroke="#444" stroke-width="0.9" />
<line x1="377.1" y1="867.4" x2="527.6" y2="867.4" stroke="#444" stroke-width="0.9" />
<line x1="375.0" y1="793.8" x2="377.6" y2="793.8" stroke="#444" stroke-width="0.7" />
<text x="373.5" y="796.8" font-size="8.2" text-anchor="end" fill="#151515" >4</text>
<line x1="375.0" y1="821.2" x2="377.6" y2="821.2" stroke="#444" stroke-width="0.7" />
<text x="373.5" y="824.2" font-size="8.2" text-anchor="end" fill="#151515" >0</text>
<line x1="375.0" y1="848.6" x2="377.6" y2="848.6" stroke="#444" stroke-width="0.7" />
<text x="373.5" y="851.6" font-size="8.2" text-anchor="end" fill="#151515" >−4</text>
<line x1="395.0" y1="867.2" x2="395.0" y2="869.6" stroke="#444" stroke-width="0.7" />
<line x1="423.8" y1="867.2" x2="423.8" y2="869.6" stroke="#444" stroke-width="0.7" />
<line x1="453.0" y1="867.2" x2="453.0" y2="869.6" stroke="#444" stroke-width="0.7" />
<line x1="481.7" y1="867.2" x2="481.7" y2="869.6" stroke="#444" stroke-width="0.7" />
<line x1="511.0" y1="867.2" x2="511.0" y2="869.6" stroke="#444" stroke-width="0.7" />
<text x="395.4" y="878.8" font-size="8.2" text-anchor="middle" fill="#151515" >EGC</text>
<text x="423.8" y="878.8" font-size="8.2" text-anchor="middle" fill="#151515" >GC</text>
<text x="453.1" y="878.8" font-size="8.2" text-anchor="middle" fill="#151515" >HP</text>
<text x="481.6" y="878.8" font-size="8.2" text-anchor="middle" fill="#151515" >Metastasis</text>
<text x="522.3" y="878.8" font-size="8.2" text-anchor="middle" fill="#151515" >Recurrence</text>
<text transform="translate(359.0,820.6) rotate(-90)" font-size="8.2" text-anchor="middle" fill="#151515">Log<tspan font-size="5.1" dy="1.2">2</tspan><tspan dy="-1.2">(Fold Change)</tspan></text>
<text x="455.5" y="892.4" font-size="9.3" text-anchor="middle" fill="#151515" >Number of peptide genes share</text>
<text x="457.0" y="903.2" font-size="9.3" text-anchor="middle" fill="#151515" >by different items (Total:170)</text>
<rect x="382.5" y="909.0" width="10.1" height="9.9" fill="#3a7ab8" stroke="none" stroke-width="0.8" />
<text x="393.9" y="917.6" font-size="9.3" text-anchor="start" fill="#151515" >≥3 items</text>
<rect x="435.5" y="909.0" width="10.5" height="9.9" fill="#5ea8d8" stroke="none" stroke-width="0.8" />
<text x="447.8" y="917.6" font-size="9.3" text-anchor="start" fill="#151515" >2 items</text>
<rect x="483.0" y="909.0" width="9.9" height="9.9" fill="#9bd3ee" stroke="none" stroke-width="0.8" />
<text x="497.5" y="917.6" font-size="9.3" text-anchor="start" fill="#151515" >1 item</text>
<rect x="372.7" y="922.8" width="13.8" height="12.0" fill="#3a7ab8" stroke="none" stroke-width="0.8" />
<rect x="386.5" y="922.8" width="64.4" height="12.0" fill="#5ea8d8" stroke="none" stroke-width="0.8" />
<rect x="450.9" y="922.8" width="84.9" height="12.0" fill="#9bd3ee" stroke="none" stroke-width="0.8" />
<text x="380.4" y="931.3" font-size="9.3" text-anchor="middle" fill="#151515" >7</text>
<text x="415.6" y="931.3" font-size="9.3" text-anchor="middle" fill="#151515" >75</text>
<text x="492.3" y="931.3" font-size="9.3" text-anchor="middle" fill="#151515" >88</text>
<text x="558" y="742" font-size="11" font-weight="bold" fill="#111">l</text>
<text x="585.5" y="765.8" font-size="8.2" text-anchor="middle" fill="#151515" >CPAT &gt; 0.7</text>
<text x="649.0" y="765.8" font-size="8.2" text-anchor="middle" fill="#151515" >Domain mapped</text>
<g style="isolation:isolate">
<circle cx="643.7" cy="811.1" r="41.00" fill="#d9505a" stroke="none" stroke-width="0.8" fill-opacity="0.5"/>
<circle cx="602.4" cy="811.1" r="41.00" fill="#4f81bd" stroke="none" stroke-width="0.8" fill-opacity="0.5"/>
<circle cx="623.2" cy="846.4" r="41.00" fill="#eeaa66" stroke="none" stroke-width="0.8" fill-opacity="0.5"/>
</g>
<text x="582.3" y="802.9" font-size="8.2" text-anchor="middle" fill="#151515" >573</text>
<text x="622.1" y="800.7" font-size="8.2" text-anchor="middle" fill="#151515" >279</text>
<text x="653.9" y="802.9" font-size="8.2" text-anchor="middle" fill="#151515" >35</text>
<text x="623.2" y="826.6" font-size="8.2" text-anchor="middle" fill="#151515" >9</text>
<text x="598.2" y="838.8" font-size="8.2" text-anchor="middle" fill="#151515" >29</text>
<text x="643.7" y="838.8" font-size="8.2" text-anchor="middle" fill="#151515" >0</text>
<text x="623.2" y="866.8" font-size="8.2" text-anchor="middle" fill="#151515" >6</text>
<text x="625.3" y="899.2" font-size="8.2" text-anchor="middle" fill="#151515" >Drug resistance</text>
</svg></body></html>
